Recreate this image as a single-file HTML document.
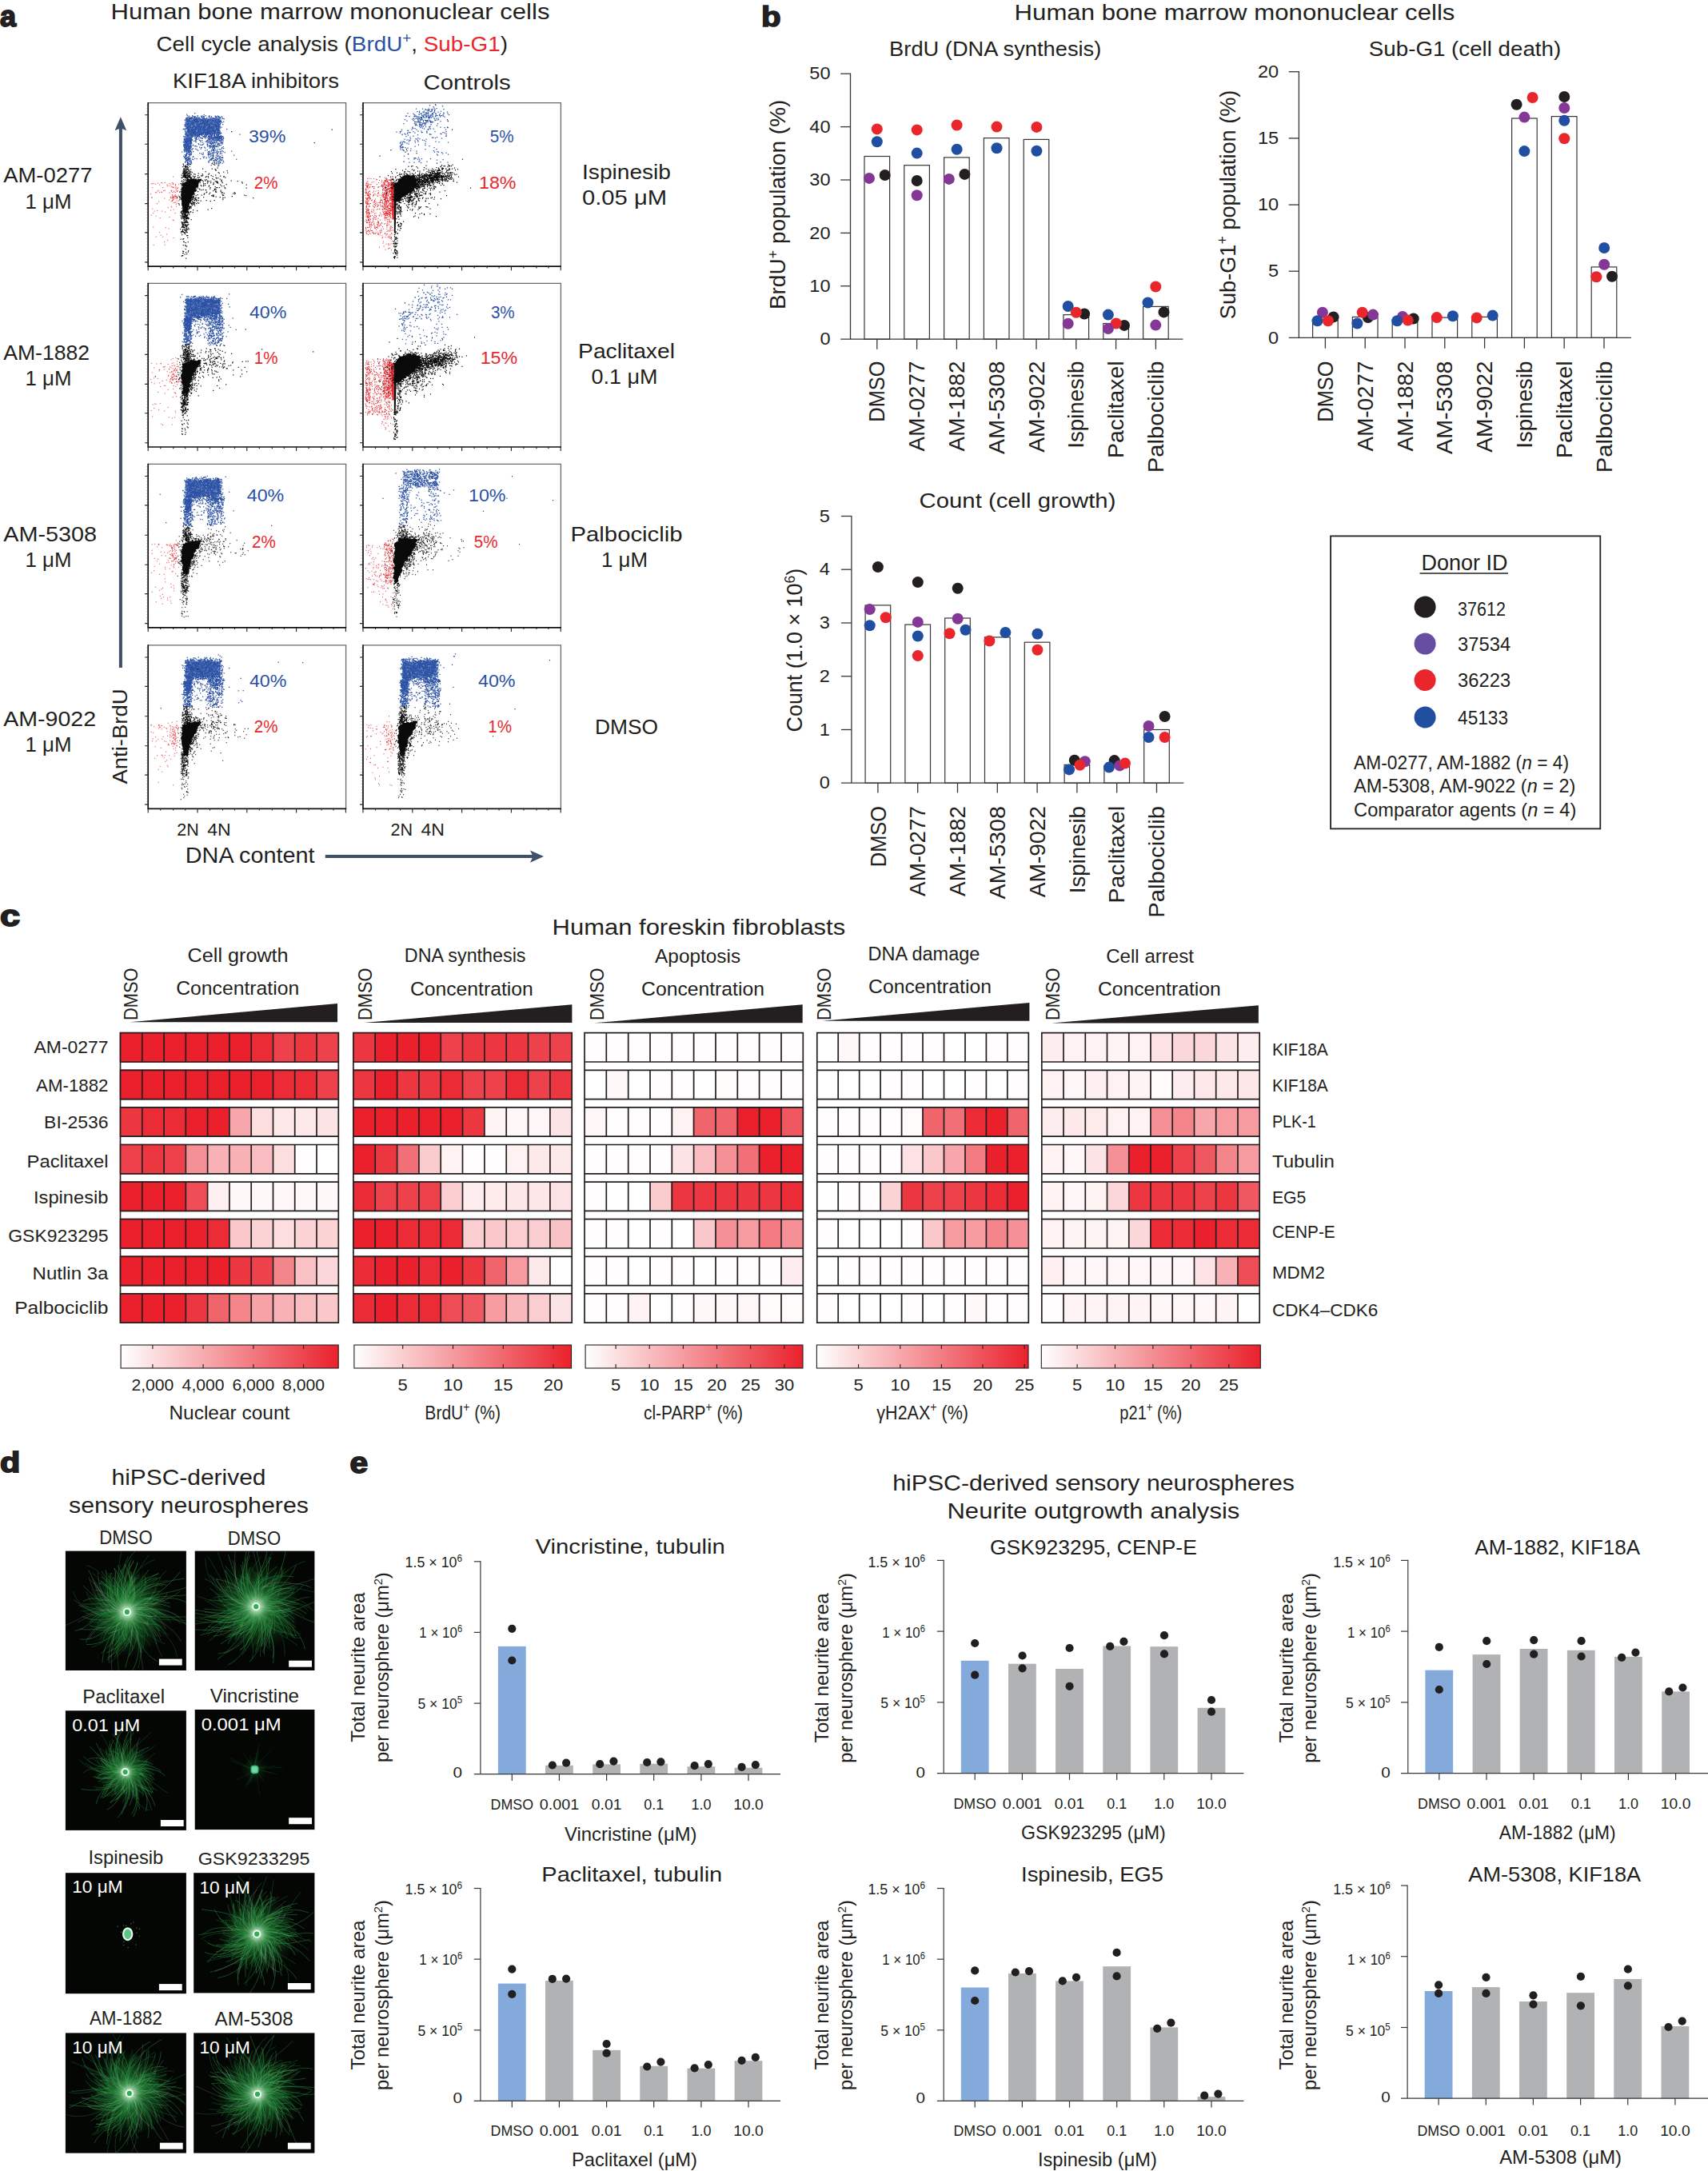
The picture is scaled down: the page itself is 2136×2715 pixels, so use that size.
<!DOCTYPE html>
<html><head><meta charset="utf-8"><title>Figure</title>
<style>html,body{margin:0;padding:0;background:#fff}svg{display:block}text{font-family:"Liberation Sans",sans-serif;fill:#231f20}</style>
</head><body>
<svg width="2136" height="2715" viewBox="0 0 2136 2715">
<rect width="2136" height="2715" fill="#fff"/>
<text transform="translate(0.0 32.7)" font-size="36" font-weight="bold" stroke="#231f20" stroke-width="1.8">a</text>
<text transform="translate(413.0 23.7) scale(1.090 1)" font-size="28.5" text-anchor="middle">Human bone marrow mononuclear cells</text>
<text transform="translate(195.5 64.3) scale(1.071 1)" font-size="26">Cell cycle analysis (<tspan fill="#2a50a4">BrdU</tspan><tspan fill="#2a50a4" dy="-10" font-size="68%">+</tspan><tspan dy="10">, </tspan><tspan fill="#e8262c">Sub-G1</tspan>)</text>
<text transform="translate(216.0 110.1) scale(1.059 1)" font-size="26">KIF18A inhibitors</text>
<text transform="translate(529.6 111.7) scale(1.126 1)" font-size="26">Controls</text>
<text transform="translate(4.2 228.2) scale(1.054 1)" font-size="26">AM-0277</text>
<text transform="translate(60.5 260.6) scale(0.994 1)" font-size="26" text-anchor="middle">1 μM</text>
<text transform="translate(4.2 449.5) scale(1.024 1)" font-size="26">AM-1882</text>
<text transform="translate(60.5 481.9) scale(0.994 1)" font-size="26" text-anchor="middle">1 μM</text>
<text transform="translate(4.2 677.0) scale(1.109 1)" font-size="26">AM-5308</text>
<text transform="translate(60.5 709.4) scale(0.994 1)" font-size="26" text-anchor="middle">1 μM</text>
<text transform="translate(4.2 907.8) scale(1.099 1)" font-size="26">AM-9022</text>
<text transform="translate(60.5 940.2) scale(0.994 1)" font-size="26" text-anchor="middle">1 μM</text>
<text transform="translate(783.5 224.0) scale(1.081 1)" font-size="26" text-anchor="middle">Ispinesib</text>
<text transform="translate(781.0 256.4) scale(1.122 1)" font-size="26" text-anchor="middle">0.05 μM</text>
<text transform="translate(783.5 447.9) scale(1.087 1)" font-size="26" text-anchor="middle">Paclitaxel</text>
<text transform="translate(781.0 480.3) scale(1.037 1)" font-size="26" text-anchor="middle">0.1 μM</text>
<text transform="translate(783.5 677.0) scale(1.126 1)" font-size="26" text-anchor="middle">Palbociclib</text>
<text transform="translate(781.0 709.4) scale(0.994 1)" font-size="26" text-anchor="middle">1 μM</text>
<text transform="translate(783.5 918.3) scale(1.013 1)" font-size="26" text-anchor="middle">DMSO</text>
<line x1="150.9" y1="158.0" x2="150.9" y2="835.0" stroke="#3e5168" stroke-width="4.0"/>
<path d="M150.9 146.3L158.2 163.2L150.9 160.2L143.6 163.2Z" fill="#3e5168"/>
<line x1="406.8" y1="1071.1" x2="667.0" y2="1071.1" stroke="#3e5168" stroke-width="4.0"/>
<path d="M680 1071.1L663 1078.7L666.5 1071.1L663 1063.5Z" fill="#3e5168"/>
<text transform="translate(159.1 921.0) rotate(-90) scale(1.056 1)" font-size="26" text-anchor="middle">Anti-BrdU</text>
<text transform="translate(231.8 1079.0) scale(1.068 1)" font-size="27">DNA content</text>
<text transform="translate(221.3 1044.8) scale(0.956 1)" font-size="22.5">2N</text>
<text transform="translate(259.2 1044.8) scale(1.026 1)" font-size="22.5">4N</text>
<text transform="translate(488.5 1044.8) scale(0.956 1)" font-size="22.5">2N</text>
<text transform="translate(526.4 1044.8) scale(1.026 1)" font-size="22.5">4N</text>
<rect x="185.2" y="128.6" width="247.4" height="204.6" fill="#fff"/>
<polygon points="234.0,148.8 234.8,149.0 237.4,147.3 240.6,147.1 241.0,149.7 243.8,148.3 244.8,147.2 246.4,148.9 249.5,148.7 251.9,148.4 254.5,148.2 255.2,147.2 256.8,148.4 260.7,148.1 260.2,149.6 262.3,149.8 264.0,149.9 266.5,147.2 268.8,147.3 270.7,149.7 272.7,147.1 274.2,149.7 276.6,150.0 275.7,151.2 276.2,155.1 275.5,155.4 275.4,159.4 274.6,161.7 274.6,162.2 276.5,165.3 277.5,167.9 275.3,165.9 272.5,167.6 269.6,167.6 268.2,168.6 264.4,167.1 263.0,167.6 262.9,166.6 258.9,168.5 257.8,167.9 255.5,167.0 253.4,168.7 251.8,170.1 250.8,169.1 246.6,169.8 245.2,169.9 242.3,170.2 241.7,169.4 241.8,170.4 240.0,173.3 238.6,175.6 238.8,177.9 237.5,181.2 239.8,182.2 238.8,183.2 238.2,185.1 237.0,188.1 235.5,189.8 232.5,189.4 230.6,187.8 232.5,185.2 232.3,183.1 230.7,181.5 232.1,180.2 230.6,177.8 232.7,175.8 231.6,173.3 231.4,171.6 232.2,171.6 231.7,168.8 231.1,167.3 231.5,165.5 233.9,163.3 232.6,159.4 232.6,157.1 233.1,157.5 232.0,153.4 234.2,153.7 232.6,149.5" fill="#2a50a4" opacity="0.7"/>
<path transform="translate(185.2 128.6) scale(.5)" d="M0 0m117 26h0m-20 3h0m43 1h0m-42 2h0m13 0h0m13 0h0m20 0h0m-42 1h0m31 0h0m3 0h0m16 0h0m1 0h0m1 0h0m14 0h0m6 0h0m-62 1h0m4 0h0m17 0h0m6 0h0m20 0h0m10 0h0m8 0h0m7 0h0m-80 1h0m12 0h0m1 0h0m1 0h0m1 0h0m5 0h0m15 0h0m2 0h0m13 0h0m18 0h0m4 0h0m-76 1h0m10 0h0m4 0h0m21 0h0m34 0h0m2 0h0m8 0h0m-81 1h0m8 0h0m3 0h0m6 0h0m2 0h0m5 0h0m4 0h0m3 0h0m5 0h0m2 0h0m1 0h0m10 0h0m5 0h0m6 0h0m12 0h0m6 0h0m5 0h0m5 0h0m-90 1h0m1 0h0m5 0h0m5 0h0m3 0h0m10 0h0m1 0h0m6 0h0m13 0h0m18 0h0m3 0h0m1 0h0m20 0h0m-87 1h0m8 0h0m1 0h0m1 0h0m2 0h0m2 0h0m1 0h0m45 0h0m1 0h0m8 0h0m3 0h0m7 0h0m5 0h0m-81 1h0m10 0h0m5 0h0m1 0h0m2 0h0m3 0h0m3 0h0m2 0h0m1 0h0m3 0h0m3 0h0m6 0h0m2 0h0m2 0h0m1 0h0m2 0h0m1 0h0m1 0h0m10 0h0m8 0h0m2 0h0m1 0h0m3 0h0m1 0h0m3 0h0m13 0h0m3 0h0m-95 1h0m2 0h0m1 0h0m3 0h0m2 0h0m1 0h0m11 0h0m5 0h0m1 0h0m30 0h0m1 0h0m7 0h0m11 0h0m4 0h0m2 0h0m3 0h0m-75 1h0m10 0h0m2 0h0m1 0h0m3 0h0m2 0h0m4 0h0m1 0h0m1 0h0m5 0h0m2 0h0m15 0h0m4 0h0m2 0h0m21 0h0m-85 1h0m6 0h0m1 0h0m16 0h0m7 0h0m9 0h0m3 0h0m1 0h0m1 0h0m4 0h0m4 0h0m5 0h0m7 0h0m1 0h0m5 0h0m7 0h0m1 0h0m12 0h0m-88 1h0m9 0h0m9 0h0m2 0h0m5 0h0m17 0h0m1 0h0m1 0h0m5 0h0m1 0h0m7 0h0m10 0h0m1 0h0m2 0h0m1 0h0m5 0h0m6 0h0m-80 1h0m4 0h0m15 0h0m2 0h0m1 0h0m3 0h0m2 0h0m1 0h0m10 0h0m1 0h0m3 0h0m10 0h0m2 0h0m1 0h0m1 0h0m6 0h0m4 0h0m6 0h0m2 0h0m4 0h0m5 0h0m-81 1h0m2 0h0m3 0h0m2 0h0m5 0h0m6 0h0m2 0h0m4 0h0m3 0h0m2 0h0m3 0h0m1 0h0m3 0h0m6 0h0m3 0h0m3 0h0m2 0h0m1 0h0m12 0h0m3 0h0m4 0h0m7 0h0m2 0h0m5 0h0m-77 1h0m3 0h0m11 0h0m2 0h0m2 0h0m1 0h0m2 0h0m11 0h0m9 0h0m4 0h0m5 0h0m17 0h0m5 0h0m3 0h0m3 0h0m6 0h0m-95 1h0m3 0h0m3 0h0m6 0h0m5 0h0m2 0h0m1 0h0m5 0h0m3 0h0m1 0h0m14 0h0m3 0h0m6 0h0m1 0h0m2 0h0m5 0h0m13 0h0m3 0h0m9 0h0m1 0h0m2 0h0m-88 1h0m5 0h0m10 0h0m5 0h0m4 0h0m5 0h0m16 0h0m4 0h0m3 0h0m1 0h0m2 0h0m10 0h0m1 0h0m6 0h0m1 0h0m4 0h0m1 0h0m4 0h0m9 0h0m-72 1h0m1 0h0m4 0h0m6 0h0m1 0h0m6 0h0m4 0h0m1 0h0m6 0h0m14 0h0m1 0h0m4 0h0m-67 1h0m1 0h0m7 0h0m6 0h0m3 0h0m11 0h0m12 0h0m1 0h0m1 0h0m3 0h0m5 0h0m3 0h0m2 0h0m7 0h0m5 0h0m11 0h0m1 0h0m3 0h0m-78 1h0m3 0h0m2 0h0m10 0h0m2 0h0m7 0h0m8 0h0m2 0h0m2 0h0m1 0h0m4 0h0m1 0h0m12 0h0m6 0h0m1 0h0m15 0h0m7 0h0m-84 1h0m1 0h0m1 0h0m2 0h0m6 0h0m3 0h0m2 0h0m10 0h0m4 0h0m1 0h0m1 0h0m12 0h0m1 0h0m1 0h0m1 0h0m1 0h0m1 0h0m7 0h0m5 0h0m8 0h0m3 0h0m6 0h0m-82 1h0m2 0h0m3 0h0m7 0h0m3 0h0m6 0h0m8 0h0m5 0h0m1 0h0m1 0h0m1 0h0m1 0h0m4 0h0m8 0h0m4 0h0m3 0h0m5 0h0m6 0h0m2 0h0m3 0h0m11 0h0m11 0h0m-95 1h0m5 0h0m2 0h0m8 0h0m4 0h0m17 0h0m1 0h0m6 0h0m6 0h0m6 0h0m1 0h0m1 0h0m3 0h0m14 0h0m2 0h0m3 0h0m2 0h0m4 0h0m3 0h0m-66 1h0m9 0h0m1 0h0m29 0h0m1 0h0m1 0h0m12 0h0m2 0h0m1 0h0m1 0h0m6 0h0m-83 1h0m8 0h0m1 0h0m1 0h0m12 0h0m8 0h0m3 0h0m2 0h0m10 0h0m3 0h0m3 0h0m2 0h0m2 0h0m3 0h0m12 0h0m8 0h0m-80 1h0m3 0h0m10 0h0m9 0h0m11 0h0m8 0h0m8 0h0m13 0h0m15 0h0m2 0h0m1 0h0m1 0h0m3 0h0m-82 1h0m5 0h0m1 0h0m1 0h0m5 0h0m15 0h0m5 0h0m6 0h0m1 0h0m1 0h0m8 0h0m1 0h0m9 0h0m2 0h0m4 0h0m1 0h0m6 0h0m7 0h0m7 0h0m-80 1h0m6 0h0m8 0h0m3 0h0m2 0h0m4 0h0m1 0h0m5 0h0m1 0h0m3 0h0m5 0h0m3 0h0m11 0h0m2 0h0m2 0h0m5 0h0m1 0h0m2 0h0m6 0h0m2 0h0m4 0h0m1 0h0m2 0h0m2 0h0m-83 1h0m3 0h0m3 0h0m2 0h0m5 0h0m8 0h0m2 0h0m2 0h0m5 0h0m1 0h0m6 0h0m1 0h0m7 0h0m1 0h0m8 0h0m4 0h0m8 0h0m4 0h0m17 0h0m-88 1h0m5 0h0m5 0h0m1 0h0m5 0h0m1 0h0m6 0h0m1 0h0m1 0h0m1 0h0m11 0h0m5 0h0m3 0h0m2 0h0m7 0h0m1 0h0m2 0h0m4 0h0m1 0h0m1 0h0m3 0h0m1 0h0m13 0h0m-78 1h0m25 0h0m2 0h0m5 0h0m1 0h0m10 0h0m6 0h0m2 0h0m6 0h0m3 0h0m2 0h0m1 0h0m2 0h0m8 0h0m1 0h0m4 0h0m5 0h0m-87 1h0m3 0h0m6 0h0m7 0h0m8 0h0m2 0h0m5 0h0m5 0h0m6 0h0m1 0h0m1 0h0m1 0h0m1 0h0m10 0h0m5 0h0m1 0h0m3 0h0m2 0h0m4 0h0m8 0h0m4 0h0m-87 1h0m5 0h0m5 0h0m10 0h0m11 0h0m6 0h0m5 0h0m5 0h0m12 0h0m3 0h0m8 0h0m4 0h0m9 0h0m-85 1h0m13 0h0m2 0h0m6 0h0m4 0h0m1 0h0m1 0h0m1 0h0m2 0h0m3 0h0m5 0h0m2 0h0m2 0h0m8 0h0m4 0h0m1 0h0m1 0h0m5 0h0m6 0h0m15 0h0m1 0h0m4 0h0m1 0h0m21 0h0m-105 1h0m14 0h0m2 0h0m5 0h0m6 0h0m1 0h0m1 0h0m16 0h0m3 0h0m1 0h0m2 0h0m3 0h0m1 0h0m1 0h0m3 0h0m4 0h0m6 0h0m13 0h0m-81 1h0m6 0h0m1 0h0m1 0h0m2 0h0m7 0h0m3 0h0m5 0h0m1 0h0m7 0h0m7 0h0m6 0h0m6 0h0m3 0h0m7 0h0m5 0h0m3 0h0m2 0h0m4 0h0m4 0h0m4 0h0m2 0h0m-80 1h0m1 0h0m1 0h0m1 0h0m6 0h0m4 0h0m1 0h0m3 0h0m9 0h0m3 0h0m2 0h0m1 0h0m3 0h0m8 0h0m5 0h0m1 0h0m1 0h0m5 0h0m1 0h0m1 0h0m5 0h0m1 0h0m5 0h0m2 0h0m5 0h0m1 0h0m2 0h0m-79 1h0m5 0h0m9 0h0m4 0h0m9 0h0m13 0h0m4 0h0m6 0h0m4 0h0m1 0h0m1 0h0m2 0h0m2 0h0m2 0h0m1 0h0m2 0h0m2 0h0m10 0h0m-82 1h0m6 0h0m6 0h0m4 0h0m2 0h0m1 0h0m1 0h0m3 0h0m2 0h0m8 0h0m1 0h0m3 0h0m11 0h0m7 0h0m2 0h0m1 0h0m3 0h0m5 0h0m1 0h0m6 0h0m3 0h0m-76 1h0m7 0h0m2 0h0m1 0h0m1 0h0m1 0h0m2 0h0m1 0h0m5 0h0m1 0h0m3 0h0m2 0h0m6 0h0m8 0h0m5 0h0m1 0h0m9 0h0m1 0h0m2 0h0m3 0h0m9 0h0m2 0h0m1 0h0m1 0h0m2 0h0m-69 1h0m7 0h0m4 0h0m3 0h0m1 0h0m1 0h0m10 0h0m13 0h0m1 0h0m2 0h0m1 0h0m1 0h0m1 0h0m4 0h0m1 0h0m3 0h0m4 0h0m11 0h0m5 0h0m2 0h0m3 0h0m1 0h0m-79 1h0m2 0h0m11 0h0m1 0h0m3 0h0m5 0h0m1 0h0m5 0h0m1 0h0m5 0h0m4 0h0m7 0h0m2 0h0m3 0h0m2 0h0m6 0h0m9 0h0m7 0h0m-79 1h0m14 0h0m5 0h0m1 0h0m6 0h0m4 0h0m4 0h0m2 0h0m2 0h0m5 0h0m4 0h0m1 0h0m2 0h0m1 0h0m5 0h0m1 0h0m2 0h0m5 0h0m1 0h0m5 0h0m12 0h0m1 0h0m-74 1h0m2 0h0m1 0h0m1 0h0m3 0h0m2 0h0m3 0h0m2 0h0m1 0h0m13 0h0m4 0h0m1 0h0m1 0h0m7 0h0m1 0h0m1 0h0m1 0h0m1 0h0m3 0h0m5 0h0m14 0h0m11 0h0m1 0h0m-87 1h0m10 0h0m6 0h0m2 0h0m4 0h0m1 0h0m3 0h0m11 0h0m1 0h0m4 0h0m1 0h0m4 0h0m8 0h0m1 0h0m1 0h0m9 0h0m4 0h0m2 0h0m5 0h0m3 0h0m2 0h0m3 0h0m-76 1h0m2 0h0m9 0h0m3 0h0m8 0h0m3 0h0m3 0h0m1 0h0m3 0h0m1 0h0m6 0h0m4 0h0m2 0h0m1 0h0m3 0h0m1 0h0m2 0h0m3 0h0m2 0h0m16 0h0m2 0h0m-87 1h0m2 0h0m1 0h0m4 0h0m5 0h0m4 0h0m6 0h0m3 0h0m5 0h0m3 0h0m1 0h0m2 0h0m2 0h0m1 0h0m6 0h0m4 0h0m1 0h0m18 0h0m4 0h0m7 0h0m3 0h0m55 0h0m-131 1h0m10 0h0m2 0h0m7 0h0m5 0h0m4 0h0m3 0h0m4 0h0m10 0h0m2 0h0m1 0h0m2 0h0m7 0h0m1 0h0m1 0h0m8 0h0m5 0h0m1 0h0m5 0h0m-74 1h0m5 0h0m1 0h0m1 0h0m2 0h0m8 0h0m3 0h0m2 0h0m3 0h0m13 0h0m6 0h0m5 0h0m1 0h0m5 0h0m1 0h0m1 0h0m6 0h0m1 0h0m6 0h0m-75 1h0m2 0h0m2 0h0m5 0h0m10 0h0m1 0h0m6 0h0m1 0h0m10 0h0m23 0h0m3 0h0m4 0h0m9 0h0m3 0h0m5 0h0m-85 1h0m1 0h0m4 0h0m6 0h0m4 0h0m11 0h0m1 0h0m2 0h0m2 0h0m15 0h0m3 0h0m8 0h0m3 0h0m8 0h0m1 0h0m5 0h0m2 0h0m2 0h0m7 0h0m1 0h0m-94 1h0m3 0h0m7 0h0m11 0h0m5 0h0m11 0h0m11 0h0m3 0h0m6 0h0m5 0h0m2 0h0m1 0h0m4 0h0m1 0h0m1 0h0m6 0h0m2 0h0m7 0h0m3 0h0m1 0h0m1 0h0m6 0h0m-67 1h0m2 0h0m1 0h0m2 0h0m5 0h0m10 0h0m3 0h0m2 0h0m7 0h0m3 0h0m1 0h0m4 0h0m8 0h0m1 0h0m9 0h0m2 0h0m2 0h0m2 0h0m5 0h0m-96 1h0m13 0h0m15 0h0m32 0h0m2 0h0m5 0h0m5 0h0m3 0h0m2 0h0m2 0h0m2 0h0m2 0h0m3 0h0m5 0h0m2 0h0m-85 1h0m10 0h0m7 0h0m14 0h0m11 0h0m6 0h0m5 0h0m4 0h0m1 0h0m4 0h0m1 0h0m4 0h0m2 0h0m1 0h0m2 0h0m7 0h0m6 0h0m-84 1h0m1 0h0m4 0h0m1 0h0m14 0h0m11 0h0m2 0h0m22 0h0m4 0h0m2 0h0m1 0h0m2 0h0m1 0h0m1 0h0m1 0h0m2 0h0m1 0h0m1 0h0m1 0h0m2 0h0m1 0h0m1 0h0m2 0h0m1 0h0m3 0h0m6 0h0m-99 1h0m5 0h0m2 0h0m1 0h0m1 0h0m6 0h0m1 0h0m1 0h0m1 0h0m19 0h0m17 0h0m7 0h0m7 0h0m1 0h0m1 0h0m4 0h0m2 0h0m3 0h0m10 0h0m2 0h0m1 0h0m-88 1h0m4 0h0m8 0h0m12 0h0m3 0h0m31 0h0m2 0h0m6 0h0m3 0h0m11 0h0m5 0h0m3 0h0m1 0h0m5 0h0m-97 1h0m3 0h0m4 0h0m4 0h0m1 0h0m1 0h0m3 0h0m1 0h0m12 0h0m3 0h0m28 0h0m2 0h0m1 0h0m1 0h0m1 0h0m7 0h0m7 0h0m2 0h0m3 0h0m2 0h0m2 0h0m4 0h0m2 0h0m2 0h0m-96 1h0m2 0h0m2 0h0m4 0h0m2 0h0m4 0h0m3 0h0m1 0h0m1 0h0m44 0h0m7 0h0m5 0h0m12 0h0m7 0h0m-95 1h0m1 0h0m4 0h0m11 0h0m3 0h0m2 0h0m9 0h0m8 0h0m21 0h0m5 0h0m6 0h0m3 0h0m5 0h0m4 0h0m4 0h0m8 0h0m-94 1h0m7 0h0m5 0h0m1 0h0m3 0h0m1 0h0m3 0h0m8 0h0m12 0h0m5 0h0m39 0h0m7 0h0m3 0h0m-92 1h0m1 0h0m3 0h0m4 0h0m1 0h0m2 0h0m2 0h0m1 0h0m1 0h0m1 0h0m23 0h0m16 0h0m2 0h0m3 0h0m4 0h0m2 0h0m6 0h0m3 0h0m3 0h0m2 0h0m5 0h0m1 0h0m2 0h0m5 0h0m3 0h0m-95 1h0m2 0h0m3 0h0m2 0h0m1 0h0m6 0h0m8 0h0m34 0h0m8 0h0m15 0h0m-76 1h0m1 0h0m1 0h0m1 0h0m1 0h0m5 0h0m2 0h0m12 0h0m1 0h0m24 0h0m2 0h0m1 0h0m5 0h0m6 0h0m1 0h0m3 0h0m18 0h0m-92 1h0m3 0h0m2 0h0m1 0h0m1 0h0m1 0h0m1 0h0m4 0h0m5 0h0m3 0h0m11 0h0m12 0h0m22 0h0m12 0h0m18 0h0m-94 1h0m3 0h0m1 0h0m1 0h0m1 0h0m2 0h0m7 0h0m1 0h0m3 0h0m28 0h0m30 0h0m4 0h0m1 0h0m10 0h0m-89 1h0m3 0h0m11 0h0m43 0h0m6 0h0m5 0h0m1 0h0m1 0h0m1 0h0m3 0h0m1 0h0m16 0h0m1 0h0m2 0h0m-91 1h0m1 0h0m1 0h0m6 0h0m44 0h0m6 0h0m4 0h0m4 0h0m12 0h0m3 0h0m-76 1h0m5 0h0m3 0h0m17 0h0m30 0h0m2 0h0m2 0h0m3 0h0m19 0h0m-92 1h0m2 0h0m6 0h0m9 0h0m32 0h0m20 0h0m10 0h0m6 0h0m1 0h0m2 0h0m8 0h0m-96 1h0m1 0h0m3 0h0m6 0h0m6 0h0m21 0h0m9 0h0m12 0h0m1 0h0m-60 1h0m3 0h0m4 0h0m6 0h0m11 0h0m18 0h0m27 0h0m7 0h0m8 0h0m-81 1h0m2 0h0m5 0h0m8 0h0m28 0h0m13 0h0m14 0h0m13 0h0m3 0h0m4 0h0m-93 1h0m3 0h0m8 0h0m12 0h0m40 0h0m2 0h0m2 0h0m7 0h0m4 0h0m12 0h0m-88 1h0m4 0h0m1 0h0m2 0h0m6 0h0m2 0h0m2 0h0m9 0h0m2 0h0m34 0h0m3 0h0m6 0h0m4 0h0m4 0h0m-76 1h0m3 0h0m3 0h0m6 0h0m16 0h0m27 0h0m5 0h0m4 0h0m1 0h0m4 0h0m1 0h0m1 0h0m3 0h0m4 0h0m-82 1h0m12 0h0m1 0h0m2 0h0m66 0h0m4 0h0m13 0h0m-97 1h0m2 0h0m2 0h0m1 0h0m1 0h0m5 0h0m5 0h0m1 0h0m21 0h0m12 0h0m15 0h0m4 0h0m2 0h0m1 0h0m1 0h0m-71 1h0m8 0h0m2 0h0m30 0h0m1 0h0m32 0h0m19 0h0m-94 1h0m4 0h0m1 0h0m7 0h0m4 0h0m36 0h0m11 0h0m1 0h0m30 0h0m-85 1h0m2 0h0m1 0h0m2 0h0m7 0h0m49 0h0m5 0h0m1 0h0m22 0h0m-97 1h0m1 0h0m3 0h0m1 0h0m4 0h0m3 0h0m1 0h0m14 0h0m13 0h0m52 0h0m-91 1h0m5 0h0m6 0h0m1 0h0m58 0h0m2 0h0m13 0h0m-88 1h0m6 0h0m1 0h0m1 0h0m4 0h0m4 0h0m3 0h0m2 0h0m11 0h0m42 0h0m9 0h0m8 0h0m-90 1h0m57 0h0m11 0h0m1 0h0m3 0h0m5 0h0m-78 1h0m6 0h0m2 0h0m3 0h0m24 0h0m18 0h0m-48 1h0m7 0h0m2 0h0m1 0h0m1 0h0m57 0h0m2 0h0m7 0h0m14 0h0m-94 1h0m3 0h0m6 0h0m1 0h0m53 0h0m4 0h0m6 0h0m18 0h0m26 0h0m-108 1h0m3 0h0m2 0h0m1 0h0m1 0h0m5 0h0m38 0h0m23 0h0m6 0h0m8 0h0m-103 1h0m6 0h0m6 0h0m1 0h0m3 0h0m52 0h0m17 0h0m6 0h0m-79 1h0m5 0h0m1 0h0m1 0h0m60 0h0m28 0h0m-91 1h0m7 0h0m1 0h0m29 0h0m12 0h0m4 0h0m7 0h0m6 0h0m5 0h0m9 0h0m-85 1h0m2 0h0m31 0h0m29 0h0m3 0h0m2 0h0m11 0h0m10 0h0m-88 1h0m1 0h0m8 0h0m3 0h0m25 0h0m18 0h0m5 0h0m18 0h0m-72 1h0m3 0h0m68 0h0m7 0h0m-83 1h0m8 0h0m1 0h0m30 0h0m2 0h0m12 0h0m3 0h0m10 0h0m-71 1h0m3 0h0m2 0h0m5 0h0m1 0h0m5 0h0m42 0h0m5 0h0m8 0h0m-68 1h0m56 0h0m7 0h0m3 0h0m9 0h0m4 0h0m11 0h0m30 0h0m-120 1h0m10 0h0m58 0h0m-70 1h0m3 0h0m68 0h0m10 0h0m3 0h0m-88 1h0m4 0h0m1 0h0m8 0h0m11 0h0m44 0h0m5 0h0m11 0h0m7 0h0m-87 1h0m10 0h0m35 0h0m3 0h0m11 0h0m-61 1h0m7 0h0m14 0h0m57 0h0m11 0h0m5 0h0m-93 1h0m8 0h0m1 0h0m45 0h0m7 0h0m18 0h0m7 0h0m6 0h0m3 0h0m-92 1h0m2 0h0m5 0h0m37 0h0m7 0h0m15 0h0m25 0h0m-92 1h0m1 0h0m8 0h0m3 0h0m11 0h0m41 0h0m6 0h0m11 0h0m3 0h0m3 0h0m-88 1h0m2 0h0m1 0h0m5 0h0m1 0h0m1 0h0m1 0h0m18 0h0m9 0h0m29 0h0m1 0h0m12 0h0m-79 1h0m4 0h0m13 0h0m45 0h0m3 0h0m9 0h0m2 0h0m51 0h0m-122 1h0m1 0h0m1 0h0m1 0h0m11 0h0m43 0h0m12 0h0m6 0h0m6 0h0m5 0h0m-90 1h0m9 0h0m2 0h0m49 0h0m3 0h0m1 0h0m23 0h0m-86 1h0m1 0h0m1 0h0m2 0h0m65 0h0m1 0h0m4 0h0m14 0h0m-89 1h0m13 0h0m45 0h0m10 0h0m16 0h0m9 0h0m-86 1h0m72 0h0m3 0h0m-83 1h0m4 0h0m6 0h0m2 0h0m45 0h0m-58 1h0m5 0h0m10 0h0m72 0h0m1 0h0m8 0h0m-96 1h0m6 0h0m9 0h0m44 0h0m-53 1h0m63 0h0m9 0h0m5 0h0m5 0h0m-80 1h0m1 0h0m4 0h0m3 0h0m63 0h0m6 0h0m8 0h0m-88 2h0m4 0h0m1 0h0m69 0h0m5 0h0m-77 1h0m7 0h0m-13 2h0m64 0h0m19 0h0" stroke="#2a50a4" stroke-width="2.5" stroke-linecap="square" fill="none"/>
<polygon points="228.2,228.1 229.3,228.9 231.6,227.7 233.9,227.4 234.3,225.4 237.2,224.8 238.3,225.0 239.8,225.0 241.0,225.0 242.5,224.5 245.6,224.3 247.1,225.1 247.8,223.5 249.7,223.9 252.1,223.6 251.6,226.0 250.7,227.2 248.8,228.0 248.2,231.2 248.1,232.3 248.4,233.3 246.5,233.9 244.6,236.1 245.5,238.5 244.0,239.9 242.7,239.6 243.1,242.2 240.7,244.7 240.0,244.4 241.0,247.1 239.7,247.9 237.9,249.8 239.2,252.1 238.2,252.3 236.6,255.4 236.9,256.7 235.6,259.3 235.5,260.3 236.0,261.6 234.6,263.6 235.1,264.6 234.7,265.9 232.6,265.7 231.6,266.2 230.6,266.5 229.8,263.7 228.0,261.3 229.2,261.5 228.1,258.5 227.6,257.5 227.1,256.4 227.1,254.0 227.2,253.1 227.1,250.9 225.9,247.8 226.7,247.4 227.2,246.0 226.0,243.0 226.7,241.4 226.5,240.5 227.6,238.0 226.5,237.9 226.8,234.6 228.6,233.6 227.4,231.3 227.3,230.2" fill="#0a0a0a"/>
<path transform="translate(185.2 128.6) scale(.5)" d="M0 0m460 67h0m-251 5h0m-73 17h0m280 11h0m-254 37h0m8 8h0m-4 3h0m-67 2h0m68 1h0m-7 1h0m-72 1h0m0 1h0m10 0h0m7 0h0m59 0h0m3 1h0m-67 1h0m-11 1h0m5 1h0m81 0h0m-83 1h0m1 0h0m1 0h0m4 0h0m6 0h0m-17 1h0m5 0h0m4 0h0m-2 1h0m1 0h0m4 0h0m-4 1h0m5 0h0m0 1h0m74 0h0m-84 1h0m0 1h0m3 0h0m3 0h0m3 0h0m38 0h0m23 0h0m-71 1h0m9 0h0m1 0h0m69 0h0m-73 1h0m3 0h0m4 0h0m5 0h0m-16 1h0m10 0h0m68 0h0m-81 1h0m3 0h0m2 0h0m77 0h0m-78 1h0m4 0h0m6 0h0m96 0h0m-107 1h0m11 0h0m2 0h0m-16 1h0m5 0h0m5 0h0m9 0h0m37 0h0m-54 1h0m5 0h0m4 0h0m90 0h0m-101 1h0m2 0h0m1 0h0m6 0h0m8 0h0m5 0h0m66 0h0m-85 1h0m3 0h0m2 0h0m1 0h0m5 0h0m97 0h0m-108 1h0m4 0h0m6 0h0m77 0h0m-92 1h0m1 0h0m1 0h0m3 0h0m1 0h0m1 0h0m7 0h0m4 0h0m1 0h0m21 0h0m27 0h0m-64 1h0m1 0h0m1 0h0m2 0h0m1 0h0m5 0h0m1 0h0m4 0h0m11 0h0m21 0h0m-45 1h0m6 0h0m3 0h0m4 0h0m4 0h0m10 0h0m33 0h0m-61 1h0m1 0h0m1 0h0m1 0h0m7 0h0m-16 1h0m8 0h0m5 0h0m8 0h0m32 0h0m32 0h0m-81 1h0m1 0h0m1 0h0m1 0h0m1 0h0m2 0h0m1 0h0m4 0h0m1 0h0m3 0h0m2 0h0m20 0h0m8 0h0m25 0h0m-68 1h0m1 0h0m3 0h0m11 0h0m7 0h0m23 0h0m46 0h0m-92 1h0m3 0h0m1 0h0m7 0h0m2 0h0m16 0h0m28 0h0m4 0h0m12 0h0m28 0h0m-104 1h0m9 0h0m1 0h0m1 0h0m6 0h0m1 0h0m11 0h0m74 0h0m-100 1h0m1 0h0m2 0h0m2 0h0m2 0h0m2 0h0m2 0h0m1 0h0m5 0h0m9 0h0m14 0h0m15 0h0m-60 1h0m10 0h0m1 0h0m1 0h0m8 0h0m2 0h0m3 0h0m7 0h0m8 0h0m2 0h0m25 0h0m19 0h0m23 0h0m-108 1h0m8 0h0m2 0h0m4 0h0m76 0h0m-69 1h0m2 0h0m1 0h0m62 0h0m-74 1h0m3 0h0m6 0h0m8 0h0m47 0h0m-64 1h0m1 0h0m1 0h0m11 0h0m3 0h0m4 0h0m2 0h0m2 0h0m59 0h0m-91 1h0m4 0h0m7 0h0m2 0h0m3 0h0m3 0h0m1 0h0m2 0h0m2 0h0m2 0h0m17 0h0m14 0h0m19 0h0m-67 1h0m1 0h0m4 0h0m3 0h0m6 0h0m2 0h0m2 0h0m9 0h0m8 0h0m9 0h0m42 0h0m-90 1h0m3 0h0m2 0h0m2 0h0m14 0h0m8 0h0m13 0h0m-51 1h0m5 0h0m9 0h0m7 0h0m6 0h0m4 0h0m2 0h0m26 0h0m5 0h0m34 0h0m25 0h0m-111 1h0m1 0h0m54 0h0m5 0h0m11 0h0m4 0h0m52 0h0m-140 1h0m13 0h0m3 0h0m1 0h0m8 0h0m4 0h0m4 0h0m2 0h0m19 0h0m33 0h0m14 0h0m-97 1h0m7 0h0m6 0h0m7 0h0m1 0h0m9 0h0m2 0h0m4 0h0m14 0h0m11 0h0m25 0h0m61 0h0m-141 1h0m5 0h0m10 0h0m2 0h0m3 0h0m1 0h0m7 0h0m3 0h0m48 0h0m-79 1h0m36 0h0m27 0h0m7 0h0m8 0h0m14 0h0m-94 1h0m5 0h0m14 0h0m2 0h0m36 0h0m26 0h0m61 0h0m-154 1h0m16 0h0m4 0h0m1 0h0m2 0h0m5 0h0m1 0h0m5 0h0m5 0h0m18 0h0m4 0h0m-60 1h0m12 0h0m1 0h0m3 0h0m7 0h0m3 0h0m10 0h0m45 0h0m-69 1h0m3 0h0m8 0h0m1 0h0m1 0h0m4 0h0m7 0h0m44 0h0m33 0h0m-102 1h0m1 0h0m5 0h0m1 0h0m2 0h0m2 0h0m1 0h0m8 0h0m1 0h0m24 0h0m42 0h0m65 0h0m-156 1h0m2 0h0m2 0h0m12 0h0m3 0h0m2 0h0m3 0h0m18 0h0m11 0h0m-59 1h0m13 0h0m1 0h0m9 0h0m1 0h0m10 0h0m3 0h0m1 0h0m1 0h0m30 0h0m-69 1h0m13 0h0m4 0h0m3 0h0m3 0h0m5 0h0m4 0h0m6 0h0m12 0h0m5 0h0m45 0h0m6 0h0m-99 1h0m14 0h0m1 0h0m2 0h0m3 0h0m1 0h0m5 0h0m3 0h0m4 0h0m28 0h0m-57 1h0m5 0h0m7 0h0m2 0h0m2 0h0m12 0h0m45 0h0m-79 1h0m4 0h0m2 0h0m1 0h0m2 0h0m1 0h0m4 0h0m7 0h0m10 0h0m-26 1h0m8 0h0m3 0h0m4 0h0m1 0h0m8 0h0m1 0h0m5 0h0m32 0h0m15 0h0m3 0h0m5 0h0m13 0h0m-101 1h0m6 0h0m5 0h0m1 0h0m3 0h0m1 0h0m3 0h0m7 0h0m7 0h0m122 0h0m-158 1h0m3 0h0m7 0h0m4 0h0m2 0h0m4 0h0m85 0h0m-102 1h0m4 0h0m7 0h0m4 0h0m4 0h0m4 0h0m14 0h0m27 0h0m13 0h0m-71 1h0m6 0h0m4 0h0m2 0h0m1 0h0m11 0h0m45 0h0m-77 1h0m8 0h0m4 0h0m4 0h0m25 0h0m8 0h0m32 0h0m-88 1h0m6 0h0m7 0h0m5 0h0m2 0h0m4 0h0m5 0h0m23 0h0m10 0h0m1 0h0m22 0h0m-82 1h0m5 0h0m10 0h0m2 0h0m3 0h0m1 0h0m1 0h0m7 0h0m68 0h0m-85 1h0m1 0h0m10 0h0m3 0h0m6 0h0m2 0h0m2 0h0m42 0h0m-74 1h0m7 0h0m4 0h0m2 0h0m1 0h0m3 0h0m12 0h0m51 0h0m-87 1h0m8 0h0m1 0h0m3 0h0m6 0h0m1 0h0m2 0h0m2 0h0m2 0h0m7 0h0m1 0h0m10 0h0m57 0h0m-103 1h0m5 0h0m2 0h0m11 0h0m3 0h0m3 0h0m2 0h0m6 0h0m2 0h0m34 0h0m22 0h0m2 0h0m-79 1h0m2 0h0m1 0h0m2 0h0m2 0h0m1 0h0m1 0h0m1 0h0m6 0h0m1 0h0m3 0h0m34 0h0m40 0h0m30 0h0m-129 1h0m3 0h0m4 0h0m4 0h0m2 0h0m5 0h0m6 0h0m44 0h0m29 0h0m-88 1h0m2 0h0m6 0h0m2 0h0m2 0h0m8 0h0m74 0h0m28 0h0m-133 1h0m1 0h0m2 0h0m3 0h0m4 0h0m2 0h0m2 0h0m1 0h0m10 0h0m31 0h0m72 0h0m-114 1h0m1 0h0m2 0h0m3 0h0m2 0h0m6 0h0m40 0h0m64 0h0m-126 1h0m5 0h0m7 0h0m1 0h0m1 0h0m6 0h0m29 0h0m46 0h0m-96 1h0m5 0h0m4 0h0m2 0h0m1 0h0m3 0h0m1 0h0m3 0h0m7 0h0m8 0h0m-28 1h0m1 0h0m3 0h0m7 0h0m27 0h0m28 0h0m2 0h0m25 0h0m52 0h0m-158 1h0m6 0h0m1 0h0m1 0h0m4 0h0m13 0h0m12 0h0m39 0h0m28 0h0m58 0h0m-156 1h0m4 0h0m5 0h0m2 0h0m13 0h0m49 0h0m-84 1h0m9 0h0m5 0h0m2 0h0m1 0h0m2 0h0m1 0h0m2 0h0m1 0h0m2 0h0m11 0h0m49 0h0m1 0h0m46 0h0m-128 1h0m9 0h0m3 0h0m3 0h0m2 0h0m6 0h0m1 0h0m1 0h0m4 0h0m2 0h0m57 0h0m-97 1h0m21 0h0m6 0h0m1 0h0m1 0h0m1 0h0m1 0h0m5 0h0m30 0h0m41 0h0m-101 1h0m16 0h0m3 0h0m3 0h0m1 0h0m7 0h0m4 0h0m1 0h0m5 0h0m73 0h0m-130 1h0m18 0h0m12 0h0m1 0h0m6 0h0m3 0h0m5 0h0m1 0h0m1 0h0m11 0h0m5 0h0m1 0h0m1 0h0m60 0h0m1 0h0m75 0h0m-179 1h0m2 0h0m22 0h0m4 0h0m4 0h0m-18 1h0m1 0h0m1 0h0m1 0h0m5 0h0m5 0h0m7 0h0m-35 1h0m13 0h0m5 0h0m3 0h0m-25 1h0m12 0h0m1 0h0m3 0h0m3 0h0m1 0h0m6 0h0m1 0h0m3 0h0m2 0h0m1 0h0m7 0h0m2 0h0m66 0h0m-101 1h0m4 0h0m1 0h0m2 0h0m3 0h0m6 0h0m4 0h0m3 0h0m6 0h0m-27 1h0m9 0h0m10 0h0m10 0h0m9 0h0m20 0h0m20 0h0m-70 1h0m3 0h0m6 0h0m16 0h0m1 0h0m10 0h0m-39 1h0m4 0h0m1 0h0m4 0h0m4 0h0m4 0h0m46 0h0m-67 1h0m1 0h0m2 0h0m-2 1h0m11 0h0m1 0h0m10 0h0m-6 1h0m9 0h0m2 0h0m-27 1h0m2 0h0m6 0h0m15 0h0m2 0h0m9 0h0m-36 1h0m15 0h0m4 0h0m1 0h0m2 0h0m17 0h0m-50 1h0m17 0h0m3 0h0m3 0h0m2 0h0m5 0h0m2 0h0m12 0h0m-33 1h0m3 0h0m3 0h0m8 0h0m7 0h0m3 0h0m3 0h0m1 0h0m-7 1h0m6 0h0m-37 1h0m33 1h0m-13 1h0m19 0h0m-23 2h0m8 0h0m4 0h0m2 0h0m-19 1h0m5 0h0m1 0h0m4 0h0m4 0h0m2 0h0m-2 1h0m-16 1h0m9 0h0m7 0h0m3 0h0m-10 1h0m8 0h0m4 0h0m-23 1h0m11 0h0m6 0h0m57 0h0m-71 1h0m16 0h0m-14 1h0m8 0h0m3 1h0m49 0h0m-63 1h0m8 0h0m18 0h0m-26 1h0m1 0h0m1 0h0m3 0h0m4 0h0m1 0h0m-11 1h0m4 0h0m2 0h0m5 0h0m26 0h0m-39 1h0m1 0h0m2 0h0m1 0h0m1 0h0m2 0h0m2 0h0m3 0h0m3 0h0m2 0h0m-13 1h0m2 0h0m1 0h0m1 0h0m1 0h0m5 0h0m3 0h0m6 0h0m-25 1h0m2 0h0m5 0h0m4 0h0m1 0h0m2 0h0m4 0h0m6 0h0m-13 1h0m1 0h0m1 0h0m2 0h0m4 0h0m11 0h0m-26 1h0m2 0h0m2 0h0m1 0h0m2 0h0m4 0h0m5 0h0m-19 1h0m10 0h0m1 0h0m6 0h0m3 0h0m-9 1h0m-9 1h0m2 0h0m1 0h0m3 0h0m2 0h0m-7 1h0m7 0h0m6 0h0m-9 1h0m1 0h0m4 0h0m8 0h0m-17 1h0m8 0h0m2 0h0m1 0h0m2 0h0m-17 1h0m10 0h0m5 0h0m1 0h0m-11 1h0m2 0h0m5 0h0m2 0h0m-8 1h0m1 0h0m1 0h0m2 0h0m1 0h0m2 0h0m2 0h0m-13 1h0m2 0h0m1 0h0m2 0h0m3 0h0m1 0h0m3 0h0m-6 1h0m6 0h0m2 0h0m1 0h0m-16 1h0m8 0h0m1 0h0m4 0h0m5 0h0m-14 1h0m7 0h0m1 0h0m1 0h0m-8 1h0m2 0h0m5 0h0m2 0h0m1 0h0m1 0h0m3 0h0m-18 1h0m10 0h0m3 0h0m3 0h0m1 0h0m-11 1h0m2 1h0m16 0h0m-12 1h0m-6 1h0m6 0h0m-2 1h0m1 1h0m-5 1h0m3 0h0m2 0h0m3 0h0m-14 1h0m0 1h0m1 0h0m1 0h0m9 0h0m2 0h0m1 0h0m1 0h0m-11 1h0m3 0h0m2 0h0m7 0h0m-10 1h0m-5 1h0m1 0h0m0 2h0m2 0h0m4 0h0m9 0h0m-15 1h0m8 0h0m1 0h0m3 0h0m-11 1h0m2 0h0m1 0h0m9 0h0m-11 1h0m5 0h0m2 0h0m-1 1h0m3 0h0m-12 1h0m1 0h0m11 0h0m-11 1h0m2 0h0m8 0h0m-9 1h0m3 0h0m2 0h0m5 0h0m-13 1h0m5 0h0m2 0h0m10 1h0m-4 1h0m-4 1h0m-12 1h0m15 0h0m1 0h0m5 0h0m-15 1h0m3 0h0m9 0h0m-13 2h0m6 0h0m2 0h0m2 0h0m-10 1h0m8 0h0m1 1h0m-12 1h0m2 0h0m1 0h0m2 0h0m9 1h0m-9 1h0m3 0h0m3 0h0m4 0h0m-15 1h0m8 1h0m2 2h0m-8 2h0m12 2h0m2 0h0m0 5h0m-10 3h0m-7 1h0m5 0h0m2 6h0m1 1h0m10 0h0m-6 2h0m-6 6h0m5 0h0m1 2h0m3 1h0m-3 7h0m7 4h0m-14 1h0m2 1h0m11 1h0m-5 1h0m-8 2h0m1 0h0m9 2h0m-5 1h0m-6 3h0m1 0h0m-3 1h0m11 6h0" stroke="#0a0a0a" stroke-width="2.3" stroke-linecap="square" fill="none"/>
<path transform="translate(185.2 128.6) scale(.5)" d="M0 0m63 185h0m-30 15h0m9 0h0m18 0h0m-35 1h0m11 0h0m27 0h0m-52 1h0m3 0h0m40 0h0m-46 1h0m11 0h0m43 0h0m1 0h0m6 1h0m8 0h0m-48 1h0m19 0h0m9 0h0m11 0h0m-16 2h0m17 0h0m-21 1h0m10 2h0m2 0h0m4 1h0m6 0h0m-59 1h0m26 0h0m25 0h0m1 0h0m5 1h0m5 0h0m2 0h0m-3 2h0m-2 3h0m-44 1h0m16 0h0m16 0h0m-19 1h0m20 0h0m15 0h0m-50 1h0m34 0h0m7 0h0m7 0h0m1 1h0m-39 1h0m31 0h0m-46 1h0m10 0h0m5 0h0m27 0h0m8 0h0m-48 1h0m33 0h0m-47 3h0m54 2h0m7 0h0m8 1h0m-15 2h0m1 0h0m5 0h0m1 0h0m2 0h0m-6 1h0m5 0h0m2 0h0m-14 1h0m6 1h0m3 0h0m4 0h0m-61 1h0m1 0h0m52 0h0m1 0h0m-7 1h0m2 0h0m3 0h0m11 0h0m-31 1h0m24 0h0m3 0h0m4 1h0m-9 2h0m16 0h0m-26 1h0m10 0h0m-2 1h0m-1 1h0m1 0h0m11 0h0m5 0h0m-50 2h0m31 0h0m9 2h0m2 0h0m-5 1h0m8 1h0m-49 1h0m47 2h0m-12 5h0m13 0h0m-12 2h0m-9 1h0m-39 3h0m53 2h0m-7 2h0m-34 1h0m-7 1h0m19 0h0m8 2h0m-30 3h0m55 0h0m-60 5h0m12 2h0m34 3h0m-24 2h0m32 5h0m2 1h0m-51 17h0m31 1h0m8 3h0m-23 9h0m18 5h0m-15 2h0m-12 4h0m17 0h0m27 3h0m-15 6h0m-8 4h0m1 7h0m-28 1h0" stroke="#e8262c" stroke-width="1.9" stroke-linecap="square" fill="none"/>
<path d="M185.2 128.6H432.6V333.2" stroke="#6a6a6a" stroke-width="1.3" fill="none"/>
<path d="M185.2 128.0V333.2H433.2" stroke="#111" stroke-width="1.7" fill="none"/>
<path d="M185.2 333.2v5M200.7 333.2v2.2M216.7 333.2v2.2M231.7 333.2v2.2M247.0 333.2v5M262.5 333.2v2.2M278.5 333.2v2.2M293.5 333.2v2.2M308.8 333.2v5M324.3 333.2v2.2M340.3 333.2v2.2M355.3 333.2v2.2M370.6 333.2v5M386.1 333.2v2.2M402.1 333.2v2.2M417.1 333.2v2.2M432.4 333.2v5M185.2 143.8h-4M185.2 180.2h-4M185.2 217.6h-4M185.2 254.6h-4M185.2 290.9h-4M185.2 327.9h-4" stroke="#222" stroke-width="1.1" fill="none"/>
<line x1="184.1" y1="131.6" x2="184.1" y2="331.2" stroke="#444" stroke-width="0.9" stroke-dasharray="0.8 2.9"/>
<text transform="translate(310.9 178.1) scale(1.032 1)" font-size="22.5" style="fill:#2a50a4">39%</text>
<text transform="translate(317.7 235.5) scale(0.916 1)" font-size="22.5" style="fill:#e8262c">2%</text>
<rect x="454.0" y="128.6" width="247.4" height="204.6" fill="#fff"/>
<path transform="translate(454.0 128.6) scale(.5)" d="M0 0m181 4h0m-14 2h0m15 0h0m17 2h0m-23 2h0m2 3h0m6 1h0m-51 1h0m16 0h0m15 0h0m-8 1h0m16 0h0m2 0h0m28 0h0m-45 1h0m9 0h0m13 0h0m1 0h0m-20 1h0m3 0h0m0 1h0m2 0h0m6 0h0m2 1h0m6 0h0m-38 1h0m12 0h0m26 0h0m16 0h0m-59 1h0m32 0h0m2 0h0m-20 1h0m1 0h0m11 0h0m1 0h0m25 0h0m23 0h0m-70 1h0m17 0h0m19 0h0m1 0h0m-25 1h0m49 0h0m-90 1h0m45 0h0m6 0h0m10 0h0m9 0h0m-56 1h0m18 0h0m1 0h0m2 0h0m11 0h0m3 0h0m13 0h0m19 0h0m9 0h0m10 0h0m-53 1h0m14 0h0m2 0h0m7 0h0m-42 1h0m1 0h0m23 0h0m-36 1h0m25 0h0m2 0h0m1 0h0m14 0h0m21 0h0m9 0h0m15 0h0m-85 1h0m17 0h0m4 0h0m23 0h0m9 0h0m8 0h0m-43 1h0m12 0h0m4 0h0m5 0h0m1 0h0m12 0h0m4 0h0m8 0h0m3 0h0m-90 1h0m2 0h0m24 0h0m24 0h0m3 0h0m5 0h0m36 0h0m-85 1h0m12 0h0m2 0h0m4 0h0m16 0h0m1 0h0m23 0h0m7 0h0m-44 1h0m3 0h0m12 0h0m7 0h0m7 0h0m3 0h0m6 0h0m18 0h0m11 0h0m-60 1h0m2 0h0m1 0h0m12 0h0m4 0h0m2 0h0m-25 1h0m7 0h0m5 0h0m4 0h0m8 0h0m1 0h0m2 0h0m4 0h0m-36 1h0m10 0h0m-19 1h0m6 0h0m15 0h0m18 0h0m13 0h0m1 0h0m5 0h0m4 0h0m-51 1h0m3 0h0m1 0h0m-18 1h0m5 0h0m9 0h0m6 0h0m5 0h0m-43 1h0m39 0h0m3 0h0m1 0h0m41 0h0m22 0h0m-56 1h0m8 0h0m4 0h0m13 0h0m5 0h0m-59 1h0m12 0h0m6 0h0m7 0h0m6 0h0m3 0h0m2 0h0m18 0h0m1 0h0m-71 1h0m28 0h0m2 0h0m17 0h0m4 0h0m51 0h0m-53 1h0m7 0h0m3 0h0m25 0h0m19 0h0m-84 1h0m22 0h0m19 0h0m2 0h0m-42 1h0m2 0h0m3 0h0m3 0h0m1 0h0m23 0h0m13 0h0m-34 1h0m17 0h0m11 0h0m3 0h0m-26 1h0m9 0h0m3 0h0m-8 1h0m1 0h0m2 0h0m-51 1h0m27 0h0m13 0h0m14 0h0m31 0h0m-55 1h0m1 0h0m16 0h0m-8 1h0m1 0h0m5 0h0m23 0h0m-38 1h0m11 0h0m11 0h0m2 0h0m-25 1h0m4 0h0m7 0h0m2 0h0m2 0h0m39 1h0m-37 1h0m-7 1h0m10 0h0m17 0h0m-23 1h0m12 0h0m9 0h0m-42 1h0m70 0h0m17 0h0m-67 1h0m60 0h0m-80 1h0m25 0h0m17 0h0m-41 1h0m5 0h0m23 1h0m16 0h0m7 0h0m-12 1h0m-67 1h0m25 0h0m12 0h0m28 0h0m1 0h0m44 0h0m-95 2h0m1 1h0m-17 1h0m42 0h0m8 0h0m13 0h0m-66 1h0m33 0h0m54 0h0m28 0h0m-124 1h0m76 0h0m-44 1h0m2 0h0m29 0h0m1 0h0m52 0h0m-107 1h0m19 0h0m18 0h0m30 0h0m44 0h0m-100 2h0m7 0h0m83 0h0m-27 1h0m29 0h0m-98 1h0m8 0h0m61 0h0m3 0h0m-72 1h0m39 0h0m-24 1h0m13 2h0m81 0h0m2 0h0m-101 1h0m10 2h0m67 0h0m-12 1h0m3 0h0m-38 1h0m43 0h0m16 1h0m-78 1h0m13 0h0m10 0h0m-38 1h0m31 0h0m23 0h0m-48 2h0m5 0h0m34 0h0m-31 1h0m19 0h0m16 0h0m-23 1h0m-35 2h0m5 0h0m1 0h0m2 0h0m12 0h0m23 0h0m19 0h0m25 0h0m8 1h0m-85 1h0m26 0h0m82 0h0m-120 1h0m5 0h0m-5 1h0m17 0h0m46 1h0m-57 1h0m15 0h0m-18 1h0m43 1h0m-43 1h0m60 0h0m-63 2h0m3 0h0m70 0h0m-36 1h0m-37 1h0m6 0h0m2 1h0m-5 1h0m3 0h0m7 0h0m72 0h0m-84 1h0m18 0h0m8 2h0m36 1h0m28 0h0m-90 1h0m5 0h0m2 1h0m1 2h0m8 0h0m9 0h0m58 0h0m-43 1h0m52 1h0m-7 1h0m10 0h0m8 1h0m11 1h0m-9 2h0m-86 1h0m72 1h0m28 0h0m-26 2h0m-84 2h0m36 4h0m-11 1h0m3 0h0m1 1h0m-18 1h0m33 0h0m22 0h0m-41 1h0m9 0h0m4 0h0m59 1h0m-15 1h0m-43 2h0m-2 2h0m20 0h0m34 1h0m-78 1h0m12 0h0m84 0h0m-67 1h0" stroke="#2a50a4" stroke-width="2.5" stroke-linecap="square" fill="none"/>
<polygon points="488.5,229.6 492.6,227.6 492.8,274.6 490.6,274.6" fill="#e8262c"/>
<path transform="translate(454.0 128.6) scale(.5)" d="M0 0m54 187h0m-39 2h0m55 0h0m-59 1h0m9 0h0m7 0h0m6 1h0m28 0h0m10 0h0m1 0h0m1 0h0m-38 1h0m24 0h0m-2 1h0m6 0h0m3 0h0m2 0h0m3 0h0m-30 1h0m6 0h0m7 0h0m1 0h0m1 0h0m15 0h0m-15 1h0m2 0h0m1 0h0m3 0h0m10 0h0m-60 1h0m49 0h0m-9 1h0m4 0h0m1 0h0m1 0h0m2 0h0m1 0h0m8 0h0m-59 1h0m16 0h0m21 0h0m7 0h0m7 0h0m1 0h0m8 0h0m-48 1h0m31 0h0m-14 1h0m13 0h0m11 0h0m2 0h0m7 0h0m1 0h0m-65 1h0m1 0h0m3 0h0m40 0h0m4 0h0m8 0h0m3 0h0m1 0h0m2 0h0m-60 1h0m43 0h0m10 0h0m-50 1h0m37 0h0m4 0h0m8 0h0m-45 1h0m3 0h0m15 0h0m18 0h0m11 0h0m2 0h0m-58 1h0m4 0h0m35 0h0m1 0h0m4 0h0m3 0h0m11 0h0m1 0h0m2 0h0m3 0h0m-65 1h0m6 0h0m42 0h0m2 0h0m2 0h0m1 0h0m3 0h0m2 0h0m-55 1h0m3 0h0m33 0h0m14 0h0m9 0h0m1 0h0m2 0h0m-62 1h0m1 0h0m36 0h0m5 0h0m12 0h0m1 0h0m5 0h0m2 0h0m-63 1h0m9 0h0m27 0h0m3 0h0m13 0h0m4 0h0m-54 1h0m1 0h0m11 0h0m2 0h0m3 0h0m10 0h0m2 0h0m15 0h0m1 0h0m1 0h0m5 0h0m2 0h0m9 0h0m-63 1h0m7 0h0m32 0h0m8 0h0m-46 1h0m1 0h0m4 0h0m22 0h0m17 0h0m14 0h0m-61 1h0m20 0h0m25 0h0m3 0h0m10 0h0m3 0h0m-42 1h0m24 0h0m6 0h0m5 0h0m3 0h0m2 0h0m2 0h0m-62 1h0m7 0h0m41 0h0m6 0h0m1 0h0m3 0h0m1 0h0m1 0h0m7 0h0m-25 1h0m9 0h0m5 0h0m5 0h0m5 0h0m-67 1h0m4 0h0m39 0h0m5 0h0m2 0h0m5 0h0m2 0h0m7 0h0m-63 1h0m44 0h0m8 0h0m3 0h0m6 0h0m-60 1h0m41 0h0m5 0h0m-16 1h0m17 0h0m2 0h0m10 0h0m1 0h0m-60 1h0m8 0h0m1 0h0m10 0h0m5 0h0m25 0h0m3 0h0m1 0h0m4 0h0m4 0h0m3 0h0m-58 1h0m43 0h0m1 0h0m7 0h0m3 0h0m1 0h0m1 0h0m-64 1h0m57 0h0m3 0h0m-60 1h0m3 0h0m4 0h0m11 0h0m25 0h0m4 0h0m6 0h0m1 0h0m1 0h0m6 0h0m-58 1h0m29 0h0m1 0h0m17 0h0m1 0h0m1 0h0m1 0h0m7 0h0m5 0h0m3 0h0m-67 1h0m6 0h0m26 0h0m20 0h0m13 0h0m-56 1h0m2 0h0m12 0h0m7 0h0m15 0h0m3 0h0m1 0h0m4 0h0m1 0h0m3 0h0m-56 1h0m3 0h0m37 0h0m4 0h0m1 0h0m2 0h0m-44 1h0m2 0h0m3 0h0m11 0h0m22 0h0m3 0h0m3 0h0m8 0h0m4 0h0m-48 1h0m13 0h0m18 0h0m24 0h0m-61 1h0m1 0h0m1 0h0m11 0h0m1 0h0m15 0h0m9 0h0m4 0h0m4 0h0m3 0h0m1 0h0m-57 1h0m5 0h0m1 0h0m2 0h0m32 0h0m4 0h0m1 0h0m6 0h0m5 0h0m10 0h0m2 0h0m-60 1h0m11 0h0m11 0h0m1 0h0m11 0h0m2 0h0m6 0h0m1 0h0m2 0h0m4 0h0m7 0h0m-20 1h0m8 0h0m-42 1h0m1 0h0m34 0h0m2 0h0m1 0h0m3 0h0m5 0h0m5 0h0m1 0h0m2 0h0m1 0h0m1 0h0m-58 1h0m3 0h0m37 0h0m3 0h0m1 0h0m-44 1h0m1 0h0m37 0h0m5 0h0m2 0h0m8 0h0m3 0h0m-63 1h0m5 0h0m32 0h0m6 0h0m4 0h0m2 0h0m1 0h0m2 0h0m2 0h0m6 0h0m1 0h0m1 0h0m3 0h0m-64 1h0m2 0h0m2 0h0m3 0h0m3 0h0m1 0h0m38 0h0m1 0h0m12 0h0m-59 1h0m7 0h0m42 0h0m4 0h0m5 0h0m-60 1h0m1 0h0m1 0h0m7 0h0m13 0h0m23 0h0m7 0h0m5 0h0m2 0h0m3 0h0m2 0h0m1 0h0m-22 1h0m1 0h0m20 0h0m-62 1h0m4 0h0m8 0h0m25 0h0m6 0h0m1 0h0m2 0h0m10 0h0m2 0h0m-48 1h0m8 0h0m19 0h0m8 0h0m4 0h0m1 0h0m2 0h0m5 0h0m2 0h0m-64 1h0m3 0h0m5 0h0m29 0h0m18 0h0m2 0h0m3 0h0m6 0h0m-59 1h0m16 0h0m28 0h0m2 0h0m3 0h0m-32 1h0m19 0h0m6 0h0m1 0h0m3 0h0m3 0h0m1 0h0m-56 1h0m1 0h0m3 0h0m17 0h0m15 0h0m11 0h0m2 0h0m1 0h0m7 0h0m-57 1h0m19 0h0m7 0h0m15 0h0m5 0h0m5 0h0m2 0h0m4 0h0m-52 1h0m16 0h0m10 0h0m3 0h0m2 0h0m3 0h0m12 0h0m11 0h0m5 0h0m-67 1h0m2 0h0m1 0h0m1 0h0m38 0h0m9 0h0m1 0h0m7 0h0m2 0h0m-56 1h0m1 0h0m4 0h0m2 0h0m12 0h0m21 0h0m3 0h0m5 0h0m7 0h0m3 0h0m2 0h0m-60 1h0m23 0h0m19 0h0m2 0h0m10 0h0m1 0h0m3 0h0m-59 1h0m1 0h0m16 0h0m26 0h0m5 0h0m11 0h0m-61 1h0m6 0h0m15 0h0m2 0h0m11 0h0m7 0h0m5 0h0m8 0h0m3 0h0m-29 1h0m2 0h0m5 0h0m9 0h0m20 0h0m-64 1h0m7 0h0m9 0h0m29 0h0m3 0h0m1 0h0m5 0h0m5 0h0m1 0h0m1 0h0m2 0h0m-41 1h0m17 0h0m13 0h0m1 0h0m4 0h0m4 0h0m4 0h0m3 0h0m-69 1h0m29 0h0m12 0h0m6 0h0m4 0h0m3 0h0m6 0h0m2 0h0m1 0h0m4 0h0m-67 1h0m1 0h0m5 0h0m3 0h0m9 0h0m2 0h0m8 0h0m9 0h0m4 0h0m1 0h0m4 0h0m4 0h0m3 0h0m8 0h0m-18 1h0m4 0h0m7 0h0m8 0h0m-61 1h0m20 0h0m29 0h0m2 0h0m1 0h0m10 0h0m-21 1h0m6 0h0m7 0h0m-10 1h0m3 0h0m9 0h0m1 0h0m1 0h0m3 0h0m-63 1h0m6 0h0m29 0h0m11 0h0m2 0h0m10 0h0m3 0h0m1 0h0m-60 1h0m2 0h0m26 0h0m4 0h0m7 0h0m10 0h0m2 0h0m2 0h0m3 0h0m7 0h0m-58 1h0m8 0h0m5 0h0m7 0h0m15 0h0m3 0h0m4 0h0m13 0h0m5 0h0m-60 1h0m1 0h0m35 0h0m8 0h0m2 0h0m8 0h0m2 0h0m4 0h0m-64 1h0m2 0h0m15 0h0m36 0h0m2 0h0m5 0h0m1 0h0m-62 1h0m3 0h0m1 0h0m48 0h0m5 0h0m1 0h0m1 0h0m1 0h0m1 0h0m-49 1h0m34 0h0m8 0h0m6 0h0m-61 1h0m14 0h0m28 0h0m4 0h0m2 0h0m3 0h0m1 0h0m4 0h0m-56 1h0m1 0h0m1 0h0m4 0h0m2 0h0m10 0h0m33 0h0m7 0h0m-58 1h0m5 0h0m38 0h0m7 0h0m7 0h0m2 0h0m-52 1h0m7 0h0m21 0h0m13 0h0m1 0h0m4 0h0m4 0h0m2 0h0m1 0h0m-57 1h0m4 0h0m1 0h0m16 0h0m20 0h0m3 0h0m3 0h0m1 0h0m2 0h0m1 0h0m7 0h0m-60 1h0m5 0h0m3 0h0m35 0h0m8 0h0m2 0h0m2 0h0m6 0h0m5 0h0m-66 1h0m1 0h0m5 0h0m14 0h0m27 0h0m2 0h0m1 0h0m2 0h0m3 0h0m2 0h0m4 0h0m-55 1h0m30 0h0m8 0h0m1 0h0m2 0h0m3 0h0m1 0h0m2 0h0m4 0h0m7 0h0m-23 1h0m15 0h0m1 0h0m-56 1h0m3 0h0m28 0h0m14 0h0m10 0h0m2 0h0m2 0h0m-46 1h0m7 0h0m10 0h0m16 0h0m1 0h0m1 0h0m3 0h0m-53 1h0m3 0h0m6 0h0m1 0h0m1 0h0m14 0h0m8 0h0m5 0h0m-35 1h0m2 0h0m20 0h0m34 0h0m-52 1h0m3 0h0m9 0h0m28 0h0m5 0h0m3 0h0m6 0h0m-61 1h0m4 0h0m1 0h0m15 0h0m26 0h0m1 0h0m13 0h0m1 0h0m-58 1h0m3 0h0m18 0h0m23 0h0m1 0h0m-42 1h0m16 0h0m27 0h0m2 0h0m1 0h0m10 0h0m-46 1h0m14 0h0m-20 1h0m8 0h0m28 0h0m-46 1h0m6 0h0m20 0h0m28 0h0m4 0h0m-53 1h0m2 0h0m4 0h0m7 0h0m5 0h0m29 0h0m5 0h0m-51 1h0m29 0h0m12 0h0m-46 1h0m4 0h0m1 0h0m1 0h0m-3 1h0m13 0h0m41 0h0m-60 1h0m12 0h0m19 0h0m24 0h0m5 0h0m-41 1h0m13 0h0m28 0h0m5 0h0m-61 1h0m29 0h0m29 0h0m-59 1h0m5 0h0m2 0h0m1 0h0m5 0h0m6 0h0m11 0h0m23 0h0m-53 1h0m2 0h0m11 0h0m14 0h0m2 0h0m9 0h0m21 0h0m-52 1h0m23 0h0m23 0h0m-15 1h0m9 0h0m-35 1h0m6 0h0m1 0h0m10 0h0m5 0h0m10 0h0m7 0h0m-44 1h0m2 0h0m18 0h0m0 1h0m29 0h0m-47 1h0m3 0h0m3 0h0m20 0h0m1 0h0m16 0h0m-44 1h0m20 0h0m1 0h0m3 0h0m18 0h0m1 0h0m-31 1h0m1 1h0m10 0h0m29 0h0m2 0h0m-53 1h0m17 0h0m14 0h0m-37 1h0m4 0h0m5 0h0m39 0h0m-53 1h0m4 0h0m3 0h0m16 0h0m3 0h0m2 0h0m38 0h0m-44 1h0m8 0h0m30 0h0m2 0h0m-62 1h0m24 0h0m39 0h0m-51 1h0m32 0h0m-43 1h0m38 0h0m14 0h0m-27 1h0m33 1h0m3 0h0m-63 1h0m9 0h0m4 0h0m25 0h0m28 0h0m4 0h0m-63 1h0m8 0h0m2 0h0m19 0h0m5 0h0m15 0h0m-53 1h0m2 0h0m4 0h0m50 0h0m3 0h0m-52 1h0m44 0h0m-52 1h0m17 0h0m11 0h0m7 0h0m3 1h0m-37 1h0m7 0h0m7 0h0m3 0h0m6 0h0m-5 1h0m16 0h0m12 0h0m16 0h0m-62 1h0m1 0h0m20 0h0m1 0h0m5 0h0m3 0h0m-21 1h0m9 0h0m28 0h0m5 0h0m12 0h0m-35 1h0m2 0h0m21 0h0m-47 1h0m55 0h0m-26 1h0m16 0h0m-10 1h0m16 1h0m4 1h0m-3 1h0m-16 1h0m7 0h0m6 0h0m9 0h0m-23 2h0m18 0h0m2 0h0m2 0h0m1 0h0m-1 1h0m1 2h0m3 5h0m-23 1h0m-1 4h0m14 1h0m-6 1h0m12 0h0m-7 2h0m3 0h0m-14 4h0m-11 2h0m26 2h0m-3 1h0m-1 1h0m-7 2h0m15 1h0" stroke="#e8262c" stroke-width="1.9" stroke-linecap="square" fill="none"/>
<polygon points="491.9,231.1 492.7,231.1 494.4,228.7 496.8,228.0 498.0,225.9 497.5,223.7 500.0,223.2 501.7,223.3 502.3,221.6 504.2,220.7 504.5,220.0 507.1,218.8 508.0,219.4 509.1,217.6 512.0,219.1 513.8,220.3 515.5,219.0 516.7,220.0 518.6,219.8 518.8,220.9 520.3,223.5 520.9,223.6 520.8,225.7 520.9,228.7 523.1,230.4 522.3,231.8 520.0,233.6 518.3,234.7 517.7,236.3 517.4,238.2 516.3,239.3 514.2,240.5 512.5,240.5 513.0,240.3 510.0,242.8 508.1,243.8 506.6,243.0 507.2,245.0 505.2,246.0 502.4,247.3 501.8,248.5 499.4,250.1 498.8,251.3 495.7,252.1 494.8,253.2 494.3,253.9 492.1,250.7 493.0,249.9 492.3,246.5 493.6,245.2 493.2,245.3 492.9,242.6 494.3,241.8 492.6,239.5 492.4,237.9 492.7,237.3 493.6,234.8 492.0,233.8" fill="#0a0a0a"/>
<polygon points="492.6,228.6 496.3,228.6 495.2,268.6 494.6,291.6 492.9,291.6" fill="#0a0a0a"/>
<path transform="translate(454.0 128.6) scale(.5)" d="M0 0m143 48h0m69 14h0m11 5h0m-15 11h0m-99 38h0m-39 2h0m36 5h0m28 3h0m-21 2h0m-71 5h0m207 8h0m-147 6h0m83 4h0m28 4h0m11 0h0m-27 1h0m-39 1h0m58 0h0m-92 1h0m78 0h0m3 0h0m10 0h0m2 0h0m4 0h0m-107 1h0m7 0h0m74 0h0m-61 1h0m60 0h0m18 0h0m-59 2h0m31 0h0m-47 1h0m52 0h0m9 0h0m1 0h0m30 0h0m-28 1h0m15 0h0m-58 1h0m15 0h0m17 0h0m7 0h0m1 0h0m9 0h0m1 0h0m15 0h0m-141 1h0m25 0h0m83 0h0m9 0h0m38 0h0m-114 1h0m41 0h0m12 0h0m13 0h0m2 0h0m7 0h0m1 0h0m16 0h0m2 0h0m-89 1h0m24 0h0m29 0h0m4 0h0m29 0h0m17 0h0m-132 1h0m71 0h0m20 0h0m2 0h0m18 0h0m2 0h0m-85 1h0m38 0h0m9 0h0m12 0h0m1 0h0m2 0h0m5 0h0m-82 1h0m25 0h0m5 0h0m30 0h0m5 0h0m2 0h0m30 0h0m-138 1h0m34 0h0m11 0h0m44 0h0m15 0h0m2 0h0m8 0h0m13 0h0m-95 1h0m61 0h0m8 0h0m-7 1h0m1 0h0m3 0h0m10 0h0m8 0h0m5 0h0m15 0h0m3 0h0m8 0h0m2 0h0m4 0h0m-139 1h0m46 0h0m11 0h0m27 0h0m4 0h0m13 0h0m3 0h0m5 0h0m1 0h0m3 0h0m15 0h0m-140 1h0m19 0h0m13 0h0m13 0h0m39 0h0m17 0h0m2 0h0m5 0h0m3 0h0m4 0h0m2 0h0m1 0h0m2 0h0m9 0h0m11 0h0m3 0h0m-107 1h0m14 0h0m18 0h0m7 0h0m21 0h0m7 0h0m2 0h0m4 0h0m1 0h0m3 0h0m4 0h0m1 0h0m28 0h0m3 0h0m6 0h0m-131 1h0m5 0h0m21 0h0m4 0h0m25 0h0m7 0h0m1 0h0m10 0h0m3 0h0m7 0h0m10 0h0m1 0h0m8 0h0m5 0h0m7 0h0m-115 1h0m14 0h0m17 0h0m20 0h0m18 0h0m1 0h0m4 0h0m2 0h0m8 0h0m4 0h0m1 0h0m1 0h0m2 0h0m46 0h0m-143 1h0m2 0h0m11 0h0m14 0h0m19 0h0m4 0h0m1 0h0m5 0h0m6 0h0m2 0h0m2 0h0m1 0h0m3 0h0m6 0h0m13 0h0m1 0h0m3 0h0m2 0h0m2 0h0m2 0h0m4 0h0m10 0h0m10 0h0m8 0h0m8 0h0m-119 1h0m15 0h0m12 0h0m5 0h0m12 0h0m2 0h0m5 0h0m3 0h0m2 0h0m2 0h0m1 0h0m1 0h0m5 0h0m2 0h0m5 0h0m1 0h0m1 0h0m7 0h0m25 0h0m1 0h0m-155 1h0m24 0h0m38 0h0m3 0h0m3 0h0m4 0h0m4 0h0m3 0h0m8 0h0m5 0h0m3 0h0m1 0h0m4 0h0m1 0h0m3 0h0m3 0h0m1 0h0m1 0h0m1 0h0m5 0h0m12 0h0m1 0h0m1 0h0m4 0h0m1 0h0m4 0h0m7 0h0m3 0h0m6 0h0m-117 1h0m18 0h0m3 0h0m20 0h0m6 0h0m1 0h0m4 0h0m1 0h0m7 0h0m4 0h0m1 0h0m3 0h0m1 0h0m8 0h0m1 0h0m2 0h0m2 0h0m1 0h0m1 0h0m1 0h0m2 0h0m3 0h0m1 0h0m4 0h0m5 0h0m6 0h0m2 0h0m6 0h0m7 0h0m-128 1h0m31 0h0m1 0h0m4 0h0m13 0h0m12 0h0m2 0h0m4 0h0m5 0h0m1 0h0m10 0h0m1 0h0m4 0h0m6 0h0m2 0h0m1 0h0m7 0h0m1 0h0m1 0h0m2 0h0m4 0h0m2 0h0m1 0h0m4 0h0m3 0h0m-173 1h0m27 0h0m5 0h0m8 0h0m31 0h0m11 0h0m1 0h0m8 0h0m1 0h0m5 0h0m7 0h0m1 0h0m2 0h0m2 0h0m3 0h0m1 0h0m2 0h0m1 0h0m6 0h0m2 0h0m2 0h0m4 0h0m7 0h0m3 0h0m2 0h0m4 0h0m1 0h0m5 0h0m1 0h0m2 0h0m2 0h0m4 0h0m2 0h0m7 0h0m27 0h0m-145 1h0m2 0h0m6 0h0m4 0h0m10 0h0m4 0h0m15 0h0m8 0h0m3 0h0m1 0h0m2 0h0m10 0h0m2 0h0m11 0h0m1 0h0m1 0h0m4 0h0m2 0h0m5 0h0m2 0h0m1 0h0m3 0h0m2 0h0m1 0h0m3 0h0m2 0h0m2 0h0m8 0h0m8 0h0m4 0h0m-140 1h0m33 0h0m16 0h0m11 0h0m6 0h0m5 0h0m9 0h0m6 0h0m3 0h0m1 0h0m2 0h0m2 0h0m1 0h0m2 0h0m1 0h0m2 0h0m2 0h0m2 0h0m2 0h0m4 0h0m5 0h0m1 0h0m1 0h0m7 0h0m-106 1h0m4 0h0m4 0h0m11 0h0m1 0h0m1 0h0m4 0h0m3 0h0m10 0h0m5 0h0m1 0h0m1 0h0m4 0h0m5 0h0m2 0h0m6 0h0m3 0h0m3 0h0m1 0h0m2 0h0m2 0h0m3 0h0m5 0h0m1 0h0m3 0h0m2 0h0m2 0h0m8 0h0m14 0h0m3 0h0m6 0h0m4 0h0m-165 1h0m38 0h0m19 0h0m9 0h0m1 0h0m1 0h0m5 0h0m3 0h0m4 0h0m1 0h0m2 0h0m9 0h0m1 0h0m1 0h0m1 0h0m1 0h0m1 0h0m7 0h0m1 0h0m1 0h0m1 0h0m1 0h0m6 0h0m2 0h0m1 0h0m1 0h0m7 0h0m2 0h0m2 0h0m10 0h0m1 0h0m-123 1h0m21 0h0m13 0h0m12 0h0m1 0h0m7 0h0m5 0h0m23 0h0m1 0h0m4 0h0m6 0h0m2 0h0m1 0h0m2 0h0m4 0h0m1 0h0m5 0h0m14 0h0m1 0h0m1 0h0m5 0h0m4 0h0m6 0h0m1 0h0m-130 1h0m8 0h0m4 0h0m9 0h0m2 0h0m5 0h0m13 0h0m7 0h0m2 0h0m1 0h0m1 0h0m2 0h0m2 0h0m5 0h0m7 0h0m3 0h0m5 0h0m2 0h0m6 0h0m1 0h0m1 0h0m1 0h0m4 0h0m1 0h0m6 0h0m4 0h0m1 0h0m2 0h0m3 0h0m4 0h0m2 0h0m6 0h0m2 0h0m10 0h0m1 0h0m3 0h0m5 0h0m-153 1h0m2 0h0m18 0h0m5 0h0m1 0h0m23 0h0m2 0h0m8 0h0m1 0h0m3 0h0m2 0h0m2 0h0m2 0h0m1 0h0m2 0h0m1 0h0m1 0h0m5 0h0m4 0h0m2 0h0m1 0h0m5 0h0m5 0h0m1 0h0m4 0h0m1 0h0m1 0h0m3 0h0m3 0h0m2 0h0m2 0h0m1 0h0m3 0h0m6 0h0m3 0h0m1 0h0m4 0h0m5 0h0m-141 1h0m9 0h0m7 0h0m7 0h0m11 0h0m19 0h0m2 0h0m2 0h0m5 0h0m1 0h0m12 0h0m1 0h0m3 0h0m5 0h0m1 0h0m2 0h0m1 0h0m4 0h0m2 0h0m1 0h0m7 0h0m9 0h0m1 0h0m3 0h0m2 0h0m3 0h0m10 0h0m2 0h0m4 0h0m-121 1h0m13 0h0m11 0h0m4 0h0m5 0h0m1 0h0m1 0h0m1 0h0m12 0h0m1 0h0m2 0h0m2 0h0m1 0h0m4 0h0m7 0h0m2 0h0m8 0h0m2 0h0m2 0h0m6 0h0m1 0h0m3 0h0m1 0h0m1 0h0m1 0h0m6 0h0m3 0h0m3 0h0m9 0h0m4 0h0m4 0h0m-121 1h0m7 0h0m10 0h0m4 0h0m3 0h0m4 0h0m5 0h0m3 0h0m1 0h0m3 0h0m2 0h0m4 0h0m1 0h0m4 0h0m6 0h0m10 0h0m3 0h0m7 0h0m1 0h0m1 0h0m5 0h0m4 0h0m3 0h0m3 0h0m4 0h0m11 0h0m13 0h0m2 0h0m3 0h0m3 0h0m14 0h0m-127 1h0m6 0h0m8 0h0m2 0h0m7 0h0m9 0h0m1 0h0m5 0h0m2 0h0m1 0h0m2 0h0m3 0h0m6 0h0m5 0h0m6 0h0m4 0h0m4 0h0m2 0h0m3 0h0m1 0h0m10 0h0m2 0h0m1 0h0m9 0h0m12 0h0m15 0h0m-146 1h0m14 0h0m2 0h0m6 0h0m7 0h0m8 0h0m2 0h0m4 0h0m2 0h0m1 0h0m4 0h0m6 0h0m4 0h0m1 0h0m2 0h0m1 0h0m1 0h0m1 0h0m2 0h0m2 0h0m3 0h0m1 0h0m1 0h0m4 0h0m1 0h0m1 0h0m1 0h0m2 0h0m1 0h0m5 0h0m1 0h0m1 0h0m2 0h0m1 0h0m15 0h0m-113 1h0m21 0h0m3 0h0m10 0h0m2 0h0m5 0h0m1 0h0m1 0h0m4 0h0m7 0h0m1 0h0m6 0h0m2 0h0m9 0h0m3 0h0m3 0h0m1 0h0m1 0h0m6 0h0m3 0h0m16 0h0m-110 1h0m22 0h0m3 0h0m9 0h0m1 0h0m6 0h0m1 0h0m1 0h0m1 0h0m2 0h0m1 0h0m1 0h0m2 0h0m2 0h0m3 0h0m3 0h0m7 0h0m5 0h0m1 0h0m5 0h0m24 0h0m3 0h0m10 0h0m7 0h0m43 0h0m-160 1h0m28 0h0m2 0h0m3 0h0m2 0h0m3 0h0m3 0h0m5 0h0m1 0h0m4 0h0m3 0h0m4 0h0m1 0h0m3 0h0m2 0h0m3 0h0m4 0h0m1 0h0m7 0h0m1 0h0m2 0h0m4 0h0m7 0h0m10 0h0m9 0h0m-96 1h0m1 0h0m6 0h0m17 0h0m7 0h0m2 0h0m1 0h0m1 0h0m3 0h0m4 0h0m17 0h0m3 0h0m5 0h0m5 0h0m2 0h0m1 0h0m7 0h0m25 0h0m-117 1h0m9 0h0m11 0h0m2 0h0m5 0h0m2 0h0m1 0h0m3 0h0m2 0h0m5 0h0m4 0h0m1 0h0m1 0h0m1 0h0m1 0h0m1 0h0m1 0h0m1 0h0m1 0h0m1 0h0m1 0h0m1 0h0m5 0h0m7 0h0m19 0h0m24 0h0m-117 1h0m25 0h0m11 0h0m4 0h0m2 0h0m1 0h0m1 0h0m1 0h0m1 0h0m1 0h0m1 0h0m3 0h0m3 0h0m3 0h0m2 0h0m4 0h0m1 0h0m6 0h0m1 0h0m1 0h0m5 0h0m15 0h0m11 0h0m22 0h0m-128 1h0m12 0h0m9 0h0m1 0h0m5 0h0m8 0h0m4 0h0m7 0h0m1 0h0m2 0h0m3 0h0m3 0h0m2 0h0m7 0h0m2 0h0m2 0h0m3 0h0m8 0h0m5 0h0m1 0h0m1 0h0m4 0h0m-86 1h0m9 0h0m6 0h0m4 0h0m2 0h0m11 0h0m5 0h0m3 0h0m2 0h0m1 0h0m2 0h0m6 0h0m1 0h0m5 0h0m7 0h0m6 0h0m1 0h0m1 0h0m2 0h0m1 0h0m3 0h0m7 0h0m1 0h0m3 0h0m2 0h0m9 0h0m-82 1h0m7 0h0m6 0h0m2 0h0m2 0h0m1 0h0m2 0h0m1 0h0m2 0h0m4 0h0m2 0h0m1 0h0m4 0h0m2 0h0m1 0h0m3 0h0m1 0h0m1 0h0m3 0h0m7 0h0m4 0h0m4 0h0m8 0h0m5 0h0m3 0h0m1 0h0m25 0h0m7 0h0m-106 1h0m2 0h0m1 0h0m8 0h0m1 0h0m2 0h0m7 0h0m1 0h0m5 0h0m3 0h0m6 0h0m2 0h0m8 0h0m2 0h0m18 0h0m8 0h0m-120 1h0m28 0h0m11 0h0m5 0h0m1 0h0m1 0h0m4 0h0m1 0h0m5 0h0m6 0h0m2 0h0m1 0h0m3 0h0m1 0h0m2 0h0m2 0h0m11 0h0m3 0h0m1 0h0m2 0h0m11 0h0m3 0h0m14 0h0m-75 1h0m11 0h0m3 0h0m2 0h0m2 0h0m1 0h0m9 0h0m2 0h0m2 0h0m1 0h0m6 0h0m1 0h0m1 0h0m13 0h0m3 0h0m1 0h0m25 0h0m3 0h0m-103 1h0m2 0h0m2 0h0m5 0h0m3 0h0m3 0h0m2 0h0m3 0h0m2 0h0m6 0h0m8 0h0m2 0h0m1 0h0m2 0h0m1 0h0m3 0h0m1 0h0m7 0h0m6 0h0m2 0h0m2 0h0m3 0h0m5 0h0m6 0h0m8 0h0m20 0h0m-100 1h0m2 0h0m10 0h0m4 0h0m3 0h0m5 0h0m3 0h0m1 0h0m1 0h0m3 0h0m6 0h0m2 0h0m7 0h0m2 0h0m2 0h0m2 0h0m5 0h0m2 0h0m2 0h0m1 0h0m38 0h0m-125 1h0m1 0h0m12 0h0m2 0h0m13 0h0m11 0h0m2 0h0m5 0h0m1 0h0m4 0h0m1 0h0m1 0h0m3 0h0m2 0h0m1 0h0m3 0h0m1 0h0m2 0h0m2 0h0m5 0h0m9 0h0m2 0h0m1 0h0m-48 1h0m1 0h0m1 0h0m6 0h0m3 0h0m4 0h0m1 0h0m1 0h0m2 0h0m3 0h0m3 0h0m5 0h0m2 0h0m5 0h0m2 0h0m5 0h0m1 0h0m17 0h0m11 0h0m5 0h0m5 0h0m2 0h0m91 0h0m-195 1h0m1 0h0m10 0h0m5 0h0m15 0h0m11 0h0m2 0h0m2 0h0m1 0h0m2 0h0m2 0h0m9 0h0m1 0h0m7 0h0m11 0h0m-64 1h0m12 0h0m9 0h0m3 0h0m1 0h0m1 0h0m2 0h0m2 0h0m2 0h0m12 0h0m17 0h0m19 0h0m10 0h0m-91 1h0m3 0h0m2 0h0m4 0h0m5 0h0m9 0h0m9 0h0m2 0h0m4 0h0m8 0h0m3 0h0m-45 1h0m1 0h0m4 0h0m21 0h0m7 0h0m2 0h0m1 0h0m12 0h0m9 0h0m12 0h0m14 0h0m-116 1h0m24 0h0m1 0h0m19 0h0m12 0h0m8 0h0m1 0h0m3 0h0m1 0h0m-37 1h0m5 0h0m8 0h0m3 0h0m9 0h0m2 0h0m3 0h0m3 0h0m1 0h0m10 0h0m15 0h0m1 0h0m18 0h0m-102 1h0m12 0h0m21 0h0m3 0h0m1 0h0m15 0h0m9 0h0m11 0h0m66 0h0m-96 1h0m13 0h0m6 0h0m1 0h0m24 0h0m-65 1h0m14 0h0m2 0h0m6 0h0m6 0h0m2 0h0m3 0h0m1 0h0m1 0h0m7 0h0m4 0h0m24 0h0m-73 1h0m9 0h0m13 0h0m7 0h0m4 0h0m9 0h0m3 0h0m9 0h0m5 0h0m1 0h0m47 0h0m-104 1h0m8 0h0m23 0h0m29 0h0m-54 1h0m2 0h0m8 0h0m9 0h0m3 0h0m5 0h0m3 0h0m33 0h0m-98 1h0m19 0h0m8 0h0m1 0h0m7 0h0m2 0h0m4 0h0m2 0h0m1 0h0m5 0h0m11 0h0m3 0h0m8 0h0m4 0h0m35 0h0m-87 1h0m6 0h0m4 0h0m12 0h0m3 0h0m1 0h0m9 0h0m15 0h0m5 0h0m4 0h0m11 0h0m4 0h0m10 0h0m3 0h0m-110 1h0m23 0h0m24 0h0m1 0h0m3 0h0m19 0h0m4 0h0m3 0h0m20 0h0m1 0h0m-99 1h0m11 0h0m13 0h0m5 0h0m13 0h0m11 0h0m6 0h0m2 0h0m21 0h0m-63 1h0m15 0h0m15 0h0m1 0h0m4 0h0m4 0h0m14 0h0m2 0h0m37 0h0m-89 1h0m25 0h0m1 0h0m11 0h0m16 0h0m11 0h0m2 0h0m2 0h0m-48 1h0m14 0h0m22 0h0m6 0h0m3 0h0m64 0h0m-108 1h0m1 0h0m17 0h0m2 0h0m11 0h0m3 0h0m6 0h0m-37 1h0m1 0h0m1 0h0m1 0h0m12 0h0m-45 1h0m3 0h0m34 0h0m9 0h0m2 0h0m1 0h0m2 0h0m4 0h0m5 0h0m3 0h0m-51 1h0m4 0h0m4 0h0m21 0h0m2 0h0m18 0h0m44 0h0m-83 1h0m17 0h0m6 0h0m2 0h0m1 0h0m28 0h0m23 0h0m-86 1h0m16 0h0m6 0h0m3 0h0m2 0h0m3 0h0m2 0h0m51 0h0m-65 1h0m1 0h0m12 0h0m12 0h0m9 0h0m3 0h0m7 0h0m9 0h0m5 0h0m-79 1h0m3 0h0m1 0h0m1 0h0m9 0h0m28 0h0m2 0h0m10 0h0m20 0h0m37 0h0m-140 1h0m29 0h0m3 0h0m1 0h0m4 0h0m6 0h0m14 0h0m3 0h0m2 0h0m22 0h0m39 0h0m-104 1h0m3 0h0m8 0h0m4 0h0m5 0h0m1 0h0m5 0h0m19 0h0m7 0h0m-81 1h0m39 0h0m7 0h0m1 0h0m1 0h0m2 0h0m12 0h0m10 0h0m2 0h0m3 0h0m4 0h0m-40 1h0m6 0h0m4 0h0m18 0h0m8 0h0m3 0h0m14 0h0m-55 1h0m3 0h0m5 0h0m21 0h0m3 0h0m1 0h0m24 0h0m16 0h0m-69 1h0m2 0h0m10 0h0m1 0h0m7 0h0m3 0h0m10 0h0m3 0h0m10 0h0m22 0h0m-70 1h0m5 0h0m26 0h0m17 0h0m-21 1h0m3 0h0m17 0h0m-43 1h0m4 0h0m19 0h0m-21 1h0m3 0h0m19 0h0m12 0h0m-3 1h0m10 0h0m-47 1h0m18 0h0m61 0h0m-84 1h0m5 0h0m38 0h0m9 0h0m-54 1h0m4 0h0m3 0h0m30 0h0m6 0h0m1 0h0m-38 1h0m28 0h0m17 0h0m2 0h0m55 0h0m-96 1h0m18 0h0m-21 1h0m1 0h0m35 1h0m-33 1h0m-3 1h0m6 0h0m17 0h0m19 0h0m10 0h0m5 0h0m13 0h0m1 0h0m-84 1h0m11 0h0m2 0h0m7 0h0m19 0h0m48 0h0m-70 1h0m3 0h0m48 0h0m-57 1h0m8 0h0m19 0h0m27 0h0m-51 1h0m52 0h0m-55 1h0m9 0h0m73 0h0m-44 1h0m-34 1h0m1 0h0m3 0h0m24 0h0m20 0h0m-43 2h0m16 0h0m12 0h0m-30 1h0m1 0h0m-10 1h0m9 0h0m-3 1h0m7 0h0m-12 1h0m1 0h0m7 0h0m-3 1h0m4 1h0m-4 1h0m41 0h0m16 0h0m-62 1h0m1 0h0m0 1h0m7 0h0m49 0h0m11 0h0m15 0h0m-74 1h0m59 1h0m-58 3h0m35 0h0m53 1h0m-96 1h0m2 0h0m38 0h0m12 2h0m-55 3h0m6 1h0m11 6h0m-14 2h0m-2 1h0m8 1h0m1 0h0m2 1h0m-7 2h0m7 0h0m-1 1h0m-7 1h0m2 0h0m-2 2h0m7 0h0m-5 2h0m3 0h0m1 4h0m1 0h0m-8 3h0m5 2h0m-10 3h0m0 1h0m-1 2h0m1 0h0m5 1h0m-1 1h0m-6 2h0m-1 1h0m0 4h0m4 2h0m-1 1h0m-2 1h0m4 1h0m2 0h0m-5 2h0m1 0h0m1 0h0m-3 1h0m-1 3h0m7 0h0m-9 2h0m5 2h0m-4 2h0m2 0h0m6 0h0m-10 1h0m5 0h0m2 0h0m1 0h0m-3 1h0m3 0h0m-6 2h0m6 2h0m-7 2h0m1 0h0m3 0h0m0 1h0m2 0h0m-3 1h0m0 5h0m0 1h0m1 0h0m-2 2h0m3 0h0m1 0h0m-4 1h0m6 0h0m-6 3h0m5 0h0m1 0h0m1 0h0m-5 1h0m-5 2h0m10 0h0m-5 1h0m2 0h0m3 0h0m-4 1h0m3 3h0m-6 3h0m2 1h0m-4 1h0m1 1h0m1 0h0m7 0h0m-7 2h0" stroke="#0a0a0a" stroke-width="2.3" stroke-linecap="square" fill="none"/>
<path d="M454.0 128.6H701.4V333.2" stroke="#6a6a6a" stroke-width="1.3" fill="none"/>
<path d="M454.0 128.0V333.2H702.0" stroke="#111" stroke-width="1.7" fill="none"/>
<path d="M454.0 333.2v5M469.5 333.2v2.2M485.5 333.2v2.2M500.5 333.2v2.2M515.8 333.2v5M531.3 333.2v2.2M547.3 333.2v2.2M562.3 333.2v2.2M577.6 333.2v5M593.1 333.2v2.2M609.1 333.2v2.2M624.1 333.2v2.2M639.4 333.2v5M654.9 333.2v2.2M670.9 333.2v2.2M685.9 333.2v2.2M701.2 333.2v5M454.0 143.8h-4M454.0 180.2h-4M454.0 217.6h-4M454.0 254.6h-4M454.0 290.9h-4M454.0 327.9h-4" stroke="#222" stroke-width="1.1" fill="none"/>
<line x1="452.9" y1="131.6" x2="452.9" y2="331.2" stroke="#444" stroke-width="0.9" stroke-dasharray="0.8 2.9"/>
<text transform="translate(612.8 178.1) scale(0.916 1)" font-size="22.5" style="fill:#2a50a4">5%</text>
<text transform="translate(599.0 235.5) scale(1.032 1)" font-size="22.5" style="fill:#e8262c">18%</text>
<rect x="185.2" y="354.4" width="247.4" height="204.6" fill="#fff"/>
<polygon points="232.1,373.3 236.7,374.2 238.1,374.0 238.0,373.1 241.4,373.6 244.3,374.8 246.1,373.9 247.6,373.0 248.2,375.2 252.2,374.7 252.1,374.8 253.8,373.8 258.2,375.8 258.3,374.0 260.0,374.6 263.8,373.1 265.5,375.8 268.2,373.6 268.1,374.6 272.7,375.7 274.4,375.2 276.3,375.8 275.1,375.0 275.1,379.8 274.2,380.0 276.6,382.8 275.1,384.1 276.3,386.9 276.8,388.1 275.5,391.4 275.2,391.8 275.4,393.4 272.3,392.0 269.3,394.1 267.8,392.9 266.3,392.9 265.1,393.2 261.5,393.2 261.0,395.2 258.1,393.7 254.5,395.4 252.9,395.6 251.2,394.4 250.3,393.4 247.7,396.0 245.8,394.8 242.0,395.3 242.1,394.9 240.9,398.7 241.7,399.3 238.9,400.7 239.7,404.2 239.1,407.4 239.5,408.6 237.1,408.7 238.3,411.0 236.9,415.9 233.8,413.3 234.2,414.6 230.2,415.1 231.4,412.3 232.3,409.9 231.8,408.3 232.1,406.9 231.0,403.1 230.6,402.1 230.9,400.6 231.1,397.2 232.3,396.2 231.1,394.5 231.6,392.5 233.5,389.8 231.1,387.7 232.4,386.7 231.9,385.2 232.7,382.3 233.2,380.1 233.4,379.4 231.8,376.4" fill="#2a50a4" opacity="0.7"/>
<path transform="translate(185.2 354.4) scale(.5)" d="M0 0m203 27h0m-118 1h0m15 4h0m16 0h0m2 0h0m20 0h0m8 0h0m20 0h0m-70 1h0m12 0h0m6 0h0m5 0h0m15 0h0m-36 1h0m4 0h0m14 0h0m11 0h0m3 0h0m18 0h0m4 0h0m7 0h0m4 0h0m-82 1h0m29 0h0m3 0h0m1 0h0m14 0h0m3 0h0m7 0h0m3 0h0m1 0h0m6 0h0m3 0h0m14 0h0m1 0h0m-43 1h0m5 0h0m7 0h0m10 0h0m3 0h0m10 0h0m6 0h0m2 0h0m15 0h0m-75 1h0m15 0h0m3 0h0m5 0h0m2 0h0m2 0h0m5 0h0m1 0h0m5 0h0m9 0h0m8 0h0m7 0h0m1 0h0m-68 1h0m6 0h0m9 0h0m3 0h0m7 0h0m2 0h0m6 0h0m1 0h0m15 0h0m8 0h0m6 0h0m6 0h0m1 0h0m3 0h0m3 0h0m1 0h0m7 0h0m12 0h0m-100 1h0m3 0h0m9 0h0m6 0h0m1 0h0m11 0h0m6 0h0m6 0h0m3 0h0m8 0h0m7 0h0m2 0h0m3 0h0m-67 1h0m9 0h0m5 0h0m6 0h0m4 0h0m3 0h0m5 0h0m5 0h0m11 0h0m2 0h0m1 0h0m9 0h0m4 0h0m6 0h0m5 0h0m5 0h0m1 0h0m-82 1h0m7 0h0m6 0h0m1 0h0m5 0h0m4 0h0m4 0h0m2 0h0m7 0h0m5 0h0m2 0h0m3 0h0m1 0h0m1 0h0m3 0h0m3 0h0m2 0h0m2 0h0m3 0h0m1 0h0m3 0h0m4 0h0m8 0h0m4 0h0m3 0h0m-85 1h0m6 0h0m5 0h0m1 0h0m7 0h0m7 0h0m1 0h0m6 0h0m1 0h0m1 0h0m13 0h0m10 0h0m3 0h0m2 0h0m2 0h0m3 0h0m12 0h0m4 0h0m1 0h0m2 0h0m-84 1h0m5 0h0m6 0h0m11 0h0m6 0h0m7 0h0m12 0h0m5 0h0m2 0h0m1 0h0m9 0h0m6 0h0m5 0h0m1 0h0m4 0h0m3 0h0m-81 1h0m2 0h0m1 0h0m4 0h0m1 0h0m2 0h0m7 0h0m3 0h0m1 0h0m1 0h0m3 0h0m3 0h0m2 0h0m17 0h0m3 0h0m2 0h0m6 0h0m2 0h0m4 0h0m3 0h0m4 0h0m6 0h0m1 0h0m3 0h0m-79 1h0m7 0h0m1 0h0m1 0h0m2 0h0m8 0h0m2 0h0m1 0h0m1 0h0m7 0h0m2 0h0m2 0h0m8 0h0m1 0h0m4 0h0m2 0h0m5 0h0m2 0h0m4 0h0m1 0h0m2 0h0m6 0h0m1 0h0m1 0h0m11 0h0m1 0h0m-94 1h0m12 0h0m1 0h0m3 0h0m4 0h0m7 0h0m8 0h0m3 0h0m3 0h0m13 0h0m5 0h0m2 0h0m3 0h0m10 0h0m3 0h0m2 0h0m1 0h0m4 0h0m3 0h0m-81 1h0m3 0h0m6 0h0m3 0h0m4 0h0m2 0h0m3 0h0m3 0h0m9 0h0m6 0h0m4 0h0m7 0h0m7 0h0m3 0h0m3 0h0m1 0h0m5 0h0m1 0h0m6 0h0m4 0h0m4 0h0m-86 1h0m3 0h0m30 0h0m11 0h0m3 0h0m2 0h0m4 0h0m1 0h0m3 0h0m1 0h0m7 0h0m4 0h0m2 0h0m3 0h0m2 0h0m4 0h0m2 0h0m-79 1h0m4 0h0m7 0h0m6 0h0m3 0h0m2 0h0m5 0h0m2 0h0m2 0h0m10 0h0m2 0h0m8 0h0m13 0h0m1 0h0m2 0h0m1 0h0m4 0h0m3 0h0m3 0h0m2 0h0m3 0h0m1 0h0m-83 1h0m2 0h0m7 0h0m26 0h0m2 0h0m2 0h0m1 0h0m3 0h0m3 0h0m2 0h0m10 0h0m1 0h0m7 0h0m1 0h0m1 0h0m4 0h0m9 0h0m1 0h0m7 0h0m-91 1h0m7 0h0m1 0h0m7 0h0m1 0h0m2 0h0m4 0h0m5 0h0m4 0h0m2 0h0m7 0h0m1 0h0m3 0h0m4 0h0m2 0h0m11 0h0m5 0h0m5 0h0m11 0h0m-78 1h0m2 0h0m5 0h0m1 0h0m5 0h0m5 0h0m3 0h0m1 0h0m6 0h0m6 0h0m7 0h0m1 0h0m3 0h0m2 0h0m10 0h0m2 0h0m5 0h0m15 0h0m1 0h0m22 0h0m-102 1h0m4 0h0m3 0h0m1 0h0m1 0h0m10 0h0m18 0h0m2 0h0m3 0h0m1 0h0m2 0h0m4 0h0m1 0h0m11 0h0m2 0h0m16 0h0m-79 1h0m9 0h0m1 0h0m7 0h0m3 0h0m9 0h0m6 0h0m4 0h0m2 0h0m2 0h0m2 0h0m3 0h0m5 0h0m2 0h0m5 0h0m6 0h0m6 0h0m8 0h0m5 0h0m-85 1h0m1 0h0m5 0h0m5 0h0m9 0h0m4 0h0m4 0h0m2 0h0m1 0h0m8 0h0m8 0h0m1 0h0m4 0h0m1 0h0m4 0h0m2 0h0m7 0h0m7 0h0m4 0h0m5 0h0m-77 1h0m16 0h0m1 0h0m2 0h0m11 0h0m6 0h0m2 0h0m2 0h0m2 0h0m11 0h0m1 0h0m2 0h0m7 0h0m1 0h0m1 0h0m3 0h0m4 0h0m-84 1h0m1 0h0m4 0h0m10 0h0m8 0h0m4 0h0m6 0h0m7 0h0m3 0h0m1 0h0m1 0h0m1 0h0m3 0h0m7 0h0m1 0h0m7 0h0m5 0h0m3 0h0m6 0h0m2 0h0m1 0h0m9 0h0m-86 1h0m5 0h0m1 0h0m11 0h0m13 0h0m1 0h0m5 0h0m2 0h0m5 0h0m2 0h0m4 0h0m3 0h0m1 0h0m1 0h0m3 0h0m3 0h0m2 0h0m3 0h0m3 0h0m2 0h0m4 0h0m-77 1h0m6 0h0m2 0h0m4 0h0m1 0h0m15 0h0m4 0h0m5 0h0m1 0h0m6 0h0m8 0h0m9 0h0m5 0h0m1 0h0m1 0h0m4 0h0m1 0h0m5 0h0m1 0h0m6 0h0m26 0h0m-108 1h0m13 0h0m3 0h0m4 0h0m1 0h0m2 0h0m2 0h0m11 0h0m4 0h0m3 0h0m3 0h0m8 0h0m12 0h0m7 0h0m5 0h0m4 0h0m-74 1h0m5 0h0m8 0h0m1 0h0m1 0h0m2 0h0m2 0h0m13 0h0m5 0h0m2 0h0m11 0h0m4 0h0m4 0h0m7 0h0m1 0h0m1 0h0m3 0h0m3 0h0m8 0h0m-82 1h0m2 0h0m3 0h0m1 0h0m3 0h0m6 0h0m5 0h0m8 0h0m14 0h0m2 0h0m7 0h0m2 0h0m17 0h0m4 0h0m2 0h0m4 0h0m-85 1h0m20 0h0m8 0h0m2 0h0m4 0h0m4 0h0m17 0h0m9 0h0m15 0h0m-86 1h0m6 0h0m4 0h0m8 0h0m2 0h0m4 0h0m2 0h0m3 0h0m2 0h0m2 0h0m12 0h0m13 0h0m2 0h0m2 0h0m1 0h0m6 0h0m15 0h0m1 0h0m-84 1h0m6 0h0m2 0h0m2 0h0m2 0h0m5 0h0m3 0h0m6 0h0m2 0h0m3 0h0m1 0h0m1 0h0m4 0h0m5 0h0m4 0h0m3 0h0m3 0h0m1 0h0m6 0h0m1 0h0m3 0h0m2 0h0m6 0h0m13 0h0m-85 1h0m1 0h0m11 0h0m8 0h0m3 0h0m3 0h0m2 0h0m17 0h0m1 0h0m1 0h0m2 0h0m1 0h0m1 0h0m7 0h0m2 0h0m6 0h0m4 0h0m2 0h0m2 0h0m1 0h0m6 0h0m5 0h0m-79 1h0m4 0h0m1 0h0m2 0h0m1 0h0m4 0h0m3 0h0m3 0h0m2 0h0m1 0h0m6 0h0m1 0h0m22 0h0m3 0h0m1 0h0m1 0h0m3 0h0m7 0h0m4 0h0m1 0h0m1 0h0m3 0h0m10 0h0m-82 1h0m3 0h0m5 0h0m1 0h0m1 0h0m9 0h0m3 0h0m8 0h0m3 0h0m4 0h0m6 0h0m3 0h0m4 0h0m2 0h0m9 0h0m6 0h0m2 0h0m4 0h0m1 0h0m1 0h0m7 0h0m-86 1h0m11 0h0m2 0h0m3 0h0m2 0h0m13 0h0m5 0h0m3 0h0m1 0h0m3 0h0m1 0h0m3 0h0m3 0h0m1 0h0m3 0h0m6 0h0m5 0h0m5 0h0m2 0h0m5 0h0m2 0h0m1 0h0m-80 1h0m4 0h0m1 0h0m2 0h0m5 0h0m12 0h0m12 0h0m1 0h0m1 0h0m1 0h0m1 0h0m9 0h0m6 0h0m13 0h0m2 0h0m2 0h0m9 0h0m8 0h0m-88 1h0m1 0h0m18 0h0m6 0h0m1 0h0m10 0h0m2 0h0m12 0h0m1 0h0m3 0h0m4 0h0m17 0h0m4 0h0m1 0h0m2 0h0m-82 1h0m3 0h0m1 0h0m2 0h0m10 0h0m7 0h0m3 0h0m2 0h0m3 0h0m4 0h0m5 0h0m1 0h0m5 0h0m3 0h0m4 0h0m2 0h0m1 0h0m4 0h0m3 0h0m2 0h0m6 0h0m1 0h0m6 0h0m4 0h0m1 0h0m-88 1h0m9 0h0m1 0h0m3 0h0m4 0h0m15 0h0m3 0h0m1 0h0m4 0h0m4 0h0m14 0h0m22 0h0m3 0h0m7 0h0m-87 1h0m18 0h0m1 0h0m1 0h0m5 0h0m2 0h0m12 0h0m1 0h0m1 0h0m2 0h0m2 0h0m1 0h0m3 0h0m13 0h0m3 0h0m4 0h0m2 0h0m4 0h0m5 0h0m5 0h0m1 0h0m4 0h0m-92 1h0m5 0h0m1 0h0m9 0h0m6 0h0m3 0h0m5 0h0m10 0h0m10 0h0m6 0h0m3 0h0m9 0h0m1 0h0m3 0h0m4 0h0m3 0h0m6 0h0m-85 1h0m21 0h0m1 0h0m4 0h0m1 0h0m5 0h0m5 0h0m2 0h0m2 0h0m1 0h0m2 0h0m1 0h0m3 0h0m6 0h0m3 0h0m3 0h0m1 0h0m1 0h0m5 0h0m7 0h0m4 0h0m3 0h0m3 0h0m-75 1h0m5 0h0m3 0h0m1 0h0m6 0h0m4 0h0m6 0h0m1 0h0m5 0h0m1 0h0m3 0h0m9 0h0m4 0h0m3 0h0m9 0h0m1 0h0m5 0h0m2 0h0m5 0h0m-72 1h0m3 0h0m5 0h0m6 0h0m1 0h0m14 0h0m1 0h0m6 0h0m3 0h0m1 0h0m5 0h0m3 0h0m1 0h0m3 0h0m6 0h0m7 0h0m4 0h0m7 0h0m2 0h0m-75 1h0m1 0h0m1 0h0m4 0h0m3 0h0m2 0h0m9 0h0m2 0h0m5 0h0m1 0h0m3 0h0m6 0h0m4 0h0m8 0h0m2 0h0m3 0h0m8 0h0m1 0h0m10 0h0m-77 1h0m8 0h0m3 0h0m3 0h0m3 0h0m1 0h0m16 0h0m5 0h0m2 0h0m16 0h0m1 0h0m2 0h0m2 0h0m4 0h0m5 0h0m6 0h0m2 0h0m-75 1h0m7 0h0m1 0h0m2 0h0m3 0h0m14 0h0m2 0h0m3 0h0m3 0h0m2 0h0m2 0h0m2 0h0m4 0h0m5 0h0m8 0h0m1 0h0m1 0h0m1 0h0m1 0h0m3 0h0m3 0h0m11 0h0m-93 1h0m5 0h0m1 0h0m8 0h0m5 0h0m3 0h0m4 0h0m4 0h0m2 0h0m2 0h0m1 0h0m3 0h0m18 0h0m1 0h0m4 0h0m4 0h0m5 0h0m4 0h0m2 0h0m4 0h0m1 0h0m1 0h0m5 0h0m1 0h0m1 0h0m2 0h0m-88 1h0m14 0h0m10 0h0m2 0h0m1 0h0m7 0h0m6 0h0m1 0h0m4 0h0m2 0h0m11 0h0m8 0h0m2 0h0m5 0h0m3 0h0m2 0h0m1 0h0m-78 1h0m2 0h0m2 0h0m6 0h0m11 0h0m9 0h0m2 0h0m3 0h0m12 0h0m5 0h0m10 0h0m1 0h0m2 0h0m1 0h0m6 0h0m1 0h0m3 0h0m1 0h0m13 0h0m-90 1h0m9 0h0m5 0h0m7 0h0m1 0h0m6 0h0m2 0h0m3 0h0m3 0h0m12 0h0m8 0h0m1 0h0m5 0h0m12 0h0m10 0h0m3 0h0m-86 1h0m3 0h0m4 0h0m1 0h0m3 0h0m7 0h0m6 0h0m2 0h0m1 0h0m3 0h0m2 0h0m1 0h0m3 0h0m3 0h0m9 0h0m10 0h0m2 0h0m9 0h0m3 0h0m3 0h0m4 0h0m2 0h0m3 0h0m6 0h0m-88 1h0m2 0h0m2 0h0m1 0h0m24 0h0m14 0h0m7 0h0m6 0h0m1 0h0m2 0h0m1 0h0m5 0h0m1 0h0m1 0h0m2 0h0m1 0h0m2 0h0m7 0h0m9 0h0m26 0h0m-121 1h0m1 0h0m2 0h0m1 0h0m4 0h0m6 0h0m2 0h0m16 0h0m1 0h0m31 0h0m1 0h0m6 0h0m1 0h0m3 0h0m5 0h0m13 0h0m3 0h0m-94 1h0m1 0h0m6 0h0m5 0h0m2 0h0m3 0h0m15 0h0m14 0h0m10 0h0m5 0h0m1 0h0m4 0h0m2 0h0m2 0h0m8 0h0m1 0h0m6 0h0m2 0h0m1 0h0m3 0h0m-94 1h0m3 0h0m4 0h0m1 0h0m1 0h0m1 0h0m1 0h0m1 0h0m1 0h0m3 0h0m6 0h0m2 0h0m1 0h0m1 0h0m11 0h0m1 0h0m3 0h0m9 0h0m8 0h0m10 0h0m7 0h0m3 0h0m11 0h0m11 0h0m-100 1h0m2 0h0m2 0h0m2 0h0m7 0h0m2 0h0m6 0h0m20 0h0m14 0h0m5 0h0m15 0h0m3 0h0m4 0h0m7 0h0m-87 1h0m1 0h0m4 0h0m2 0h0m1 0h0m1 0h0m5 0h0m2 0h0m5 0h0m3 0h0m1 0h0m15 0h0m1 0h0m8 0h0m1 0h0m6 0h0m12 0h0m7 0h0m9 0h0m10 0h0m1 0h0m-95 1h0m3 0h0m1 0h0m1 0h0m1 0h0m2 0h0m3 0h0m4 0h0m71 0h0m2 0h0m5 0h0m-99 1h0m13 0h0m1 0h0m4 0h0m4 0h0m10 0h0m3 0h0m39 0h0m2 0h0m14 0h0m2 0h0m7 0h0m-94 1h0m2 0h0m4 0h0m1 0h0m3 0h0m6 0h0m2 0h0m4 0h0m11 0h0m23 0h0m4 0h0m3 0h0m4 0h0m10 0h0m1 0h0m2 0h0m5 0h0m9 0h0m-92 1h0m1 0h0m3 0h0m3 0h0m2 0h0m1 0h0m4 0h0m5 0h0m6 0h0m26 0h0m8 0h0m14 0h0m7 0h0m6 0h0m1 0h0m7 0h0m-87 1h0m1 0h0m3 0h0m27 0h0m38 0h0m14 0h0m1 0h0m3 0h0m-96 1h0m10 0h0m1 0h0m3 0h0m2 0h0m46 0h0m4 0h0m5 0h0m2 0h0m7 0h0m4 0h0m1 0h0m2 0h0m1 0h0m-91 1h0m1 0h0m3 0h0m4 0h0m1 0h0m1 0h0m10 0h0m51 0h0m9 0h0m1 0h0m-79 1h0m9 0h0m1 0h0m4 0h0m6 0h0m26 0h0m19 0h0m9 0h0m10 0h0m8 0h0m8 0h0m-98 1h0m4 0h0m2 0h0m7 0h0m48 0h0m3 0h0m11 0h0m7 0h0m6 0h0m-87 1h0m2 0h0m2 0h0m7 0h0m1 0h0m2 0h0m12 0h0m6 0h0m11 0h0m8 0h0m6 0h0m6 0h0m20 0h0m2 0h0m2 0h0m1 0h0m6 0h0m-98 1h0m5 0h0m1 0h0m2 0h0m2 0h0m6 0h0m49 0h0m8 0h0m7 0h0m3 0h0m5 0h0m2 0h0m4 0h0m-91 1h0m2 0h0m1 0h0m4 0h0m3 0h0m3 0h0m24 0h0m18 0h0m11 0h0m15 0h0m2 0h0m2 0h0m1 0h0m7 0h0m-94 1h0m1 0h0m4 0h0m5 0h0m2 0h0m2 0h0m11 0h0m45 0h0m18 0h0m23 0h0m-112 1h0m1 0h0m4 0h0m1 0h0m1 0h0m1 0h0m6 0h0m1 0h0m3 0h0m40 0h0m3 0h0m2 0h0m17 0h0m10 0h0m7 0h0m-95 1h0m8 0h0m1 0h0m2 0h0m1 0h0m1 0h0m12 0h0m46 0h0m1 0h0m-56 1h0m55 0h0m3 0h0m1 0h0m3 0h0m-78 1h0m3 0h0m3 0h0m7 0h0m21 0h0m10 0h0m25 0h0m12 0h0m3 0h0m1 0h0m9 0h0m-96 1h0m1 0h0m4 0h0m3 0h0m1 0h0m2 0h0m2 0h0m1 0h0m1 0h0m22 0h0m36 0h0m18 0h0m2 0h0m23 0h0m-113 1h0m2 0h0m8 0h0m3 0h0m26 0h0m8 0h0m15 0h0m5 0h0m7 0h0m2 0h0m1 0h0m15 0h0m1 0h0m-89 1h0m5 0h0m1 0h0m5 0h0m25 0h0m20 0h0m3 0h0m11 0h0m5 0h0m1 0h0m1 0h0m1 0h0m1 0h0m1 0h0m3 0h0m5 0h0m5 0h0m-96 1h0m9 0h0m3 0h0m38 0h0m7 0h0m6 0h0m15 0h0m7 0h0m1 0h0m5 0h0m4 0h0m-97 1h0m3 0h0m4 0h0m6 0h0m1 0h0m1 0h0m20 0h0m16 0h0m28 0h0m-79 1h0m5 0h0m2 0h0m2 0h0m3 0h0m53 0h0m10 0h0m8 0h0m8 0h0m-87 1h0m6 0h0m2 0h0m9 0h0m47 0h0m1 0h0m3 0h0m15 0h0m41 0h0m-129 1h0m9 0h0m21 0h0m23 0h0m12 0h0m-57 1h0m57 0h0m2 0h0m5 0h0m9 0h0m6 0h0m1 0h0m2 0h0m3 0h0m-89 1h0m1 0h0m4 0h0m61 0h0m-69 1h0m3 0h0m9 0h0m3 0h0m4 0h0m43 0h0m1 0h0m2 0h0m18 0h0m6 0h0m-85 1h0m6 0h0m6 0h0m17 0h0m3 0h0m33 0h0m15 0h0m5 0h0m19 0h0m-108 1h0m8 0h0m1 0h0m21 0h0m35 0h0m5 0h0m14 0h0m-84 1h0m10 0h0m4 0h0m3 0h0m36 0h0m18 0h0m19 0h0m7 0h0m-102 1h0m8 0h0m8 0h0m21 0h0m28 0h0m1 0h0m9 0h0m14 0h0m-70 1h0m65 0h0m15 0h0m-95 1h0m1 0h0m5 0h0m4 0h0m5 0h0m16 0h0m33 0h0m4 0h0m3 0h0m2 0h0m8 0h0m4 0h0m9 0h0m-91 1h0m2 0h0m9 0h0m35 0h0m31 0h0m8 0h0m-88 1h0m3 0h0m2 0h0m8 0h0m2 0h0m42 0h0m6 0h0m27 0h0m-76 1h0m2 0h0m6 0h0m41 0h0m10 0h0m9 0h0m11 0h0m-94 1h0m6 0h0m1 0h0m9 0h0m25 0h0m22 0h0m3 0h0m1 0h0m1 0h0m1 0h0m7 0h0m6 0h0m8 0h0m-89 1h0m2 0h0m1 0h0m1 0h0m1 0h0m6 0h0m1 0h0m4 0h0m3 0h0m40 0h0m4 0h0m3 0h0m8 0h0m1 0h0m10 0h0m-86 1h0m10 0h0m8 0h0m11 0h0m9 0h0m30 0h0m2 0h0m2 0h0m1 0h0m23 0h0m2 0h0m-95 1h0m3 0h0m6 0h0m40 0h0m9 0h0m9 0h0m36 0h0m-98 1h0m8 0h0m1 0h0m51 0h0m-62 1h0m1 0h0m3 0h0m5 0h0m48 0h0m20 0h0m1 0h0m2 0h0m10 0h0m-92 1h0m47 0h0m17 0h0m28 0h0m-86 1h0m1 0h0m1 0h0m7 0h0m38 0h0m7 0h0m11 0h0m7 0h0m-78 1h0m1 0h0m3 0h0m1 0h0m1 0h0m8 0h0m44 0h0m10 0h0m4 0h0m5 0h0m1 0h0m5 0h0m4 0h0m2 0h0m3 0h0m-97 1h0m2 0h0m14 0h0m2 0h0m44 0h0m4 0h0m10 0h0m15 0h0m6 0h0m-95 1h0m1 0h0m1 0h0m4 0h0m3 0h0m8 0h0m61 0h0m12 0h0m-91 1h0m5 0h0m4 0h0m78 0h0m3 0h0m-80 1h0m2 0h0m1 0h0m1 0h0m45 0h0m14 0h0m5 0h0m11 0h0m5 0h0m-87 1h0m54 0h0m10 0h0m14 0h0m5 0h0m3 0h0m-92 1h0m8 0h0m5 0h0m1 0h0m59 0h0m19 0h0m1 0h0m-87 1h0m1 0h0m3 0h0m61 0h0m13 0h0m2 0h0m-91 1h0m6 0h0m3 0h0m10 0h0m59 0h0m5 0h0m-80 1h0m3 0h0m5 0h0m11 0h0m49 0h0m20 0h0m-84 1h0m12 0h0m2 0h0m46 0h0m6 0h0m1 0h0m9 0h0m4 0h0m3 0h0m-80 1h0m9 0h0m1 0h0m62 0h0m-64 1h0m7 0h0m43 0h0m6 0h0m5 0h0m8 0h0m-73 1h0m3 0h0m47 0h0m18 0h0m15 0h0m-87 1h0m3 0h0m4 0h0m64 0h0m-73 1h0m5 0h0m58 0h0m6 0h0m18 0h0m-84 1h0m74 0h0m-17 1h0m35 0h0" stroke="#2a50a4" stroke-width="2.5" stroke-linecap="square" fill="none"/>
<polygon points="228.3,454.2 229.1,454.6 232.1,453.5 233.5,452.4 236.2,451.7 236.5,452.2 238.9,450.3 241.1,450.5 241.8,450.1 244.0,451.6 244.2,450.5 246.8,451.2 247.4,450.2 248.5,450.6 251.5,450.2 251.4,451.9 250.4,452.8 250.2,453.9 249.5,455.7 248.0,458.2 246.4,458.4 246.1,460.0 245.4,462.5 245.0,463.8 244.2,464.6 242.3,465.9 241.7,468.2 242.2,468.4 239.9,471.3 240.2,472.4 238.9,474.7 238.4,476.5 238.4,478.0 237.4,479.4 238.0,481.0 237.5,482.7 235.9,485.0 236.7,486.3 236.6,487.7 236.3,489.1 235.3,491.0 234.0,492.8 233.7,492.5 231.1,492.6 230.3,492.4 228.7,488.6 228.6,489.0 228.3,485.9 229.5,483.7 228.7,482.9 228.9,481.9 227.4,479.1 226.8,478.1 227.4,476.7 227.1,473.7 226.9,472.7 226.1,470.4 226.2,469.7 227.5,467.0 228.1,465.8 227.0,463.5 227.7,462.8 228.5,460.2 227.3,460.1 228.3,457.2 227.7,455.2" fill="#0a0a0a"/>
<path transform="translate(185.2 354.4) scale(.5)" d="M0 0m180 39h0m117 36h0m-53 40h0m-140 8h0m-11 30h0m1 0h0m5 0h0m2 0h0m2 1h0m-16 1h0m8 0h0m0 1h0m77 0h0m8 0h0m11 0h0m-106 1h0m7 0h0m13 0h0m4 0h0m-21 1h0m8 0h0m5 0h0m-10 1h0m12 0h0m-7 1h0m-10 1h0m13 0h0m3 0h0m-2 1h0m2 0h0m44 1h0m21 0h0m-81 1h0m7 0h0m1 0h0m2 0h0m6 0h0m1 0h0m65 0h0m-75 1h0m1 0h0m82 0h0m109 0h0m-195 1h0m1 0h0m17 0h0m1 0h0m46 0h0m2 0h0m-64 1h0m2 0h0m3 0h0m1 0h0m5 0h0m12 0h0m17 0h0m23 0h0m-68 1h0m4 0h0m1 0h0m6 0h0m2 0h0m11 0h0m57 0h0m11 0h0m-75 1h0m-8 1h0m2 0h0m1 0h0m45 0h0m41 0h0m-98 1h0m3 0h0m2 0h0m2 0h0m2 0h0m3 0h0m7 0h0m4 0h0m1 0h0m40 0h0m5 0h0m256 0h0m-322 1h0m5 0h0m1 0h0m3 0h0m4 0h0m70 0h0m-84 1h0m10 0h0m32 0h0m12 0h0m49 0h0m-99 1h0m6 0h0m1 0h0m-12 1h0m3 0h0m2 0h0m4 0h0m1 0h0m7 0h0m1 0h0m17 0h0m-36 1h0m7 0h0m6 0h0m2 0h0m3 0h0m51 0h0m5 0h0m15 0h0m32 0h0m-110 1h0m5 0h0m-16 1h0m1 0h0m2 0h0m6 0h0m6 0h0m6 0h0m3 0h0m68 0h0m-92 1h0m2 0h0m4 0h0m1 0h0m2 0h0m2 0h0m2 0h0m13 0h0m44 0h0m-76 1h0m8 0h0m7 0h0m1 0h0m53 0h0m-64 1h0m7 0h0m8 0h0m3 0h0m13 0h0m-25 1h0m4 0h0m1 0h0m2 0h0m9 0h0m1 0h0m4 0h0m15 0h0m-48 1h0m11 0h0m5 0h0m2 0h0m1 0h0m6 0h0m7 0h0m4 0h0m34 0h0m5 0h0m20 0h0m2 0h0m-78 1h0m1 0h0m2 0h0m63 0h0m-77 1h0m6 0h0m2 0h0m2 0h0m74 0h0m16 0h0m-105 1h0m3 0h0m2 0h0m1 0h0m5 0h0m11 0h0m45 0h0m12 0h0m7 0h0m12 0h0m-92 1h0m2 0h0m1 0h0m1 0h0m1 0h0m7 0h0m21 0h0m46 0h0m14 0h0m-91 1h0m2 0h0m3 0h0m2 0h0m2 0h0m3 0h0m31 0h0m5 0h0m19 0h0m12 0h0m1 0h0m1 0h0m-97 1h0m15 0h0m6 0h0m1 0h0m10 0h0m7 0h0m33 0h0m8 0h0m-67 1h0m5 0h0m3 0h0m5 0h0m1 0h0m13 0h0m51 0h0m-78 1h0m4 0h0m7 0h0m2 0h0m1 0h0m10 0h0m31 0h0m10 0h0m29 0h0m-100 1h0m10 0h0m2 0h0m1 0h0m8 0h0m3 0h0m2 0h0m18 0h0m3 0h0m9 0h0m-41 1h0m3 0h0m8 0h0m7 0h0m26 0h0m49 0h0m-94 1h0m3 0h0m1 0h0m4 0h0m7 0h0m3 0h0m1 0h0m39 0h0m-63 1h0m1 0h0m2 0h0m1 0h0m9 0h0m57 0h0m3 0h0m80 0h0m5 0h0m-165 1h0m7 0h0m1 0h0m8 0h0m1 0h0m8 0h0m5 0h0m2 0h0m2 0h0m2 0h0m4 0h0m32 0h0m10 0h0m23 0h0m46 0h0m-146 1h0m18 0h0m7 0h0m60 0h0m37 0h0m-133 1h0m21 0h0m7 0h0m4 0h0m9 0h0m9 0h0m27 0h0m5 0h0m-74 1h0m8 0h0m7 0h0m5 0h0m22 0h0m2 0h0m14 0h0m66 0h0m-117 1h0m2 0h0m4 0h0m1 0h0m1 0h0m18 0h0m6 0h0m3 0h0m11 0h0m4 0h0m24 0h0m13 0h0m-80 1h0m1 0h0m3 0h0m1 0h0m1 0h0m2 0h0m1 0h0m1 0h0m2 0h0m17 0h0m12 0h0m4 0h0m19 0h0m1 0h0m23 0h0m3 0h0m-97 1h0m18 0h0m4 0h0m2 0h0m2 0h0m4 0h0m37 0h0m24 0h0m-106 1h0m6 0h0m8 0h0m6 0h0m11 0h0m10 0h0m7 0h0m26 0h0m1 0h0m-59 1h0m8 0h0m6 0h0m3 0h0m1 0h0m10 0h0m23 0h0m8 0h0m8 0h0m7 0h0m-80 1h0m6 0h0m11 0h0m2 0h0m1 0h0m18 0h0m3 0h0m43 0h0m33 0h0m-115 1h0m1 0h0m3 0h0m1 0h0m3 0h0m1 0h0m11 0h0m6 0h0m41 0h0m28 0h0m15 0h0m-112 1h0m3 0h0m3 0h0m1 0h0m4 0h0m11 0h0m4 0h0m2 0h0m1 0h0m2 0h0m3 0h0m5 0h0m10 0h0m33 0h0m-79 1h0m5 0h0m3 0h0m1 0h0m1 0h0m2 0h0m16 0h0m2 0h0m3 0h0m4 0h0m38 0h0m-84 1h0m10 0h0m21 0h0m3 0h0m61 0h0m6 0h0m6 0h0m-100 1h0m8 0h0m9 0h0m11 0h0m4 0h0m17 0h0m20 0h0m29 0h0m37 0h0m16 0h0m-162 1h0m28 0h0m5 0h0m21 0h0m-34 1h0m8 0h0m3 0h0m6 0h0m13 0h0m21 0h0m37 0h0m-93 1h0m6 0h0m6 0h0m1 0h0m1 0h0m3 0h0m4 0h0m15 0h0m65 0h0m2 0h0m-112 1h0m5 0h0m2 0h0m1 0h0m2 0h0m2 0h0m4 0h0m2 0h0m7 0h0m12 0h0m9 0h0m-36 1h0m2 0h0m6 0h0m3 0h0m5 0h0m3 0h0m2 0h0m34 0h0m-71 1h0m9 0h0m8 0h0m2 0h0m6 0h0m8 0h0m1 0h0m16 0h0m19 0h0m10 0h0m-68 1h0m4 0h0m3 0h0m4 0h0m4 0h0m1 0h0m7 0h0m2 0h0m1 0h0m13 0h0m3 0h0m8 0h0m72 0h0m21 0h0m-150 1h0m10 0h0m1 0h0m4 0h0m1 0h0m2 0h0m4 0h0m8 0h0m3 0h0m32 0h0m-66 1h0m7 0h0m11 0h0m2 0h0m5 0h0m4 0h0m3 0h0m7 0h0m38 0h0m7 0h0m-83 1h0m6 0h0m5 0h0m2 0h0m2 0h0m1 0h0m1 0h0m4 0h0m2 0h0m2 0h0m4 0h0m3 0h0m8 0h0m46 0h0m-79 1h0m7 0h0m2 0h0m2 0h0m1 0h0m3 0h0m7 0h0m4 0h0m1 0h0m4 0h0m48 0h0m77 0h0m-158 1h0m3 0h0m1 0h0m23 0h0m20 0h0m13 0h0m25 0h0m-99 1h0m14 0h0m3 0h0m1 0h0m7 0h0m4 0h0m1 0h0m1 0h0m8 0h0m4 0h0m5 0h0m16 0h0m-59 1h0m5 0h0m4 0h0m6 0h0m3 0h0m1 0h0m1 0h0m29 0h0m31 0h0m-73 1h0m4 0h0m8 0h0m1 0h0m4 0h0m2 0h0m3 0h0m4 0h0m6 0h0m10 0h0m-36 1h0m1 0h0m5 0h0m4 0h0m3 0h0m2 0h0m5 0h0m-22 1h0m3 0h0m1 0h0m4 0h0m1 0h0m1 0h0m1 0h0m1 0h0m1 0h0m1 0h0m5 0h0m3 0h0m2 0h0m2 0h0m45 0h0m4 0h0m69 0h0m-142 1h0m7 0h0m3 0h0m1 0h0m3 0h0m1 0h0m6 0h0m6 0h0m-43 1h0m6 0h0m10 0h0m10 0h0m15 0h0m33 0h0m62 0h0m-127 1h0m6 0h0m4 0h0m3 0h0m1 0h0m1 0h0m5 0h0m7 0h0m5 0h0m-35 1h0m15 0h0m5 0h0m1 0h0m1 0h0m2 0h0m1 0h0m6 0h0m-43 1h0m13 0h0m5 0h0m1 0h0m5 0h0m2 0h0m1 0h0m1 0h0m3 0h0m2 0h0m1 0h0m1 0h0m1 0h0m1 0h0m6 0h0m1 0h0m22 0h0m-119 1h0m70 0h0m1 0h0m11 0h0m1 0h0m5 0h0m2 0h0m123 0h0m-146 1h0m3 0h0m4 0h0m2 0h0m1 0h0m1 0h0m2 0h0m1 0h0m5 0h0m1 0h0m9 0h0m13 0h0m52 0h0m-90 1h0m1 0h0m4 0h0m4 0h0m3 0h0m4 0h0m3 0h0m1 0h0m4 0h0m6 0h0m20 0h0m33 0h0m-93 1h0m18 0h0m2 0h0m5 0h0m2 0h0m2 0h0m2 0h0m6 0h0m3 0h0m11 0h0m32 0h0m-82 1h0m3 0h0m6 0h0m5 0h0m1 0h0m4 0h0m3 0h0m3 0h0m5 0h0m1 0h0m5 0h0m-29 1h0m9 0h0m3 0h0m1 0h0m3 0h0m5 0h0m-30 1h0m6 0h0m2 0h0m5 0h0m7 0h0m6 0h0m5 0h0m4 0h0m4 0h0m65 0h0m-105 1h0m9 0h0m9 0h0m3 0h0m1 0h0m8 0h0m1 0h0m-21 1h0m9 0h0m1 0h0m2 0h0m7 0h0m1 0h0m3 0h0m3 0h0m64 0h0m-81 1h0m2 0h0m1 0h0m8 0h0m11 0h0m-31 1h0m17 0h0m5 0h0m1 0h0m16 0h0m-29 1h0m6 0h0m2 0h0m72 0h0m-95 1h0m14 0h0m2 0h0m-27 1h0m23 0h0m3 0h0m7 0h0m1 0h0m2 0h0m1 0h0m-16 1h0m1 0h0m2 0h0m11 0h0m5 0h0m-19 1h0m3 0h0m3 0h0m6 0h0m-20 1h0m4 0h0m11 0h0m-12 1h0m11 0h0m1 0h0m21 0h0m-25 1h0m2 0h0m15 0h0m5 0h0m9 0h0m-16 1h0m-1 1h0m86 0h0m-110 1h0m8 0h0m10 0h0m4 0h0m9 0h0m-34 1h0m11 0h0m2 0h0m10 0h0m1 0h0m5 0h0m5 0h0m-16 1h0m3 0h0m8 0h0m11 0h0m51 0h0m-66 1h0m25 0h0m-46 1h0m7 0h0m1 0h0m9 0h0m1 0h0m5 0h0m-13 1h0m1 0h0m0 1h0m7 0h0m1 0h0m4 0h0m-27 1h0m29 0h0m4 0h0m-29 1h0m1 0h0m2 0h0m90 0h0m-100 1h0m9 0h0m3 0h0m8 0h0m1 0h0m7 0h0m3 0h0m1 0h0m-22 1h0m13 0h0m4 0h0m16 0h0m-39 1h0m7 0h0m6 0h0m6 0h0m5 0h0m-18 1h0m19 0h0m-19 1h0m14 0h0m6 0h0m7 0h0m-19 1h0m4 0h0m2 0h0m60 0h0m-77 1h0m3 0h0m4 0h0m6 0h0m-10 1h0m3 0h0m2 0h0m1 0h0m3 0h0m2 0h0m4 0h0m16 0h0m-35 1h0m2 0h0m1 0h0m6 0h0m1 0h0m1 0h0m-10 1h0m5 0h0m4 0h0m2 0h0m1 0h0m1 0h0m1 0h0m3 0h0m-18 1h0m2 0h0m1 0h0m1 0h0m3 0h0m1 0h0m1 0h0m3 0h0m1 0h0m-9 1h0m3 0h0m1 0h0m4 0h0m2 0h0m8 0h0m2 0h0m-23 1h0m2 0h0m3 0h0m4 0h0m4 0h0m-14 1h0m3 0h0m7 0h0m2 0h0m3 0h0m8 0h0m-20 1h0m2 0h0m5 0h0m2 0h0m-9 1h0m1 0h0m1 0h0m3 0h0m2 0h0m-5 1h0m5 0h0m2 0h0m3 0h0m-14 1h0m1 0h0m3 0h0m1 0h0m2 0h0m2 0h0m1 0h0m2 0h0m-12 1h0m9 0h0m4 0h0m6 0h0m21 0h0m-42 1h0m7 0h0m4 0h0m3 0h0m1 0h0m-1 1h0m-6 1h0m4 0h0m2 0h0m-17 1h0m10 0h0m3 0h0m-7 1h0m4 0h0m9 0h0m-16 1h0m9 0h0m-7 1h0m7 0h0m4 0h0m-6 1h0m6 0h0m2 0h0m-7 1h0m8 0h0m-17 1h0m4 0h0m2 0h0m2 0h0m1 0h0m6 0h0m2 0h0m-11 1h0m1 0h0m4 0h0m3 0h0m2 0h0m-9 1h0m-3 1h0m2 0h0m5 0h0m-2 1h0m-4 1h0m3 0h0m1 0h0m4 0h0m-7 1h0m2 0h0m-9 1h0m5 0h0m3 0h0m2 0h0m2 0h0m4 0h0m1 0h0m2 0h0m-18 1h0m0 1h0m1 0h0m3 0h0m3 0h0m4 0h0m-9 1h0m2 0h0m1 0h0m2 0h0m2 0h0m6 0h0m-14 1h0m8 0h0m2 0h0m1 0h0m4 0h0m-9 1h0m7 0h0m-9 1h0m1 0h0m2 0h0m8 0h0m-13 1h0m2 0h0m5 0h0m3 0h0m-8 2h0m1 0h0m-5 1h0m2 0h0m4 0h0m0 1h0m-7 1h0m3 0h0m8 0h0m-9 1h0m1 0h0m8 0h0m-1 1h0m-5 1h0m5 1h0m2 0h0m-7 1h0m11 0h0m1 0h0m-18 1h0m8 0h0m3 0h0m1 0h0m4 0h0m2 0h0m-16 1h0m6 0h0m-5 1h0m2 0h0m7 0h0m-8 1h0m3 0h0m2 0h0m-3 1h0m8 0h0m1 0h0m-11 1h0m1 0h0m9 0h0m-8 1h0m5 1h0m-7 1h0m8 1h0m-3 1h0m-3 2h0m-2 2h0m2 1h0m10 0h0m-10 5h0m3 5h0m10 1h0m-5 1h0m-12 1h0m14 5h0m-8 2h0m-5 1h0m15 0h0m-14 2h0m12 5h0m2 2h0m-15 2h0m7 0h0m-6 1h0m7 3h0m-8 3h0m9 3h0m-9 3h0m1 2h0m7 0h0" stroke="#0a0a0a" stroke-width="2.3" stroke-linecap="square" fill="none"/>
<path transform="translate(185.2 354.4) scale(.5)" d="M0 0m69 186h0m-7 2h0m11 0h0m-15 3h0m15 4h0m-9 4h0m-55 1h0m23 0h0m28 0h0m-39 1h0m11 0h0m18 1h0m23 0h0m-9 3h0m-4 1h0m7 0h0m8 1h0m-33 1h0m30 0h0m-34 1h0m2 0h0m15 0h0m21 0h0m-61 2h0m43 0h0m10 1h0m-6 1h0m7 0h0m-16 1h0m-13 1h0m13 0h0m20 0h0m-45 1h0m1 0h0m37 0h0m1 0h0m4 1h0m-7 1h0m6 0h0m-42 1h0m38 0h0m7 0h0m-14 1h0m-11 1h0m14 0h0m-3 1h0m10 0h0m-59 1h0m45 0h0m7 3h0m2 1h0m-1 1h0m2 0h0m9 0h0m-14 1h0m-9 1h0m16 1h0m-16 1h0m7 0h0m6 0h0m4 1h0m6 0h0m-11 1h0m-2 1h0m-2 1h0m1 0h0m-45 1h0m46 0h0m11 0h0m-48 1h0m33 0h0m9 0h0m-9 1h0m13 0h0m-63 1h0m57 0h0m5 0h0m2 0h0m-16 1h0m5 0h0m1 0h0m2 0h0m-17 1h0m30 1h0m-40 1h0m42 0h0m-22 1h0m-2 1h0m18 0h0m2 1h0m3 0h0m6 0h0m-74 1h0m50 0h0m-30 1h0m29 0h0m8 0h0m-6 1h0m-44 1h0m57 2h0m-33 3h0m3 0h0m21 0h0m-33 2h0m38 0h0m-6 6h0m-13 2h0m-25 6h0m41 1h0m3 1h0m-27 1h0m26 0h0m3 8h0m-9 1h0m-32 16h0m-13 1h0m3 1h0m-8 1h0m38 7h0m-35 2h0m12 4h0m-19 2h0m33 1h0m27 0h0m1 4h0m-58 10h0m41 2h0m15 0h0m-6 2h0m-28 15h0m27 1h0m-23 1h0" stroke="#e8262c" stroke-width="1.9" stroke-linecap="square" fill="none"/>
<path d="M185.2 354.4H432.6V559.0" stroke="#6a6a6a" stroke-width="1.3" fill="none"/>
<path d="M185.2 353.8V559.0H433.2" stroke="#111" stroke-width="1.7" fill="none"/>
<path d="M185.2 559.0v5M200.7 559.0v2.2M216.7 559.0v2.2M231.7 559.0v2.2M247.0 559.0v5M262.5 559.0v2.2M278.5 559.0v2.2M293.5 559.0v2.2M308.8 559.0v5M324.3 559.0v2.2M340.3 559.0v2.2M355.3 559.0v2.2M370.6 559.0v5M386.1 559.0v2.2M402.1 559.0v2.2M417.1 559.0v2.2M432.4 559.0v5M185.2 369.6h-4M185.2 406.0h-4M185.2 443.4h-4M185.2 480.4h-4M185.2 516.7h-4M185.2 553.7h-4" stroke="#222" stroke-width="1.1" fill="none"/>
<line x1="184.1" y1="357.4" x2="184.1" y2="557.0" stroke="#444" stroke-width="0.9" stroke-dasharray="0.8 2.9"/>
<text transform="translate(311.9 397.8) scale(1.032 1)" font-size="22.5" style="fill:#2a50a4">40%</text>
<text transform="translate(317.7 454.7) scale(0.916 1)" font-size="22.5" style="fill:#e8262c">1%</text>
<rect x="454.0" y="354.4" width="247.4" height="204.6" fill="#fff"/>
<path transform="translate(454.0 354.4) scale(.5)" d="M0 0m153 4h0m33 0h0m-14 3h0m14 1h0m6 2h0m-21 1h0m40 0h0m8 0h0m-79 1h0m52 1h0m13 1h0m18 0h0m-74 3h0m39 0h0m-13 1h0m16 3h0m-30 1h0m-9 1h0m0 1h0m12 0h0m8 0h0m34 0h0m4 2h0m-42 1h0m21 0h0m-32 1h0m11 0h0m24 0h0m17 0h0m-4 1h0m18 1h0m-51 1h0m7 0h0m-40 1h0m37 1h0m8 1h0m10 0h0m15 0h0m-79 1h0m1 0h0m28 0h0m31 0h0m-42 1h0m8 0h0m13 0h0m33 0h0m-56 1h0m11 0h0m12 0h0m31 0h0m-21 1h0m7 0h0m-45 1h0m44 0h0m-14 1h0m15 0h0m4 0h0m-51 1h0m42 0h0m32 0h0m6 0h0m-58 1h0m9 0h0m3 0h0m4 0h0m20 1h0m-19 1h0m-53 1h0m14 0h0m20 0h0m17 0h0m12 0h0m11 0h0m-54 2h0m18 0h0m28 0h0m-4 1h0m-45 1h0m23 0h0m23 0h0m-73 4h0m37 0h0m8 0h0m32 0h0m19 0h0m-88 1h0m14 0h0m20 0h0m4 0h0m36 0h0m3 0h0m-64 2h0m7 0h0m37 0h0m2 0h0m-38 1h0m35 0h0m-35 1h0m44 0h0m-33 1h0m4 0h0m12 0h0m38 0h0m-86 1h0m27 0h0m13 0h0m9 0h0m45 0h0m-74 1h0m14 0h0m24 0h0m8 1h0m23 0h0m-77 1h0m46 0h0m-100 1h0m59 0h0m29 0h0m-19 1h0m17 0h0m2 0h0m31 0h0m-85 1h0m55 0h0m26 0h0m-48 1h0m59 0h0m-71 1h0m2 0h0m28 0h0m14 1h0m2 0h0m12 0h0m10 0h0m-98 1h0m-4 1h0m5 1h0m7 0h0m3 0h0m81 0h0m-97 1h0m15 0h0m8 0h0m8 0h0m-30 1h0m20 0h0m71 0h0m-103 1h0m4 0h0m25 0h0m86 0h0m-105 1h0m68 0h0m-69 1h0m19 1h0m12 0h0m16 0h0m11 0h0m9 0h0m69 0h0m-120 1h0m22 0h0m22 0h0m-11 1h0m39 0h0m-93 1h0m11 1h0m5 0h0m3 0h0m-11 1h0m25 0h0m15 0h0m57 0h0m-90 1h0m2 0h0m14 0h0m33 0h0m-59 1h0m60 0h0m5 0h0m27 0h0m9 0h0m17 0h0m-19 1h0m-93 1h0m10 0h0m-11 1h0m33 0h0m9 0h0m14 0h0m-66 1h0m2 0h0m4 0h0m8 0h0m4 0h0m34 0h0m42 0h0m-97 1h0m78 0h0m-69 2h0m3 1h0m28 0h0m39 0h0m-66 1h0m86 1h0m-88 3h0m16 0h0m-21 3h0m3 0h0m84 1h0m13 0h0m-99 1h0m6 1h0m-5 1h0m18 0h0m-27 2h0m30 0h0m15 1h0m-32 1h0m25 0h0m-18 1h0m88 0h0m13 0h0m-32 1h0m-77 1h0m4 0h0m82 0h0m-48 1h0m43 1h0m30 1h0m-108 1h0m82 0h0m-86 1h0m50 0h0m-54 1h0m22 1h0m-16 1h0m98 1h0m-21 1h0m-7 2h0m12 0h0m-14 1h0m-65 1h0m96 1h0m-60 1h0m65 0h0m-91 2h0m38 1h0m30 0h0m-61 1h0m-11 1h0m48 0h0m-37 1h0m36 0h0m14 1h0m29 0h0m-29 2h0m-74 3h0m9 1h0m63 2h0m23 0h0m-34 1h0m20 2h0m-56 1h0m22 0h0m7 2h0m-6 1h0m33 0h0m7 0h0m-80 1h0" stroke="#2a50a4" stroke-width="2.5" stroke-linecap="square" fill="none"/>
<polygon points="488.5,455.4 492.6,453.4 492.8,500.4 490.6,500.4" fill="#e8262c"/>
<path transform="translate(454.0 354.4) scale(.5)" d="M0 0m51 188h0m8 1h0m-35 1h0m19 0h0m8 1h0m5 0h0m6 0h0m3 0h0m3 0h0m2 0h0m-20 1h0m1 0h0m14 0h0m-8 1h0m2 0h0m3 0h0m4 0h0m3 0h0m-60 1h0m18 0h0m26 0h0m11 0h0m-52 1h0m25 0h0m13 0h0m16 0h0m2 0h0m-26 1h0m10 0h0m3 0h0m-40 1h0m5 0h0m9 0h0m23 0h0m9 0h0m1 0h0m2 0h0m3 0h0m3 0h0m-62 1h0m48 0h0m10 0h0m4 0h0m-58 1h0m1 0h0m43 0h0m5 0h0m8 0h0m2 0h0m-63 1h0m31 0h0m14 0h0m12 0h0m2 0h0m4 0h0m-44 1h0m25 0h0m5 0h0m3 0h0m1 0h0m4 0h0m2 0h0m3 0h0m1 0h0m-61 1h0m1 0h0m2 0h0m1 0h0m26 0h0m14 0h0m9 0h0m7 0h0m-55 1h0m6 0h0m29 0h0m13 0h0m2 0h0m-59 1h0m48 0h0m7 0h0m1 0h0m1 0h0m3 0h0m1 0h0m-13 1h0m2 0h0m2 0h0m11 0h0m-42 1h0m13 0h0m3 0h0m20 0h0m4 0h0m-32 1h0m5 0h0m6 0h0m4 0h0m10 0h0m2 0h0m2 0h0m2 0h0m4 0h0m-57 1h0m3 0h0m5 0h0m28 0h0m7 0h0m3 0h0m1 0h0m5 0h0m-4 1h0m6 0h0m-57 1h0m5 0h0m16 0h0m21 0h0m8 0h0m2 0h0m-56 1h0m2 0h0m3 0h0m40 0h0m1 0h0m4 0h0m2 0h0m4 0h0m1 0h0m5 0h0m-2 1h0m1 0h0m7 0h0m-67 1h0m5 0h0m1 0h0m5 0h0m35 0h0m5 0h0m9 0h0m1 0h0m3 0h0m-61 1h0m3 0h0m2 0h0m18 0h0m33 0h0m-58 1h0m19 0h0m27 0h0m8 0h0m11 0h0m-62 1h0m6 0h0m4 0h0m1 0h0m29 0h0m4 0h0m10 0h0m4 0h0m-60 1h0m6 0h0m2 0h0m39 0h0m2 0h0m3 0h0m3 0h0m8 0h0m-55 1h0m38 0h0m3 0h0m3 0h0m5 0h0m1 0h0m3 0h0m1 0h0m1 0h0m-45 1h0m25 0h0m3 0h0m2 0h0m-39 1h0m3 0h0m35 0h0m3 0h0m7 0h0m2 0h0m4 0h0m-60 1h0m6 0h0m10 0h0m1 0h0m25 0h0m1 0h0m13 0h0m-59 1h0m3 0h0m7 0h0m14 0h0m20 0h0m3 0h0m4 0h0m1 0h0m3 0h0m5 0h0m1 0h0m-53 1h0m28 0h0m20 0h0m2 0h0m3 0h0m3 0h0m-61 1h0m4 0h0m27 0h0m9 0h0m1 0h0m2 0h0m5 0h0m6 0h0m-53 1h0m5 0h0m4 0h0m2 0h0m11 0h0m11 0h0m9 0h0m2 0h0m-43 1h0m40 0h0m1 0h0m6 0h0m1 0h0m2 0h0m9 0h0m-36 1h0m23 0h0m1 0h0m4 0h0m1 0h0m1 0h0m4 0h0m-64 1h0m5 0h0m12 0h0m9 0h0m7 0h0m17 0h0m1 0h0m1 0h0m2 0h0m3 0h0m1 0h0m3 0h0m2 0h0m2 0h0m1 0h0m-65 1h0m7 0h0m14 0h0m2 0h0m32 0h0m-55 1h0m2 0h0m27 0h0m13 0h0m1 0h0m1 0h0m13 0h0m-56 1h0m19 0h0m12 0h0m4 0h0m3 0h0m4 0h0m4 0h0m2 0h0m11 0h0m1 0h0m-59 1h0m43 0h0m2 0h0m9 0h0m4 0h0m6 0h0m-65 1h0m42 0h0m6 0h0m3 0h0m4 0h0m2 0h0m1 0h0m-60 1h0m32 0h0m9 0h0m17 0h0m3 0h0m2 0h0m-54 1h0m14 0h0m33 0h0m7 0h0m5 0h0m-47 1h0m14 0h0m4 0h0m7 0h0m4 0h0m4 0h0m-48 1h0m1 0h0m45 0h0m1 0h0m11 0h0m2 0h0m-62 1h0m6 0h0m14 0h0m21 0h0m2 0h0m1 0h0m4 0h0m1 0h0m1 0h0m2 0h0m1 0h0m2 0h0m5 0h0m2 0h0m-66 1h0m20 0h0m45 0h0m-63 1h0m5 0h0m15 0h0m2 0h0m13 0h0m21 0h0m3 0h0m-51 1h0m28 0h0m9 0h0m4 0h0m7 0h0m10 0h0m-47 1h0m13 0h0m14 0h0m9 0h0m5 0h0m3 0h0m-32 1h0m11 0h0m7 0h0m4 0h0m2 0h0m3 0h0m4 0h0m-65 1h0m1 0h0m8 0h0m24 0h0m3 0h0m10 0h0m2 0h0m3 0h0m2 0h0m12 0h0m-48 1h0m19 0h0m8 0h0m9 0h0m3 0h0m1 0h0m1 0h0m6 0h0m-36 1h0m20 0h0m5 0h0m1 0h0m3 0h0m1 0h0m3 0h0m1 0h0m4 0h0m-43 1h0m3 0h0m9 0h0m8 0h0m3 0h0m1 0h0m5 0h0m5 0h0m5 0h0m-62 1h0m2 0h0m8 0h0m1 0h0m1 0h0m3 0h0m43 0h0m1 0h0m-57 1h0m1 0h0m7 0h0m41 0h0m6 0h0m3 0h0m2 0h0m8 0h0m-69 1h0m1 0h0m1 0h0m2 0h0m5 0h0m6 0h0m32 0h0m1 0h0m3 0h0m6 0h0m2 0h0m6 0h0m-65 1h0m2 0h0m1 0h0m44 0h0m3 0h0m12 0h0m-52 1h0m2 0h0m11 0h0m21 0h0m2 0h0m1 0h0m14 0h0m5 0h0m-59 1h0m8 0h0m29 0h0m2 0h0m1 0h0m7 0h0m3 0h0m4 0h0m3 0h0m-60 1h0m38 0h0m2 0h0m6 0h0m-51 1h0m16 0h0m13 0h0m15 0h0m8 0h0m1 0h0m9 0h0m2 0h0m-61 1h0m1 0h0m7 0h0m13 0h0m6 0h0m4 0h0m13 0h0m11 0h0m6 0h0m-32 1h0m1 0h0m25 0h0m3 0h0m4 0h0m1 0h0m-49 1h0m10 0h0m30 0h0m4 0h0m6 0h0m-37 1h0m19 0h0m1 0h0m1 0h0m1 0h0m1 0h0m1 0h0m4 0h0m3 0h0m1 0h0m1 0h0m2 0h0m-63 1h0m8 0h0m15 0h0m7 0h0m14 0h0m1 0h0m1 0h0m7 0h0m1 0h0m1 0h0m1 0h0m6 0h0m-60 1h0m31 0h0m11 0h0m8 0h0m2 0h0m3 0h0m-57 1h0m26 0h0m9 0h0m10 0h0m3 0h0m6 0h0m1 0h0m11 0h0m1 0h0m-67 1h0m8 0h0m13 0h0m22 0h0m2 0h0m4 0h0m4 0h0m1 0h0m2 0h0m1 0h0m2 0h0m4 0h0m-54 1h0m7 0h0m10 0h0m6 0h0m4 0h0m12 0h0m5 0h0m2 0h0m3 0h0m-57 1h0m1 0h0m2 0h0m3 0h0m3 0h0m16 0h0m9 0h0m4 0h0m6 0h0m5 0h0m-46 1h0m7 0h0m10 0h0m9 0h0m1 0h0m6 0h0m9 0h0m6 0h0m1 0h0m2 0h0m-54 1h0m1 0h0m7 0h0m42 0h0m1 0h0m5 0h0m1 0h0m1 0h0m3 0h0m1 0h0m-63 1h0m2 0h0m2 0h0m5 0h0m34 0h0m4 0h0m3 0h0m2 0h0m10 0h0m2 0h0m-60 1h0m16 0h0m1 0h0m21 0h0m4 0h0m4 0h0m4 0h0m8 0h0m-33 1h0m13 0h0m3 0h0m11 0h0m6 0h0m-61 1h0m2 0h0m2 0h0m35 0h0m4 0h0m13 0h0m2 0h0m-58 1h0m1 0h0m8 0h0m36 0h0m2 0h0m9 0h0m-58 1h0m22 0h0m2 0h0m24 0h0m8 0h0m7 0h0m-57 1h0m26 0h0m17 0h0m3 0h0m3 0h0m2 0h0m5 0h0m6 0h0m-67 1h0m5 0h0m3 0h0m1 0h0m33 0h0m2 0h0m1 0h0m11 0h0m2 0h0m1 0h0m1 0h0m-59 1h0m6 0h0m11 0h0m8 0h0m2 0h0m7 0h0m10 0h0m6 0h0m4 0h0m6 0h0m1 0h0m-57 1h0m21 0h0m8 0h0m2 0h0m2 0h0m5 0h0m5 0h0m3 0h0m2 0h0m1 0h0m1 0h0m5 0h0m1 0h0m1 0h0m3 0h0m-61 1h0m46 0h0m7 0h0m-59 1h0m3 0h0m5 0h0m2 0h0m18 0h0m13 0h0m23 0h0m-55 1h0m41 0h0m9 0h0m2 0h0m-52 1h0m45 0h0m2 0h0m1 0h0m2 0h0m-47 1h0m27 0h0m11 0h0m1 0h0m1 0h0m4 0h0m2 0h0m7 0h0m-64 1h0m6 0h0m5 0h0m7 0h0m4 0h0m23 0h0m5 0h0m1 0h0m5 0h0m2 0h0m-14 1h0m7 0h0m4 0h0m-56 1h0m6 0h0m3 0h0m3 0h0m23 0h0m13 0h0m5 0h0m1 0h0m-51 1h0m8 0h0m7 0h0m20 0h0m18 0h0m4 0h0m3 0h0m-62 1h0m7 0h0m12 0h0m10 0h0m5 0h0m16 0h0m3 0h0m-43 1h0m10 0h0m8 0h0m20 0h0m9 0h0m3 0h0m1 0h0m-62 1h0m2 0h0m1 0h0m19 0h0m-14 1h0m41 0h0m-48 1h0m3 0h0m1 0h0m6 0h0m10 0h0m17 0h0m11 0h0m17 0h0m-56 1h0m20 0h0m5 0h0m5 0h0m-38 1h0m1 0h0m1 0h0m2 0h0m4 0h0m48 0h0m-55 1h0m3 0h0m21 0h0m21 0h0m-45 1h0m1 0h0m12 0h0m15 0h0m1 0h0m1 0h0m-28 1h0m12 0h0m23 0h0m-19 1h0m10 0h0m20 0h0m5 0h0m6 0h0m-53 1h0m2 0h0m20 0h0m5 0h0m17 0h0m-43 1h0m1 0h0m19 0h0m23 0h0m8 0h0m-36 1h0m3 0h0m-28 1h0m15 0h0m4 0h0m1 0h0m34 0h0m-6 1h0m8 0h0m-55 1h0m21 0h0m1 0h0m13 2h0m1 0h0m2 0h0m14 0h0m6 0h0m1 0h0m5 0h0m-33 1h0m1 0h0m-32 1h0m2 0h0m13 0h0m12 0h0m-22 1h0m22 0h0m8 0h0m22 0h0m-47 1h0m4 0h0m1 0h0m23 0h0m16 0h0m6 0h0m-36 1h0m9 0h0m6 0h0m16 0h0m-34 1h0m8 0h0m11 0h0m8 0h0m-46 1h0m25 0h0m1 0h0m7 0h0m-19 1h0m1 0h0m19 0h0m2 0h0m20 0h0m6 0h0m-48 1h0m1 1h0m5 0h0m2 0h0m10 0h0m4 0h0m9 0h0m13 0h0m-53 1h0m41 0h0m1 0h0m17 0h0m-51 1h0m12 0h0m1 0h0m5 0h0m17 0h0m18 0h0m-51 1h0m35 0h0m-41 1h0m7 0h0m4 0h0m19 0h0m21 0h0m-52 1h0m11 0h0m7 0h0m13 0h0m7 0h0m9 0h0m1 0h0m6 0h0m-57 1h0m25 0h0m2 0h0m13 0h0m-47 1h0m7 0h0m2 0h0m2 0h0m13 0h0m10 0h0m7 0h0m2 0h0m4 0h0m1 0h0m-43 1h0m2 0h0m22 0h0m6 0h0m-15 1h0m19 0h0m-6 1h0m19 0h0m5 0h0m1 0h0m-54 1h0m4 0h0m8 0h0m36 0h0m-34 1h0m-2 1h0m12 0h0m11 0h0m6 0h0m3 0h0m5 0h0m5 0h0m-54 1h0m26 0h0m30 0h0m-19 2h0m8 1h0m7 0h0m-8 1h0m15 0h0m-9 1h0m-4 1h0m7 2h0m7 0h0m-15 2h0m5 0h0m-9 1h0m-4 6h0m1 1h0m7 2h0m2 1h0m11 0h0m-22 1h0m28 2h0m-23 1h0m11 2h0m-7 4h0m1 3h0m-1 2h0m10 5h0" stroke="#e8262c" stroke-width="1.9" stroke-linecap="square" fill="none"/>
<polygon points="491.7,453.5 494.0,454.1 496.2,450.7 495.9,451.4 497.3,448.5 498.3,448.1 499.0,447.3 499.8,446.0 503.5,445.4 504.9,443.9 506.2,445.3 506.4,445.2 509.8,442.1 511.2,442.5 512.9,442.0 513.7,441.7 515.0,444.0 516.6,442.3 519.7,443.0 520.7,443.2 521.3,445.1 523.2,444.3 525.1,445.5 524.9,447.4 525.5,448.8 525.4,450.0 526.3,453.7 527.0,453.1 524.7,456.1 523.4,456.8 524.2,457.5 521.6,458.6 520.9,460.4 519.1,462.3 519.2,463.8 518.1,464.9 517.9,465.5 516.4,465.3 514.0,467.7 512.7,468.2 511.9,467.6 510.8,470.9 509.0,470.6 507.7,470.2 506.8,473.5 503.6,473.0 504.6,473.7 501.3,476.6 501.7,476.3 499.5,478.3 497.2,479.4 496.4,478.3 493.7,480.8 493.8,481.0 492.6,479.7 493.0,476.9 491.8,474.8 493.2,473.5 491.8,471.5 492.9,471.8 494.2,467.8 493.6,466.6 493.8,466.7 493.4,464.9 493.6,461.4 493.5,462.0 493.4,458.7 493.7,457.5 491.9,455.1" fill="#0a0a0a"/>
<polygon points="492.6,454.4 496.3,454.4 495.2,494.4 494.6,517.4 492.9,517.4" fill="#0a0a0a"/>
<path transform="translate(454.0 354.4) scale(.5)" d="M0 0m137 21h0m-32 28h0m35 15h0m-7 24h0m146 47h0m-135 2h0m-58 1h0m112 0h0m1 3h0m-68 5h0m-65 1h0m57 5h0m33 2h0m49 0h0m16 2h0m-83 1h0m5 0h0m71 1h0m-1 4h0m-123 1h0m45 0h0m69 0h0m16 0h0m-83 1h0m104 0h0m-47 1h0m38 0h0m-121 1h0m15 0h0m75 0h0m-13 1h0m14 0h0m13 0h0m16 0h0m-30 1h0m3 0h0m-111 1h0m2 0h0m21 0h0m75 0h0m-6 1h0m6 0h0m40 0h0m-14 1h0m1 0h0m-136 1h0m24 0h0m13 0h0m3 0h0m68 0h0m18 0h0m-77 1h0m1 0h0m47 0h0m5 0h0m37 0h0m13 0h0m-104 1h0m8 0h0m44 0h0m6 0h0m8 0h0m8 0h0m9 0h0m15 0h0m5 0h0m-119 1h0m11 0h0m9 0h0m12 0h0m31 0h0m16 0h0m20 0h0m18 0h0m-159 1h0m34 0h0m12 0h0m4 0h0m6 0h0m6 0h0m23 0h0m21 0h0m4 0h0m10 0h0m1 0h0m5 0h0m4 0h0m20 0h0m-149 1h0m10 0h0m1 0h0m1 0h0m23 0h0m9 0h0m40 0h0m2 0h0m18 0h0m12 0h0m9 0h0m3 0h0m5 0h0m2 0h0m4 0h0m-132 1h0m23 0h0m64 0h0m6 0h0m27 0h0m5 0h0m1 0h0m3 0h0m8 0h0m2 0h0m14 0h0m-160 1h0m28 0h0m40 0h0m29 0h0m20 0h0m11 0h0m7 0h0m13 0h0m2 0h0m10 0h0m-157 1h0m14 0h0m28 0h0m40 0h0m6 0h0m10 0h0m6 0h0m1 0h0m4 0h0m7 0h0m15 0h0m3 0h0m1 0h0m3 0h0m7 0h0m2 0h0m-134 1h0m16 0h0m43 0h0m21 0h0m7 0h0m17 0h0m1 0h0m8 0h0m1 0h0m1 0h0m2 0h0m5 0h0m2 0h0m4 0h0m9 0h0m6 0h0m27 0h0m-155 1h0m7 0h0m37 0h0m7 0h0m7 0h0m20 0h0m2 0h0m4 0h0m3 0h0m3 0h0m19 0h0m2 0h0m20 0h0m-171 1h0m27 0h0m2 0h0m15 0h0m9 0h0m1 0h0m40 0h0m2 0h0m12 0h0m2 0h0m1 0h0m19 0h0m4 0h0m5 0h0m38 0h0m-148 1h0m6 0h0m5 0h0m6 0h0m9 0h0m1 0h0m1 0h0m15 0h0m7 0h0m3 0h0m14 0h0m16 0h0m1 0h0m9 0h0m3 0h0m6 0h0m6 0h0m2 0h0m1 0h0m5 0h0m39 0h0m-176 1h0m20 0h0m1 0h0m30 0h0m4 0h0m13 0h0m2 0h0m17 0h0m7 0h0m2 0h0m4 0h0m18 0h0m1 0h0m1 0h0m3 0h0m2 0h0m8 0h0m1 0h0m1 0h0m1 0h0m11 0h0m5 0h0m10 0h0m-156 1h0m2 0h0m21 0h0m12 0h0m11 0h0m17 0h0m3 0h0m5 0h0m10 0h0m10 0h0m2 0h0m10 0h0m6 0h0m2 0h0m1 0h0m2 0h0m8 0h0m6 0h0m11 0h0m13 0h0m6 0h0m-138 1h0m7 0h0m7 0h0m4 0h0m9 0h0m8 0h0m2 0h0m1 0h0m12 0h0m1 0h0m1 0h0m7 0h0m3 0h0m3 0h0m8 0h0m3 0h0m5 0h0m1 0h0m4 0h0m12 0h0m6 0h0m1 0h0m1 0h0m4 0h0m3 0h0m8 0h0m-127 1h0m2 0h0m12 0h0m5 0h0m3 0h0m8 0h0m18 0h0m8 0h0m5 0h0m1 0h0m2 0h0m5 0h0m1 0h0m2 0h0m1 0h0m2 0h0m11 0h0m5 0h0m2 0h0m3 0h0m2 0h0m9 0h0m2 0h0m1 0h0m2 0h0m3 0h0m3 0h0m2 0h0m2 0h0m2 0h0m2 0h0m4 0h0m1 0h0m-186 1h0m40 0h0m46 0h0m1 0h0m5 0h0m3 0h0m5 0h0m10 0h0m2 0h0m3 0h0m22 0h0m2 0h0m3 0h0m2 0h0m1 0h0m3 0h0m2 0h0m13 0h0m11 0h0m3 0h0m14 0h0m-145 1h0m8 0h0m10 0h0m4 0h0m1 0h0m15 0h0m17 0h0m4 0h0m3 0h0m6 0h0m6 0h0m4 0h0m8 0h0m1 0h0m12 0h0m4 0h0m3 0h0m3 0h0m2 0h0m4 0h0m1 0h0m2 0h0m2 0h0m14 0h0m9 0h0m4 0h0m-121 1h0m6 0h0m5 0h0m3 0h0m12 0h0m4 0h0m11 0h0m1 0h0m17 0h0m2 0h0m2 0h0m3 0h0m4 0h0m2 0h0m2 0h0m3 0h0m1 0h0m1 0h0m1 0h0m4 0h0m3 0h0m2 0h0m5 0h0m1 0h0m1 0h0m5 0h0m4 0h0m8 0h0m1 0h0m2 0h0m2 0h0m-157 1h0m15 0h0m17 0h0m5 0h0m2 0h0m2 0h0m5 0h0m3 0h0m3 0h0m15 0h0m2 0h0m2 0h0m1 0h0m1 0h0m2 0h0m12 0h0m2 0h0m4 0h0m5 0h0m1 0h0m1 0h0m1 0h0m6 0h0m10 0h0m1 0h0m6 0h0m3 0h0m2 0h0m6 0h0m1 0h0m7 0h0m-117 1h0m3 0h0m3 0h0m2 0h0m6 0h0m2 0h0m3 0h0m3 0h0m2 0h0m5 0h0m5 0h0m3 0h0m2 0h0m11 0h0m1 0h0m3 0h0m1 0h0m3 0h0m1 0h0m1 0h0m6 0h0m7 0h0m9 0h0m3 0h0m1 0h0m2 0h0m4 0h0m6 0h0m1 0h0m2 0h0m3 0h0m19 0h0m-138 1h0m7 0h0m4 0h0m1 0h0m16 0h0m4 0h0m3 0h0m10 0h0m2 0h0m5 0h0m1 0h0m1 0h0m6 0h0m1 0h0m6 0h0m2 0h0m1 0h0m2 0h0m10 0h0m1 0h0m3 0h0m4 0h0m1 0h0m2 0h0m2 0h0m2 0h0m2 0h0m1 0h0m3 0h0m6 0h0m4 0h0m1 0h0m4 0h0m2 0h0m7 0h0m10 0h0m6 0h0m13 0h0m-148 1h0m13 0h0m1 0h0m6 0h0m8 0h0m7 0h0m3 0h0m1 0h0m4 0h0m2 0h0m8 0h0m1 0h0m1 0h0m13 0h0m12 0h0m3 0h0m10 0h0m3 0h0m3 0h0m10 0h0m4 0h0m1 0h0m3 0h0m14 0h0m2 0h0m-143 1h0m17 0h0m1 0h0m3 0h0m1 0h0m9 0h0m5 0h0m6 0h0m2 0h0m2 0h0m3 0h0m1 0h0m2 0h0m1 0h0m9 0h0m4 0h0m6 0h0m6 0h0m5 0h0m4 0h0m1 0h0m2 0h0m1 0h0m3 0h0m4 0h0m1 0h0m1 0h0m2 0h0m1 0h0m1 0h0m3 0h0m2 0h0m5 0h0m4 0h0m10 0h0m4 0h0m3 0h0m-111 1h0m13 0h0m10 0h0m1 0h0m3 0h0m4 0h0m3 0h0m5 0h0m2 0h0m3 0h0m7 0h0m2 0h0m1 0h0m2 0h0m1 0h0m4 0h0m2 0h0m8 0h0m3 0h0m2 0h0m1 0h0m4 0h0m5 0h0m2 0h0m3 0h0m5 0h0m7 0h0m16 0h0m7 0h0m10 0h0m-173 1h0m32 0h0m1 0h0m9 0h0m6 0h0m3 0h0m8 0h0m6 0h0m1 0h0m1 0h0m4 0h0m1 0h0m2 0h0m4 0h0m2 0h0m6 0h0m2 0h0m15 0h0m4 0h0m4 0h0m1 0h0m2 0h0m1 0h0m1 0h0m1 0h0m2 0h0m9 0h0m4 0h0m4 0h0m-162 1h0m53 0h0m3 0h0m4 0h0m4 0h0m8 0h0m1 0h0m4 0h0m1 0h0m7 0h0m1 0h0m5 0h0m8 0h0m1 0h0m2 0h0m5 0h0m1 0h0m6 0h0m4 0h0m5 0h0m9 0h0m4 0h0m8 0h0m1 0h0m1 0h0m5 0h0m1 0h0m23 0h0m-139 1h0m33 0h0m1 0h0m7 0h0m6 0h0m4 0h0m1 0h0m2 0h0m3 0h0m5 0h0m4 0h0m6 0h0m2 0h0m2 0h0m3 0h0m1 0h0m1 0h0m3 0h0m2 0h0m2 0h0m1 0h0m7 0h0m2 0h0m5 0h0m6 0h0m5 0h0m4 0h0m5 0h0m7 0h0m1 0h0m2 0h0m8 0h0m4 0h0m-141 1h0m17 0h0m12 0h0m2 0h0m3 0h0m3 0h0m1 0h0m3 0h0m5 0h0m3 0h0m4 0h0m3 0h0m4 0h0m1 0h0m3 0h0m5 0h0m5 0h0m3 0h0m1 0h0m7 0h0m2 0h0m1 0h0m1 0h0m2 0h0m3 0h0m6 0h0m6 0h0m3 0h0m3 0h0m1 0h0m1 0h0m1 0h0m5 0h0m14 0h0m10 0h0m9 0h0m-147 1h0m1 0h0m10 0h0m12 0h0m1 0h0m4 0h0m9 0h0m1 0h0m1 0h0m1 0h0m2 0h0m1 0h0m1 0h0m3 0h0m1 0h0m1 0h0m1 0h0m2 0h0m8 0h0m1 0h0m11 0h0m2 0h0m4 0h0m3 0h0m5 0h0m1 0h0m18 0h0m5 0h0m8 0h0m32 0h0m-145 1h0m26 0h0m1 0h0m3 0h0m2 0h0m2 0h0m3 0h0m2 0h0m1 0h0m5 0h0m5 0h0m2 0h0m1 0h0m1 0h0m1 0h0m10 0h0m2 0h0m2 0h0m9 0h0m1 0h0m13 0h0m1 0h0m4 0h0m6 0h0m9 0h0m29 0h0m-143 1h0m9 0h0m4 0h0m1 0h0m3 0h0m4 0h0m1 0h0m2 0h0m1 0h0m3 0h0m7 0h0m2 0h0m3 0h0m4 0h0m14 0h0m1 0h0m5 0h0m7 0h0m1 0h0m2 0h0m8 0h0m1 0h0m7 0h0m2 0h0m2 0h0m7 0h0m1 0h0m4 0h0m3 0h0m2 0h0m9 0h0m23 0h0m-165 1h0m27 0h0m13 0h0m4 0h0m2 0h0m2 0h0m1 0h0m1 0h0m1 0h0m6 0h0m5 0h0m2 0h0m5 0h0m2 0h0m1 0h0m2 0h0m2 0h0m2 0h0m1 0h0m7 0h0m3 0h0m8 0h0m1 0h0m8 0h0m2 0h0m5 0h0m5 0h0m4 0h0m1 0h0m7 0h0m3 0h0m7 0h0m-109 1h0m2 0h0m12 0h0m4 0h0m3 0h0m2 0h0m2 0h0m1 0h0m2 0h0m1 0h0m2 0h0m1 0h0m2 0h0m4 0h0m6 0h0m1 0h0m6 0h0m1 0h0m2 0h0m6 0h0m6 0h0m8 0h0m3 0h0m6 0h0m1 0h0m6 0h0m6 0h0m2 0h0m1 0h0m1 0h0m19 0h0m3 0h0m-142 1h0m18 0h0m2 0h0m3 0h0m2 0h0m5 0h0m4 0h0m2 0h0m1 0h0m7 0h0m1 0h0m3 0h0m7 0h0m7 0h0m4 0h0m3 0h0m5 0h0m8 0h0m1 0h0m1 0h0m1 0h0m1 0h0m17 0h0m8 0h0m18 0h0m15 0h0m-148 1h0m9 0h0m6 0h0m5 0h0m7 0h0m5 0h0m1 0h0m2 0h0m1 0h0m2 0h0m1 0h0m2 0h0m5 0h0m1 0h0m1 0h0m1 0h0m5 0h0m1 0h0m1 0h0m1 0h0m2 0h0m3 0h0m1 0h0m12 0h0m2 0h0m11 0h0m1 0h0m9 0h0m2 0h0m32 0h0m42 0h0m-188 1h0m19 0h0m14 0h0m7 0h0m7 0h0m7 0h0m1 0h0m2 0h0m1 0h0m3 0h0m1 0h0m6 0h0m1 0h0m2 0h0m11 0h0m2 0h0m1 0h0m4 0h0m10 0h0m1 0h0m8 0h0m1 0h0m8 0h0m9 0h0m9 0h0m7 0h0m6 0h0m-152 1h0m16 0h0m6 0h0m17 0h0m10 0h0m7 0h0m1 0h0m3 0h0m5 0h0m2 0h0m4 0h0m1 0h0m1 0h0m5 0h0m1 0h0m1 0h0m3 0h0m1 0h0m16 0h0m4 0h0m1 0h0m2 0h0m1 0h0m2 0h0m34 0h0m7 0h0m-145 1h0m9 0h0m21 0h0m5 0h0m13 0h0m4 0h0m4 0h0m1 0h0m7 0h0m4 0h0m4 0h0m3 0h0m3 0h0m1 0h0m1 0h0m10 0h0m2 0h0m2 0h0m18 0h0m28 0h0m-120 1h0m24 0h0m3 0h0m3 0h0m1 0h0m6 0h0m3 0h0m3 0h0m2 0h0m2 0h0m6 0h0m1 0h0m3 0h0m2 0h0m6 0h0m15 0h0m9 0h0m8 0h0m22 0h0m-119 1h0m15 0h0m6 0h0m9 0h0m1 0h0m1 0h0m2 0h0m2 0h0m6 0h0m2 0h0m10 0h0m2 0h0m2 0h0m2 0h0m2 0h0m2 0h0m3 0h0m1 0h0m7 0h0m10 0h0m2 0h0m9 0h0m12 0h0m-148 1h0m10 0h0m14 0h0m6 0h0m3 0h0m11 0h0m14 0h0m6 0h0m5 0h0m3 0h0m1 0h0m2 0h0m2 0h0m5 0h0m10 0h0m5 0h0m3 0h0m45 0h0m19 0h0m13 0h0m-134 1h0m3 0h0m3 0h0m4 0h0m1 0h0m6 0h0m8 0h0m1 0h0m6 0h0m2 0h0m3 0h0m1 0h0m4 0h0m1 0h0m1 0h0m11 0h0m1 0h0m2 0h0m3 0h0m2 0h0m1 0h0m5 0h0m4 0h0m7 0h0m10 0h0m-109 1h0m17 0h0m10 0h0m7 0h0m7 0h0m8 0h0m4 0h0m6 0h0m15 0h0m7 0h0m2 0h0m8 0h0m18 0h0m19 0h0m-94 1h0m5 0h0m2 0h0m1 0h0m1 0h0m1 0h0m5 0h0m2 0h0m3 0h0m2 0h0m1 0h0m4 0h0m1 0h0m2 0h0m2 0h0m1 0h0m1 0h0m1 0h0m11 0h0m10 0h0m2 0h0m2 0h0m26 0h0m-98 1h0m13 0h0m11 0h0m2 0h0m3 0h0m1 0h0m2 0h0m7 0h0m8 0h0m2 0h0m3 0h0m3 0h0m4 0h0m8 0h0m26 0h0m28 0h0m-129 1h0m1 0h0m9 0h0m9 0h0m2 0h0m7 0h0m11 0h0m4 0h0m4 0h0m6 0h0m-55 1h0m1 0h0m13 0h0m12 0h0m4 0h0m4 0h0m6 0h0m6 0h0m6 0h0m13 0h0m23 0h0m10 0h0m29 0h0m-110 1h0m4 0h0m10 0h0m1 0h0m1 0h0m1 0h0m11 0h0m2 0h0m2 0h0m1 0h0m1 0h0m2 0h0m5 0h0m3 0h0m3 0h0m4 0h0m1 0h0m2 0h0m6 0h0m-58 1h0m5 0h0m16 0h0m1 0h0m5 0h0m7 0h0m1 0h0m15 0h0m18 0h0m42 0h0m10 0h0m-157 1h0m26 0h0m4 0h0m2 0h0m13 0h0m2 0h0m2 0h0m2 0h0m3 0h0m3 0h0m1 0h0m3 0h0m1 0h0m1 0h0m7 0h0m4 0h0m20 0h0m15 0h0m5 0h0m6 0h0m-110 1h0m22 0h0m21 0h0m2 0h0m2 0h0m4 0h0m9 0h0m5 0h0m7 0h0m6 0h0m9 0h0m23 0h0m28 0h0m-107 1h0m11 0h0m13 0h0m3 0h0m15 0h0m4 0h0m2 0h0m22 0h0m-87 1h0m9 0h0m12 0h0m1 0h0m3 0h0m15 0h0m31 0h0m1 0h0m7 0h0m11 0h0m43 0h0m-129 1h0m19 0h0m7 0h0m9 0h0m6 0h0m4 0h0m9 0h0m10 0h0m3 0h0m10 0h0m14 0h0m-77 1h0m13 0h0m2 0h0m12 0h0m6 0h0m7 0h0m4 0h0m4 0h0m22 0h0m8 0h0m-93 1h0m5 0h0m4 0h0m14 0h0m18 0h0m10 0h0m9 0h0m-79 1h0m8 0h0m26 0h0m11 0h0m6 0h0m1 0h0m26 0h0m2 0h0m4 0h0m-57 1h0m2 0h0m3 0h0m1 0h0m10 0h0m2 0h0m2 0h0m3 0h0m9 0h0m4 0h0m1 0h0m4 0h0m-69 1h0m14 0h0m2 0h0m1 0h0m12 0h0m17 0h0m1 0h0m4 0h0m8 0h0m20 0h0m4 0h0m6 0h0m37 0h0m-111 1h0m4 0h0m1 0h0m21 0h0m7 0h0m18 0h0m5 0h0m1 0h0m1 0h0m10 0h0m2 0h0m-56 1h0m1 0h0m5 0h0m6 0h0m10 0h0m1 0h0m7 0h0m13 0h0m10 0h0m-56 1h0m11 0h0m3 0h0m12 0h0m1 0h0m1 0h0m1 0h0m4 0h0m8 0h0m2 0h0m22 0h0m-82 1h0m19 0h0m3 0h0m2 0h0m4 0h0m2 0h0m30 0h0m2 0h0m3 0h0m19 0h0m-59 1h0m14 0h0m3 0h0m7 0h0m5 0h0m2 0h0m4 0h0m6 0h0m-74 1h0m47 0h0m1 0h0m1 0h0m1 0h0m1 0h0m10 0h0m40 0h0m6 0h0m-115 1h0m9 0h0m7 0h0m40 0h0m20 0h0m-53 1h0m1 0h0m2 0h0m4 0h0m2 0h0m2 0h0m1 0h0m3 0h0m2 0h0m1 0h0m11 0h0m25 0h0m-61 1h0m3 0h0m6 0h0m6 0h0m4 0h0m22 0h0m7 0h0m10 0h0m15 0h0m4 0h0m-77 1h0m11 0h0m14 0h0m2 0h0m4 0h0m1 0h0m1 0h0m25 0h0m-60 1h0m11 0h0m6 0h0m12 0h0m5 0h0m18 0h0m17 0h0m-55 1h0m5 0h0m2 0h0m33 0h0m8 0h0m8 0h0m-101 1h0m43 0h0m3 0h0m3 0h0m1 0h0m7 0h0m11 0h0m3 0h0m10 0h0m-35 1h0m8 0h0m2 0h0m24 0h0m3 0h0m13 0h0m10 0h0m4 0h0m12 0h0m-70 1h0m12 0h0m28 0h0m2 0h0m3 0h0m28 0h0m-92 1h0m12 0h0m0 1h0m23 0h0m14 0h0m10 0h0m3 0h0m-88 1h0m37 0h0m1 0h0m3 0h0m3 0h0m16 0h0m13 0h0m2 0h0m1 0h0m3 0h0m1 0h0m-41 1h0m3 0h0m1 0h0m3 0h0m4 0h0m16 0h0m3 0h0m6 0h0m23 0h0m14 0h0m-81 1h0m11 0h0m1 0h0m106 0h0m-114 1h0m1 0h0m7 0h0m14 0h0m5 0h0m1 0h0m1 0h0m45 0h0m-71 1h0m4 0h0m3 0h0m23 0h0m5 0h0m11 0h0m13 0h0m26 0h0m28 0h0m-137 1h0m8 0h0m23 0h0m32 0h0m17 0h0m-21 1h0m9 0h0m24 0h0m3 0h0m-74 1h0m9 0h0m-6 1h0m8 0h0m16 0h0m23 0h0m16 0h0m-104 1h0m59 0h0m3 0h0m19 0h0m20 0h0m-43 1h0m-17 1h0m40 0h0m-60 1h0m16 0h0m4 0h0m4 0h0m10 0h0m1 0h0m28 0h0m3 0h0m7 2h0m-53 1h0m62 0h0m-51 1h0m-7 1h0m19 0h0m5 0h0m16 0h0m16 0h0m-58 1h0m5 0h0m33 0h0m3 0h0m-79 1h0m41 0h0m1 0h0m1 0h0m38 0h0m-40 1h0m26 0h0m17 0h0m-45 1h0m2 0h0m3 0h0m12 0h0m-44 1h0m28 0h0m-4 1h0m46 1h0m-41 1h0m-6 1h0m4 0h0m15 0h0m-17 1h0m19 0h0m61 0h0m-81 1h0m4 1h0m39 0h0m22 1h0m-62 2h0m3 1h0m-8 1h0m9 0h0m58 0h0m-60 2h0m2 0h0m-9 1h0m-1 1h0m4 2h0m3 0h0m4 1h0m-4 1h0m7 1h0m-12 1h0m4 0h0m17 1h0m-43 2h0m28 0h0m6 0h0m-9 2h0m25 0h0m-27 1h0m8 2h0m-7 3h0m-4 1h0m2 2h0m1 1h0m6 2h0m-8 1h0m7 0h0m-5 2h0m5 0h0m-9 3h0m9 0h0m-2 1h0m-5 2h0m-3 1h0m2 0h0m-7 1h0m0 1h0m3 0h0m6 0h0m-5 1h0m3 0h0m-6 1h0m3 0h0m1 0h0m-5 3h0m1 0h0m2 0h0m1 1h0m-5 6h0m0 1h0m1 2h0m3 2h0m-3 1h0m1 0h0m6 2h0m-3 1h0m1 1h0m-4 1h0m4 4h0m-1 1h0m2 0h0m-4 2h0m4 0h0m-3 3h0m-1 1h0m-1 1h0m7 0h0m-2 1h0m-3 3h0m0 2h0m-1 2h0m4 0h0m2 2h0m-2 1h0m2 0h0m0 2h0m-2 1h0m-7 1h0m8 2h0m-5 1h0m0 1h0m1 0h0m-1 1h0m2 0h0m-2 1h0m3 1h0m-3 2h0m-1 1h0m1 0h0m1 0h0m5 2h0m-2 1h0m-7 1h0m2 2h0m-1 1h0m3 0h0" stroke="#0a0a0a" stroke-width="2.3" stroke-linecap="square" fill="none"/>
<path d="M454.0 354.4H701.4V559.0" stroke="#6a6a6a" stroke-width="1.3" fill="none"/>
<path d="M454.0 353.8V559.0H702.0" stroke="#111" stroke-width="1.7" fill="none"/>
<path d="M454.0 559.0v5M469.5 559.0v2.2M485.5 559.0v2.2M500.5 559.0v2.2M515.8 559.0v5M531.3 559.0v2.2M547.3 559.0v2.2M562.3 559.0v2.2M577.6 559.0v5M593.1 559.0v2.2M609.1 559.0v2.2M624.1 559.0v2.2M639.4 559.0v5M654.9 559.0v2.2M670.9 559.0v2.2M685.9 559.0v2.2M701.2 559.0v5M454.0 369.6h-4M454.0 406.0h-4M454.0 443.4h-4M454.0 480.4h-4M454.0 516.7h-4M454.0 553.7h-4" stroke="#222" stroke-width="1.1" fill="none"/>
<line x1="452.9" y1="357.4" x2="452.9" y2="557.0" stroke="#444" stroke-width="0.9" stroke-dasharray="0.8 2.9"/>
<text transform="translate(613.9 397.8) scale(0.916 1)" font-size="22.5" style="fill:#2a50a4">3%</text>
<text transform="translate(600.7 454.7) scale(1.032 1)" font-size="22.5" style="fill:#e8262c">15%</text>
<rect x="185.2" y="580.3" width="247.4" height="204.6" fill="#fff"/>
<polygon points="233.1,598.9 233.8,601.2 237.0,599.1 240.0,600.9 240.2,600.6 243.9,599.5 244.8,599.5 246.3,601.8 250.5,600.8 252.5,601.1 254.4,601.7 254.9,599.3 257.2,599.3 260.0,599.1 262.1,600.7 263.4,600.8 265.5,601.7 268.5,599.3 270.6,601.5 272.7,600.0 273.9,600.6 274.1,601.6 274.7,603.2 274.7,605.5 275.5,607.5 277.1,609.4 277.1,609.7 277.1,610.9 276.0,615.8 276.3,616.1 276.4,617.3 273.8,618.7 272.4,617.8 271.5,619.1 266.5,619.8 264.9,619.0 265.3,620.0 260.6,620.3 259.4,620.2 257.6,620.7 255.6,621.4 252.1,618.8 252.3,620.2 248.8,620.0 246.5,621.8 244.2,620.6 244.4,622.0 241.8,620.2 240.1,624.6 240.7,626.9 241.1,627.0 238.8,630.7 238.2,631.9 238.2,632.7 239.3,634.8 237.0,638.5 236.5,639.7 234.0,639.0 232.7,641.0 230.5,641.4 232.6,638.5 231.6,637.1 232.7,634.2 231.8,631.1 232.9,630.8 232.0,628.2 232.2,624.9 231.0,625.5 230.7,620.9 233.4,620.3 233.1,619.4 233.1,617.0 233.3,613.8 231.3,613.4 233.8,608.9 233.8,607.7 233.7,607.1 232.4,603.0 232.4,602.6" fill="#2a50a4" opacity="0.7"/>
<path transform="translate(185.2 580.3) scale(.5)" d="M0 0m148 30h0m-5 2h0m51 0h0m-73 1h0m12 0h0m7 0h0m-22 1h0m1 0h0m19 0h0m3 0h0m-44 1h0m14 0h0m1 0h0m33 0h0m24 0h0m3 0h0m-51 1h0m8 0h0m7 0h0m1 0h0m17 0h0m9 0h0m12 0h0m1 0h0m-74 1h0m15 0h0m3 0h0m1 0h0m2 0h0m10 0h0m4 0h0m13 0h0m7 0h0m7 0h0m5 0h0m4 0h0m1 0h0m3 0h0m-77 1h0m1 0h0m9 0h0m15 0h0m13 0h0m9 0h0m7 0h0m19 0h0m3 0h0m7 0h0m-85 1h0m1 0h0m2 0h0m4 0h0m2 0h0m8 0h0m1 0h0m9 0h0m1 0h0m15 0h0m1 0h0m2 0h0m3 0h0m3 0h0m1 0h0m17 0h0m4 0h0m2 0h0m4 0h0m3 0h0m-79 1h0m17 0h0m11 0h0m2 0h0m5 0h0m6 0h0m5 0h0m7 0h0m2 0h0m11 0h0m8 0h0m1 0h0m7 0h0m-93 1h0m4 0h0m9 0h0m2 0h0m4 0h0m11 0h0m4 0h0m9 0h0m8 0h0m3 0h0m5 0h0m2 0h0m1 0h0m2 0h0m5 0h0m3 0h0m1 0h0m1 0h0m6 0h0m1 0h0m3 0h0m-73 1h0m3 0h0m11 0h0m4 0h0m7 0h0m2 0h0m2 0h0m8 0h0m2 0h0m5 0h0m1 0h0m2 0h0m5 0h0m1 0h0m7 0h0m1 0h0m3 0h0m4 0h0m2 0h0m2 0h0m2 0h0m-82 1h0m1 0h0m18 0h0m7 0h0m2 0h0m4 0h0m2 0h0m4 0h0m8 0h0m5 0h0m2 0h0m8 0h0m1 0h0m5 0h0m10 0h0m1 0h0m4 0h0m1 0h0m1 0h0m2 0h0m-87 1h0m1 0h0m4 0h0m2 0h0m7 0h0m1 0h0m7 0h0m3 0h0m3 0h0m7 0h0m4 0h0m2 0h0m1 0h0m4 0h0m4 0h0m1 0h0m3 0h0m2 0h0m6 0h0m2 0h0m13 0h0m13 0h0m1 0h0m-90 1h0m5 0h0m1 0h0m3 0h0m13 0h0m1 0h0m5 0h0m4 0h0m2 0h0m4 0h0m1 0h0m7 0h0m6 0h0m1 0h0m3 0h0m10 0h0m4 0h0m7 0h0m2 0h0m6 0h0m2 0h0m-86 1h0m3 0h0m1 0h0m2 0h0m2 0h0m1 0h0m7 0h0m6 0h0m4 0h0m1 0h0m5 0h0m1 0h0m2 0h0m2 0h0m1 0h0m4 0h0m3 0h0m3 0h0m10 0h0m8 0h0m3 0h0m1 0h0m4 0h0m5 0h0m2 0h0m2 0h0m1 0h0m1 0h0m-79 1h0m9 0h0m2 0h0m2 0h0m8 0h0m25 0h0m3 0h0m2 0h0m7 0h0m2 0h0m1 0h0m7 0h0m9 0h0m7 0h0m-77 1h0m2 0h0m2 0h0m4 0h0m6 0h0m3 0h0m5 0h0m1 0h0m8 0h0m1 0h0m1 0h0m8 0h0m5 0h0m2 0h0m2 0h0m8 0h0m3 0h0m5 0h0m10 0h0m-90 1h0m7 0h0m2 0h0m5 0h0m1 0h0m1 0h0m3 0h0m6 0h0m3 0h0m3 0h0m12 0h0m14 0h0m5 0h0m4 0h0m6 0h0m1 0h0m2 0h0m2 0h0m3 0h0m6 0h0m-78 1h0m1 0h0m2 0h0m2 0h0m15 0h0m1 0h0m6 0h0m1 0h0m1 0h0m4 0h0m2 0h0m5 0h0m1 0h0m8 0h0m5 0h0m3 0h0m11 0h0m3 0h0m1 0h0m2 0h0m-81 1h0m9 0h0m3 0h0m1 0h0m2 0h0m3 0h0m2 0h0m14 0h0m13 0h0m6 0h0m1 0h0m10 0h0m2 0h0m3 0h0m1 0h0m5 0h0m3 0h0m-73 1h0m2 0h0m11 0h0m3 0h0m8 0h0m2 0h0m10 0h0m1 0h0m1 0h0m1 0h0m4 0h0m3 0h0m1 0h0m3 0h0m7 0h0m16 0h0m6 0h0m-85 1h0m1 0h0m5 0h0m8 0h0m2 0h0m1 0h0m1 0h0m5 0h0m2 0h0m1 0h0m1 0h0m5 0h0m4 0h0m2 0h0m1 0h0m1 0h0m6 0h0m3 0h0m6 0h0m3 0h0m6 0h0m7 0h0m2 0h0m6 0h0m3 0h0m1 0h0m4 0h0m3 0h0m-88 1h0m1 0h0m1 0h0m4 0h0m2 0h0m1 0h0m3 0h0m1 0h0m4 0h0m7 0h0m6 0h0m12 0h0m5 0h0m2 0h0m2 0h0m3 0h0m6 0h0m2 0h0m1 0h0m1 0h0m4 0h0m1 0h0m7 0h0m2 0h0m6 0h0m-75 1h0m4 0h0m1 0h0m1 0h0m2 0h0m2 0h0m3 0h0m8 0h0m6 0h0m7 0h0m2 0h0m2 0h0m9 0h0m1 0h0m3 0h0m1 0h0m4 0h0m2 0h0m2 0h0m1 0h0m2 0h0m6 0h0m2 0h0m8 0h0m-89 1h0m1 0h0m6 0h0m7 0h0m4 0h0m7 0h0m2 0h0m1 0h0m1 0h0m2 0h0m6 0h0m24 0h0m4 0h0m5 0h0m12 0h0m-80 1h0m8 0h0m1 0h0m9 0h0m24 0h0m1 0h0m2 0h0m7 0h0m3 0h0m3 0h0m2 0h0m4 0h0m4 0h0m2 0h0m1 0h0m3 0h0m1 0h0m2 0h0m3 0h0m-84 1h0m12 0h0m2 0h0m13 0h0m2 0h0m1 0h0m1 0h0m1 0h0m3 0h0m1 0h0m1 0h0m5 0h0m14 0h0m3 0h0m5 0h0m8 0h0m1 0h0m6 0h0m3 0h0m5 0h0m3 0h0m-88 1h0m4 0h0m3 0h0m4 0h0m2 0h0m1 0h0m6 0h0m10 0h0m4 0h0m8 0h0m7 0h0m3 0h0m7 0h0m4 0h0m2 0h0m5 0h0m1 0h0m2 0h0m1 0h0m7 0h0m1 0h0m-73 1h0m3 0h0m3 0h0m4 0h0m15 0h0m8 0h0m4 0h0m3 0h0m6 0h0m7 0h0m2 0h0m2 0h0m2 0h0m12 0h0m2 0h0m-80 1h0m13 0h0m4 0h0m5 0h0m1 0h0m10 0h0m4 0h0m1 0h0m3 0h0m2 0h0m12 0h0m14 0h0m1 0h0m5 0h0m-79 1h0m4 0h0m6 0h0m5 0h0m2 0h0m1 0h0m1 0h0m1 0h0m3 0h0m5 0h0m1 0h0m22 0h0m2 0h0m5 0h0m3 0h0m1 0h0m1 0h0m8 0h0m2 0h0m6 0h0m-79 1h0m5 0h0m3 0h0m2 0h0m1 0h0m7 0h0m3 0h0m2 0h0m4 0h0m1 0h0m10 0h0m10 0h0m8 0h0m5 0h0m18 0h0m2 0h0m3 0h0m10 0h0m-88 1h0m4 0h0m1 0h0m3 0h0m11 0h0m8 0h0m11 0h0m11 0h0m1 0h0m7 0h0m8 0h0m8 0h0m3 0h0m2 0h0m1 0h0m1 0h0m-75 1h0m1 0h0m1 0h0m2 0h0m1 0h0m8 0h0m9 0h0m3 0h0m1 0h0m1 0h0m9 0h0m1 0h0m8 0h0m12 0h0m1 0h0m6 0h0m4 0h0m3 0h0m4 0h0m-92 1h0m9 0h0m1 0h0m5 0h0m7 0h0m8 0h0m2 0h0m4 0h0m1 0h0m4 0h0m8 0h0m4 0h0m1 0h0m6 0h0m5 0h0m3 0h0m4 0h0m17 0h0m1 0h0m-89 1h0m13 0h0m4 0h0m9 0h0m3 0h0m10 0h0m1 0h0m4 0h0m7 0h0m11 0h0m1 0h0m6 0h0m1 0h0m5 0h0m12 0h0m1 0h0m-77 1h0m1 0h0m1 0h0m9 0h0m2 0h0m2 0h0m16 0h0m5 0h0m2 0h0m3 0h0m18 0h0m1 0h0m1 0h0m15 0h0m1 0h0m4 0h0m2 0h0m-90 1h0m7 0h0m1 0h0m2 0h0m2 0h0m1 0h0m6 0h0m1 0h0m3 0h0m3 0h0m3 0h0m4 0h0m6 0h0m1 0h0m1 0h0m1 0h0m5 0h0m3 0h0m4 0h0m4 0h0m1 0h0m6 0h0m1 0h0m19 0h0m-82 1h0m12 0h0m2 0h0m3 0h0m1 0h0m3 0h0m3 0h0m4 0h0m4 0h0m32 0h0m2 0h0m1 0h0m13 0h0m7 0h0m21 0h0m-112 1h0m15 0h0m2 0h0m4 0h0m6 0h0m3 0h0m3 0h0m1 0h0m1 0h0m2 0h0m3 0h0m4 0h0m5 0h0m1 0h0m4 0h0m2 0h0m4 0h0m4 0h0m7 0h0m1 0h0m1 0h0m1 0h0m1 0h0m2 0h0m7 0h0m1 0h0m2 0h0m-85 1h0m3 0h0m3 0h0m6 0h0m4 0h0m3 0h0m3 0h0m4 0h0m3 0h0m1 0h0m2 0h0m1 0h0m3 0h0m2 0h0m4 0h0m3 0h0m7 0h0m1 0h0m6 0h0m6 0h0m3 0h0m3 0h0m6 0h0m1 0h0m3 0h0m13 0h0m-89 1h0m1 0h0m6 0h0m9 0h0m3 0h0m3 0h0m2 0h0m3 0h0m2 0h0m3 0h0m2 0h0m6 0h0m6 0h0m6 0h0m2 0h0m4 0h0m4 0h0m1 0h0m2 0h0m1 0h0m6 0h0m5 0h0m5 0h0m-80 1h0m10 0h0m6 0h0m1 0h0m1 0h0m1 0h0m2 0h0m27 0h0m11 0h0m4 0h0m3 0h0m1 0h0m3 0h0m2 0h0m7 0h0m1 0h0m2 0h0m-88 1h0m14 0h0m9 0h0m4 0h0m6 0h0m1 0h0m4 0h0m1 0h0m3 0h0m4 0h0m3 0h0m7 0h0m34 0h0m-89 1h0m10 0h0m1 0h0m1 0h0m2 0h0m1 0h0m13 0h0m2 0h0m1 0h0m4 0h0m8 0h0m13 0h0m6 0h0m1 0h0m2 0h0m5 0h0m1 0h0m4 0h0m4 0h0m2 0h0m6 0h0m4 0h0m-92 1h0m4 0h0m4 0h0m2 0h0m2 0h0m9 0h0m1 0h0m1 0h0m2 0h0m6 0h0m5 0h0m7 0h0m3 0h0m18 0h0m7 0h0m3 0h0m2 0h0m6 0h0m-86 1h0m19 0h0m10 0h0m1 0h0m1 0h0m2 0h0m6 0h0m1 0h0m5 0h0m9 0h0m6 0h0m2 0h0m3 0h0m5 0h0m2 0h0m1 0h0m5 0h0m14 0h0m-80 1h0m1 0h0m3 0h0m1 0h0m2 0h0m3 0h0m4 0h0m11 0h0m1 0h0m10 0h0m2 0h0m3 0h0m21 0h0m8 0h0m4 0h0m1 0h0m-82 1h0m1 0h0m2 0h0m2 0h0m1 0h0m3 0h0m2 0h0m5 0h0m4 0h0m9 0h0m4 0h0m1 0h0m2 0h0m5 0h0m5 0h0m3 0h0m3 0h0m1 0h0m1 0h0m3 0h0m7 0h0m2 0h0m7 0h0m1 0h0m1 0h0m6 0h0m-85 1h0m8 0h0m1 0h0m4 0h0m3 0h0m1 0h0m5 0h0m1 0h0m1 0h0m4 0h0m1 0h0m9 0h0m3 0h0m4 0h0m12 0h0m3 0h0m3 0h0m5 0h0m2 0h0m2 0h0m3 0h0m4 0h0m3 0h0m1 0h0m10 0h0m-89 1h0m2 0h0m1 0h0m3 0h0m1 0h0m4 0h0m5 0h0m4 0h0m8 0h0m4 0h0m6 0h0m5 0h0m1 0h0m11 0h0m1 0h0m3 0h0m8 0h0m3 0h0m5 0h0m14 0h0m6 0h0m-94 1h0m10 0h0m8 0h0m3 0h0m1 0h0m2 0h0m2 0h0m3 0h0m5 0h0m17 0h0m6 0h0m2 0h0m3 0h0m1 0h0m6 0h0m3 0h0m1 0h0m5 0h0m4 0h0m1 0h0m3 0h0m6 0h0m-87 1h0m2 0h0m9 0h0m2 0h0m4 0h0m13 0h0m21 0h0m3 0h0m5 0h0m1 0h0m3 0h0m6 0h0m-54 1h0m6 0h0m3 0h0m5 0h0m7 0h0m10 0h0m13 0h0m3 0h0m3 0h0m1 0h0m13 0h0m1 0h0m-79 1h0m14 0h0m10 0h0m5 0h0m7 0h0m10 0h0m7 0h0m7 0h0m2 0h0m1 0h0m2 0h0m2 0h0m1 0h0m1 0h0m2 0h0m3 0h0m1 0h0m2 0h0m1 0h0m3 0h0m2 0h0m6 0h0m-100 1h0m2 0h0m14 0h0m8 0h0m4 0h0m20 0h0m2 0h0m10 0h0m4 0h0m4 0h0m1 0h0m1 0h0m5 0h0m1 0h0m1 0h0m7 0h0m1 0h0m5 0h0m9 0h0m-99 1h0m11 0h0m2 0h0m1 0h0m22 0h0m2 0h0m22 0h0m2 0h0m3 0h0m2 0h0m3 0h0m6 0h0m2 0h0m1 0h0m2 0h0m1 0h0m1 0h0m3 0h0m4 0h0m1 0h0m3 0h0m1 0h0m-97 1h0m5 0h0m1 0h0m1 0h0m4 0h0m1 0h0m2 0h0m1 0h0m6 0h0m25 0h0m8 0h0m3 0h0m5 0h0m1 0h0m8 0h0m4 0h0m3 0h0m1 0h0m5 0h0m3 0h0m7 0h0m1 0h0m4 0h0m1 0h0m-97 1h0m1 0h0m3 0h0m2 0h0m3 0h0m2 0h0m1 0h0m2 0h0m8 0h0m5 0h0m5 0h0m5 0h0m20 0h0m2 0h0m7 0h0m1 0h0m3 0h0m4 0h0m2 0h0m3 0h0m11 0h0m2 0h0m3 0h0m-95 1h0m1 0h0m3 0h0m1 0h0m3 0h0m2 0h0m4 0h0m3 0h0m3 0h0m1 0h0m4 0h0m17 0h0m2 0h0m10 0h0m3 0h0m1 0h0m7 0h0m3 0h0m7 0h0m8 0h0m8 0h0m7 0h0m-101 1h0m5 0h0m1 0h0m1 0h0m2 0h0m2 0h0m3 0h0m2 0h0m1 0h0m1 0h0m1 0h0m1 0h0m21 0h0m17 0h0m6 0h0m1 0h0m15 0h0m2 0h0m3 0h0m-86 1h0m7 0h0m3 0h0m1 0h0m2 0h0m1 0h0m2 0h0m5 0h0m3 0h0m9 0h0m1 0h0m1 0h0m2 0h0m38 0h0m3 0h0m4 0h0m2 0h0m2 0h0m10 0h0m-92 1h0m2 0h0m4 0h0m3 0h0m6 0h0m40 0h0m8 0h0m1 0h0m13 0h0m5 0h0m1 0h0m1 0h0m-85 1h0m1 0h0m1 0h0m1 0h0m1 0h0m5 0h0m5 0h0m1 0h0m8 0h0m6 0h0m17 0h0m30 0h0m2 0h0m4 0h0m9 0h0m5 0h0m-93 1h0m5 0h0m3 0h0m2 0h0m1 0h0m3 0h0m13 0h0m29 0h0m2 0h0m8 0h0m7 0h0m10 0h0m2 0h0m-91 1h0m1 0h0m4 0h0m6 0h0m6 0h0m2 0h0m24 0h0m18 0h0m2 0h0m6 0h0m3 0h0m2 0h0m2 0h0m2 0h0m4 0h0m6 0h0m8 0h0m1 0h0m3 0h0m-96 1h0m2 0h0m1 0h0m2 0h0m3 0h0m1 0h0m36 0h0m7 0h0m18 0h0m1 0h0m1 0h0m10 0h0m1 0h0m-81 1h0m4 0h0m2 0h0m1 0h0m5 0h0m21 0h0m1 0h0m5 0h0m4 0h0m20 0h0m6 0h0m5 0h0m1 0h0m8 0h0m-87 1h0m7 0h0m5 0h0m2 0h0m3 0h0m4 0h0m33 0h0m9 0h0m4 0h0m4 0h0m13 0h0m3 0h0m7 0h0m3 0h0m-96 1h0m1 0h0m9 0h0m1 0h0m1 0h0m2 0h0m10 0h0m41 0h0m7 0h0m14 0h0m1 0h0m-84 1h0m1 0h0m2 0h0m5 0h0m7 0h0m47 0h0m31 0h0m-92 1h0m10 0h0m4 0h0m48 0h0m1 0h0m3 0h0m25 0h0m2 0h0m-93 1h0m2 0h0m6 0h0m3 0h0m5 0h0m12 0h0m25 0h0m26 0h0m1 0h0m1 0h0m5 0h0m-82 1h0m6 0h0m1 0h0m21 0h0m25 0h0m7 0h0m13 0h0m1 0h0m2 0h0m6 0h0m-92 1h0m6 0h0m1 0h0m4 0h0m6 0h0m45 0h0m10 0h0m2 0h0m4 0h0m12 0h0m-97 1h0m10 0h0m3 0h0m1 0h0m1 0h0m2 0h0m2 0h0m1 0h0m2 0h0m3 0h0m2 0h0m21 0h0m9 0h0m12 0h0m24 0h0m2 0h0m5 0h0m-97 1h0m9 0h0m3 0h0m1 0h0m1 0h0m2 0h0m29 0h0m25 0h0m17 0h0m7 0h0m3 0h0m-87 1h0m5 0h0m3 0h0m1 0h0m1 0h0m54 0h0m7 0h0m13 0h0m8 0h0m-86 1h0m44 0h0m-52 1h0m1 0h0m3 0h0m2 0h0m1 0h0m2 0h0m2 0h0m1 0h0m62 0h0m3 0h0m1 0h0m4 0h0m3 0h0m3 0h0m3 0h0m1 0h0m-92 1h0m1 0h0m4 0h0m10 0h0m40 0h0m2 0h0m27 0h0m5 0h0m-89 1h0m2 0h0m5 0h0m6 0h0m1 0h0m44 0h0m4 0h0m2 0h0m9 0h0m4 0h0m15 0h0m-93 1h0m2 0h0m2 0h0m3 0h0m1 0h0m5 0h0m2 0h0m7 0h0m3 0h0m40 0h0m-59 1h0m3 0h0m6 0h0m39 0h0m5 0h0m19 0h0m-81 1h0m1 0h0m8 0h0m43 0h0m14 0h0m7 0h0m1 0h0m5 0h0m2 0h0m3 0h0m6 0h0m2 0h0m-91 1h0m7 0h0m4 0h0m3 0h0m2 0h0m1 0h0m33 0h0m10 0h0m23 0h0m1 0h0m2 0h0m38 0h0m-131 1h0m11 0h0m1 0h0m8 0h0m31 0h0m17 0h0m12 0h0m2 0h0m16 0h0m1 0h0m2 0h0m-92 1h0m5 0h0m2 0h0m2 0h0m54 0h0m17 0h0m2 0h0m4 0h0m8 0h0m-96 1h0m4 0h0m1 0h0m14 0h0m2 0h0m38 0h0m6 0h0m5 0h0m11 0h0m7 0h0m-81 1h0m3 0h0m10 0h0m13 0h0m16 0h0m10 0h0m5 0h0m4 0h0m9 0h0m22 0h0m-99 1h0m4 0h0m4 0h0m1 0h0m5 0h0m36 0h0m24 0h0m14 0h0m4 0h0m2 0h0m-83 1h0m3 0h0m2 0h0m1 0h0m50 0h0m6 0h0m10 0h0m-71 1h0m50 0h0m5 0h0m4 0h0m12 0h0m11 0h0m-91 1h0m3 0h0m9 0h0m1 0h0m1 0h0m43 0h0m10 0h0m14 0h0m-83 1h0m3 0h0m3 0h0m1 0h0m2 0h0m5 0h0m5 0h0m45 0h0m28 0h0m-92 1h0m2 0h0m11 0h0m30 0h0m20 0h0m4 0h0m16 0h0m-69 1h0m2 0h0m4 0h0m16 0h0m6 0h0m42 0h0m13 0h0m-93 1h0m6 0h0m1 0h0m4 0h0m46 0h0m11 0h0m19 0h0m6 0h0m-96 1h0m1 0h0m4 0h0m3 0h0m10 0h0m3 0h0m38 0h0m6 0h0m7 0h0m1 0h0m10 0h0m10 0h0m-87 1h0m51 0h0m4 0h0m7 0h0m6 0h0m3 0h0m-73 1h0m3 0h0m17 0h0m40 0h0m-64 1h0m5 0h0m2 0h0m8 0h0m44 0h0m10 0h0m12 0h0m3 0h0m5 0h0m-87 1h0m11 0h0m2 0h0m1 0h0m3 0h0m-22 1h0m1 0h0m21 0h0m38 0h0m3 0h0m12 0h0m1 0h0m27 0h0m-100 1h0m8 0h0m3 0h0m7 0h0m65 0h0m9 0h0m-93 1h0m3 0h0m1 0h0m6 0h0m70 0h0m2 0h0m18 0h0m-93 1h0m1 0h0m5 0h0m6 0h0m21 0h0m26 0h0m3 0h0m2 0h0m-71 1h0m13 0h0m7 0h0m25 0h0m22 0h0m7 0h0m8 0h0m-82 1h0m3 0h0m4 0h0m2 0h0m13 0h0m47 0h0m14 0h0m10 0h0m-88 1h0m12 0h0m60 0h0m-71 1h0m1 0h0m1 0h0m7 0h0m45 0h0m2 0h0m8 0h0m21 0h0m-75 1h0m51 0h0m9 0h0m-69 1h0m2 0h0m62 0h0m6 0h0m-76 1h0m3 0h0m3 0h0m1 0h0m3 0h0m74 0h0m11 0h0m-90 1h0m56 0h0m7 0h0m7 0h0m9 0h0m5 0h0m5 0h0m-98 1h0m11 0h0m3 0h0m51 0h0m5 0h0m9 0h0m23 0h0m-92 1h0m84 0h0m-93 1h0m2 0h0m7 0h0m3 0h0m6 0h0m42 0h0m10 0h0m4 0h0m20 0h0m-91 1h0m10 0h0m3 0h0m1 0h0m42 0h0m11 0h0m7 0h0m3 0h0m3 0h0m10 0h0m-86 1h0m10 0h0m48 0h0m1 0h0m-66 1h0m18 0h0m42 0h0m7 0h0m2 0h0m-65 1h0m1 0h0m7 0h0m1 0h0m2 0h0m-8 1h0m8 0h0m5 0h0m48 0h0m5 0h0m-63 2h0m9 0h0" stroke="#2a50a4" stroke-width="2.5" stroke-linecap="square" fill="none"/>
<polygon points="227.8,680.0 230.8,680.6 232.0,678.0 234.2,678.9 234.7,676.9 237.5,676.8 237.4,677.2 240.5,677.1 242.2,676.9 242.6,676.7 244.0,676.0 245.4,676.2 248.7,676.3 249.7,676.1 252.2,674.9 250.5,677.7 250.9,679.8 250.2,680.1 248.9,681.8 249.1,683.2 247.6,685.4 246.9,686.4 244.9,687.2 245.0,688.5 244.2,690.5 242.1,692.1 242.9,693.0 242.2,696.3 240.8,697.9 240.3,697.5 239.0,700.1 238.5,701.0 237.9,703.5 238.3,705.2 238.0,706.7 237.4,708.0 235.7,710.8 236.4,712.2 236.3,713.8 235.8,715.2 235.9,716.9 234.6,717.3 232.2,717.9 232.3,717.7 229.8,717.5 229.5,714.6 229.4,714.1 227.8,712.3 228.0,710.0 227.7,709.5 228.8,706.9 227.7,704.8 227.9,704.1 226.1,702.6 226.3,701.1 227.2,699.2 226.0,696.0 227.3,696.1 228.1,694.7 226.4,690.9 227.0,689.7 227.4,688.6 226.8,687.3 228.6,686.1 227.1,684.5 229.1,682.3" fill="#0a0a0a"/>
<path transform="translate(185.2 580.3) scale(.5)" d="M0 0m314 75h0m-284 1h0m93 52h0m-41 8h0m23 9h0m-60 2h0m48 5h0m62 0h0m154 2h0m-221 1h0m23 1h0m-23 1h0m105 0h0m-94 1h0m1 1h0m2 0h0m-11 1h0m4 0h0m2 0h0m1 0h0m3 0h0m1 1h0m3 0h0m-8 1h0m3 0h0m5 0h0m46 0h0m-57 1h0m6 0h0m-8 1h0m10 0h0m56 0h0m32 0h0m-101 1h0m4 0h0m2 0h0m2 0h0m15 0h0m-25 1h0m15 0h0m85 0h0m-99 1h0m4 0h0m9 0h0m2 0h0m68 0h0m-80 1h0m5 0h0m3 0h0m-11 1h0m4 0h0m85 0h0m12 0h0m-101 1h0m4 0h0m3 0h0m5 0h0m6 0h0m-18 1h0m4 0h0m15 0h0m-19 1h0m7 0h0m1 0h0m9 0h0m101 0h0m-119 1h0m4 0h0m2 0h0m8 0h0m1 0h0m54 0h0m-66 1h0m3 0h0m1 0h0m6 0h0m2 0h0m3 0h0m-12 1h0m3 0h0m5 0h0m1 0h0m3 0h0m2 0h0m1 0h0m57 0h0m-72 1h0m2 0h0m1 0h0m4 0h0m3 0h0m6 0h0m2 0h0m39 0h0m12 0h0m-71 1h0m1 0h0m2 0h0m11 0h0m2 0h0m14 0h0m51 0h0m9 0h0m-92 1h0m4 0h0m2 0h0m1 0h0m2 0h0m7 0h0m33 0h0m35 0h0m-86 1h0m8 0h0m5 0h0m3 0h0m46 0h0m14 0h0m-74 1h0m1 0h0m2 0h0m4 0h0m1 0h0m1 0h0m1 0h0m2 0h0m1 0h0m4 0h0m20 0h0m35 0h0m24 0h0m-107 1h0m17 0h0m15 0h0m12 0h0m35 0h0m7 0h0m-74 1h0m4 0h0m2 0h0m11 0h0m22 0h0m12 0h0m-53 1h0m3 0h0m6 0h0m2 0h0m2 0h0m2 0h0m53 0h0m1 0h0m-54 1h0m3 0h0m7 0h0m-28 1h0m9 0h0m1 0h0m2 0h0m2 0h0m1 0h0m2 0h0m5 0h0m26 0h0m16 0h0m2 0h0m-63 1h0m5 0h0m1 0h0m1 0h0m2 0h0m4 0h0m1 0h0m12 0h0m6 0h0m1 0h0m21 0h0m9 0h0m-57 1h0m3 0h0m4 0h0m1 0h0m7 0h0m8 0h0m1 0h0m7 0h0m1 0h0m26 0h0m42 0h0m-98 1h0m1 0h0m3 0h0m3 0h0m1 0h0m12 0h0m4 0h0m13 0h0m1 0h0m7 0h0m6 0h0m9 0h0m6 0h0m15 0h0m-89 1h0m4 0h0m2 0h0m3 0h0m2 0h0m1 0h0m1 0h0m25 0h0m1 0h0m29 0h0m22 0h0m-95 1h0m11 0h0m2 0h0m2 0h0m4 0h0m9 0h0m8 0h0m34 0h0m41 0h0m-108 1h0m9 0h0m7 0h0m1 0h0m7 0h0m2 0h0m14 0h0m2 0h0m4 0h0m12 0h0m4 0h0m74 0h0m-128 1h0m2 0h0m1 0h0m3 0h0m1 0h0m1 0h0m10 0h0m9 0h0m1 0h0m-36 1h0m10 0h0m2 0h0m2 0h0m1 0h0m6 0h0m4 0h0m1 0h0m7 0h0m10 0h0m3 0h0m5 0h0m2 0h0m36 0h0m-96 1h0m18 0h0m3 0h0m2 0h0m7 0h0m9 0h0m13 0h0m3 0h0m5 0h0m8 0h0m7 0h0m26 0h0m8 0h0m2 0h0m-103 1h0m15 0h0m9 0h0m6 0h0m7 0h0m43 0h0m5 0h0m-65 1h0m2 0h0m6 0h0m7 0h0m18 0h0m18 0h0m-55 1h0m1 0h0m1 0h0m1 0h0m20 0h0m31 0h0m6 0h0m15 0h0m-103 1h0m20 0h0m1 0h0m1 0h0m26 0h0m118 0h0m-147 1h0m7 0h0m1 0h0m3 0h0m1 0h0m1 0h0m4 0h0m4 0h0m13 0h0m24 0h0m53 0h0m-127 1h0m11 0h0m4 0h0m10 0h0m9 0h0m11 0h0m11 0h0m22 0h0m31 0h0m-97 1h0m5 0h0m2 0h0m1 0h0m1 0h0m13 0h0m1 0h0m2 0h0m2 0h0m2 0h0m1 0h0m2 0h0m13 0h0m2 0h0m6 0h0m5 0h0m31 0h0m-105 1h0m9 0h0m16 0h0m7 0h0m2 0h0m10 0h0m3 0h0m2 0h0m8 0h0m28 0h0m7 0h0m-69 1h0m4 0h0m1 0h0m26 0h0m19 0h0m16 0h0m-72 1h0m1 0h0m1 0h0m2 0h0m5 0h0m8 0h0m1 0h0m2 0h0m1 0h0m1 0h0m6 0h0m119 0h0m-134 1h0m1 0h0m2 0h0m11 0h0m7 0h0m5 0h0m38 0h0m4 0h0m17 0h0m-107 1h0m5 0h0m18 0h0m2 0h0m5 0h0m3 0h0m3 0h0m6 0h0m6 0h0m12 0h0m47 0h0m-93 1h0m6 0h0m4 0h0m1 0h0m4 0h0m1 0h0m41 0h0m38 0h0m10 0h0m-124 1h0m17 0h0m3 0h0m2 0h0m5 0h0m6 0h0m5 0h0m5 0h0m4 0h0m4 0h0m34 0h0m4 0h0m-74 1h0m4 0h0m1 0h0m1 0h0m5 0h0m3 0h0m4 0h0m7 0h0m6 0h0m2 0h0m1 0h0m7 0h0m37 0h0m9 0h0m-90 1h0m1 0h0m8 0h0m5 0h0m4 0h0m3 0h0m11 0h0m22 0h0m21 0h0m-104 1h0m43 0h0m2 0h0m3 0h0m12 0h0m4 0h0m1 0h0m2 0h0m25 0h0m38 0h0m47 0h0m-151 1h0m2 0h0m3 0h0m11 0h0m21 0h0m12 0h0m-44 1h0m1 0h0m8 0h0m5 0h0m3 0h0m3 0h0m5 0h0m15 0h0m3 0h0m35 0h0m2 0h0m11 0h0m49 0h0m6 0h0m-152 1h0m10 0h0m2 0h0m6 0h0m1 0h0m2 0h0m8 0h0m2 0h0m20 0h0m16 0h0m7 0h0m77 0h0m-155 1h0m15 0h0m5 0h0m1 0h0m4 0h0m1 0h0m37 0h0m14 0h0m22 0h0m-87 1h0m4 0h0m5 0h0m2 0h0m1 0h0m1 0h0m1 0h0m2 0h0m2 0h0m4 0h0m13 0h0m13 0h0m-59 1h0m4 0h0m7 0h0m1 0h0m4 0h0m5 0h0m5 0h0m3 0h0m7 0h0m2 0h0m26 0h0m104 0h0m-155 1h0m1 0h0m10 0h0m3 0h0m11 0h0m8 0h0m3 0h0m3 0h0m28 0h0m5 0h0m-84 1h0m1 0h0m4 0h0m9 0h0m1 0h0m1 0h0m9 0h0m4 0h0m1 0h0m52 0h0m3 0h0m-86 1h0m8 0h0m1 0h0m1 0h0m3 0h0m1 0h0m2 0h0m7 0h0m2 0h0m-21 1h0m7 0h0m15 0h0m4 0h0m4 0h0m15 0h0m42 0h0m34 0h0m-120 1h0m12 0h0m1 0h0m9 0h0m15 0h0m5 0h0m29 0h0m8 0h0m72 0h0m-146 1h0m7 0h0m4 0h0m6 0h0m3 0h0m71 0h0m35 0h0m2 0h0m-128 1h0m3 0h0m1 0h0m3 0h0m2 0h0m8 0h0m57 0h0m-82 1h0m8 0h0m1 0h0m7 0h0m3 0h0m1 0h0m1 0h0m2 0h0m6 0h0m8 0h0m28 0h0m36 0h0m-92 1h0m2 0h0m7 0h0m2 0h0m2 0h0m47 0h0m83 0h0m-141 1h0m2 0h0m3 0h0m8 0h0m4 0h0m6 0h0m51 0h0m73 0h0m-161 1h0m3 0h0m7 0h0m10 0h0m7 0h0m6 0h0m3 0h0m-27 1h0m6 0h0m1 0h0m2 0h0m2 0h0m5 0h0m8 0h0m4 0h0m4 0h0m-47 1h0m10 0h0m9 0h0m3 0h0m9 0h0m4 0h0m18 0h0m2 0h0m102 0h0m-146 1h0m2 0h0m9 0h0m3 0h0m1 0h0m3 0h0m1 0h0m2 0h0m5 0h0m5 0h0m2 0h0m3 0h0m20 0h0m37 0h0m-92 1h0m3 0h0m4 0h0m15 0h0m1 0h0m1 0h0m-21 1h0m3 0h0m3 0h0m1 0h0m3 0h0m1 0h0m4 0h0m4 0h0m1 0h0m1 0h0m1 0h0m69 0h0m-88 1h0m4 0h0m2 0h0m2 0h0m1 0h0m1 0h0m3 0h0m10 0h0m35 0h0m-57 1h0m1 0h0m6 0h0m2 0h0m7 0h0m7 0h0m9 0h0m-30 1h0m9 0h0m1 0h0m2 0h0m2 0h0m3 0h0m8 0h0m-51 1h0m15 0h0m7 0h0m8 0h0m3 0h0m5 0h0m1 0h0m2 0h0m-14 1h0m2 0h0m1 0h0m4 0h0m-27 1h0m9 0h0m15 0h0m37 0h0m-50 1h0m1 0h0m9 0h0m4 0h0m4 0h0m2 0h0m5 0h0m4 0h0m-35 1h0m17 0h0m2 0h0m-16 1h0m6 0h0m2 0h0m3 0h0m1 0h0m1 0h0m4 0h0m1 0h0m18 0h0m-29 1h0m5 0h0m10 0h0m7 0h0m8 0h0m31 0h0m39 0h0m-111 1h0m13 0h0m7 0h0m1 0h0m10 0h0m1 0h0m4 0h0m58 0h0m-97 1h0m27 0h0m1 0h0m3 0h0m2 0h0m4 0h0m-14 1h0m2 0h0m84 0h0m-111 1h0m18 0h0m7 0h0m6 0h0m7 0h0m1 0h0m9 0h0m-48 1h0m8 0h0m7 0h0m4 0h0m5 0h0m4 0h0m2 0h0m2 0h0m4 0h0m1 0h0m-34 1h0m19 0h0m2 0h0m2 0h0m10 0h0m-32 1h0m8 0h0m1 0h0m10 0h0m5 0h0m-14 1h0m1 0h0m1 0h0m17 0h0m2 0h0m5 0h0m1 0h0m5 0h0m-17 1h0m1 0h0m7 0h0m-13 1h0m3 0h0m76 0h0m-96 1h0m6 0h0m29 0h0m16 0h0m-46 1h0m11 0h0m4 0h0m2 0h0m5 0h0m-22 1h0m8 0h0m11 0h0m-12 1h0m10 0h0m-4 1h0m15 0h0m8 0h0m-34 1h0m1 1h0m1 0h0m9 0h0m2 0h0m2 0h0m1 0h0m-11 1h0m5 0h0m6 0h0m-14 1h0m5 0h0m2 0h0m4 0h0m-7 1h0m2 0h0m16 0h0m-30 2h0m3 0h0m15 0h0m9 0h0m1 0h0m-25 1h0m1 0h0m3 0h0m8 0h0m1 0h0m-11 1h0m5 1h0m2 0h0m1 0h0m5 0h0m-13 1h0m-5 1h0m4 0h0m1 0h0m1 0h0m0 1h0m3 0h0m1 0h0m2 0h0m3 0h0m3 0h0m-15 1h0m1 0h0m2 0h0m1 0h0m7 0h0m2 0h0m13 0h0m-28 1h0m1 0h0m5 0h0m-8 1h0m2 0h0m4 0h0m6 0h0m2 0h0m1 0h0m3 0h0m21 0h0m-37 1h0m4 0h0m1 0h0m4 0h0m2 0h0m5 0h0m-7 1h0m4 0h0m-13 1h0m1 0h0m2 0h0m5 0h0m4 0h0m-12 1h0m2 0h0m5 0h0m5 0h0m-14 1h0m11 0h0m-20 1h0m15 0h0m2 0h0m1 0h0m6 0h0m11 0h0m-18 1h0m2 0h0m10 0h0m-7 1h0m14 0h0m-25 1h0m4 0h0m9 0h0m1 0h0m-14 1h0m1 0h0m1 0h0m2 0h0m-3 1h0m1 0h0m4 0h0m4 0h0m-12 2h0m11 0h0m4 0h0m-12 1h0m12 0h0m-6 1h0m2 0h0m2 0h0m-7 1h0m2 1h0m2 0h0m2 0h0m-12 1h0m4 0h0m9 0h0m2 0h0m2 0h0m-17 1h0m4 0h0m4 0h0m7 0h0m-14 1h0m2 0h0m2 0h0m4 1h0m2 0h0m6 0h0m-9 1h0m4 0h0m-7 1h0m-5 1h0m2 0h0m9 0h0m2 0h0m-12 1h0m1 0h0m14 0h0m-13 1h0m1 0h0m-1 1h0m2 0h0m-4 1h0m5 0h0m5 0h0m8 0h0m-14 1h0m-4 1h0m10 0h0m2 0h0m-11 1h0m3 0h0m1 0h0m3 0h0m2 0h0m4 0h0m-12 1h0m15 0h0m2 0h0m-17 1h0m2 0h0m2 0h0m1 0h0m7 0h0m-13 1h0m1 0h0m11 0h0m-9 1h0m2 0h0m1 0h0m3 0h0m5 0h0m1 0h0m-9 1h0m5 0h0m-11 1h0m4 0h0m2 0h0m7 0h0m-8 1h0m1 0h0m5 0h0m3 0h0m-13 1h0m7 0h0m3 1h0m-2 1h0m3 0h0m-10 1h0m4 0h0m2 0h0m3 0h0m3 0h0m-12 1h0m2 0h0m2 0h0m5 0h0m-14 1h0m3 0h0m1 0h0m1 0h0m6 0h0m2 0h0m5 0h0m1 0h0m-10 1h0m3 0h0m1 0h0m-6 2h0m3 0h0m3 0h0m-12 1h0m5 0h0m9 0h0m-10 1h0m7 1h0m-7 2h0m2 0h0m1 2h0m3 0h0m0 1h0m-4 3h0m8 0h0m-10 3h0m7 1h0m3 0h0m1 0h0m-4 1h0m4 0h0m0 1h0m-18 1h0m15 1h0m2 0h0m-12 1h0m3 2h0m2 1h0m-1 1h0m7 0h0m-10 2h0m11 0h0m-2 3h0m-7 1h0m9 0h0m-4 7h0m-8 1h0m0 9h0m5 1h0m8 0h0m-7 1h0m-7 2h0m0 3h0m2 0h0m-1 5h0m10 1h0m5 0h0m-10 2h0" stroke="#0a0a0a" stroke-width="2.3" stroke-linecap="square" fill="none"/>
<path transform="translate(185.2 580.3) scale(.5)" d="M0 0m70 191h0m-53 9h0m10 0h0m29 0h0m10 0h0m-56 1h0m16 0h0m43 0h0m2 0h0m-44 1h0m19 0h0m1 0h0m18 0h0m5 0h0m-21 1h0m4 0h0m19 0h0m-7 1h0m7 0h0m-17 1h0m2 0h0m2 0h0m16 0h0m-11 1h0m-41 1h0m55 0h0m-20 1h0m2 0h0m7 0h0m-32 1h0m24 1h0m4 0h0m4 2h0m-6 2h0m6 1h0m11 0h0m-68 1h0m52 0h0m9 0h0m-15 1h0m5 1h0m7 0h0m-15 1h0m-21 1h0m9 1h0m8 1h0m17 1h0m5 0h0m-61 1h0m49 0h0m2 1h0m4 0h0m-10 1h0m2 1h0m4 0h0m-27 2h0m25 0h0m2 0h0m1 0h0m7 0h0m-25 1h0m19 0h0m-1 2h0m10 1h0m-9 1h0m7 0h0m-17 1h0m13 0h0m2 0h0m3 0h0m-55 1h0m38 0h0m3 0h0m11 0h0m-43 2h0m40 0h0m2 0h0m1 0h0m-18 3h0m15 0h0m17 1h0m-60 1h0m37 0h0m1 0h0m3 0h0m9 0h0m-3 1h0m5 1h0m-22 1h0m-5 1h0m21 1h0m-39 2h0m35 1h0m1 1h0m18 0h0m-25 1h0m-42 3h0m48 0h0m-21 2h0m34 0h0m-13 1h0m-10 3h0m-11 1h0m-28 4h0m45 2h0m2 0h0m-53 3h0m60 2h0m-40 2h0m11 0h0m2 11h0m1 8h0m14 5h0m7 4h0m-45 4h0m39 0h0m-21 2h0m28 1h0m-31 2h0m-5 3h0m36 1h0m-55 3h0m26 6h0m-6 4h0m9 3h0m16 0h0m-6 2h0m-16 1h0m16 4h0m7 3h0m-36 2h0m38 3h0m-22 2h0" stroke="#e8262c" stroke-width="1.9" stroke-linecap="square" fill="none"/>
<path d="M185.2 580.3H432.6V784.9" stroke="#6a6a6a" stroke-width="1.3" fill="none"/>
<path d="M185.2 579.7V784.9H433.2" stroke="#111" stroke-width="1.7" fill="none"/>
<path d="M185.2 784.9v5M200.7 784.9v2.2M216.7 784.9v2.2M231.7 784.9v2.2M247.0 784.9v5M262.5 784.9v2.2M278.5 784.9v2.2M293.5 784.9v2.2M308.8 784.9v5M324.3 784.9v2.2M340.3 784.9v2.2M355.3 784.9v2.2M370.6 784.9v5M386.1 784.9v2.2M402.1 784.9v2.2M417.1 784.9v2.2M432.4 784.9v5M185.2 595.5h-4M185.2 631.9h-4M185.2 669.3h-4M185.2 706.3h-4M185.2 742.6h-4M185.2 779.6h-4" stroke="#222" stroke-width="1.1" fill="none"/>
<line x1="184.1" y1="583.3" x2="184.1" y2="782.9" stroke="#444" stroke-width="0.9" stroke-dasharray="0.8 2.9"/>
<text transform="translate(308.8 627.4) scale(1.032 1)" font-size="22.5" style="fill:#2a50a4">40%</text>
<text transform="translate(315.1 684.9) scale(0.916 1)" font-size="22.5" style="fill:#e8262c">2%</text>
<rect x="454.0" y="580.3" width="247.4" height="204.6" fill="#fff"/>
<path transform="translate(454.0 580.3) scale(.5)" d="M0 0m191 13h0m-81 1h0m27 0h0m-8 1h0m4 0h0m10 0h0m7 0h0m16 0h0m2 0h0m-35 1h0m7 0h0m10 0h0m32 0h0m-68 1h0m15 0h0m23 0h0m-52 1h0m14 0h0m6 0h0m3 0h0m7 0h0m2 0h0m1 0h0m2 0h0m-32 1h0m8 0h0m7 0h0m12 0h0m11 0h0m18 0h0m10 0h0m1 0h0m-55 1h0m4 0h0m12 0h0m14 0h0m8 0h0m13 0h0m3 0h0m3 0h0m10 0h0m5 0h0m4 0h0m-85 1h0m4 0h0m3 0h0m10 0h0m11 0h0m8 0h0m20 0h0m8 0h0m4 0h0m12 0h0m-85 1h0m3 0h0m23 0h0m50 0h0m-95 1h0m23 0h0m19 0h0m7 0h0m3 0h0m3 0h0m6 0h0m7 0h0m5 0h0m5 0h0m8 0h0m2 0h0m1 0h0m1 0h0m4 0h0m3 0h0m7 0h0m-65 1h0m13 0h0m3 0h0m7 0h0m9 0h0m8 0h0m8 0h0m3 0h0m7 0h0m9 0h0m-84 1h0m6 0h0m8 0h0m1 0h0m10 0h0m5 0h0m2 0h0m7 0h0m17 0h0m21 0h0m-79 1h0m15 0h0m3 0h0m4 0h0m4 0h0m1 0h0m7 0h0m4 0h0m8 0h0m3 0h0m15 0h0m7 0h0m2 0h0m4 0h0m3 0h0m1 0h0m1 0h0m-75 1h0m4 0h0m9 0h0m6 0h0m1 0h0m1 0h0m4 0h0m3 0h0m-33 1h0m1 0h0m1 0h0m2 0h0m15 0h0m8 0h0m4 0h0m1 0h0m5 0h0m18 0h0m19 0h0m1 0h0m1 0h0m2 0h0m2 0h0m-69 1h0m13 0h0m7 0h0m3 0h0m19 0h0m2 0h0m6 0h0m2 0h0m20 0h0m-82 1h0m5 0h0m1 0h0m28 0h0m4 0h0m7 0h0m4 0h0m3 0h0m16 0h0m2 0h0m11 0h0m-84 1h0m20 0h0m4 0h0m3 0h0m2 0h0m5 0h0m7 0h0m1 0h0m8 0h0m12 0h0m5 0h0m2 0h0m2 0h0m3 0h0m2 0h0m-58 1h0m8 0h0m7 0h0m1 0h0m2 0h0m14 0h0m15 0h0m7 0h0m12 0h0m2 0h0m-83 1h0m1 0h0m3 0h0m2 0h0m3 0h0m1 0h0m3 0h0m17 0h0m21 0h0m15 0h0m2 0h0m9 0h0m3 0h0m-85 1h0m12 0h0m18 0h0m11 0h0m4 0h0m9 0h0m10 0h0m18 0h0m2 0h0m-69 1h0m9 0h0m1 0h0m17 0h0m1 0h0m3 0h0m10 0h0m2 0h0m8 0h0m5 0h0m2 0h0m5 0h0m6 0h0m2 0h0m-62 1h0m3 0h0m5 0h0m7 0h0m2 0h0m12 0h0m4 0h0m10 0h0m6 0h0m2 0h0m4 0h0m2 0h0m4 0h0m1 0h0m-60 1h0m3 0h0m1 0h0m3 0h0m4 0h0m4 0h0m2 0h0m1 0h0m5 0h0m35 0h0m-88 1h0m6 0h0m3 0h0m2 0h0m4 0h0m9 0h0m5 0h0m5 0h0m2 0h0m5 0h0m1 0h0m30 0h0m13 0h0m3 0h0m-76 1h0m10 0h0m9 0h0m1 0h0m6 0h0m4 0h0m9 0h0m12 0h0m-55 1h0m34 0h0m2 0h0m5 0h0m8 0h0m2 0h0m6 0h0m1 0h0m-61 1h0m7 0h0m1 0h0m1 0h0m2 0h0m9 0h0m14 0h0m12 0h0m1 0h0m10 0h0m4 0h0m1 0h0m19 0h0m-78 1h0m2 0h0m1 0h0m5 0h0m3 0h0m1 0h0m2 0h0m3 0h0m1 0h0m1 0h0m12 0h0m4 0h0m13 0h0m7 0h0m-44 1h0m6 0h0m10 0h0m1 0h0m9 0h0m12 0h0m1 0h0m5 0h0m21 0h0m-72 1h0m8 0h0m3 0h0m8 0h0m4 0h0m11 0h0m5 0h0m1 0h0m6 0h0m6 0h0m18 0h0m2 0h0m3 0h0m-82 1h0m5 0h0m6 0h0m28 0h0m4 0h0m17 0h0m1 0h0m13 0h0m3 0h0m4 0h0m9 0h0m-78 1h0m16 0h0m1 0h0m5 0h0m10 0h0m6 0h0m3 0h0m9 0h0m1 0h0m5 0h0m7 0h0m5 0h0m-78 1h0m21 0h0m3 0h0m8 0h0m1 0h0m7 0h0m10 0h0m1 0h0m8 0h0m1 0h0m4 0h0m2 0h0m1 0h0m1 0h0m2 0h0m4 0h0m8 0h0m-84 1h0m9 0h0m1 0h0m4 0h0m3 0h0m3 0h0m10 0h0m1 0h0m4 0h0m2 0h0m9 0h0m1 0h0m9 0h0m10 0h0m1 0h0m8 0h0m2 0h0m1 0h0m3 0h0m-63 1h0m6 0h0m7 0h0m30 0h0m1 0h0m5 0h0m10 0h0m6 0h0m-70 1h0m5 0h0m6 0h0m6 0h0m1 0h0m2 0h0m1 0h0m9 0h0m5 0h0m7 0h0m9 0h0m2 0h0m7 0h0m9 0h0m2 0h0m-79 1h0m31 0h0m1 0h0m1 0h0m7 0h0m2 0h0m1 0h0m5 0h0m10 0h0m3 0h0m13 0h0m1 0h0m6 0h0m-85 1h0m5 0h0m5 0h0m12 0h0m3 0h0m1 0h0m2 0h0m2 0h0m5 0h0m1 0h0m6 0h0m4 0h0m11 0h0m17 0h0m3 0h0m5 0h0m-87 1h0m13 0h0m9 0h0m18 0h0m11 0h0m2 0h0m21 0h0m7 0h0m4 0h0m6 0h0m-74 1h0m18 0h0m1 0h0m3 0h0m2 0h0m15 0h0m13 0h0m7 0h0m6 0h0m-70 1h0m9 0h0m13 0h0m2 0h0m4 0h0m5 0h0m7 0h0m8 0h0m4 0h0m8 0h0m1 0h0m2 0h0m10 0h0m2 0h0m-94 1h0m1 0h0m47 0h0m3 0h0m-40 1h0m1 0h0m13 0h0m5 0h0m17 0h0m3 0h0m4 0h0m9 0h0m12 0h0m-57 1h0m11 0h0m46 0h0m4 0h0m5 0h0m3 0h0m1 0h0m-63 1h0m19 0h0m30 0h0m22 0h0m-89 1h0m4 0h0m10 0h0m12 0h0m62 0h0m-93 1h0m7 0h0m8 0h0m-12 1h0m11 0h0m5 0h0m63 0h0m3 0h0m4 0h0m-90 1h0m74 0h0m2 0h0m20 0h0m-78 1h0m1 0h0m55 0h0m4 0h0m16 0h0m3 0h0m-87 1h0m6 0h0m1 0h0m57 0h0m14 0h0m48 0h0m-125 1h0m1 0h0m2 0h0m1 0h0m1 0h0m4 0h0m4 0h0m5 0h0m73 0h0m1 1h0m-104 1h0m12 0h0m4 0h0m58 0h0m-70 1h0m4 0h0m6 0h0m5 0h0m57 0h0m5 0h0m-65 1h0m-11 1h0m5 0h0m1 0h0m15 0h0m23 0h0m-39 1h0m1 0h0m6 0h0m96 0h0m-104 1h0m2 0h0m69 0h0m5 0h0m-75 1h0m82 0h0m-72 1h0m-8 1h0m12 0h0m62 0h0m40 0h0m-118 1h0m5 0h0m6 0h0m25 0h0m-43 1h0m5 0h0m70 0h0m-29 1h0m31 0h0m12 0h0m4 0h0m5 0h0m-90 1h0m6 0h0m9 0h0m65 0h0m9 0h0m-96 1h0m12 0h0m68 0h0m5 0h0m-81 1h0m4 0h0m2 0h0m9 0h0m-13 1h0m12 0h0m2 0h0m-8 1h0m-8 1h0m6 0h0m31 0h0m-43 1h0m14 0h0m1 0h0m5 1h0m2 0h0m29 0h0m41 0h0m-82 1h0m9 0h0m3 0h0m1 0h0m-9 2h0m42 0h0m28 0h0m5 0h0m1 0h0m-85 1h0m5 0h0m14 0h0m-8 1h0m72 0h0m-82 1h0m92 0h0m2 0h0m-92 1h0m11 0h0m5 1h0m-3 1h0m36 0h0m13 0h0m4 0h0m-54 1h0m78 0h0m-88 1h0m52 0h0m-54 1h0m72 0h0m-74 1h0m3 0h0m12 0h0m69 0h0m-78 1h0m71 0h0m-64 1h0m57 0h0m7 0h0m-81 1h0m1 0h0m27 0h0m28 0h0m-49 1h0m11 0h0m36 1h0m38 0h0m-31 1h0m-58 1h0m6 0h0m80 0h0m-86 1h0m17 0h0m18 0h0m48 0h0m-69 1h0m-7 1h0m18 0h0m7 0h0m26 0h0m-58 1h0m14 0h0m-1 1h0m-12 1h0m11 0h0m-14 1h0m12 0h0m59 0h0m3 0h0m10 0h0m8 0h0m-91 2h0m42 0h0m30 0h0m23 0h0m-81 1h0m2 0h0m11 0h0m62 0h0m-77 2h0m50 0h0m14 1h0m14 0h0m-93 1h0m21 0h0m1 0h0m62 0h0m-71 1h0m4 0h0m3 1h0m80 0h0m-90 1h0m31 0h0m4 0h0m49 0h0m-82 1h0m7 0h0m70 0h0m-86 1h0m2 0h0m63 0h0m-61 1h0m81 0h0m8 0h0m-76 1h0m18 0h0m23 0h0m25 0h0m-83 1h0m17 0h0m58 0h0m25 0h0m-96 1h0m4 0h0m1 0h0m7 0h0m44 0h0m30 0h0m-75 1h0m60 2h0m3 0h0m-80 1h0m60 0h0m-31 1h0m-19 1h0m5 0h0m2 0h0m62 0h0m-62 1h0m2 0h0m48 0h0m8 0h0m11 0h0m-79 1h0m3 0h0m4 0h0m5 0h0m41 0h0m21 0h0m-32 1h0m27 0h0m-66 1h0m1 0h0m53 0h0m29 0h0m-78 1h0m71 0h0m17 0h0m-101 1h0m93 0h0m1 0h0m-80 1h0m1 2h0m-1 1h0m-11 1h0m3 0h0m9 0h0m-18 1h0m1 2h0m2 1h0m3 0h0m4 2h0m-1 1h0m11 0h0" stroke="#2a50a4" stroke-width="2.5" stroke-linecap="square" fill="none"/>
<path transform="translate(454.0 580.3) scale(.5)" d="M0 0m69 190h0m-4 1h0m12 0h0m-15 1h0m1 1h0m6 0h0m5 2h0m-18 2h0m1 2h0m-2 1h0m10 0h0m-11 1h0m6 0h0m5 0h0m1 0h0m-13 1h0m1 0h0m5 0h0m-46 1h0m43 0h0m6 0h0m9 0h0m-55 1h0m8 0h0m33 0h0m-48 1h0m51 0h0m1 0h0m4 0h0m-24 1h0m12 0h0m16 0h0m2 0h0m1 0h0m-49 2h0m-14 1h0m27 0h0m17 0h0m21 0h0m-10 1h0m3 0h0m3 0h0m-26 1h0m15 0h0m1 0h0m16 0h0m-26 1h0m16 0h0m5 0h0m1 0h0m-54 1h0m37 0h0m2 1h0m2 0h0m1 0h0m4 0h0m4 0h0m1 0h0m-10 1h0m1 0h0m9 0h0m3 0h0m-64 1h0m6 0h0m53 0h0m-5 1h0m8 0h0m1 0h0m1 0h0m-3 1h0m4 0h0m-53 1h0m51 0h0m-16 1h0m3 0h0m12 0h0m-57 1h0m61 0h0m-10 1h0m4 0h0m6 0h0m-18 1h0m10 0h0m2 0h0m5 0h0m-53 1h0m18 0h0m23 0h0m1 0h0m-7 1h0m14 0h0m-15 2h0m10 1h0m1 0h0m-48 1h0m37 0h0m3 0h0m16 0h0m2 0h0m-12 1h0m8 1h0m-6 2h0m9 0h0m-49 1h0m7 1h0m27 0h0m7 0h0m3 0h0m-47 2h0m35 0h0m9 0h0m1 0h0m7 0h0m2 0h0m1 0h0m-21 1h0m-28 1h0m38 1h0m1 1h0m-2 1h0m5 0h0m-22 1h0m5 1h0m1 0h0m6 0h0m11 0h0m-44 1h0m31 0h0m5 0h0m5 0h0m3 0h0m5 1h0m-56 1h0m-5 1h0m40 1h0m12 1h0m7 0h0m-61 1h0m4 0h0m9 0h0m14 0h0m-2 1h0m32 0h0m3 0h0m1 0h0m-26 1h0m10 0h0m18 0h0m-43 1h0m25 0h0m3 0h0m10 0h0m-19 1h0m9 0h0m12 0h0m5 0h0m-31 1h0m18 1h0m-39 1h0m12 0h0m17 0h0m2 0h0m11 0h0m7 0h0m1 0h0m-43 1h0m35 0h0m-15 1h0m6 0h0m6 0h0m3 0h0m4 0h0m2 0h0m-67 1h0m19 0h0m12 0h0m21 0h0m14 0h0m-8 1h0m4 0h0m-5 1h0m8 0h0m1 0h0m-18 1h0m1 0h0m2 0h0m4 1h0m4 0h0m-23 1h0m16 0h0m5 0h0m-52 1h0m46 0h0m17 0h0m-53 1h0m43 0h0m6 0h0m-39 1h0m26 1h0m5 0h0m5 0h0m-52 1h0m12 0h0m4 0h0m40 1h0m-14 1h0m8 0h0m-21 1h0m24 0h0m5 0h0m1 0h0m-23 1h0m5 0h0m6 0h0m8 0h0m-42 1h0m22 0h0m17 0h0m-22 1h0m7 0h0m5 0h0m4 0h0m1 0h0m4 0h0m-13 1h0m5 0h0m3 0h0m-31 1h0m11 0h0m2 0h0m13 0h0m3 0h0m2 0h0m3 0h0m4 0h0m-46 1h0m12 0h0m25 0h0m4 0h0m-23 1h0m16 0h0m0 1h0m-17 1h0m15 0h0m14 0h0m2 0h0m-56 1h0m44 0h0m1 0h0m2 0h0m12 0h0m2 0h0m-20 1h0m3 0h0m4 0h0m4 0h0m-7 1h0m1 0h0m-53 1h0m66 0h0m-62 1h0m3 0h0m29 0h0m-25 1h0m8 0h0m30 1h0m11 0h0m3 1h0m-38 1h0m13 0h0m11 0h0m2 0h0m6 0h0m4 0h0m-32 1h0m19 0h0m4 0h0m6 0h0m4 0h0m-18 1h0m5 0h0m15 0h0m-4 1h0m3 0h0m-6 1h0m4 0h0m-12 1h0m12 0h0m-40 1h0m31 0h0m2 1h0m-37 1h0m2 0h0m43 0h0m7 0h0m-51 2h0m2 0h0m8 1h0m17 0h0m-6 2h0m3 1h0m-12 1h0m-26 2h0m34 0h0m15 1h0m-11 1h0m3 0h0m10 0h0m-23 7h0m17 0h0m-35 2h0m5 0h0m48 2h0m-25 3h0m-9 1h0m29 6h0m-21 1h0m8 5h0m-1 1h0m2 3h0m-15 3h0m17 1h0m-10 5h0m21 0h0m-13 2h0m16 0h0m-12 1h0m2 4h0m11 4h0" stroke="#e8262c" stroke-width="1.9" stroke-linecap="square" fill="none"/>
<polygon points="494.0,678.5 495.9,678.0 497.1,677.4 498.3,676.8 497.4,675.9 498.7,672.4 501.8,673.0 501.7,673.4 504.2,673.4 506.6,672.2 506.4,672.8 508.4,672.6 510.8,672.9 512.6,674.3 513.1,673.2 514.5,674.2 516.4,674.0 519.8,673.1 519.3,673.7 523.0,675.1 521.2,676.2 521.7,676.9 519.4,678.3 521.0,682.3 518.7,681.4 519.7,683.0 517.6,686.0 516.9,686.5 516.0,688.8 514.5,690.7 515.0,690.9 514.3,694.1 511.6,695.3 511.5,694.7 509.6,697.7 510.7,697.7 509.6,700.9 508.0,700.6 506.1,702.9 505.8,703.8 504.8,704.5 505.4,706.3 503.2,710.1 503.7,709.8 502.0,710.9 503.4,712.3 502.3,716.1 500.2,716.9 501.2,719.0 500.7,719.9 499.2,720.0 498.9,722.1 498.0,723.0 498.1,725.4 498.5,726.8 496.0,728.7 497.0,729.1 493.0,730.4 493.7,728.0 492.8,727.8 493.3,724.1 492.2,724.6 491.4,722.6 491.9,720.0 492.9,718.9 491.6,716.3 493.0,715.3 492.9,713.0 492.9,712.4 491.5,711.3 491.8,709.5 493.8,707.9 493.2,705.6 492.9,704.9 491.5,702.3 491.3,700.1 493.5,698.1 491.7,696.8 493.1,696.8 493.6,693.2 491.9,693.4 493.3,689.9 493.3,689.4 494.2,687.6 494.3,686.3 493.6,683.3 492.8,683.8 493.0,680.1" fill="#0a0a0a"/>
<path transform="translate(454.0 580.3) scale(.5)" d="M0 0m373 31h0m-323 55h0m310 0h0m115 5h0m-174 27h0m-133 26h0m-59 1h0m37 1h0m18 4h0m5 2h0m-66 2h0m3 0h0m73 0h0m-87 1h0m-2 1h0m12 0h0m61 0h0m-71 1h0m6 0h0m3 0h0m2 0h0m36 0h0m-37 1h0m16 0h0m30 0h0m-55 1h0m4 0h0m7 0h0m-14 1h0m4 0h0m2 0h0m28 2h0m51 0h0m-87 1h0m17 0h0m36 0h0m15 0h0m5 0h0m-64 1h0m7 0h0m1 0h0m1 0h0m6 0h0m47 1h0m-82 1h0m14 0h0m6 0h0m2 0h0m1 0h0m5 0h0m50 0h0m-58 1h0m3 0h0m5 0h0m-15 1h0m7 0h0m11 0h0m11 0h0m-22 1h0m4 0h0m3 0h0m7 0h0m11 0h0m45 0h0m-74 1h0m6 0h0m3 0h0m9 0h0m1 0h0m-30 1h0m21 0h0m4 0h0m-18 1h0m4 0h0m3 0h0m1 0h0m10 0h0m3 0h0m41 0h0m1 0h0m7 0h0m27 0h0m-96 1h0m2 0h0m17 0h0m21 0h0m51 0h0m19 0h0m-99 1h0m63 0h0m-77 1h0m4 0h0m4 0h0m4 0h0m7 0h0m3 0h0m6 0h0m2 0h0m35 0h0m14 0h0m27 0h0m-93 1h0m1 0h0m11 0h0m19 0h0m23 0h0m18 0h0m-70 1h0m6 0h0m3 0h0m9 0h0m-37 1h0m4 0h0m5 0h0m3 0h0m3 0h0m1 0h0m1 0h0m8 0h0m31 0h0m24 0h0m2 0h0m-74 1h0m1 0h0m9 0h0m1 0h0m2 0h0m36 0h0m16 0h0m1 0h0m3 0h0m-73 1h0m14 0h0m6 0h0m2 0h0m1 0h0m11 0h0m5 0h0m56 0h0m-87 1h0m1 0h0m1 0h0m2 0h0m9 0h0m1 0h0m1 0h0m13 0h0m9 0h0m5 0h0m16 0h0m11 0h0m11 0h0m-88 1h0m17 0h0m1 0h0m1 0h0m10 0h0m3 0h0m4 0h0m16 0h0m26 0h0m7 0h0m19 0h0m-94 1h0m1 0h0m4 0h0m3 0h0m2 0h0m4 0h0m7 0h0m4 0h0m3 0h0m5 0h0m4 0h0m12 0h0m3 0h0m1 0h0m27 0h0m1 0h0m-84 1h0m4 0h0m6 0h0m4 0h0m3 0h0m3 0h0m3 0h0m3 0h0m12 0h0m11 0h0m15 0h0m30 0h0m7 0h0m-116 1h0m5 0h0m5 0h0m2 0h0m11 0h0m2 0h0m1 0h0m11 0h0m9 0h0m1 0h0m3 0h0m23 0h0m5 0h0m12 0h0m4 0h0m45 0h0m-139 1h0m11 0h0m2 0h0m2 0h0m4 0h0m7 0h0m12 0h0m10 0h0m14 0h0m36 0h0m-86 1h0m10 0h0m2 0h0m2 0h0m23 0h0m19 0h0m10 0h0m3 0h0m12 0h0m1 0h0m-98 1h0m16 0h0m4 0h0m3 0h0m1 0h0m20 0h0m3 0h0m17 0h0m-43 1h0m14 0h0m4 0h0m2 0h0m8 0h0m14 0h0m1 0h0m2 0h0m5 0h0m16 0h0m1 0h0m13 0h0m70 0h0m-157 1h0m5 0h0m4 0h0m14 0h0m9 0h0m5 0h0m7 0h0m2 0h0m11 0h0m6 0h0m15 0h0m6 0h0m-62 1h0m1 0h0m11 0h0m15 0h0m2 0h0m-42 1h0m9 0h0m2 0h0m2 0h0m9 0h0m1 0h0m7 0h0m4 0h0m3 0h0m15 0h0m10 0h0m15 0h0m7 0h0m-79 1h0m1 0h0m15 0h0m14 0h0m13 0h0m15 0h0m6 0h0m80 0h0m4 0h0m-166 1h0m5 0h0m25 0h0m18 0h0m38 0h0m-74 1h0m1 0h0m4 0h0m3 0h0m3 0h0m13 0h0m1 0h0m1 0h0m2 0h0m13 0h0m10 0h0m2 0h0m11 0h0m16 0h0m7 0h0m-99 1h0m10 0h0m12 0h0m8 0h0m3 0h0m19 0h0m2 0h0m5 0h0m8 0h0m-56 1h0m3 0h0m12 0h0m2 0h0m18 0h0m4 0h0m8 0h0m8 0h0m19 0h0m11 0h0m2 0h0m10 0h0m-106 1h0m14 0h0m1 0h0m1 0h0m9 0h0m29 0h0m2 0h0m3 0h0m48 0h0m-120 1h0m12 0h0m8 0h0m9 0h0m7 0h0m1 0h0m14 0h0m1 0h0m27 0h0m26 0h0m17 0h0m-87 1h0m1 0h0m3 0h0m2 0h0m8 0h0m10 0h0m21 0h0m11 0h0m-64 1h0m2 0h0m4 0h0m4 0h0m4 0h0m4 0h0m2 0h0m2 0h0m2 0h0m3 0h0m4 0h0m3 0h0m12 0h0m1 0h0m29 0h0m214 0h0m-307 1h0m22 0h0m9 0h0m3 0h0m5 0h0m23 0h0m10 0h0m-57 1h0m15 0h0m7 0h0m11 0h0m8 0h0m1 0h0m17 0h0m21 0h0m-115 1h0m23 0h0m11 0h0m8 0h0m2 0h0m8 0h0m19 0h0m23 0h0m1 0h0m1 0h0m9 0h0m3 0h0m-82 1h0m4 0h0m13 0h0m14 0h0m10 0h0m11 0h0m8 0h0m4 0h0m47 0h0m10 0h0m-131 1h0m5 0h0m31 0h0m12 0h0m17 0h0m-52 1h0m4 0h0m6 0h0m1 0h0m7 0h0m3 0h0m8 0h0m10 0h0m2 0h0m2 0h0m7 0h0m17 0h0m17 0h0m3 0h0m-91 1h0m16 0h0m10 0h0m2 0h0m-35 1h0m17 0h0m4 0h0m5 0h0m9 0h0m6 0h0m3 0h0m3 0h0m5 0h0m3 0h0m13 0h0m102 0h0m-167 1h0m1 0h0m5 0h0m1 0h0m2 0h0m10 0h0m2 0h0m1 0h0m10 0h0m3 0h0m7 0h0m1 0h0m13 0h0m5 0h0m7 0h0m11 0h0m3 0h0m4 0h0m69 0h0m-162 1h0m7 0h0m15 0h0m6 0h0m1 0h0m7 0h0m5 0h0m1 0h0m7 0h0m3 0h0m32 0h0m-82 1h0m12 0h0m12 0h0m8 0h0m2 0h0m3 0h0m17 0h0m1 0h0m63 0h0m44 0h0m-159 1h0m1 0h0m22 0h0m11 0h0m6 0h0m9 0h0m4 0h0m1 0h0m28 0h0m-69 1h0m4 0h0m8 0h0m4 0h0m2 0h0m12 0h0m5 0h0m27 0h0m13 0h0m24 0h0m-107 1h0m7 0h0m7 0h0m8 0h0m2 0h0m8 0h0m16 0h0m19 0h0m33 0h0m10 0h0m-126 1h0m9 0h0m3 0h0m19 0h0m3 0h0m5 0h0m11 0h0m2 0h0m2 0h0m3 0h0m6 0h0m12 0h0m-65 1h0m14 0h0m1 0h0m1 0h0m4 0h0m1 0h0m6 0h0m3 0h0m1 0h0m3 0h0m14 0h0m20 0h0m88 0h0m-165 1h0m18 0h0m8 0h0m1 0h0m6 0h0m38 0h0m6 0h0m9 0h0m-76 1h0m1 0h0m7 0h0m4 0h0m20 0h0m27 0h0m-79 1h0m41 0h0m3 0h0m13 0h0m30 0h0m3 0h0m8 0h0m3 0h0m16 0h0m4 0h0m1 0h0m57 0h0m-158 1h0m7 0h0m8 0h0m3 0h0m2 0h0m4 0h0m1 0h0m3 0h0m8 0h0m3 0h0m1 0h0m3 0h0m12 0h0m20 0h0m-66 1h0m2 0h0m3 0h0m2 0h0m11 0h0m5 0h0m1 0h0m3 0h0m-36 1h0m7 0h0m4 0h0m1 0h0m9 0h0m2 0h0m5 0h0m4 0h0m1 0h0m1 0h0m4 0h0m7 0h0m22 0h0m5 0h0m2 0h0m13 0h0m-75 1h0m13 0h0m2 0h0m15 0h0m1 0h0m23 0h0m32 0h0m-94 1h0m1 0h0m4 0h0m6 0h0m6 0h0m22 0h0m2 0h0m-35 1h0m1 0h0m3 0h0m1 0h0m1 0h0m3 0h0m1 0h0m5 0h0m21 0h0m21 0h0m-74 1h0m18 0h0m1 0h0m1 0h0m4 0h0m6 0h0m3 0h0m3 0h0m5 0h0m1 0h0m8 0h0m38 0h0m16 0h0m-76 1h0m1 0h0m9 0h0m5 0h0m2 0h0m-22 1h0m11 0h0m12 0h0m-46 1h0m15 0h0m5 0h0m9 0h0m1 0h0m7 0h0m8 0h0m58 0h0m40 0h0m18 0h0m-148 1h0m15 0h0m1 0h0m3 0h0m8 0h0m7 0h0m-37 1h0m7 0h0m7 0h0m1 0h0m1 0h0m4 0h0m3 0h0m5 0h0m1 0h0m4 0h0m5 0h0m4 0h0m34 0h0m14 0h0m-110 1h0m17 0h0m3 0h0m1 0h0m9 0h0m1 0h0m1 0h0m4 0h0m6 0h0m39 0h0m29 0h0m-72 1h0m3 0h0m3 0h0m12 0h0m1 0h0m-48 1h0m22 0h0m2 0h0m1 0h0m2 0h0m4 0h0m1 0h0m41 0h0m8 0h0m-76 1h0m13 0h0m4 0h0m3 0h0m1 0h0m5 0h0m4 0h0m6 0h0m8 0h0m4 0h0m-51 1h0m6 0h0m2 0h0m6 0h0m1 0h0m5 0h0m2 0h0m2 0h0m4 0h0m49 0h0m16 0h0m3 0h0m-94 1h0m8 0h0m1 0h0m5 0h0m16 0h0m3 0h0m3 0h0m-34 1h0m8 0h0m15 0h0m5 0h0m5 0h0m2 0h0m5 0h0m4 0h0m2 0h0m23 0h0m73 0h0m-125 1h0m4 0h0m1 0h0m3 0h0m1 0h0m3 0h0m10 0h0m37 0h0m-68 1h0m4 0h0m1 0h0m6 0h0m4 0h0m10 0h0m1 0h0m-28 1h0m15 0h0m1 0h0m2 0h0m2 0h0m3 0h0m4 0h0m10 0h0m8 0h0m12 0h0m69 0h0m-132 1h0m1 0h0m16 0h0m12 0h0m2 0h0m1 0h0m2 0h0m-21 1h0m8 0h0m6 0h0m11 0h0m-39 1h0m1 0h0m36 0h0m3 0h0m-44 1h0m20 0h0m1 0h0m2 0h0m26 0h0m-47 1h0m21 0h0m6 0h0m12 0h0m-16 1h0m11 0h0m1 0h0m-21 1h0m3 0h0m3 0h0m6 0h0m3 0h0m19 0h0m-43 1h0m17 0h0m11 0h0m5 0h0m7 0h0m14 0h0m-32 1h0m13 0h0m8 0h0m-72 1h0m38 0h0m10 0h0m7 0h0m5 0h0m44 0h0m-60 1h0m11 0h0m10 0h0m8 0h0m-24 1h0m2 0h0m11 0h0m-42 1h0m17 0h0m12 0h0m1 0h0m5 0h0m-20 1h0m14 0h0m12 0h0m2 0h0m-12 1h0m8 0h0m-7 1h0m-22 1h0m2 0h0m24 0h0m-7 1h0m5 0h0m18 0h0m-34 1h0m15 1h0m1 0h0m1 0h0m-15 1h0m17 0h0m-3 2h0m53 0h0m13 0h0m-59 1h0m-20 1h0m4 0h0m2 0h0m23 0h0m12 2h0m-53 2h0m17 0h0m7 0h0m-19 1h0m2 0h0m4 0h0m20 0h0m1 0h0m-2 1h0m-21 1h0m8 1h0m2 0h0m5 0h0m16 1h0m-10 1h0m17 0h0m-54 2h0m33 1h0m-17 2h0m13 0h0m-2 5h0m-29 4h0m3 7h0m9 0h0m2 0h0m-11 1h0m1 0h0m7 1h0m2 0h0m-2 1h0m-8 1h0m10 0h0m3 0h0m1 0h0m-7 2h0m2 1h0m4 0h0m-2 1h0m-9 1h0m-2 2h0m7 0h0m-6 1h0m7 0h0m-5 2h0m5 2h0m-5 2h0m1 0h0m8 0h0m-7 1h0m2 0h0m-1 1h0m2 0h0m-1 2h0m-5 1h0m10 0h0m-2 2h0m-3 1h0m-3 1h0m1 3h0m10 0h0m-14 3h0m3 2h0m-7 2h0m5 2h0m-3 1h0m8 0h0m-10 1h0m3 1h0m0 1h0m4 1h0m3 1h0m3 0h0m2 0h0m-15 2h0m18 0h0m-14 1h0m4 1h0m-8 1h0m9 0h0m2 0h0m5 2h0m-12 3h0m6 0h0m2 0h0m2 0h0m3 1h0m-3 1h0m-11 2h0m10 1h0m1 2h0m-10 3h0m3 7h0m-3 1h0m6 0h0m-2 1h0m2 0h0m-2 1h0m-4 1h0m5 8h0" stroke="#0a0a0a" stroke-width="2.3" stroke-linecap="square" fill="none"/>
<path d="M454.0 580.3H701.4V784.9" stroke="#6a6a6a" stroke-width="1.3" fill="none"/>
<path d="M454.0 579.7V784.9H702.0" stroke="#111" stroke-width="1.7" fill="none"/>
<path d="M454.0 784.9v5M469.5 784.9v2.2M485.5 784.9v2.2M500.5 784.9v2.2M515.8 784.9v5M531.3 784.9v2.2M547.3 784.9v2.2M562.3 784.9v2.2M577.6 784.9v5M593.1 784.9v2.2M609.1 784.9v2.2M624.1 784.9v2.2M639.4 784.9v5M654.9 784.9v2.2M670.9 784.9v2.2M685.9 784.9v2.2M701.2 784.9v5M454.0 595.5h-4M454.0 631.9h-4M454.0 669.3h-4M454.0 706.3h-4M454.0 742.6h-4M454.0 779.6h-4" stroke="#222" stroke-width="1.1" fill="none"/>
<line x1="452.9" y1="583.3" x2="452.9" y2="782.9" stroke="#444" stroke-width="0.9" stroke-dasharray="0.8 2.9"/>
<text transform="translate(586.0 627.4) scale(1.032 1)" font-size="22.5" style="fill:#2a50a4">10%</text>
<text transform="translate(592.8 684.9) scale(0.916 1)" font-size="22.5" style="fill:#e8262c">5%</text>
<rect x="185.2" y="806.8" width="247.4" height="204.6" fill="#fff"/>
<polygon points="232.6,826.4 233.9,826.0 236.5,826.2 239.7,827.8 239.8,825.7 244.6,827.1 246.0,826.4 247.9,828.2 248.7,827.5 250.4,826.2 253.2,826.1 256.5,827.0 257.8,828.1 259.8,827.9 261.8,825.7 264.3,825.6 265.5,828.1 267.7,827.5 269.8,827.3 272.3,826.2 272.9,826.9 276.3,825.9 275.3,830.3 276.3,830.6 276.0,831.4 274.4,835.9 275.3,836.4 274.5,839.6 277.1,840.9 277.4,841.6 274.9,846.1 274.1,846.5 271.6,844.7 271.4,846.1 267.8,844.6 266.6,846.3 265.1,845.7 262.1,846.7 259.1,847.2 258.2,846.8 256.9,845.5 253.8,847.8 250.6,846.7 248.8,848.1 247.3,847.4 246.6,848.8 242.3,846.6 240.6,849.0 241.6,849.5 241.8,850.7 239.9,854.7 238.1,856.6 239.5,858.7 238.6,860.1 238.1,862.6 236.8,865.4 238.5,866.4 234.6,867.7 234.1,867.0 230.3,865.6 232.6,864.9 231.6,861.5 232.7,861.6 232.1,859.8 232.3,856.6 230.5,855.7 232.0,853.4 233.1,849.7 233.0,849.8 231.4,845.5 232.2,845.5 231.4,841.4 231.5,840.8 231.2,839.7 234.1,837.8 232.0,836.2 233.6,834.3 233.8,830.1 232.1,829.9" fill="#2a50a4" opacity="0.7"/>
<path transform="translate(185.2 806.8) scale(.5)" d="M0 0m176 24h0m4 3h0m-54 3h0m58 0h0m-86 1h0m44 0h0m5 0h0m9 0h0m-42 1h0m2 0h0m3 1h0m26 0h0m10 0h0m8 0h0m-56 1h0m25 0h0m11 0h0m27 0h0m-63 1h0m5 0h0m28 0h0m1 0h0m7 0h0m9 0h0m22 0h0m-80 1h0m7 0h0m14 0h0m13 0h0m3 0h0m39 0h0m-76 1h0m1 0h0m6 0h0m2 0h0m3 0h0m2 0h0m2 0h0m9 0h0m1 0h0m3 0h0m2 0h0m3 0h0m7 0h0m3 0h0m5 0h0m2 0h0m4 0h0m5 0h0m1 0h0m2 0h0m6 0h0m4 0h0m7 0h0m-83 1h0m9 0h0m4 0h0m33 0h0m6 0h0m9 0h0m2 0h0m1 0h0m1 0h0m6 0h0m16 0h0m-90 1h0m1 0h0m13 0h0m9 0h0m9 0h0m3 0h0m1 0h0m2 0h0m1 0h0m6 0h0m4 0h0m7 0h0m2 0h0m9 0h0m20 0h0m3 0h0m-90 1h0m5 0h0m3 0h0m27 0h0m11 0h0m2 0h0m1 0h0m2 0h0m1 0h0m5 0h0m3 0h0m6 0h0m22 0h0m3 0h0m-76 1h0m10 0h0m9 0h0m3 0h0m9 0h0m7 0h0m2 0h0m3 0h0m1 0h0m10 0h0m4 0h0m2 0h0m13 0h0m1 0h0m-87 1h0m6 0h0m2 0h0m5 0h0m4 0h0m1 0h0m6 0h0m1 0h0m1 0h0m1 0h0m4 0h0m9 0h0m9 0h0m2 0h0m6 0h0m1 0h0m2 0h0m10 0h0m1 0h0m2 0h0m5 0h0m-78 1h0m7 0h0m6 0h0m7 0h0m3 0h0m2 0h0m3 0h0m2 0h0m6 0h0m12 0h0m3 0h0m2 0h0m10 0h0m3 0h0m1 0h0m4 0h0m13 0h0m-86 1h0m7 0h0m3 0h0m7 0h0m9 0h0m2 0h0m4 0h0m4 0h0m1 0h0m5 0h0m1 0h0m2 0h0m4 0h0m7 0h0m1 0h0m6 0h0m3 0h0m7 0h0m6 0h0m1 0h0m1 0h0m3 0h0m4 0h0m-88 1h0m3 0h0m3 0h0m1 0h0m13 0h0m2 0h0m1 0h0m8 0h0m4 0h0m6 0h0m3 0h0m1 0h0m5 0h0m4 0h0m9 0h0m2 0h0m1 0h0m4 0h0m1 0h0m1 0h0m3 0h0m4 0h0m1 0h0m2 0h0m5 0h0m-80 1h0m10 0h0m5 0h0m6 0h0m3 0h0m1 0h0m2 0h0m6 0h0m11 0h0m1 0h0m6 0h0m3 0h0m11 0h0m1 0h0m6 0h0m3 0h0m-74 1h0m1 0h0m1 0h0m7 0h0m1 0h0m1 0h0m1 0h0m2 0h0m2 0h0m3 0h0m12 0h0m1 0h0m6 0h0m3 0h0m3 0h0m7 0h0m4 0h0m1 0h0m10 0h0m2 0h0m2 0h0m-74 1h0m4 0h0m4 0h0m8 0h0m8 0h0m3 0h0m3 0h0m1 0h0m4 0h0m8 0h0m10 0h0m2 0h0m2 0h0m10 0h0m4 0h0m1 0h0m-70 1h0m2 0h0m1 0h0m1 0h0m1 0h0m2 0h0m11 0h0m1 0h0m1 0h0m6 0h0m3 0h0m3 0h0m5 0h0m4 0h0m4 0h0m1 0h0m3 0h0m13 0h0m2 0h0m2 0h0m1 0h0m2 0h0m5 0h0m5 0h0m-93 1h0m13 0h0m3 0h0m2 0h0m2 0h0m3 0h0m3 0h0m7 0h0m3 0h0m11 0h0m3 0h0m1 0h0m2 0h0m13 0h0m4 0h0m3 0h0m13 0h0m1 0h0m11 0h0m-88 1h0m2 0h0m3 0h0m7 0h0m4 0h0m5 0h0m3 0h0m3 0h0m10 0h0m2 0h0m3 0h0m1 0h0m11 0h0m3 0h0m10 0h0m2 0h0m12 0h0m1 0h0m9 0h0m-98 1h0m4 0h0m1 0h0m3 0h0m6 0h0m4 0h0m2 0h0m8 0h0m1 0h0m1 0h0m5 0h0m1 0h0m2 0h0m9 0h0m3 0h0m3 0h0m5 0h0m2 0h0m8 0h0m5 0h0m6 0h0m1 0h0m6 0h0m2 0h0m2 0h0m2 0h0m-84 1h0m3 0h0m2 0h0m7 0h0m1 0h0m2 0h0m8 0h0m1 0h0m2 0h0m2 0h0m1 0h0m1 0h0m4 0h0m12 0h0m5 0h0m3 0h0m1 0h0m1 0h0m7 0h0m5 0h0m6 0h0m3 0h0m2 0h0m3 0h0m2 0h0m3 0h0m-88 1h0m6 0h0m6 0h0m4 0h0m1 0h0m3 0h0m5 0h0m11 0h0m13 0h0m9 0h0m5 0h0m10 0h0m1 0h0m1 0h0m3 0h0m4 0h0m1 0h0m10 0h0m-87 1h0m1 0h0m3 0h0m1 0h0m3 0h0m2 0h0m8 0h0m2 0h0m6 0h0m5 0h0m1 0h0m1 0h0m2 0h0m2 0h0m8 0h0m1 0h0m10 0h0m5 0h0m3 0h0m-59 1h0m2 0h0m4 0h0m6 0h0m1 0h0m17 0h0m5 0h0m1 0h0m1 0h0m1 0h0m2 0h0m2 0h0m3 0h0m3 0h0m3 0h0m1 0h0m15 0h0m10 0h0m-96 1h0m4 0h0m3 0h0m2 0h0m4 0h0m3 0h0m4 0h0m2 0h0m2 0h0m3 0h0m3 0h0m2 0h0m3 0h0m4 0h0m12 0h0m13 0h0m6 0h0m7 0h0m15 0h0m2 0h0m22 0h0m-101 1h0m10 0h0m4 0h0m1 0h0m7 0h0m3 0h0m2 0h0m2 0h0m1 0h0m3 0h0m1 0h0m2 0h0m1 0h0m4 0h0m1 0h0m1 0h0m2 0h0m1 0h0m5 0h0m7 0h0m6 0h0m1 0h0m3 0h0m2 0h0m8 0h0m-84 1h0m10 0h0m2 0h0m2 0h0m13 0h0m5 0h0m3 0h0m4 0h0m9 0h0m14 0h0m3 0h0m7 0h0m18 0h0m-90 1h0m1 0h0m10 0h0m1 0h0m1 0h0m1 0h0m2 0h0m2 0h0m2 0h0m1 0h0m3 0h0m2 0h0m30 0h0m2 0h0m1 0h0m2 0h0m3 0h0m2 0h0m14 0h0m2 0h0m-84 1h0m6 0h0m4 0h0m1 0h0m5 0h0m7 0h0m6 0h0m3 0h0m2 0h0m2 0h0m11 0h0m2 0h0m1 0h0m9 0h0m1 0h0m5 0h0m4 0h0m1 0h0m7 0h0m7 0h0m8 0h0m-91 1h0m2 0h0m7 0h0m2 0h0m2 0h0m1 0h0m4 0h0m3 0h0m5 0h0m2 0h0m5 0h0m5 0h0m1 0h0m1 0h0m12 0h0m7 0h0m4 0h0m2 0h0m9 0h0m1 0h0m11 0h0m-90 1h0m21 0h0m2 0h0m3 0h0m11 0h0m2 0h0m8 0h0m5 0h0m4 0h0m5 0h0m1 0h0m3 0h0m2 0h0m1 0h0m10 0h0m15 0h0m-76 1h0m1 0h0m1 0h0m3 0h0m10 0h0m2 0h0m6 0h0m12 0h0m2 0h0m1 0h0m4 0h0m3 0h0m3 0h0m4 0h0m1 0h0m3 0h0m4 0h0m5 0h0m6 0h0m4 0h0m3 0h0m-93 1h0m3 0h0m1 0h0m4 0h0m4 0h0m5 0h0m3 0h0m5 0h0m1 0h0m1 0h0m4 0h0m4 0h0m1 0h0m4 0h0m8 0h0m2 0h0m9 0h0m3 0h0m9 0h0m2 0h0m4 0h0m2 0h0m2 0h0m-81 1h0m2 0h0m5 0h0m7 0h0m23 0h0m4 0h0m1 0h0m1 0h0m1 0h0m2 0h0m21 0h0m3 0h0m4 0h0m6 0h0m-78 1h0m1 0h0m2 0h0m8 0h0m4 0h0m9 0h0m3 0h0m4 0h0m2 0h0m2 0h0m1 0h0m3 0h0m2 0h0m14 0h0m2 0h0m3 0h0m2 0h0m21 0h0m1 0h0m-81 1h0m1 0h0m7 0h0m5 0h0m25 0h0m5 0h0m3 0h0m2 0h0m3 0h0m17 0h0m7 0h0m1 0h0m1 0h0m3 0h0m7 0h0m-82 1h0m1 0h0m9 0h0m9 0h0m3 0h0m6 0h0m4 0h0m2 0h0m8 0h0m5 0h0m9 0h0m2 0h0m10 0h0m2 0h0m6 0h0m5 0h0m-90 1h0m1 0h0m13 0h0m3 0h0m5 0h0m15 0h0m2 0h0m9 0h0m3 0h0m3 0h0m2 0h0m2 0h0m1 0h0m9 0h0m6 0h0m1 0h0m1 0h0m5 0h0m15 0h0m-87 1h0m10 0h0m8 0h0m9 0h0m1 0h0m1 0h0m2 0h0m1 0h0m1 0h0m1 0h0m7 0h0m4 0h0m12 0h0m3 0h0m7 0h0m14 0h0m-82 1h0m2 0h0m3 0h0m5 0h0m1 0h0m4 0h0m3 0h0m2 0h0m4 0h0m5 0h0m1 0h0m2 0h0m1 0h0m6 0h0m2 0h0m4 0h0m1 0h0m6 0h0m2 0h0m2 0h0m6 0h0m4 0h0m2 0h0m1 0h0m1 0h0m1 0h0m2 0h0m3 0h0m6 0h0m-82 1h0m5 0h0m1 0h0m2 0h0m1 0h0m1 0h0m3 0h0m1 0h0m4 0h0m1 0h0m4 0h0m5 0h0m3 0h0m2 0h0m22 0h0m12 0h0m4 0h0m2 0h0m3 0h0m6 0h0m-90 1h0m7 0h0m8 0h0m3 0h0m3 0h0m9 0h0m2 0h0m1 0h0m1 0h0m2 0h0m5 0h0m2 0h0m1 0h0m1 0h0m1 0h0m3 0h0m10 0h0m6 0h0m2 0h0m1 0h0m1 0h0m3 0h0m1 0h0m-76 1h0m1 0h0m9 0h0m4 0h0m5 0h0m26 0h0m3 0h0m9 0h0m1 0h0m1 0h0m1 0h0m11 0h0m7 0h0m11 0h0m-87 1h0m5 0h0m2 0h0m10 0h0m1 0h0m1 0h0m1 0h0m6 0h0m1 0h0m1 0h0m1 0h0m8 0h0m1 0h0m7 0h0m6 0h0m4 0h0m1 0h0m3 0h0m1 0h0m9 0h0m14 0h0m-81 1h0m2 0h0m5 0h0m3 0h0m7 0h0m4 0h0m11 0h0m5 0h0m3 0h0m1 0h0m1 0h0m7 0h0m9 0h0m2 0h0m4 0h0m1 0h0m4 0h0m2 0h0m5 0h0m7 0h0m1 0h0m7 0h0m-94 1h0m4 0h0m8 0h0m6 0h0m10 0h0m12 0h0m8 0h0m5 0h0m1 0h0m1 0h0m3 0h0m2 0h0m5 0h0m1 0h0m5 0h0m3 0h0m1 0h0m6 0h0m-78 1h0m5 0h0m3 0h0m3 0h0m2 0h0m10 0h0m4 0h0m4 0h0m5 0h0m6 0h0m2 0h0m2 0h0m1 0h0m8 0h0m9 0h0m1 0h0m1 0h0m4 0h0m3 0h0m3 0h0m4 0h0m1 0h0m3 0h0m-85 1h0m1 0h0m1 0h0m1 0h0m5 0h0m2 0h0m1 0h0m2 0h0m19 0h0m6 0h0m2 0h0m2 0h0m1 0h0m1 0h0m5 0h0m1 0h0m6 0h0m11 0h0m3 0h0m3 0h0m1 0h0m2 0h0m1 0h0m3 0h0m4 0h0m3 0h0m3 0h0m-81 1h0m3 0h0m2 0h0m2 0h0m4 0h0m7 0h0m1 0h0m2 0h0m1 0h0m13 0h0m5 0h0m5 0h0m4 0h0m2 0h0m3 0h0m3 0h0m2 0h0m6 0h0m6 0h0m5 0h0m-83 1h0m1 0h0m2 0h0m2 0h0m10 0h0m4 0h0m5 0h0m12 0h0m6 0h0m14 0h0m9 0h0m7 0h0m13 0h0m2 0h0m-87 1h0m5 0h0m3 0h0m3 0h0m6 0h0m6 0h0m11 0h0m1 0h0m6 0h0m3 0h0m2 0h0m3 0h0m13 0h0m1 0h0m1 0h0m3 0h0m17 0h0m4 0h0m48 0h0m-129 1h0m4 0h0m8 0h0m4 0h0m8 0h0m5 0h0m2 0h0m10 0h0m3 0h0m4 0h0m1 0h0m3 0h0m8 0h0m1 0h0m1 0h0m5 0h0m1 0h0m1 0h0m1 0h0m7 0h0m9 0h0m-97 1h0m19 0h0m1 0h0m7 0h0m4 0h0m2 0h0m1 0h0m4 0h0m6 0h0m14 0h0m7 0h0m6 0h0m8 0h0m4 0h0m3 0h0m6 0h0m-84 1h0m1 0h0m1 0h0m7 0h0m14 0h0m1 0h0m2 0h0m11 0h0m3 0h0m10 0h0m5 0h0m2 0h0m4 0h0m6 0h0m3 0h0m2 0h0m1 0h0m4 0h0m-80 1h0m4 0h0m6 0h0m46 0h0m1 0h0m1 0h0m1 0h0m1 0h0m1 0h0m4 0h0m11 0h0m3 0h0m6 0h0m4 0h0m3 0h0m-87 1h0m3 0h0m1 0h0m2 0h0m46 0h0m1 0h0m5 0h0m9 0h0m1 0h0m2 0h0m5 0h0m3 0h0m2 0h0m5 0h0m4 0h0m-99 1h0m7 0h0m5 0h0m48 0h0m2 0h0m1 0h0m1 0h0m5 0h0m4 0h0m5 0h0m1 0h0m3 0h0m3 0h0m1 0h0m9 0h0m1 0h0m-83 1h0m2 0h0m2 0h0m11 0h0m1 0h0m29 0h0m3 0h0m1 0h0m3 0h0m11 0h0m2 0h0m2 0h0m1 0h0m4 0h0m2 0h0m1 0h0m-89 1h0m1 0h0m4 0h0m2 0h0m3 0h0m3 0h0m1 0h0m1 0h0m43 0h0m5 0h0m3 0h0m5 0h0m8 0h0m3 0h0m8 0h0m-92 1h0m4 0h0m1 0h0m9 0h0m1 0h0m2 0h0m9 0h0m7 0h0m2 0h0m4 0h0m21 0h0m3 0h0m8 0h0m3 0h0m6 0h0m12 0h0m1 0h0m-91 1h0m2 0h0m1 0h0m4 0h0m2 0h0m3 0h0m1 0h0m1 0h0m1 0h0m46 0h0m1 0h0m4 0h0m2 0h0m5 0h0m1 0h0m1 0h0m5 0h0m7 0h0m1 0h0m8 0h0m-97 1h0m1 0h0m2 0h0m2 0h0m1 0h0m1 0h0m1 0h0m2 0h0m2 0h0m4 0h0m1 0h0m3 0h0m15 0h0m34 0h0m4 0h0m8 0h0m5 0h0m-86 1h0m7 0h0m5 0h0m1 0h0m2 0h0m1 0h0m3 0h0m1 0h0m1 0h0m5 0h0m15 0h0m24 0h0m7 0h0m3 0h0m13 0h0m1 0h0m7 0h0m-97 1h0m3 0h0m3 0h0m1 0h0m1 0h0m1 0h0m1 0h0m6 0h0m2 0h0m17 0h0m23 0h0m19 0h0m2 0h0m3 0h0m2 0h0m1 0h0m9 0h0m2 0h0m1 0h0m1 0h0m-103 1h0m11 0h0m3 0h0m4 0h0m2 0h0m29 0h0m17 0h0m6 0h0m6 0h0m3 0h0m6 0h0m2 0h0m4 0h0m4 0h0m-93 1h0m2 0h0m1 0h0m1 0h0m2 0h0m8 0h0m2 0h0m1 0h0m1 0h0m8 0h0m2 0h0m20 0h0m1 0h0m17 0h0m4 0h0m1 0h0m6 0h0m4 0h0m14 0h0m-90 1h0m7 0h0m3 0h0m3 0h0m2 0h0m23 0h0m17 0h0m23 0h0m1 0h0m2 0h0m4 0h0m3 0h0m5 0h0m-88 1h0m7 0h0m3 0h0m8 0h0m27 0h0m14 0h0m4 0h0m2 0h0m4 0h0m2 0h0m2 0h0m-80 1h0m3 0h0m2 0h0m2 0h0m1 0h0m1 0h0m4 0h0m38 0h0m15 0h0m4 0h0m1 0h0m4 0h0m2 0h0m4 0h0m3 0h0m3 0h0m-85 1h0m1 0h0m2 0h0m4 0h0m1 0h0m2 0h0m1 0h0m6 0h0m23 0h0m25 0h0m6 0h0m5 0h0m15 0h0m-95 1h0m9 0h0m1 0h0m6 0h0m4 0h0m46 0h0m24 0h0m-89 1h0m2 0h0m1 0h0m5 0h0m6 0h0m1 0h0m2 0h0m1 0h0m3 0h0m7 0h0m27 0h0m3 0h0m13 0h0m5 0h0m17 0h0m1 0h0m3 0h0m-90 1h0m5 0h0m1 0h0m5 0h0m3 0h0m49 0h0m5 0h0m5 0h0m2 0h0m2 0h0m29 0h0m-113 1h0m6 0h0m1 0h0m10 0h0m27 0h0m32 0h0m2 0h0m5 0h0m2 0h0m11 0h0m-91 1h0m3 0h0m2 0h0m5 0h0m1 0h0m19 0h0m30 0h0m3 0h0m6 0h0m5 0h0m6 0h0m-72 1h0m2 0h0m3 0h0m16 0h0m22 0h0m5 0h0m17 0h0m1 0h0m5 0h0m5 0h0m-86 1h0m3 0h0m2 0h0m3 0h0m3 0h0m26 0h0m34 0h0m8 0h0m1 0h0m11 0h0m-93 1h0m1 0h0m10 0h0m2 0h0m3 0h0m4 0h0m17 0h0m28 0h0m13 0h0m2 0h0m1 0h0m3 0h0m13 0h0m-96 1h0m2 0h0m1 0h0m3 0h0m3 0h0m40 0h0m1 0h0m14 0h0m16 0h0m18 0h0m-98 1h0m9 0h0m4 0h0m1 0h0m6 0h0m25 0h0m13 0h0m5 0h0m2 0h0m22 0h0m5 0h0m-92 1h0m2 0h0m1 0h0m1 0h0m4 0h0m5 0h0m4 0h0m2 0h0m2 0h0m27 0h0m44 0h0m-95 1h0m1 0h0m8 0h0m2 0h0m2 0h0m2 0h0m25 0h0m47 0h0m50 0h0m-126 1h0m6 0h0m2 0h0m29 0h0m21 0h0m11 0h0m15 0h0m-84 1h0m16 0h0m30 0h0m9 0h0m6 0h0m1 0h0m1 0h0m6 0h0m18 0h0m-97 1h0m8 0h0m3 0h0m47 0h0m21 0h0m15 0h0m-86 1h0m5 0h0m1 0h0m4 0h0m1 0h0m44 0h0m1 0h0m9 0h0m8 0h0m4 0h0m3 0h0m-89 1h0m3 0h0m2 0h0m4 0h0m4 0h0m5 0h0m3 0h0m42 0h0m2 0h0m19 0h0m6 0h0m-83 1h0m2 0h0m2 0h0m3 0h0m28 0h0m25 0h0m4 0h0m5 0h0m8 0h0m11 0h0m-85 1h0m11 0h0m43 0h0m2 0h0m2 0h0m6 0h0m19 0h0m2 0h0m1 0h0m-95 1h0m7 0h0m2 0h0m75 0h0m2 0h0m-91 1h0m4 0h0m2 0h0m1 0h0m2 0h0m3 0h0m1 0h0m4 0h0m5 0h0m42 0h0m13 0h0m14 0h0m1 0h0m5 0h0m-94 1h0m6 0h0m4 0h0m8 0h0m46 0h0m25 0h0m2 0h0m8 0h0m-93 1h0m2 0h0m1 0h0m2 0h0m12 0h0m11 0h0m40 0h0m14 0h0m8 0h0m-93 1h0m8 0h0m7 0h0m51 0h0m13 0h0m8 0h0m-86 1h0m62 0h0m-57 1h0m6 0h0m15 0h0m32 0h0m14 0h0m-67 1h0m3 0h0m2 0h0m3 0h0m3 0h0m29 0h0m15 0h0m5 0h0m-69 1h0m12 0h0m1 0h0m3 0h0m1 0h0m43 0h0m7 0h0m13 0h0m15 0h0m-93 1h0m8 0h0m3 0h0m1 0h0m2 0h0m20 0h0m26 0h0m12 0h0m1 0h0m14 0h0m5 0h0m-83 1h0m1 0h0m1 0h0m7 0h0m46 0h0m10 0h0m9 0h0m-77 1h0m5 0h0m10 0h0m15 0h0m22 0h0m10 0h0m5 0h0m-75 1h0m6 0h0m5 0h0m26 0h0m27 0h0m4 0h0m9 0h0m-60 1h0m3 0h0m14 0h0m24 0h0m27 0h0m-78 1h0m11 0h0m1 0h0m49 0h0m4 0h0m3 0h0m1 0h0m2 0h0m7 0h0m14 0h0m-96 1h0m5 0h0m4 0h0m16 0h0m28 0h0m17 0h0m11 0h0m-79 1h0m6 0h0m31 0h0m4 0h0m12 0h0m25 0h0m4 0h0m57 0h0m-130 1h0m3 0h0m4 0h0m44 0h0m2 0h0m5 0h0m24 0h0m-94 1h0m4 0h0m6 0h0m5 0h0m45 0h0m6 0h0m3 0h0m25 0h0m-85 1h0m2 0h0m1 0h0m1 0h0m2 0h0m53 0h0m17 0h0m60 0h0m-143 1h0m1 0h0m15 0h0m47 0h0m7 0h0m8 0h0m-78 1h0m8 0h0m75 0h0m-82 1h0m10 0h0m70 0h0m13 0h0m41 0h0m-130 1h0m6 0h0m48 0h0m18 0h0m14 0h0m-84 1h0m6 0h0m-15 1h0m4 0h0m8 0h0m2 0h0m53 0h0m6 0h0m5 0h0m4 0h0m-82 1h0m7 0h0m1 0h0m4 0h0m3 0h0m1 0h0m59 0h0m2 0h0m3 0h0m-77 1h0m1 0h0m6 0h0m3 0h0m45 0h0m19 0h0m-79 1h0m10 0h0m4 0h0m53 0h0m9 0h0m8 0h0m-68 1h0m1 0h0m4 0h0m53 0h0m-52 1h0m53 0h0m17 0h0m-89 1h0m7 0h0m1 0h0m1 0h0m4 0h0m4 0h0m3 0h0m46 0h0m-61 1h0m8 0h0m72 0h0m-81 1h0m3 0h0m12 0h0m56 0h0m5 0h0m6 0h0m8 0h0m-40 1h0" stroke="#2a50a4" stroke-width="2.5" stroke-linecap="square" fill="none"/>
<polygon points="227.3,906.5 231.0,905.5 232.7,906.1 234.4,903.9 234.4,903.6 236.4,902.8 238.3,903.8 240.0,904.3 241.4,902.8 243.6,902.3 244.9,903.7 246.2,902.6 247.6,902.5 249.6,902.1 252.0,903.3 251.5,904.5 251.0,904.2 249.4,906.8 248.1,907.7 247.3,909.8 247.0,912.3 246.2,912.3 245.4,914.8 245.5,914.9 244.9,917.2 243.0,918.3 242.7,920.4 240.9,921.0 240.9,922.7 239.5,924.5 240.2,927.6 238.6,928.6 239.4,928.9 237.0,931.8 238.0,933.3 237.7,934.0 235.9,936.9 236.8,937.6 235.7,938.7 235.9,941.0 234.7,943.0 235.4,944.6 233.5,943.7 230.5,945.1 229.1,943.9 230.2,942.2 228.3,940.6 229.6,939.1 228.0,936.8 229.2,934.5 228.3,934.6 227.9,932.3 226.9,930.1 227.3,929.3 226.9,926.4 227.5,925.9 226.4,923.4 226.2,922.0 227.9,919.2 226.7,917.9 227.8,916.1 228.3,915.4 227.6,912.7 227.7,911.1 227.2,910.3 228.7,907.7" fill="#0a0a0a"/>
<path transform="translate(185.2 806.8) scale(.5)" d="M0 0m326 43h0m61 1h0m-263 16h0m114 54h0m-59 7h0m-7 26h0m-83 5h0m7 0h0m65 0h0m-72 2h0m4 0h0m3 0h0m5 0h0m-7 1h0m11 0h0m70 0h0m-70 1h0m56 0h0m-70 1h0m6 0h0m55 0h0m-120 1h0m57 0h0m5 0h0m3 0h0m13 0h0m41 1h0m-60 1h0m6 0h0m6 0h0m11 0h0m12 0h0m-36 1h0m7 0h0m1 0h0m2 0h0m15 0h0m32 0h0m-58 1h0m1 0h0m19 0h0m-14 1h0m-1 1h0m3 0h0m63 0h0m-62 1h0m7 0h0m63 0h0m-76 1h0m2 0h0m-1 1h0m3 0h0m1 0h0m2 0h0m69 0h0m4 0h0m-85 1h0m8 0h0m6 0h0m-2 1h0m5 0h0m-18 1h0m1 0h0m7 0h0m1 0h0m4 0h0m10 0h0m-14 1h0m37 0h0m15 0h0m23 0h0m-78 1h0m2 0h0m1 0h0m1 0h0m2 0h0m1 0h0m82 0h0m-93 1h0m8 0h0m2 0h0m2 0h0m5 0h0m5 0h0m64 0h0m-88 1h0m5 0h0m3 0h0m3 0h0m3 0h0m3 0h0m4 0h0m44 0h0m10 0h0m-71 1h0m1 0h0m6 0h0m6 0h0m54 0h0m27 0h0m-98 1h0m2 0h0m1 0h0m8 0h0m64 0h0m21 0h0m-87 1h0m5 0h0m7 0h0m45 0h0m25 0h0m-91 1h0m16 0h0m93 0h0m-102 1h0m6 0h0m1 0h0m2 0h0m2 0h0m1 0h0m4 0h0m10 0h0m55 0h0m3 0h0m-83 1h0m2 0h0m2 0h0m3 0h0m2 0h0m1 0h0m4 0h0m56 0h0m-75 1h0m3 0h0m3 0h0m1 0h0m2 0h0m4 0h0m6 0h0m12 0h0m-31 1h0m8 0h0m12 0h0m4 0h0m2 0h0m6 0h0m3 0h0m16 0h0m18 0h0m18 0h0m17 0h0m-104 1h0m8 0h0m23 0h0m4 0h0m15 0h0m55 0h0m2 0h0m-111 1h0m5 0h0m6 0h0m2 0h0m4 0h0m1 0h0m3 0h0m10 0h0m-30 1h0m2 0h0m6 0h0m1 0h0m2 0h0m7 0h0m2 0h0m23 0h0m4 0h0m-41 1h0m2 0h0m3 0h0m1 0h0m1 0h0m17 0h0m1 0h0m12 0h0m10 0h0m-46 1h0m1 0h0m6 0h0m1 0h0m5 0h0m9 0h0m10 0h0m-38 1h0m6 0h0m6 0h0m3 0h0m3 0h0m69 0h0m2 0h0m-78 1h0m1 0h0m2 0h0m3 0h0m2 0h0m8 0h0m9 0h0m2 0h0m3 0h0m2 0h0m17 0h0m11 0h0m-73 1h0m3 0h0m1 0h0m2 0h0m3 0h0m4 0h0m6 0h0m6 0h0m5 0h0m14 0h0m51 0h0m-85 1h0m2 0h0m9 0h0m1 0h0m12 0h0m42 0h0m2 0h0m14 0h0m-80 1h0m2 0h0m7 0h0m11 0h0m12 0h0m7 0h0m27 0h0m-71 1h0m3 0h0m3 0h0m1 0h0m4 0h0m6 0h0m1 0h0m8 0h0m2 0h0m1 0h0m8 0h0m34 0h0m7 0h0m12 0h0m-97 1h0m6 0h0m7 0h0m4 0h0m1 0h0m2 0h0m12 0h0m8 0h0m3 0h0m32 0h0m12 0h0m1 0h0m1 0h0m7 0h0m1 0h0m9 0h0m4 0h0m-106 1h0m4 0h0m3 0h0m1 0h0m2 0h0m4 0h0m1 0h0m10 0h0m5 0h0m1 0h0m46 0h0m-74 1h0m2 0h0m3 0h0m1 0h0m2 0h0m3 0h0m6 0h0m3 0h0m47 0h0m-61 1h0m2 0h0m4 0h0m1 0h0m17 0h0m6 0h0m31 0h0m-68 1h0m6 0h0m4 0h0m5 0h0m16 0h0m2 0h0m2 0h0m5 0h0m10 0h0m19 0h0m31 0h0m24 0h0m-124 1h0m2 0h0m6 0h0m6 0h0m1 0h0m2 0h0m8 0h0m9 0h0m2 0h0m9 0h0m7 0h0m15 0h0m33 0h0m27 0h0m-127 1h0m6 0h0m7 0h0m10 0h0m13 0h0m2 0h0m20 0h0m12 0h0m8 0h0m4 0h0m42 0h0m-129 1h0m6 0h0m2 0h0m2 0h0m23 0h0m22 0h0m14 0h0m40 0h0m-99 1h0m7 0h0m2 0h0m8 0h0m5 0h0m8 0h0m5 0h0m2 0h0m143 0h0m-188 1h0m6 0h0m1 0h0m1 0h0m8 0h0m2 0h0m37 0h0m15 0h0m5 0h0m-75 1h0m3 0h0m6 0h0m10 0h0m1 0h0m2 0h0m7 0h0m1 0h0m47 0h0m-75 1h0m2 0h0m2 0h0m2 0h0m2 0h0m1 0h0m4 0h0m9 0h0m3 0h0m2 0h0m1 0h0m1 0h0m2 0h0m28 0h0m19 0h0m6 0h0m-92 1h0m1 0h0m8 0h0m5 0h0m2 0h0m2 0h0m2 0h0m2 0h0m4 0h0m1 0h0m2 0h0m8 0h0m13 0h0m2 0h0m5 0h0m20 0h0m5 0h0m-69 1h0m6 0h0m2 0h0m11 0h0m5 0h0m4 0h0m1 0h0m4 0h0m8 0h0m29 0h0m-76 1h0m11 0h0m3 0h0m2 0h0m1 0h0m6 0h0m23 0h0m8 0h0m29 0h0m5 0h0m-93 1h0m2 0h0m10 0h0m2 0h0m3 0h0m4 0h0m2 0h0m12 0h0m1 0h0m43 0h0m11 0h0m1 0h0m67 0h0m8 0h0m-176 1h0m19 0h0m6 0h0m3 0h0m2 0h0m4 0h0m1 0h0m1 0h0m5 0h0m23 0h0m40 0h0m7 0h0m33 0h0m-128 1h0m7 0h0m1 0h0m9 0h0m2 0h0m10 0h0m2 0h0m-33 1h0m14 0h0m2 0h0m3 0h0m5 0h0m18 0h0m17 0h0m20 0h0m-66 1h0m1 0h0m2 0h0m2 0h0m1 0h0m1 0h0m3 0h0m7 0h0m6 0h0m64 0h0m33 0h0m-137 1h0m12 0h0m10 0h0m4 0h0m1 0h0m1 0h0m4 0h0m5 0h0m8 0h0m10 0h0m17 0h0m-67 1h0m1 0h0m1 0h0m1 0h0m8 0h0m3 0h0m8 0h0m10 0h0m32 0h0m5 0h0m-71 1h0m2 0h0m5 0h0m6 0h0m1 0h0m1 0h0m14 0h0m54 0h0m28 0h0m41 0h0m-143 1h0m2 0h0m1 0h0m4 0h0m1 0h0m1 0h0m2 0h0m1 0h0m12 0h0m34 0h0m4 0h0m-71 1h0m6 0h0m2 0h0m3 0h0m1 0h0m2 0h0m8 0h0m2 0h0m106 0h0m-136 1h0m3 0h0m6 0h0m2 0h0m3 0h0m1 0h0m9 0h0m6 0h0m8 0h0m2 0h0m32 0h0m40 0h0m-98 1h0m4 0h0m1 0h0m4 0h0m3 0h0m2 0h0m3 0h0m4 0h0m1 0h0m8 0h0m19 0h0m8 0h0m43 0h0m-119 1h0m19 0h0m3 0h0m2 0h0m2 0h0m1 0h0m4 0h0m1 0h0m5 0h0m45 0h0m-65 1h0m4 0h0m4 0h0m2 0h0m4 0h0m82 0h0m-96 1h0m2 0h0m2 0h0m1 0h0m9 0h0m2 0h0m16 0h0m2 0h0m44 0h0m7 0h0m-92 1h0m5 0h0m4 0h0m1 0h0m2 0h0m5 0h0m2 0h0m1 0h0m2 0h0m2 0h0m4 0h0m132 0h0m-164 1h0m6 0h0m4 0h0m6 0h0m3 0h0m13 0h0m-18 1h0m1 0h0m2 0h0m10 0h0m2 0h0m8 0h0m1 0h0m2 0h0m44 0h0m51 0h0m-123 1h0m5 0h0m2 0h0m6 1h0m6 0h0m13 0h0m31 0h0m-71 1h0m2 0h0m12 0h0m3 0h0m1 0h0m1 0h0m2 0h0m4 0h0m2 0h0m5 0h0m112 0h0m-145 1h0m2 0h0m2 0h0m7 0h0m4 0h0m4 0h0m5 0h0m1 0h0m4 0h0m5 0h0m2 0h0m22 0h0m21 0h0m36 0h0m25 0h0m-138 1h0m5 0h0m10 0h0m1 0h0m4 0h0m9 0h0m1 0h0m1 0h0m2 0h0m74 0h0m-107 1h0m2 0h0m3 0h0m5 0h0m5 0h0m2 0h0m1 0h0m1 0h0m2 0h0m3 0h0m4 0h0m63 0h0m23 0h0m-106 1h0m2 0h0m12 0h0m14 0h0m16 0h0m25 0h0m77 0h0m-159 1h0m9 0h0m1 0h0m1 0h0m6 0h0m8 0h0m8 0h0m1 0h0m4 0h0m-22 1h0m1 0h0m8 0h0m3 0h0m9 0h0m37 0h0m-66 1h0m21 0h0m7 0h0m-24 1h0m4 0h0m1 0h0m5 0h0m6 0h0m1 0h0m2 0h0m3 0h0m-32 1h0m10 0h0m1 0h0m3 0h0m1 0h0m3 0h0m4 0h0m9 0h0m5 0h0m46 0h0m10 0h0m-97 1h0m18 0h0m1 0h0m4 0h0m3 0h0m2 0h0m-20 1h0m15 0h0m1 0h0m1 0h0m1 0h0m8 0h0m-16 1h0m2 0h0m1 0h0m2 0h0m1 0h0m2 0h0m4 0h0m-10 1h0m2 0h0m2 0h0m10 0h0m1 0h0m6 0h0m-24 1h0m3 0h0m1 0h0m3 0h0m2 0h0m2 0h0m5 0h0m-19 1h0m4 0h0m7 0h0m7 0h0m85 0h0m-99 1h0m11 0h0m15 0h0m-35 1h0m13 0h0m2 0h0m6 0h0m3 0h0m2 0h0m7 0h0m-41 1h0m13 0h0m2 0h0m4 0h0m4 0h0m1 0h0m3 0h0m4 0h0m45 0h0m-62 1h0m8 0h0m8 0h0m-24 1h0m3 0h0m18 0h0m11 0h0m11 0h0m-40 1h0m4 0h0m5 0h0m24 0h0m1 0h0m-30 1h0m2 0h0m4 0h0m-13 1h0m4 0h0m1 0h0m8 0h0m16 0h0m-20 1h0m5 0h0m2 0h0m-23 2h0m9 0h0m7 0h0m29 0h0m-37 1h0m17 0h0m2 0h0m16 0h0m44 0h0m-68 1h0m2 0h0m6 0h0m1 0h0m55 0h0m-69 1h0m7 0h0m2 0h0m6 0h0m3 0h0m-12 1h0m33 0h0m-48 1h0m6 0h0m12 0h0m6 0h0m-18 1h0m5 0h0m4 0h0m3 0h0m4 0h0m5 0h0m-10 1h0m4 1h0m0 1h0m-15 1h0m5 0h0m5 0h0m7 0h0m51 0h0m-51 1h0m10 0h0m-32 1h0m3 0h0m3 0h0m8 0h0m6 0h0m-15 1h0m3 0h0m2 0h0m5 0h0m15 0h0m-32 1h0m8 0h0m3 0h0m4 0h0m1 0h0m-7 1h0m3 0h0m1 0h0m4 0h0m82 0h0m-96 1h0m1 0h0m6 0h0m1 0h0m1 0h0m4 0h0m15 0h0m-30 1h0m5 0h0m6 0h0m3 0h0m8 0h0m-19 1h0m1 0h0m2 0h0m2 0h0m4 0h0m1 0h0m3 0h0m2 0h0m-19 1h0m1 0h0m4 0h0m1 0h0m4 0h0m1 0h0m2 0h0m2 0h0m1 0h0m11 0h0m9 0h0m-33 1h0m1 0h0m4 0h0m3 0h0m1 0h0m1 0h0m1 0h0m-10 1h0m2 0h0m3 0h0m1 0h0m5 0h0m1 0h0m-15 1h0m7 0h0m6 0h0m2 0h0m-13 1h0m11 0h0m1 0h0m13 0h0m-22 1h0m-3 1h0m2 0h0m6 0h0m19 0h0m-27 1h0m8 0h0m6 0h0m-16 1h0m1 0h0m5 0h0m4 0h0m1 0h0m-9 1h0m1 0h0m6 0h0m-11 1h0m6 0h0m4 0h0m1 0h0m4 0h0m-12 1h0m4 0h0m3 0h0m1 0h0m4 1h0m-10 1h0m5 0h0m18 0h0m-26 1h0m3 0h0m12 0h0m1 0h0m-16 1h0m3 0h0m3 0h0m1 0h0m4 0h0m1 0h0m2 0h0m89 0h0m-96 1h0m3 0h0m-7 1h0m9 0h0m2 0h0m-14 1h0m2 0h0m9 0h0m2 0h0m3 0h0m-11 1h0m4 0h0m-7 1h0m6 0h0m7 0h0m-14 1h0m2 0h0m3 0h0m9 0h0m1 1h0m16 0h0m-34 1h0m1 1h0m6 0h0m-5 1h0m4 0h0m3 0h0m2 0h0m5 0h0m1 0h0m-11 1h0m2 0h0m5 0h0m2 0h0m1 0h0m-10 1h0m4 0h0m3 0h0m-8 1h0m3 0h0m3 0h0m-9 1h0m2 0h0m2 0h0m2 0h0m10 0h0m-12 1h0m1 0h0m1 0h0m2 0h0m-4 2h0m-4 1h0m8 0h0m-3 1h0m4 0h0m1 0h0m-9 1h0m1 0h0m3 1h0m-1 1h0m2 0h0m8 0h0m-14 1h0m2 0h0m4 1h0m5 0h0m-9 1h0m5 0h0m4 0h0m1 0h0m1 0h0m-10 1h0m4 0h0m5 0h0m-11 1h0m-3 1h0m14 0h0m-10 2h0m1 0h0m8 0h0m1 0h0m-1 1h0m1 0h0m1 0h0m1 0h0m3 0h0m1 0h0m-19 1h0m2 0h0m5 0h0m-7 1h0m4 0h0m1 0h0m3 0h0m4 1h0m2 0h0m-10 1h0m7 1h0m3 0h0m-11 1h0m11 0h0m-8 1h0m6 0h0m-4 2h0m10 1h0m-14 1h0m13 2h0m-17 2h0m3 0h0m3 1h0m6 4h0m0 4h0m-9 2h0m6 1h0m7 1h0m-14 1h0m4 0h0m-4 1h0m12 3h0m-6 1h0m1 1h0m-8 2h0m1 3h0m14 0h0m-2 6h0m-1 1h0m2 1h0m2 1h0m-11 4h0m9 2h0m-7 3h0m-2 4h0m-7 4h0" stroke="#0a0a0a" stroke-width="2.3" stroke-linecap="square" fill="none"/>
<path transform="translate(185.2 806.8) scale(.5)" d="M0 0m72 191h0m-12 2h0m-10 2h0m-43 5h0m2 0h0m18 0h0m1 0h0m6 1h0m21 0h0m16 0h0m-44 1h0m6 0h0m40 0h0m-17 1h0m-41 1h0m46 0h0m-32 1h0m1 0h0m10 0h0m24 0h0m4 0h0m3 1h0m5 0h0m-31 1h0m26 0h0m5 0h0m-49 1h0m30 0h0m-10 1h0m-13 1h0m28 0h0m3 0h0m-4 1h0m-5 1h0m11 1h0m8 0h0m-14 2h0m-13 1h0m16 0h0m-56 1h0m56 0h0m3 0h0m-12 1h0m19 0h0m-61 1h0m55 0h0m-10 1h0m10 1h0m-6 1h0m1 1h0m5 0h0m-14 1h0m12 0h0m-2 1h0m-8 1h0m5 0h0m4 0h0m3 0h0m-19 1h0m20 0h0m-31 2h0m21 0h0m7 0h0m-47 1h0m36 0h0m15 0h0m4 1h0m-11 1h0m1 0h0m-1 1h0m5 0h0m2 0h0m-58 1h0m23 1h0m31 0h0m-41 1h0m43 0h0m15 0h0m-14 1h0m-3 1h0m-11 1h0m18 0h0m-62 1h0m9 0h0m21 0h0m21 0h0m-17 1h0m15 0h0m9 0h0m6 2h0m-11 1h0m-4 1h0m10 0h0m-8 1h0m3 0h0m-14 1h0m8 0h0m7 0h0m1 0h0m-2 1h0m-15 1h0m2 1h0m19 1h0m2 1h0m-11 1h0m-44 1h0m14 3h0m37 0h0m-5 2h0m5 4h0m-24 4h0m27 2h0m-5 2h0m-33 4h0m1 0h0m-12 1h0m19 0h0m11 0h0m13 1h0m-29 1h0m3 4h0m-23 1h0m40 2h0m-10 3h0m-4 3h0m5 10h0m-18 2h0m20 1h0m-24 7h0m9 6h0m-9 26h0m37 7h0" stroke="#e8262c" stroke-width="1.9" stroke-linecap="square" fill="none"/>
<path d="M185.2 806.8H432.6V1011.4" stroke="#6a6a6a" stroke-width="1.3" fill="none"/>
<path d="M185.2 806.2V1011.4H433.2" stroke="#111" stroke-width="1.7" fill="none"/>
<path d="M185.2 1011.4v5M200.7 1011.4v2.2M216.7 1011.4v2.2M231.7 1011.4v2.2M247.0 1011.4v5M262.5 1011.4v2.2M278.5 1011.4v2.2M293.5 1011.4v2.2M308.8 1011.4v5M324.3 1011.4v2.2M340.3 1011.4v2.2M355.3 1011.4v2.2M370.6 1011.4v5M386.1 1011.4v2.2M402.1 1011.4v2.2M417.1 1011.4v2.2M432.4 1011.4v5M185.2 822.0h-4M185.2 858.4h-4M185.2 895.8h-4M185.2 932.8h-4M185.2 969.1h-4M185.2 1006.1h-4" stroke="#222" stroke-width="1.1" fill="none"/>
<line x1="184.1" y1="809.8" x2="184.1" y2="1009.4" stroke="#444" stroke-width="0.9" stroke-dasharray="0.8 2.9"/>
<text transform="translate(311.9 858.8) scale(1.032 1)" font-size="22.5" style="fill:#2a50a4">40%</text>
<text transform="translate(317.7 915.7) scale(0.916 1)" font-size="22.5" style="fill:#e8262c">2%</text>
<rect x="454.0" y="806.8" width="247.4" height="204.6" fill="#fff"/>
<polygon points="505.3,825.3 506.8,826.1 507.4,825.6 511.1,827.1 513.2,827.0 514.6,828.2 517.2,826.5 517.1,827.9 520.4,826.4 521.0,827.3 523.8,826.8 527.3,826.4 527.8,827.7 530.4,826.7 533.0,826.8 532.9,828.2 536.9,827.3 537.9,827.0 540.3,826.1 540.8,826.3 542.7,825.4 546.2,825.9 546.7,829.6 544.9,830.7 547.6,833.0 545.5,834.0 546.0,836.9 545.5,838.1 548.2,841.3 546.5,841.4 547.5,843.4 543.8,844.5 542.2,845.0 539.3,844.4 538.4,845.5 536.9,845.0 535.0,845.3 533.6,846.4 531.3,847.0 529.0,845.7 527.3,846.1 525.4,847.5 523.0,848.0 519.4,847.4 519.7,847.6 516.6,846.4 512.9,849.0 513.0,847.7 511.4,850.6 510.6,852.9 511.6,855.3 511.4,857.3 510.3,859.4 510.1,859.6 508.2,862.6 508.7,865.2 507.0,865.5 505.9,866.2 504.1,866.7 501.3,866.0 501.7,866.3 501.1,862.6 503.0,861.7 501.3,859.0 501.2,857.8 503.7,855.5 501.7,852.3 501.5,851.0 502.6,850.1 504.2,847.8 502.8,844.4 504.3,844.0 502.9,841.3 503.2,837.8 502.5,836.6 502.3,833.3 502.8,832.7 503.4,831.5 503.4,828.1" fill="#2a50a4" opacity="0.7"/>
<path transform="translate(454.0 806.8) scale(.5)" d="M0 0m231 22h0m-4 6h0m2 0h0m-107 1h0m24 2h0m-31 1h0m44 0h0m-33 1h0m4 0h0m4 0h0m19 0h0m8 0h0m6 0h0m-65 1h0m6 0h0m12 0h0m41 0h0m9 0h0m-71 1h0m9 0h0m5 0h0m4 0h0m8 0h0m1 0h0m10 0h0m21 0h0m24 0h0m-84 1h0m3 0h0m1 0h0m1 0h0m2 0h0m3 0h0m4 0h0m1 0h0m5 0h0m8 0h0m28 0h0m7 0h0m5 0h0m23 0h0m-81 1h0m9 0h0m8 0h0m1 0h0m18 0h0m20 0h0m1 0h0m3 0h0m7 0h0m3 0h0m3 0h0m-84 1h0m4 0h0m2 0h0m25 0h0m1 0h0m10 0h0m7 0h0m17 0h0m6 0h0m19 0h0m-80 1h0m9 0h0m13 0h0m2 0h0m7 0h0m4 0h0m1 0h0m2 0h0m1 0h0m2 0h0m1 0h0m2 0h0m1 0h0m3 0h0m3 0h0m2 0h0m3 0h0m5 0h0m2 0h0m1 0h0m3 0h0m4 0h0m2 0h0m3 0h0m2 0h0m-86 1h0m11 0h0m12 0h0m4 0h0m4 0h0m3 0h0m5 0h0m3 0h0m6 0h0m6 0h0m21 0h0m9 0h0m-57 1h0m6 0h0m1 0h0m1 0h0m4 0h0m3 0h0m5 0h0m5 0h0m2 0h0m6 0h0m2 0h0m2 0h0m1 0h0m3 0h0m1 0h0m4 0h0m8 0h0m5 0h0m1 0h0m1 0h0m-88 1h0m8 0h0m1 0h0m3 0h0m1 0h0m5 0h0m8 0h0m1 0h0m8 0h0m1 0h0m9 0h0m10 0h0m12 0h0m6 0h0m1 0h0m1 0h0m2 0h0m2 0h0m3 0h0m3 0h0m6 0h0m-88 1h0m3 0h0m11 0h0m21 0h0m5 0h0m13 0h0m2 0h0m1 0h0m1 0h0m1 0h0m3 0h0m4 0h0m5 0h0m8 0h0m2 0h0m1 0h0m-81 1h0m3 0h0m15 0h0m2 0h0m4 0h0m8 0h0m4 0h0m1 0h0m3 0h0m1 0h0m7 0h0m1 0h0m1 0h0m10 0h0m6 0h0m6 0h0m3 0h0m5 0h0m9 0h0m-88 1h0m2 0h0m3 0h0m12 0h0m1 0h0m7 0h0m2 0h0m12 0h0m2 0h0m7 0h0m7 0h0m5 0h0m6 0h0m12 0h0m-70 1h0m1 0h0m1 0h0m2 0h0m5 0h0m12 0h0m5 0h0m3 0h0m3 0h0m3 0h0m3 0h0m1 0h0m5 0h0m2 0h0m10 0h0m5 0h0m2 0h0m1 0h0m1 0h0m4 0h0m2 0h0m-86 1h0m5 0h0m2 0h0m4 0h0m1 0h0m4 0h0m9 0h0m6 0h0m17 0h0m4 0h0m1 0h0m3 0h0m8 0h0m4 0h0m1 0h0m5 0h0m1 0h0m1 0h0m3 0h0m4 0h0m-73 1h0m1 0h0m1 0h0m6 0h0m13 0h0m1 0h0m1 0h0m1 0h0m10 0h0m2 0h0m4 0h0m2 0h0m1 0h0m7 0h0m1 0h0m5 0h0m10 0h0m7 0h0m1 0h0m5 0h0m3 0h0m-91 1h0m4 0h0m5 0h0m1 0h0m1 0h0m9 0h0m1 0h0m7 0h0m5 0h0m8 0h0m4 0h0m11 0h0m1 0h0m3 0h0m7 0h0m2 0h0m2 0h0m1 0h0m2 0h0m5 0h0m1 0h0m1 0h0m7 0h0m38 0h0m-121 1h0m4 0h0m1 0h0m3 0h0m1 0h0m25 0h0m4 0h0m4 0h0m4 0h0m9 0h0m4 0h0m8 0h0m6 0h0m3 0h0m1 0h0m3 0h0m1 0h0m1 0h0m3 0h0m7 0h0m-93 1h0m5 0h0m8 0h0m2 0h0m3 0h0m3 0h0m3 0h0m2 0h0m14 0h0m3 0h0m2 0h0m9 0h0m3 0h0m14 0h0m4 0h0m2 0h0m-79 1h0m13 0h0m6 0h0m2 0h0m10 0h0m2 0h0m2 0h0m2 0h0m4 0h0m2 0h0m5 0h0m1 0h0m13 0h0m11 0h0m1 0h0m5 0h0m2 0h0m8 0h0m-84 1h0m1 0h0m2 0h0m15 0h0m6 0h0m2 0h0m16 0h0m1 0h0m1 0h0m1 0h0m7 0h0m3 0h0m14 0h0m3 0h0m-74 1h0m18 0h0m4 0h0m3 0h0m8 0h0m2 0h0m3 0h0m2 0h0m1 0h0m6 0h0m3 0h0m1 0h0m3 0h0m3 0h0m7 0h0m1 0h0m1 0h0m4 0h0m2 0h0m7 0h0m-85 1h0m14 0h0m1 0h0m15 0h0m2 0h0m2 0h0m10 0h0m3 0h0m4 0h0m8 0h0m3 0h0m1 0h0m4 0h0m4 0h0m5 0h0m2 0h0m3 0h0m2 0h0m2 0h0m2 0h0m-87 1h0m4 0h0m3 0h0m2 0h0m1 0h0m4 0h0m2 0h0m1 0h0m3 0h0m5 0h0m4 0h0m1 0h0m2 0h0m1 0h0m4 0h0m6 0h0m2 0h0m1 0h0m9 0h0m3 0h0m7 0h0m13 0h0m3 0h0m2 0h0m8 0h0m15 0h0m-103 1h0m3 0h0m1 0h0m7 0h0m2 0h0m3 0h0m2 0h0m13 0h0m5 0h0m1 0h0m7 0h0m6 0h0m1 0h0m2 0h0m4 0h0m5 0h0m4 0h0m3 0h0m2 0h0m2 0h0m1 0h0m2 0h0m9 0h0m3 0h0m-94 1h0m5 0h0m6 0h0m1 0h0m4 0h0m4 0h0m4 0h0m2 0h0m2 0h0m6 0h0m4 0h0m1 0h0m9 0h0m1 0h0m10 0h0m1 0h0m5 0h0m2 0h0m1 0h0m13 0h0m5 0h0m2 0h0m5 0h0m-84 1h0m2 0h0m4 0h0m9 0h0m2 0h0m3 0h0m3 0h0m1 0h0m5 0h0m2 0h0m7 0h0m10 0h0m1 0h0m1 0h0m2 0h0m6 0h0m6 0h0m5 0h0m6 0h0m2 0h0m-84 1h0m5 0h0m7 0h0m8 0h0m6 0h0m2 0h0m2 0h0m8 0h0m1 0h0m2 0h0m17 0h0m2 0h0m2 0h0m9 0h0m1 0h0m10 0h0m7 0h0m-83 1h0m6 0h0m13 0h0m1 0h0m1 0h0m2 0h0m5 0h0m2 0h0m14 0h0m1 0h0m15 0h0m3 0h0m1 0h0m2 0h0m5 0h0m5 0h0m9 0h0m-83 1h0m2 0h0m1 0h0m13 0h0m1 0h0m1 0h0m3 0h0m1 0h0m4 0h0m9 0h0m1 0h0m12 0h0m1 0h0m6 0h0m7 0h0m1 0h0m5 0h0m1 0h0m1 0h0m3 0h0m14 0h0m-88 1h0m9 0h0m1 0h0m3 0h0m6 0h0m8 0h0m3 0h0m3 0h0m1 0h0m3 0h0m3 0h0m7 0h0m14 0h0m1 0h0m2 0h0m2 0h0m3 0h0m3 0h0m4 0h0m3 0h0m4 0h0m-81 1h0m6 0h0m1 0h0m5 0h0m5 0h0m4 0h0m1 0h0m6 0h0m2 0h0m1 0h0m2 0h0m1 0h0m4 0h0m1 0h0m1 0h0m2 0h0m10 0h0m3 0h0m1 0h0m1 0h0m10 0h0m6 0h0m2 0h0m1 0h0m2 0h0m-81 1h0m1 0h0m4 0h0m1 0h0m12 0h0m1 0h0m2 0h0m4 0h0m3 0h0m5 0h0m8 0h0m9 0h0m9 0h0m13 0h0m2 0h0m7 0h0m-80 1h0m5 0h0m4 0h0m2 0h0m2 0h0m13 0h0m1 0h0m2 0h0m5 0h0m4 0h0m1 0h0m5 0h0m9 0h0m6 0h0m2 0h0m1 0h0m3 0h0m6 0h0m3 0h0m4 0h0m1 0h0m-74 1h0m5 0h0m2 0h0m2 0h0m7 0h0m1 0h0m1 0h0m11 0h0m7 0h0m5 0h0m6 0h0m3 0h0m3 0h0m5 0h0m5 0h0m5 0h0m6 0h0m7 0h0m-87 1h0m3 0h0m7 0h0m3 0h0m1 0h0m1 0h0m8 0h0m3 0h0m9 0h0m6 0h0m3 0h0m3 0h0m1 0h0m4 0h0m1 0h0m7 0h0m3 0h0m3 0h0m5 0h0m4 0h0m-72 1h0m1 0h0m3 0h0m10 0h0m5 0h0m1 0h0m16 0h0m7 0h0m10 0h0m6 0h0m5 0h0m6 0h0m-58 1h0m11 0h0m2 0h0m7 0h0m3 0h0m6 0h0m2 0h0m7 0h0m5 0h0m10 0h0m2 0h0m16 0h0m-91 1h0m3 0h0m4 0h0m4 0h0m2 0h0m8 0h0m2 0h0m4 0h0m1 0h0m1 0h0m4 0h0m1 0h0m4 0h0m21 0h0m2 0h0m2 0h0m2 0h0m2 0h0m6 0h0m1 0h0m1 0h0m1 0h0m1 0h0m1 0h0m2 0h0m9 0h0m-90 1h0m4 0h0m4 0h0m1 0h0m2 0h0m9 0h0m3 0h0m8 0h0m4 0h0m2 0h0m2 0h0m1 0h0m7 0h0m12 0h0m1 0h0m3 0h0m2 0h0m1 0h0m2 0h0m5 0h0m1 0h0m1 0h0m9 0h0m4 0h0m-83 1h0m2 0h0m14 0h0m1 0h0m2 0h0m8 0h0m4 0h0m7 0h0m3 0h0m7 0h0m2 0h0m3 0h0m5 0h0m1 0h0m3 0h0m1 0h0m21 0h0m8 0h0m-96 1h0m5 0h0m7 0h0m1 0h0m6 0h0m1 0h0m19 0h0m8 0h0m2 0h0m14 0h0m8 0h0m3 0h0m7 0h0m1 0h0m1 0h0m2 0h0m-83 1h0m4 0h0m2 0h0m3 0h0m2 0h0m5 0h0m3 0h0m1 0h0m1 0h0m2 0h0m1 0h0m2 0h0m9 0h0m10 0h0m1 0h0m1 0h0m1 0h0m5 0h0m1 0h0m2 0h0m3 0h0m1 0h0m1 0h0m1 0h0m2 0h0m1 0h0m1 0h0m3 0h0m2 0h0m4 0h0m13 0h0m-85 1h0m1 0h0m1 0h0m1 0h0m3 0h0m2 0h0m2 0h0m1 0h0m2 0h0m2 0h0m21 0h0m10 0h0m3 0h0m8 0h0m1 0h0m20 0h0m2 0h0m-65 1h0m1 0h0m2 0h0m8 0h0m1 0h0m1 0h0m3 0h0m21 0h0m2 0h0m9 0h0m1 0h0m2 0h0m3 0h0m3 0h0m10 0h0m-79 1h0m7 0h0m5 0h0m1 0h0m7 0h0m4 0h0m5 0h0m1 0h0m7 0h0m9 0h0m10 0h0m3 0h0m3 0h0m5 0h0m11 0h0m3 0h0m1 0h0m-88 1h0m2 0h0m2 0h0m1 0h0m5 0h0m1 0h0m2 0h0m5 0h0m3 0h0m7 0h0m2 0h0m6 0h0m4 0h0m23 0h0m3 0h0m2 0h0m2 0h0m9 0h0m-76 1h0m5 0h0m2 0h0m4 0h0m5 0h0m7 0h0m3 0h0m2 0h0m8 0h0m1 0h0m7 0h0m3 0h0m2 0h0m1 0h0m5 0h0m2 0h0m15 0h0m1 0h0m5 0h0m8 0h0m-88 1h0m5 0h0m5 0h0m2 0h0m1 0h0m2 0h0m1 0h0m3 0h0m11 0h0m1 0h0m2 0h0m8 0h0m5 0h0m5 0h0m3 0h0m2 0h0m1 0h0m3 0h0m9 0h0m1 0h0m2 0h0m10 0h0m-80 1h0m2 0h0m2 0h0m2 0h0m2 0h0m10 0h0m2 0h0m4 0h0m1 0h0m2 0h0m18 0h0m8 0h0m1 0h0m1 0h0m5 0h0m6 0h0m2 0h0m8 0h0m-76 1h0m1 0h0m6 0h0m1 0h0m17 0h0m3 0h0m13 0h0m1 0h0m1 0h0m12 0h0m1 0h0m2 0h0m3 0h0m13 0h0m3 0h0m3 0h0m-74 1h0m3 0h0m3 0h0m5 0h0m4 0h0m2 0h0m12 0h0m10 0h0m6 0h0m18 0h0m6 0h0m3 0h0m3 0h0m2 0h0m-85 1h0m5 0h0m6 0h0m3 0h0m5 0h0m6 0h0m15 0h0m1 0h0m3 0h0m1 0h0m3 0h0m1 0h0m3 0h0m4 0h0m2 0h0m2 0h0m3 0h0m7 0h0m3 0h0m9 0h0m-75 1h0m2 0h0m1 0h0m1 0h0m4 0h0m1 0h0m1 0h0m19 0h0m7 0h0m4 0h0m13 0h0m1 0h0m5 0h0m4 0h0m3 0h0m4 0h0m1 0h0m1 0h0m2 0h0m4 0h0m2 0h0m3 0h0m-93 1h0m22 0h0m2 0h0m1 0h0m31 0h0m8 0h0m1 0h0m4 0h0m7 0h0m5 0h0m12 0h0m1 0h0m1 0h0m-79 1h0m17 0h0m22 0h0m6 0h0m4 0h0m4 0h0m2 0h0m3 0h0m1 0h0m1 0h0m3 0h0m8 0h0m3 0h0m5 0h0m1 0h0m-98 1h0m1 0h0m5 0h0m1 0h0m4 0h0m4 0h0m5 0h0m18 0h0m7 0h0m6 0h0m9 0h0m7 0h0m3 0h0m5 0h0m4 0h0m1 0h0m7 0h0m8 0h0m1 0h0m2 0h0m-96 1h0m3 0h0m3 0h0m3 0h0m6 0h0m6 0h0m6 0h0m10 0h0m20 0h0m2 0h0m10 0h0m5 0h0m2 0h0m1 0h0m8 0h0m7 0h0m-94 1h0m1 0h0m2 0h0m1 0h0m1 0h0m1 0h0m2 0h0m3 0h0m3 0h0m1 0h0m1 0h0m1 0h0m15 0h0m4 0h0m3 0h0m19 0h0m3 0h0m1 0h0m2 0h0m2 0h0m2 0h0m3 0h0m4 0h0m1 0h0m4 0h0m1 0h0m2 0h0m1 0h0m2 0h0m6 0h0m2 0h0m3 0h0m2 0h0m-92 1h0m1 0h0m2 0h0m1 0h0m1 0h0m1 0h0m1 0h0m1 0h0m2 0h0m44 0h0m1 0h0m4 0h0m1 0h0m21 0h0m-88 1h0m4 0h0m1 0h0m4 0h0m2 0h0m1 0h0m2 0h0m5 0h0m13 0h0m11 0h0m5 0h0m4 0h0m12 0h0m4 0h0m2 0h0m2 0h0m6 0h0m3 0h0m1 0h0m1 0h0m12 0h0m-97 1h0m9 0h0m3 0h0m7 0h0m31 0h0m8 0h0m5 0h0m6 0h0m3 0h0m3 0h0m1 0h0m9 0h0m1 0h0m2 0h0m4 0h0m-89 1h0m2 0h0m4 0h0m3 0h0m4 0h0m2 0h0m1 0h0m25 0h0m4 0h0m14 0h0m10 0h0m9 0h0m4 0h0m7 0h0m-87 1h0m1 0h0m3 0h0m4 0h0m3 0h0m2 0h0m1 0h0m5 0h0m10 0h0m4 0h0m3 0h0m32 0h0m2 0h0m5 0h0m21 0h0m-97 1h0m4 0h0m1 0h0m6 0h0m2 0h0m1 0h0m1 0h0m1 0h0m47 0h0m12 0h0m2 0h0m4 0h0m3 0h0m7 0h0m-92 1h0m3 0h0m1 0h0m2 0h0m33 0h0m5 0h0m21 0h0m14 0h0m3 0h0m-81 1h0m8 0h0m2 0h0m4 0h0m27 0h0m21 0h0m4 0h0m18 0h0m7 0h0m-90 1h0m1 0h0m1 0h0m4 0h0m6 0h0m6 0h0m12 0h0m19 0h0m11 0h0m7 0h0m3 0h0m2 0h0m13 0h0m-88 1h0m1 0h0m6 0h0m2 0h0m1 0h0m1 0h0m4 0h0m45 0h0m20 0h0m4 0h0m-81 1h0m2 0h0m1 0h0m3 0h0m3 0h0m3 0h0m41 0h0m7 0h0m5 0h0m5 0h0m3 0h0m16 0h0m-90 1h0m1 0h0m7 0h0m2 0h0m5 0h0m30 0h0m8 0h0m7 0h0m19 0h0m9 0h0m-85 1h0m4 0h0m3 0h0m8 0h0m25 0h0m18 0h0m3 0h0m3 0h0m18 0h0m6 0h0m-92 1h0m1 0h0m8 0h0m68 0h0m2 0h0m9 0h0m43 0h0m-126 1h0m3 0h0m6 0h0m1 0h0m66 0h0m-78 1h0m2 0h0m6 0h0m4 0h0m1 0h0m32 0h0m3 0h0m12 0h0m8 0h0m4 0h0m3 0h0m1 0h0m8 0h0m-79 1h0m7 0h0m1 0h0m10 0h0m52 0h0m14 0h0m4 0h0m3 0h0m-93 1h0m3 0h0m2 0h0m2 0h0m1 0h0m1 0h0m3 0h0m1 0h0m45 0h0m11 0h0m1 0h0m-73 1h0m4 0h0m2 0h0m3 0h0m2 0h0m7 0h0m45 0h0m1 0h0m17 0h0m1 0h0m-78 1h0m1 0h0m2 0h0m50 0h0m3 0h0m14 0h0m17 0h0m-96 1h0m2 0h0m3 0h0m14 0h0m2 0h0m4 0h0m44 0h0m7 0h0m1 0h0m4 0h0m1 0h0m1 0h0m11 0h0m7 0h0m-100 1h0m5 0h0m1 0h0m1 0h0m3 0h0m1 0h0m4 0h0m53 0h0m4 0h0m12 0h0m7 0h0m1 0h0m2 0h0m5 0h0m-96 1h0m3 0h0m11 0h0m47 0h0m2 0h0m21 0h0m7 0h0m-93 1h0m4 0h0m8 0h0m41 0h0m4 0h0m10 0h0m1 0h0m2 0h0m11 0h0m3 0h0m9 0h0m4 0h0m-94 1h0m5 0h0m4 0h0m2 0h0m1 0h0m2 0h0m1 0h0m42 0h0m7 0h0m3 0h0m23 0h0m-81 1h0m3 0h0m2 0h0m43 0h0m27 0h0m7 0h0m-95 1h0m8 0h0m4 0h0m2 0h0m4 0h0m2 0h0m7 0h0m12 0h0m42 0h0m16 0h0m-93 1h0m1 0h0m2 0h0m1 0h0m9 0h0m7 0h0m4 0h0m13 0h0m7 0h0m17 0h0m20 0h0m4 0h0m3 0h0m-87 1h0m3 0h0m11 0h0m27 0h0m16 0h0m8 0h0m8 0h0m4 0h0m5 0h0m-82 1h0m2 0h0m3 0h0m3 0h0m1 0h0m33 0h0m23 0h0m5 0h0m18 0h0m3 0h0m-87 1h0m5 0h0m3 0h0m68 0h0m2 0h0m6 0h0m4 0h0m-95 1h0m5 0h0m5 0h0m2 0h0m1 0h0m13 0h0m38 0h0m5 0h0m1 0h0m5 0h0m11 0h0m9 0h0m-91 1h0m6 0h0m6 0h0m25 0h0m27 0h0m17 0h0m9 0h0m-98 1h0m7 0h0m7 0h0m1 0h0m1 0h0m1 0h0m9 0h0m37 0h0m27 0h0m6 0h0m-95 1h0m19 0h0m15 0h0m1 0h0m54 0h0m3 0h0m-91 1h0m2 0h0m1 0h0m5 0h0m3 0h0m2 0h0m23 0h0m32 0h0m4 0h0m6 0h0m16 0h0m3 0h0m-93 1h0m1 0h0m2 0h0m12 0h0m9 0h0m35 0h0m6 0h0m2 0h0m11 0h0m5 0h0m6 0h0m-91 1h0m7 0h0m63 0h0m1 0h0m5 0h0m6 0h0m-74 1h0m29 0h0m14 0h0m2 0h0m20 0h0m6 0h0m5 0h0m8 0h0m-91 1h0m1 0h0m2 0h0m81 0h0m1 0h0m-75 1h0m4 0h0m31 0h0m21 0h0m19 0h0m2 0h0m-87 1h0m5 0h0m3 0h0m18 0h0m21 0h0m12 0h0m15 0h0m-82 1h0m12 0h0m2 0h0m1 0h0m3 0h0m1 0h0m4 0h0m44 0h0m2 0h0m16 0h0m17 0h0m-96 1h0m9 0h0m12 0h0m6 0h0m33 0h0m22 0h0m1 0h0m-83 1h0m9 0h0m4 0h0m4 0h0m23 0h0m50 0h0m2 0h0m-91 1h0m6 0h0m5 0h0m3 0h0m-3 1h0m10 0h0m2 0h0m41 0h0m15 0h0m-82 1h0m2 0h0m10 0h0m3 0h0m4 0h0m22 0h0m23 0h0m4 0h0m28 0h0m-90 1h0m1 0h0m2 0h0m2 0h0m2 0h0m2 0h0m-14 1h0m3 0h0m3 0h0m2 0h0m1 0h0m53 0h0m1 0h0m7 0h0m10 0h0m10 0h0m3 0h0m2 0h0m-93 1h0m12 0h0m2 0h0m1 0h0m48 0h0m-66 1h0m7 0h0m57 0h0m-63 1h0m6 0h0m1 0h0m4 0h0m62 0h0m14 0h0m-83 1h0m12 0h0m1 0h0m2 0h0m1 0h0m40 0h0m2 0h0m17 0h0m2 0h0m2 0h0m2 0h0m-82 1h0m5 0h0m3 0h0m2 0h0m5 0h0m43 0h0m20 0h0m-76 1h0m4 0h0m3 0h0m74 0h0m14 0h0m-92 1h0m-3 1h0m55 0h0m2 0h0m22 0h0m10 0h0m-93 1h0m9 0h0m1 0h0m2 0h0m2 0h0m-11 1h0m2 0h0m9 0h0m6 0h0m67 0h0m6 0h0m2 0h0m-88 1h0m7 0h0m53 0h0m13 0h0m7 0h0m4 0h0m-82 1h0m5 0h0m66 0h0m5 0h0m10 0h0m-24 1h0m22 0h0m-75 1h0m68 0h0m6 0h0m-78 1h0m72 0h0m-28 3h0m26 0h0" stroke="#2a50a4" stroke-width="2.5" stroke-linecap="square" fill="none"/>
<polygon points="499.4,907.6 501.5,905.4 503.1,905.8 503.6,904.2 506.8,903.7 508.6,904.2 508.2,902.6 511.9,903.5 512.7,903.7 515.1,902.1 515.1,903.4 517.4,901.7 518.1,901.6 521.3,902.1 522.3,901.4 522.2,903.6 519.7,905.8 520.7,907.1 519.2,907.5 520.0,910.6 518.2,912.2 516.9,913.4 515.8,914.6 516.1,914.8 515.5,918.1 514.1,918.8 513.4,920.5 512.1,921.2 510.9,923.0 510.2,924.2 509.5,927.2 509.8,928.5 509.3,929.7 509.5,931.6 508.4,934.3 506.6,935.2 507.1,936.0 507.7,937.8 505.7,940.3 506.9,941.3 505.8,943.7 505.8,945.7 503.4,943.7 501.5,945.1 500.6,943.8 501.1,941.9 500.5,940.6 499.8,937.9 499.1,936.5 499.8,935.6 498.2,934.5 498.7,932.2 498.9,930.3 496.9,928.9 498.3,926.5 498.2,925.6 498.1,923.8 497.3,921.3 497.4,920.0 498.4,917.9 499.0,917.6 498.4,914.1 499.4,912.8 497.9,912.6 497.8,910.3 498.4,908.5" fill="#0a0a0a"/>
<path transform="translate(454.0 806.8) scale(.5)" d="M0 0m467 38h0m-305 85h0m19 21h0m36 3h0m-119 6h0m54 0h0m-58 1h0m4 0h0m3 0h0m4 0h0m-2 1h0m1 0h0m1 0h0m52 0h0m12 0h0m-77 1h0m38 0h0m25 0h0m-53 1h0m3 0h0m-8 1h0m7 0h0m2 0h0m3 0h0m-16 1h0m12 0h0m49 0h0m-58 1h0m61 0h0m223 0h0m-284 1h0m12 0h0m-10 2h0m6 0h0m39 0h0m-47 1h0m67 0h0m-67 1h0m3 0h0m5 0h0m2 0h0m-6 1h0m2 0h0m2 0h0m5 0h0m83 0h0m2 0h0m-102 1h0m3 0h0m12 0h0m85 0h0m-100 1h0m10 0h0m40 0h0m39 0h0m-85 1h0m4 0h0m65 0h0m-72 1h0m1 0h0m3 0h0m8 0h0m58 0h0m-73 1h0m3 0h0m3 1h0m5 0h0m90 0h0m-92 1h0m4 0h0m1 0h0m4 0h0m47 0h0m25 0h0m-90 1h0m7 0h0m7 0h0m3 0h0m1 0h0m111 0h0m-128 1h0m5 0h0m3 0h0m6 0h0m1 0h0m4 0h0m7 0h0m3 0h0m62 0h0m-82 1h0m7 0h0m-11 1h0m2 0h0m1 0h0m1 0h0m2 0h0m4 0h0m25 0h0m6 0h0m-42 1h0m3 0h0m5 0h0m13 0h0m60 0h0m-79 1h0m3 0h0m1 0h0m20 0h0m32 0h0m-59 1h0m2 0h0m1 0h0m4 0h0m2 0h0m7 0h0m-19 1h0m9 0h0m3 0h0m7 0h0m4 0h0m25 0h0m28 0h0m13 0h0m-87 1h0m2 0h0m1 0h0m3 0h0m1 0h0m3 0h0m2 0h0m3 0h0m26 0h0m-39 1h0m2 0h0m2 0h0m5 0h0m7 0h0m9 0h0m2 0h0m33 0h0m-57 1h0m10 0h0m15 0h0m3 0h0m36 0h0m4 0h0m6 0h0m-77 1h0m2 0h0m1 0h0m5 0h0m6 0h0m8 0h0m13 0h0m25 0h0m6 0h0m13 0h0m-86 1h0m1 0h0m1 0h0m2 0h0m3 0h0m5 0h0m7 0h0m34 0h0m-48 1h0m2 0h0m3 0h0m8 0h0m3 0h0m11 0h0m17 0h0m21 0h0m7 0h0m6 0h0m-76 1h0m3 0h0m5 0h0m3 0h0m2 0h0m1 0h0m4 0h0m9 0h0m-29 1h0m1 0h0m2 0h0m1 0h0m1 0h0m6 0h0m2 0h0m1 0h0m1 0h0m1 0h0m58 0h0m16 0h0m5 0h0m-90 1h0m1 0h0m3 0h0m1 0h0m1 0h0m20 0h0m4 0h0m4 0h0m24 0h0m11 0h0m-76 1h0m3 0h0m3 0h0m4 0h0m112 0h0m-121 1h0m1 0h0m1 0h0m2 0h0m1 0h0m1 0h0m5 0h0m6 0h0m16 0h0m1 0h0m4 0h0m37 0h0m19 0h0m-95 1h0m9 0h0m1 0h0m9 0h0m11 0h0m42 0h0m20 0h0m-92 1h0m3 0h0m3 0h0m1 0h0m1 0h0m1 0h0m11 0h0m13 0h0m23 0h0m7 0h0m26 0h0m-82 1h0m4 0h0m10 0h0m7 0h0m1 0h0m4 0h0m2 0h0m2 0h0m60 0h0m33 0h0m-133 1h0m4 0h0m3 0h0m6 0h0m11 0h0m9 0h0m82 0h0m-116 1h0m5 0h0m1 0h0m6 0h0m2 0h0m2 0h0m1 0h0m4 0h0m1 0h0m3 0h0m1 0h0m2 0h0m3 0h0m5 0h0m1 0h0m5 0h0m1 0h0m6 0h0m52 0h0m21 0h0m24 0h0m-133 1h0m16 0h0m30 0h0m7 0h0m35 0h0m10 0h0m-97 1h0m2 0h0m7 0h0m3 0h0m2 0h0m3 0h0m51 0h0m16 0h0m2 0h0m12 0h0m-77 1h0m8 0h0m1 0h0m24 0h0m26 0h0m16 0h0m-110 1h0m15 0h0m1 0h0m7 0h0m14 0h0m-39 1h0m21 0h0m2 0h0m4 0h0m6 0h0m1 0h0m15 0h0m2 0h0m32 0h0m3 0h0m46 0h0m-124 1h0m15 0h0m3 0h0m8 0h0m3 0h0m10 0h0m9 0h0m22 0h0m14 0h0m-85 1h0m1 0h0m6 0h0m2 0h0m4 0h0m1 0h0m2 0h0m3 0h0m2 0h0m2 0h0m1 0h0m10 0h0m1 0h0m64 0h0m-89 1h0m3 0h0m2 0h0m3 0h0m5 0h0m3 0h0m5 0h0m16 0h0m5 0h0m38 0h0m2 0h0m14 0h0m-106 1h0m6 0h0m2 0h0m4 0h0m8 0h0m2 0h0m2 0h0m6 0h0m1 0h0m3 0h0m3 0h0m1 0h0m28 0h0m9 0h0m-75 1h0m8 0h0m8 0h0m6 0h0m2 0h0m3 0h0m8 0h0m45 0h0m16 0h0m32 0h0m-121 1h0m1 0h0m7 0h0m1 0h0m1 0h0m8 0h0m2 0h0m2 0h0m9 0h0m36 0h0m-75 1h0m2 0h0m1 0h0m3 0h0m3 0h0m3 0h0m5 0h0m5 0h0m32 0h0m33 0h0m61 0h0m-148 1h0m7 0h0m11 0h0m9 0h0m44 0h0m7 0h0m17 0h0m-90 1h0m5 0h0m5 0h0m6 0h0m4 0h0m2 0h0m1 0h0m4 0h0m24 0h0m-63 1h0m13 0h0m2 0h0m4 0h0m4 0h0m1 0h0m4 0h0m7 0h0m1 0h0m5 0h0m35 0h0m28 0h0m4 0h0m-92 1h0m4 0h0m2 0h0m3 0h0m2 0h0m6 0h0m15 0h0m55 0h0m36 0h0m-140 1h0m10 0h0m1 0h0m8 0h0m7 0h0m2 0h0m1 0h0m2 0h0m1 0h0m6 0h0m26 0h0m-45 1h0m1 0h0m1 0h0m53 0h0m10 0h0m2 0h0m57 0h0m-133 1h0m10 0h0m1 0h0m3 0h0m14 0h0m20 0h0m40 0h0m29 0h0m-117 1h0m1 0h0m7 0h0m8 0h0m4 0h0m2 0h0m15 0h0m5 0h0m25 0h0m6 0h0m27 0h0m3 0h0m-105 1h0m1 0h0m10 0h0m1 0h0m15 0h0m7 0h0m16 0h0m24 0h0m6 0h0m6 0h0m-83 1h0m3 0h0m2 0h0m3 0h0m7 0h0m1 0h0m1 0h0m2 0h0m33 0h0m-55 1h0m5 0h0m9 0h0m7 0h0m1 0h0m4 0h0m4 0h0m93 0h0m-131 1h0m9 0h0m10 0h0m3 0h0m5 0h0m6 0h0m3 0h0m11 0h0m35 0h0m34 0h0m-108 1h0m6 0h0m4 0h0m1 0h0m2 0h0m2 0h0m2 0h0m5 0h0m4 0h0m5 0h0m40 0h0m6 0h0m8 0h0m-85 1h0m2 0h0m1 0h0m2 0h0m1 0h0m1 0h0m2 0h0m2 0h0m1 0h0m10 0h0m2 0h0m6 0h0m19 0h0m7 0h0m22 0h0m60 0h0m-132 1h0m23 0h0m4 0h0m22 0h0m29 0h0m-83 1h0m9 0h0m1 0h0m2 0h0m6 0h0m3 0h0m6 0h0m-33 1h0m6 0h0m1 0h0m2 0h0m1 0h0m6 0h0m1 0h0m1 0h0m2 0h0m1 0h0m4 0h0m2 0h0m16 0h0m-22 1h0m1 0h0m4 0h0m21 0h0m21 0h0m-134 1h0m77 0h0m8 0h0m4 0h0m1 0h0m6 0h0m78 0h0m25 0h0m106 0h0m-232 1h0m6 0h0m5 0h0m2 0h0m14 0h0m-21 1h0m1 0h0m6 0h0m2 0h0m5 0h0m13 0h0m71 0h0m-108 1h0m6 0h0m1 0h0m16 0h0m1 0h0m11 0h0m4 0h0m-40 1h0m8 0h0m3 0h0m2 0h0m5 0h0m3 0h0m4 0h0m8 0h0m1 0h0m1 0h0m53 0h0m-88 1h0m5 0h0m6 0h0m2 0h0m8 0h0m2 0h0m2 0h0m7 0h0m1 0h0m24 0h0m90 0h0m-139 1h0m1 0h0m3 0h0m1 0h0m20 0h0m1 0h0m3 0h0m89 0h0m-118 1h0m1 0h0m4 0h0m1 0h0m5 0h0m1 0h0m2 0h0m8 0h0m-26 1h0m1 0h0m8 0h0m3 0h0m3 0h0m2 0h0m9 0h0m2 0h0m-27 1h0m3 0h0m5 0h0m2 0h0m11 0h0m6 0h0m61 0h0m45 0h0m-143 1h0m5 0h0m8 0h0m1 0h0m2 0h0m1 0h0m2 0h0m2 0h0m4 0h0m52 0h0m-60 1h0m8 0h0m4 0h0m-28 1h0m2 0h0m3 0h0m3 0h0m13 0h0m1 0h0m12 0h0m-27 1h0m3 0h0m4 0h0m3 0h0m1 0h0m2 0h0m1 0h0m4 0h0m2 0h0m57 0h0m23 0h0m-110 1h0m20 0h0m2 0h0m3 0h0m2 0h0m5 0h0m8 0h0m16 0h0m76 0h0m-126 1h0m6 0h0m9 0h0m14 0h0m-24 1h0m6 0h0m4 0h0m1 0h0m7 0h0m1 0h0m4 0h0m36 0h0m19 0h0m-72 1h0m3 0h0m1 0h0m5 0h0m4 0h0m4 0h0m50 0h0m-69 1h0m4 0h0m5 0h0m1 0h0m5 0h0m3 0h0m3 0h0m2 0h0m0 1h0m-25 1h0m9 0h0m1 0h0m2 0h0m12 0h0m-39 1h0m25 0h0m4 0h0m1 0h0m-14 1h0m4 0h0m1 0h0m6 0h0m3 0h0m8 0h0m2 0h0m29 0h0m-44 1h0m2 0h0m3 0h0m1 0h0m1 0h0m11 0h0m68 0h0m-86 1h0m3 0h0m1 0h0m3 0h0m6 0h0m3 0h0m27 0h0m-65 1h0m17 0h0m5 0h0m2 0h0m3 0h0m9 0h0m-23 1h0m2 0h0m7 0h0m1 0h0m2 0h0m10 0h0m9 0h0m-35 1h0m10 0h0m2 0h0m2 0h0m4 0h0m-9 1h0m3 0h0m2 0h0m-18 1h0m13 0h0m2 0h0m-2 1h0m3 0h0m3 0h0m7 0h0m-22 1h0m10 0h0m-5 1h0m1 0h0m2 0h0m5 0h0m3 0h0m2 0h0m4 0h0m-4 1h0m-8 1h0m9 0h0m13 0h0m-18 1h0m8 0h0m7 0h0m-12 1h0m6 0h0m-9 1h0m13 0h0m-27 1h0m7 0h0m5 0h0m3 0h0m24 0h0m-37 2h0m1 0h0m5 0h0m3 0h0m1 0h0m-14 1h0m4 0h0m3 0h0m1 0h0m1 0h0m3 0h0m-12 1h0m1 0h0m5 0h0m10 0h0m7 0h0m1 0h0m2 0h0m-25 1h0m3 0h0m1 0h0m7 0h0m1 0h0m2 0h0m-18 1h0m7 0h0m4 0h0m1 0h0m1 0h0m1 0h0m4 0h0m-16 1h0m4 0h0m1 0h0m3 0h0m1 0h0m3 0h0m1 0h0m-12 1h0m7 0h0m2 0h0m1 0h0m2 0h0m1 0h0m-5 1h0m9 0h0m8 0h0m-26 1h0m2 0h0m4 0h0m2 0h0m2 0h0m29 0h0m-37 1h0m2 0h0m2 0h0m4 0h0m1 0h0m2 0h0m3 0h0m-12 1h0m5 0h0m2 0h0m2 0h0m-13 1h0m3 0h0m7 0h0m1 0h0m-12 1h0m3 0h0m1 0h0m1 0h0m10 0h0m8 0h0m-21 1h0m14 0h0m7 0h0m2 0h0m-22 1h0m3 0h0m1 0h0m4 0h0m1 0h0m2 0h0m3 0h0m-13 1h0m5 0h0m2 0h0m4 0h0m9 0h0m-24 1h0m7 0h0m-3 1h0m1 0h0m3 0h0m-4 1h0m5 0h0m1 0h0m1 0h0m2 0h0m3 0h0m-6 1h0m2 0h0m-8 1h0m4 0h0m7 0h0m-12 1h0m9 0h0m4 0h0m-12 1h0m3 0h0m5 0h0m2 0h0m-13 1h0m2 0h0m9 0h0m2 0h0m4 0h0m-12 1h0m1 0h0m6 0h0m-8 2h0m8 0h0m-8 1h0m-4 1h0m1 0h0m5 0h0m1 0h0m4 0h0m1 0h0m-10 1h0m6 0h0m4 0h0m2 0h0m-8 1h0m4 0h0m6 0h0m-7 1h0m7 0h0m-16 1h0m2 0h0m2 0h0m2 0h0m1 0h0m5 0h0m-11 1h0m1 0h0m10 0h0m1 0h0m-11 1h0m5 0h0m6 0h0m-9 1h0m9 0h0m5 1h0m-14 1h0m2 0h0m4 0h0m5 0h0m-12 1h0m6 0h0m1 0h0m-9 1h0m7 0h0m8 0h0m1 0h0m-6 1h0m-3 1h0m-9 1h0m2 0h0m2 0h0m3 0h0m1 0h0m3 0h0m1 0h0m3 0h0m-9 1h0m2 0h0m2 1h0m2 0h0m-10 1h0m3 0h0m6 0h0m3 0h0m-8 1h0m4 0h0m6 0h0m-10 1h0m-4 1h0m8 0h0m-8 1h0m10 0h0m-9 1h0m3 1h0m4 0h0m3 0h0m1 0h0m-12 1h0m2 0h0m6 0h0m-5 1h0m10 0h0m-12 1h0m12 0h0m2 0h0m-12 1h0m5 0h0m-6 1h0m12 1h0m-6 1h0m3 4h0m-12 5h0m6 0h0m0 3h0m4 1h0m-3 4h0m1 1h0m4 0h0m-4 2h0m7 0h0m-9 3h0m2 2h0m1 8h0m-1 1h0m6 0h0m4 1h0m-12 3h0m4 0h0m-4 1h0m2 2h0m1 1h0m-4 5h0m8 1h0m-11 4h0m7 2h0m1 1h0m-9 1h0" stroke="#0a0a0a" stroke-width="2.3" stroke-linecap="square" fill="none"/>
<path transform="translate(454.0 806.8) scale(.5)" d="M0 0m65 178h0m-5 14h0m6 0h0m-56 8h0m10 0h0m34 0h0m16 0h0m-55 1h0m38 0h0m6 1h0m4 0h0m9 0h0m-38 1h0m38 0h0m-21 2h0m2 0h0m1 0h0m17 0h0m-58 1h0m5 1h0m44 0h0m-38 1h0m10 1h0m23 1h0m-23 1h0m23 0h0m3 0h0m13 0h0m-14 2h0m9 0h0m-58 1h0m15 0h0m56 0h0m-28 2h0m11 0h0m-20 2h0m15 0h0m12 0h0m3 0h0m-6 1h0m-18 1h0m19 0h0m10 0h0m-16 1h0m16 0h0m-46 1h0m15 0h0m25 0h0m-10 2h0m2 0h0m6 1h0m5 0h0m-22 1h0m5 1h0m1 0h0m10 0h0m-59 1h0m45 0h0m22 0h0m-5 1h0m-64 1h0m62 1h0m-5 2h0m-4 1h0m17 0h0m-21 1h0m20 0h0m-5 1h0m-5 1h0m-4 1h0m-1 1h0m6 0h0m-5 1h0m-21 1h0m16 0h0m9 0h0m-7 1h0m8 0h0m-10 2h0m3 0h0m7 1h0m2 0h0m-7 2h0m12 0h0m4 0h0m-36 1h0m19 0h0m8 0h0m-11 2h0m-48 2h0m58 0h0m0 2h0m-36 2h0m42 0h0m-1 1h0m-56 2h0m48 0h0m3 0h0m-63 1h0m50 1h0m1 0h0m8 0h0m10 0h0m-21 1h0m21 1h0m-6 5h0m3 2h0m-21 2h0m-24 4h0m42 1h0m-59 3h0m51 2h0m-43 1h0m-10 2h0m52 6h0m2 0h0m-46 2h0m2 1h0m12 5h0m-3 1h0m22 5h0m-13 2h0m25 0h0m3 10h0m-41 2h0m17 9h0m-11 4h0m1 4h0m8 10h0m2 3h0m27 0h0m4 2h0" stroke="#e8262c" stroke-width="1.9" stroke-linecap="square" fill="none"/>
<path d="M454.0 806.8H701.4V1011.4" stroke="#6a6a6a" stroke-width="1.3" fill="none"/>
<path d="M454.0 806.2V1011.4H702.0" stroke="#111" stroke-width="1.7" fill="none"/>
<path d="M454.0 1011.4v5M469.5 1011.4v2.2M485.5 1011.4v2.2M500.5 1011.4v2.2M515.8 1011.4v5M531.3 1011.4v2.2M547.3 1011.4v2.2M562.3 1011.4v2.2M577.6 1011.4v5M593.1 1011.4v2.2M609.1 1011.4v2.2M624.1 1011.4v2.2M639.4 1011.4v5M654.9 1011.4v2.2M670.9 1011.4v2.2M685.9 1011.4v2.2M701.2 1011.4v5M454.0 822.0h-4M454.0 858.4h-4M454.0 895.8h-4M454.0 932.8h-4M454.0 969.1h-4M454.0 1006.1h-4" stroke="#222" stroke-width="1.1" fill="none"/>
<line x1="452.9" y1="809.8" x2="452.9" y2="1009.4" stroke="#444" stroke-width="0.9" stroke-dasharray="0.8 2.9"/>
<text transform="translate(598.0 858.8) scale(1.032 1)" font-size="22.5" style="fill:#2a50a4">40%</text>
<text transform="translate(610.2 915.7) scale(0.916 1)" font-size="22.5" style="fill:#e8262c">1%</text>
<text transform="translate(952.0 32.6) scale(1.120 1)" font-size="36" font-weight="bold" stroke="#231f20" stroke-width="1.6">b</text>
<text transform="translate(1544.0 25.3) scale(1.094 1)" font-size="28.5" text-anchor="middle">Human bone marrow mononuclear cells</text>
<rect x="1081.0" y="195.5" width="31.6" height="228.7" fill="#fff" stroke="#3a3637" stroke-width="1.2"/>
<rect x="1130.8" y="206.7" width="31.6" height="217.4" fill="#fff" stroke="#3a3637" stroke-width="1.2"/>
<rect x="1180.6" y="196.9" width="31.6" height="227.3" fill="#fff" stroke="#3a3637" stroke-width="1.2"/>
<rect x="1230.4" y="172.6" width="31.6" height="251.5" fill="#fff" stroke="#3a3637" stroke-width="1.2"/>
<rect x="1280.2" y="174.4" width="31.6" height="249.8" fill="#fff" stroke="#3a3637" stroke-width="1.2"/>
<rect x="1330.0" y="393.6" width="31.6" height="30.6" fill="#fff" stroke="#3a3637" stroke-width="1.2"/>
<rect x="1379.8" y="404.5" width="31.6" height="19.7" fill="#fff" stroke="#3a3637" stroke-width="1.2"/>
<rect x="1429.6" y="383.4" width="31.6" height="40.7" fill="#fff" stroke="#3a3637" stroke-width="1.2"/>
<line x1="1063.5" y1="91.6" x2="1063.5" y2="424.1" stroke="#3a3637" stroke-width="1.3"/>
<line x1="1051.2" y1="424.1" x2="1479.4" y2="424.1" stroke="#3a3637" stroke-width="1.3"/>
<text transform="translate(1038.5 431.3) scale(1.070 1)" font-size="22" text-anchor="end">0</text>
<line x1="1051.2" y1="357.7" x2="1063.5" y2="357.7" stroke="#3a3637" stroke-width="1.3"/>
<text transform="translate(1038.5 364.9) scale(1.070 1)" font-size="22" text-anchor="end">10</text>
<line x1="1051.2" y1="291.4" x2="1063.5" y2="291.4" stroke="#3a3637" stroke-width="1.3"/>
<text transform="translate(1038.5 298.6) scale(1.070 1)" font-size="22" text-anchor="end">20</text>
<line x1="1051.2" y1="225.0" x2="1063.5" y2="225.0" stroke="#3a3637" stroke-width="1.3"/>
<text transform="translate(1038.5 232.2) scale(1.070 1)" font-size="22" text-anchor="end">30</text>
<line x1="1051.2" y1="158.6" x2="1063.5" y2="158.6" stroke="#3a3637" stroke-width="1.3"/>
<text transform="translate(1038.5 165.8) scale(1.070 1)" font-size="22" text-anchor="end">40</text>
<line x1="1051.2" y1="92.2" x2="1063.5" y2="92.2" stroke="#3a3637" stroke-width="1.3"/>
<text transform="translate(1038.5 99.4) scale(1.070 1)" font-size="22" text-anchor="end">50</text>
<line x1="1096.8" y1="424.1" x2="1096.8" y2="436.8" stroke="#3a3637" stroke-width="1.3"/>
<text transform="translate(1106.4 451.5) rotate(-90) scale(0.924 1)" font-size="27.5" text-anchor="end">DMSO</text>
<line x1="1146.6" y1="424.1" x2="1146.6" y2="436.8" stroke="#3a3637" stroke-width="1.3"/>
<text transform="translate(1156.2 451.5) rotate(-90) scale(1.012 1)" font-size="27.5" text-anchor="end">AM-0277</text>
<line x1="1196.4" y1="424.1" x2="1196.4" y2="436.8" stroke="#3a3637" stroke-width="1.3"/>
<text transform="translate(1206.0 451.5) rotate(-90) scale(1.012 1)" font-size="27.5" text-anchor="end">AM-1882</text>
<line x1="1246.2" y1="424.1" x2="1246.2" y2="436.8" stroke="#3a3637" stroke-width="1.3"/>
<text transform="translate(1255.8 451.5) rotate(-90) scale(1.044 1)" font-size="27.5" text-anchor="end">AM-5308</text>
<line x1="1296.0" y1="424.1" x2="1296.0" y2="436.8" stroke="#3a3637" stroke-width="1.3"/>
<text transform="translate(1305.6 451.5) rotate(-90) scale(1.024 1)" font-size="27.5" text-anchor="end">AM-9022</text>
<line x1="1345.8" y1="424.1" x2="1345.8" y2="436.8" stroke="#3a3637" stroke-width="1.3"/>
<text transform="translate(1355.4 451.5) rotate(-90) scale(1.007 1)" font-size="27.5" text-anchor="end">Ispinesib</text>
<line x1="1395.6" y1="424.1" x2="1395.6" y2="436.8" stroke="#3a3637" stroke-width="1.3"/>
<text transform="translate(1405.2 451.5) rotate(-90) scale(1.033 1)" font-size="27.5" text-anchor="end">Paclitaxel</text>
<line x1="1445.4" y1="424.1" x2="1445.4" y2="436.8" stroke="#3a3637" stroke-width="1.3"/>
<text transform="translate(1455.0 451.5) rotate(-90) scale(1.063 1)" font-size="27.5" text-anchor="end">Palbociclib</text>
<circle cx="1096.8" cy="161.4" r="7" fill="#e9262c"/>
<circle cx="1096.8" cy="177.2" r="7" fill="#204ea1"/>
<circle cx="1087.0" cy="222.9" r="7" fill="#843796"/>
<circle cx="1106.7" cy="219.0" r="7" fill="#231f20"/>
<circle cx="1146.7" cy="162.4" r="7" fill="#e9262c"/>
<circle cx="1146.7" cy="191.6" r="7" fill="#204ea1"/>
<circle cx="1146.7" cy="226.0" r="7" fill="#231f20"/>
<circle cx="1146.7" cy="244.3" r="7" fill="#843796"/>
<circle cx="1196.6" cy="156.5" r="7" fill="#e9262c"/>
<circle cx="1196.6" cy="186.7" r="7" fill="#204ea1"/>
<circle cx="1186.8" cy="223.9" r="7" fill="#843796"/>
<circle cx="1206.4" cy="217.9" r="7" fill="#231f20"/>
<circle cx="1246.5" cy="158.6" r="7" fill="#e9262c"/>
<circle cx="1246.5" cy="185.3" r="7" fill="#204ea1"/>
<circle cx="1296.4" cy="158.9" r="7" fill="#e9262c"/>
<circle cx="1296.4" cy="188.8" r="7" fill="#204ea1"/>
<circle cx="1335.7" cy="383.0" r="7" fill="#204ea1"/>
<circle cx="1356.1" cy="392.5" r="7" fill="#231f20"/>
<circle cx="1345.9" cy="390.8" r="7" fill="#e9262c"/>
<circle cx="1335.7" cy="404.8" r="7" fill="#843796"/>
<circle cx="1385.9" cy="393.6" r="7" fill="#204ea1"/>
<circle cx="1406.0" cy="406.9" r="7" fill="#231f20"/>
<circle cx="1395.8" cy="404.5" r="7" fill="#e9262c"/>
<circle cx="1385.9" cy="411.1" r="7" fill="#843796"/>
<circle cx="1445.3" cy="358.5" r="7" fill="#e9262c"/>
<circle cx="1435.5" cy="378.5" r="7" fill="#204ea1"/>
<circle cx="1455.5" cy="390.4" r="7" fill="#231f20"/>
<circle cx="1445.3" cy="406.6" r="7" fill="#843796"/>
<text transform="translate(1244.7 69.7) scale(1.070 1)" font-size="25.5" text-anchor="middle">BrdU (DNA synthesis)</text>
<text transform="translate(982.3 255.9) rotate(-90) scale(1.016 1)" font-size="27.5" text-anchor="middle">BrdU<tspan dy="-9.5" font-size="66%">+</tspan><tspan dy="9.5"> population (%)</tspan></text>
<rect x="1641.6" y="400.6" width="31.6" height="21.8" fill="#fff" stroke="#3a3637" stroke-width="1.2"/>
<rect x="1691.4" y="396.4" width="31.6" height="26.0" fill="#fff" stroke="#3a3637" stroke-width="1.2"/>
<rect x="1741.2" y="400.6" width="31.6" height="21.8" fill="#fff" stroke="#3a3637" stroke-width="1.2"/>
<rect x="1791.0" y="397.1" width="31.6" height="25.3" fill="#fff" stroke="#3a3637" stroke-width="1.2"/>
<rect x="1840.8" y="396.4" width="31.6" height="26.0" fill="#fff" stroke="#3a3637" stroke-width="1.2"/>
<rect x="1890.6" y="148.0" width="31.6" height="274.4" fill="#fff" stroke="#3a3637" stroke-width="1.2"/>
<rect x="1940.4" y="145.6" width="31.6" height="276.8" fill="#fff" stroke="#3a3637" stroke-width="1.2"/>
<rect x="1990.2" y="333.9" width="31.6" height="88.5" fill="#fff" stroke="#3a3637" stroke-width="1.2"/>
<line x1="1624.4" y1="89.1" x2="1624.4" y2="422.4" stroke="#3a3637" stroke-width="1.3"/>
<line x1="1611.7" y1="422.4" x2="2039.9" y2="422.4" stroke="#3a3637" stroke-width="1.3"/>
<text transform="translate(1599.1 429.6) scale(1.070 1)" font-size="22" text-anchor="end">0</text>
<line x1="1611.7" y1="339.2" x2="1624.4" y2="339.2" stroke="#3a3637" stroke-width="1.3"/>
<text transform="translate(1599.1 346.4) scale(1.070 1)" font-size="22" text-anchor="end">5</text>
<line x1="1611.7" y1="256.1" x2="1624.4" y2="256.1" stroke="#3a3637" stroke-width="1.3"/>
<text transform="translate(1599.1 263.3) scale(1.070 1)" font-size="22" text-anchor="end">10</text>
<line x1="1611.7" y1="172.9" x2="1624.4" y2="172.9" stroke="#3a3637" stroke-width="1.3"/>
<text transform="translate(1599.1 180.1) scale(1.070 1)" font-size="22" text-anchor="end">15</text>
<line x1="1611.7" y1="89.7" x2="1624.4" y2="89.7" stroke="#3a3637" stroke-width="1.3"/>
<text transform="translate(1599.1 96.9) scale(1.070 1)" font-size="22" text-anchor="end">20</text>
<line x1="1657.4" y1="422.4" x2="1657.4" y2="435.7" stroke="#3a3637" stroke-width="1.3"/>
<text transform="translate(1667.0 451.5) rotate(-90) scale(0.924 1)" font-size="27.5" text-anchor="end">DMSO</text>
<line x1="1707.2" y1="422.4" x2="1707.2" y2="435.7" stroke="#3a3637" stroke-width="1.3"/>
<text transform="translate(1716.8 451.5) rotate(-90) scale(1.012 1)" font-size="27.5" text-anchor="end">AM-0277</text>
<line x1="1757.0" y1="422.4" x2="1757.0" y2="435.7" stroke="#3a3637" stroke-width="1.3"/>
<text transform="translate(1766.6 451.5) rotate(-90) scale(1.012 1)" font-size="27.5" text-anchor="end">AM-1882</text>
<line x1="1806.8" y1="422.4" x2="1806.8" y2="435.7" stroke="#3a3637" stroke-width="1.3"/>
<text transform="translate(1816.4 451.5) rotate(-90) scale(1.044 1)" font-size="27.5" text-anchor="end">AM-5308</text>
<line x1="1856.6" y1="422.4" x2="1856.6" y2="435.7" stroke="#3a3637" stroke-width="1.3"/>
<text transform="translate(1866.2 451.5) rotate(-90) scale(1.024 1)" font-size="27.5" text-anchor="end">AM-9022</text>
<line x1="1906.4" y1="422.4" x2="1906.4" y2="435.7" stroke="#3a3637" stroke-width="1.3"/>
<text transform="translate(1916.0 451.5) rotate(-90) scale(1.007 1)" font-size="27.5" text-anchor="end">Ispinesib</text>
<line x1="1956.2" y1="422.4" x2="1956.2" y2="435.7" stroke="#3a3637" stroke-width="1.3"/>
<text transform="translate(1965.8 451.5) rotate(-90) scale(1.033 1)" font-size="27.5" text-anchor="end">Paclitaxel</text>
<line x1="2006.0" y1="422.4" x2="2006.0" y2="435.7" stroke="#3a3637" stroke-width="1.3"/>
<text transform="translate(2015.6 451.5) rotate(-90) scale(1.063 1)" font-size="27.5" text-anchor="end">Palbociclib</text>
<circle cx="1653.9" cy="390.8" r="7" fill="#843796"/>
<circle cx="1667.6" cy="396.4" r="7" fill="#231f20"/>
<circle cx="1647.5" cy="401.3" r="7" fill="#204ea1"/>
<circle cx="1660.9" cy="401.3" r="7" fill="#e9262c"/>
<circle cx="1710.8" cy="397.1" r="7" fill="#231f20"/>
<circle cx="1703.7" cy="390.8" r="7" fill="#e9262c"/>
<circle cx="1717.1" cy="393.6" r="7" fill="#843796"/>
<circle cx="1697.4" cy="404.5" r="7" fill="#204ea1"/>
<circle cx="1754.0" cy="396.0" r="7" fill="#843796"/>
<circle cx="1767.7" cy="398.5" r="7" fill="#231f20"/>
<circle cx="1747.3" cy="401.3" r="7" fill="#204ea1"/>
<circle cx="1760.7" cy="400.6" r="7" fill="#e9262c"/>
<circle cx="1796.8" cy="397.1" r="7" fill="#e9262c"/>
<circle cx="1816.9" cy="395.3" r="7" fill="#204ea1"/>
<circle cx="1846.7" cy="397.4" r="7" fill="#e9262c"/>
<circle cx="1866.7" cy="394.6" r="7" fill="#204ea1"/>
<circle cx="1896.6" cy="130.8" r="7" fill="#231f20"/>
<circle cx="1916.6" cy="122.0" r="7" fill="#e9262c"/>
<circle cx="1906.4" cy="146.6" r="7" fill="#843796"/>
<circle cx="1906.4" cy="189.1" r="7" fill="#204ea1"/>
<circle cx="1956.3" cy="121.0" r="7" fill="#231f20"/>
<circle cx="1956.3" cy="135.0" r="7" fill="#843796"/>
<circle cx="1956.3" cy="150.8" r="7" fill="#204ea1"/>
<circle cx="1956.3" cy="173.3" r="7" fill="#e9262c"/>
<circle cx="2006.2" cy="310.0" r="7" fill="#204ea1"/>
<circle cx="2006.2" cy="330.7" r="7" fill="#843796"/>
<circle cx="1996.4" cy="346.2" r="7" fill="#e9262c"/>
<circle cx="2016.0" cy="345.8" r="7" fill="#231f20"/>
<text transform="translate(1832.0 69.7) scale(1.087 1)" font-size="25.5" text-anchor="middle">Sub-G1 (cell death)</text>
<text transform="translate(1544.6 255.9) rotate(-90) scale(0.987 1)" font-size="27.5" text-anchor="middle">Sub-G1<tspan dy="-9.5" font-size="66%">+</tspan><tspan dy="9.5"> population (%)</tspan></text>
<rect x="1082.1" y="756.9" width="31.6" height="222.4" fill="#fff" stroke="#3a3637" stroke-width="1.2"/>
<rect x="1131.9" y="781.1" width="31.6" height="198.1" fill="#fff" stroke="#3a3637" stroke-width="1.2"/>
<rect x="1181.7" y="773.0" width="31.6" height="206.2" fill="#fff" stroke="#3a3637" stroke-width="1.2"/>
<rect x="1231.5" y="796.9" width="31.6" height="182.3" fill="#fff" stroke="#3a3637" stroke-width="1.2"/>
<rect x="1281.3" y="803.2" width="31.6" height="176.0" fill="#fff" stroke="#3a3637" stroke-width="1.2"/>
<rect x="1331.1" y="956.4" width="31.6" height="22.8" fill="#fff" stroke="#3a3637" stroke-width="1.2"/>
<rect x="1380.9" y="957.8" width="31.6" height="21.4" fill="#fff" stroke="#3a3637" stroke-width="1.2"/>
<rect x="1430.7" y="912.5" width="31.6" height="66.7" fill="#fff" stroke="#3a3637" stroke-width="1.2"/>
<line x1="1064.9" y1="644.9" x2="1064.9" y2="979.2" stroke="#3a3637" stroke-width="1.3"/>
<line x1="1051.9" y1="979.2" x2="1480.4" y2="979.2" stroke="#3a3637" stroke-width="1.3"/>
<text transform="translate(1037.8 986.4) scale(1.070 1)" font-size="22" text-anchor="end">0</text>
<line x1="1051.9" y1="912.5" x2="1064.9" y2="912.5" stroke="#3a3637" stroke-width="1.3"/>
<text transform="translate(1037.8 919.7) scale(1.070 1)" font-size="22" text-anchor="end">1</text>
<line x1="1051.9" y1="845.7" x2="1064.9" y2="845.7" stroke="#3a3637" stroke-width="1.3"/>
<text transform="translate(1037.8 852.9) scale(1.070 1)" font-size="22" text-anchor="end">2</text>
<line x1="1051.9" y1="779.0" x2="1064.9" y2="779.0" stroke="#3a3637" stroke-width="1.3"/>
<text transform="translate(1037.8 786.2) scale(1.070 1)" font-size="22" text-anchor="end">3</text>
<line x1="1051.9" y1="712.2" x2="1064.9" y2="712.2" stroke="#3a3637" stroke-width="1.3"/>
<text transform="translate(1037.8 719.4) scale(1.070 1)" font-size="22" text-anchor="end">4</text>
<line x1="1051.9" y1="645.5" x2="1064.9" y2="645.5" stroke="#3a3637" stroke-width="1.3"/>
<text transform="translate(1037.8 652.7) scale(1.070 1)" font-size="22" text-anchor="end">5</text>
<line x1="1097.9" y1="979.2" x2="1097.9" y2="991.5" stroke="#3a3637" stroke-width="1.3"/>
<text transform="translate(1107.5 1008.0) rotate(-90) scale(0.924 1)" font-size="27.5" text-anchor="end">DMSO</text>
<line x1="1147.7" y1="979.2" x2="1147.7" y2="991.5" stroke="#3a3637" stroke-width="1.3"/>
<text transform="translate(1157.3 1008.0) rotate(-90) scale(1.012 1)" font-size="27.5" text-anchor="end">AM-0277</text>
<line x1="1197.5" y1="979.2" x2="1197.5" y2="991.5" stroke="#3a3637" stroke-width="1.3"/>
<text transform="translate(1207.1 1008.0) rotate(-90) scale(1.012 1)" font-size="27.5" text-anchor="end">AM-1882</text>
<line x1="1247.3" y1="979.2" x2="1247.3" y2="991.5" stroke="#3a3637" stroke-width="1.3"/>
<text transform="translate(1256.9 1008.0) rotate(-90) scale(1.044 1)" font-size="27.5" text-anchor="end">AM-5308</text>
<line x1="1297.1" y1="979.2" x2="1297.1" y2="991.5" stroke="#3a3637" stroke-width="1.3"/>
<text transform="translate(1306.7 1008.0) rotate(-90) scale(1.024 1)" font-size="27.5" text-anchor="end">AM-9022</text>
<line x1="1346.9" y1="979.2" x2="1346.9" y2="991.5" stroke="#3a3637" stroke-width="1.3"/>
<text transform="translate(1356.5 1008.0) rotate(-90) scale(1.007 1)" font-size="27.5" text-anchor="end">Ispinesib</text>
<line x1="1396.7" y1="979.2" x2="1396.7" y2="991.5" stroke="#3a3637" stroke-width="1.3"/>
<text transform="translate(1406.3 1008.0) rotate(-90) scale(1.033 1)" font-size="27.5" text-anchor="end">Paclitaxel</text>
<line x1="1446.5" y1="979.2" x2="1446.5" y2="991.5" stroke="#3a3637" stroke-width="1.3"/>
<text transform="translate(1456.1 1008.0) rotate(-90) scale(1.063 1)" font-size="27.5" text-anchor="end">Palbociclib</text>
<circle cx="1097.9" cy="709.1" r="7" fill="#231f20"/>
<circle cx="1087.7" cy="762.1" r="7" fill="#843796"/>
<circle cx="1107.7" cy="772.3" r="7" fill="#e9262c"/>
<circle cx="1087.7" cy="782.2" r="7" fill="#204ea1"/>
<circle cx="1147.8" cy="728.1" r="7" fill="#231f20"/>
<circle cx="1147.8" cy="777.9" r="7" fill="#843796"/>
<circle cx="1147.8" cy="795.5" r="7" fill="#204ea1"/>
<circle cx="1147.8" cy="820.1" r="7" fill="#e9262c"/>
<circle cx="1197.7" cy="735.8" r="7" fill="#231f20"/>
<circle cx="1197.7" cy="773.7" r="7" fill="#843796"/>
<circle cx="1187.5" cy="792.3" r="7" fill="#e9262c"/>
<circle cx="1207.5" cy="787.8" r="7" fill="#204ea1"/>
<circle cx="1237.4" cy="801.5" r="7" fill="#e9262c"/>
<circle cx="1257.4" cy="790.9" r="7" fill="#204ea1"/>
<circle cx="1297.4" cy="792.7" r="7" fill="#204ea1"/>
<circle cx="1297.4" cy="812.7" r="7" fill="#e9262c"/>
<circle cx="1343.8" cy="950.8" r="7" fill="#231f20"/>
<circle cx="1356.8" cy="952.2" r="7" fill="#843796"/>
<circle cx="1350.5" cy="956.7" r="7" fill="#e9262c"/>
<circle cx="1337.1" cy="962.4" r="7" fill="#204ea1"/>
<circle cx="1393.7" cy="951.1" r="7" fill="#231f20"/>
<circle cx="1387.0" cy="959.6" r="7" fill="#204ea1"/>
<circle cx="1400.3" cy="957.4" r="7" fill="#843796"/>
<circle cx="1407.0" cy="954.6" r="7" fill="#e9262c"/>
<circle cx="1456.6" cy="896.0" r="7" fill="#231f20"/>
<circle cx="1436.5" cy="907.9" r="7" fill="#843796"/>
<circle cx="1436.5" cy="922.0" r="7" fill="#204ea1"/>
<circle cx="1456.6" cy="922.0" r="7" fill="#e9262c"/>
<text transform="translate(1272.5 635.0) scale(1.149 1)" font-size="25.5" text-anchor="middle">Count (cell growth)</text>
<text transform="translate(1003.4 813.1) rotate(-90) scale(0.977 1)" font-size="27.5" text-anchor="middle">Count (1.0 × 10<tspan dy="-9.5" font-size="66%">6</tspan><tspan dy="9.5">)</tspan></text>
<rect x="1664.1" y="670.4" width="337.2" height="366.0" fill="#fff" stroke="#231f20" stroke-width="1.8"/>
<text transform="translate(1831.5 712.6) scale(0.981 1)" font-size="27.5" text-anchor="middle">Donor ID</text>
<line x1="1775.5" y1="717.0" x2="1886.0" y2="717.0" stroke="#231f20" stroke-width="1.6"/>
<circle cx="1782.1" cy="759.1" r="13.5" fill="#231f20"/>
<text transform="translate(1823.1 770.3) scale(0.938 1)" font-size="23">37612</text>
<circle cx="1782.1" cy="805.1" r="13.5" fill="#674ea0"/>
<text transform="translate(1823.1 813.6) scale(1.032 1)" font-size="23">37534</text>
<circle cx="1782.1" cy="850.5" r="13.5" fill="#e9262c"/>
<text transform="translate(1823.1 859.3) scale(1.032 1)" font-size="23">36223</text>
<circle cx="1782.1" cy="897.0" r="13.5" fill="#204ea1"/>
<text transform="translate(1823.1 905.8) scale(0.985 1)" font-size="23">45133</text>
<text transform="translate(1693.1 962.0) scale(0.991 1)" font-size="23">AM-0277, AM-1882 (<tspan font-style="italic">n</tspan> = 4)</text>
<text transform="translate(1693.1 991.0) scale(1.021 1)" font-size="23">AM-5308, AM-9022 (<tspan font-style="italic">n</tspan> = 2)</text>
<text transform="translate(1693.1 1020.6) scale(1.030 1)" font-size="23">Comparator agents (<tspan font-style="italic">n</tspan> = 4)</text>
<defs><linearGradient id="rg" x1="0" x2="1" y1="0" y2="0"><stop offset="0" stop-color="#fff"/><stop offset="0.08" stop-color="#fdeeee"/><stop offset="1" stop-color="#ea212c"/></linearGradient></defs>
<text transform="translate(0.0 1158.0) scale(1.250 1)" font-size="36" font-weight="bold" stroke="#231f20" stroke-width="1.8">c</text>
<text transform="translate(873.9 1168.5) scale(1.087 1)" font-size="28.5" text-anchor="middle">Human foreskin fibroblasts</text>
<rect x="150.5" y="1291.7" width="27.3" height="36.3" fill="#ea212c" stroke="#ea212c" stroke-width="1.6"/>
<rect x="177.8" y="1291.7" width="27.3" height="36.3" fill="#ea212c" stroke="#ea212c" stroke-width="1.6"/>
<rect x="205.1" y="1291.7" width="27.3" height="36.3" fill="#ea212c" stroke="#ea212c" stroke-width="1.6"/>
<rect x="232.3" y="1291.7" width="27.3" height="36.3" fill="#ea212c" stroke="#ea212c" stroke-width="1.6"/>
<rect x="259.6" y="1291.7" width="27.3" height="36.3" fill="#ea212c" stroke="#ea212c" stroke-width="1.6"/>
<rect x="286.9" y="1291.7" width="27.3" height="36.3" fill="#ea212c" stroke="#ea212c" stroke-width="1.6"/>
<rect x="314.2" y="1291.7" width="27.3" height="36.3" fill="#eb2c37" stroke="#eb2c37" stroke-width="1.6"/>
<rect x="341.5" y="1291.7" width="27.3" height="36.3" fill="#ed424c" stroke="#ed424c" stroke-width="1.6"/>
<rect x="368.7" y="1291.7" width="27.3" height="36.3" fill="#ec3741" stroke="#ec3741" stroke-width="1.6"/>
<rect x="396.0" y="1291.7" width="27.3" height="36.3" fill="#ed424c" stroke="#ed424c" stroke-width="1.6"/>
<rect x="150.5" y="1338.3" width="27.3" height="36.3" fill="#ea212c" stroke="#ea212c" stroke-width="1.6"/>
<rect x="177.8" y="1338.3" width="27.3" height="36.3" fill="#ea212c" stroke="#ea212c" stroke-width="1.6"/>
<rect x="205.1" y="1338.3" width="27.3" height="36.3" fill="#ea212c" stroke="#ea212c" stroke-width="1.6"/>
<rect x="232.3" y="1338.3" width="27.3" height="36.3" fill="#ea212c" stroke="#ea212c" stroke-width="1.6"/>
<rect x="259.6" y="1338.3" width="27.3" height="36.3" fill="#ea212c" stroke="#ea212c" stroke-width="1.6"/>
<rect x="286.9" y="1338.3" width="27.3" height="36.3" fill="#ea212c" stroke="#ea212c" stroke-width="1.6"/>
<rect x="314.2" y="1338.3" width="27.3" height="36.3" fill="#ea212c" stroke="#ea212c" stroke-width="1.6"/>
<rect x="341.5" y="1338.3" width="27.3" height="36.3" fill="#eb2c37" stroke="#eb2c37" stroke-width="1.6"/>
<rect x="368.7" y="1338.3" width="27.3" height="36.3" fill="#eb2c37" stroke="#eb2c37" stroke-width="1.6"/>
<rect x="396.0" y="1338.3" width="27.3" height="36.3" fill="#ed424c" stroke="#ed424c" stroke-width="1.6"/>
<rect x="150.5" y="1384.9" width="27.3" height="36.3" fill="#ec3741" stroke="#ec3741" stroke-width="1.6"/>
<rect x="177.8" y="1384.9" width="27.3" height="36.3" fill="#eb2c37" stroke="#eb2c37" stroke-width="1.6"/>
<rect x="205.1" y="1384.9" width="27.3" height="36.3" fill="#eb2c37" stroke="#eb2c37" stroke-width="1.6"/>
<rect x="232.3" y="1384.9" width="27.3" height="36.3" fill="#ea212c" stroke="#ea212c" stroke-width="1.6"/>
<rect x="259.6" y="1384.9" width="27.3" height="36.3" fill="#ea212c" stroke="#ea212c" stroke-width="1.6"/>
<rect x="286.9" y="1384.9" width="27.3" height="36.3" fill="#f7a6ab" stroke="#f7a6ab" stroke-width="1.6"/>
<rect x="314.2" y="1384.9" width="27.3" height="36.3" fill="#fcdedf"/>
<rect x="341.5" y="1384.9" width="27.3" height="36.3" fill="#fde9ea"/>
<rect x="368.7" y="1384.9" width="27.3" height="36.3" fill="#fde9ea"/>
<rect x="396.0" y="1384.9" width="27.3" height="36.3" fill="#fce4e6"/>
<rect x="150.5" y="1431.5" width="27.3" height="36.3" fill="#ed424c" stroke="#ed424c" stroke-width="1.6"/>
<rect x="177.8" y="1431.5" width="27.3" height="36.3" fill="#ec3741" stroke="#ec3741" stroke-width="1.6"/>
<rect x="205.1" y="1431.5" width="27.3" height="36.3" fill="#ed424c" stroke="#ed424c" stroke-width="1.6"/>
<rect x="232.3" y="1431.5" width="27.3" height="36.3" fill="#f49096" stroke="#f49096" stroke-width="1.6"/>
<rect x="259.6" y="1431.5" width="27.3" height="36.3" fill="#f8b1b5"/>
<rect x="286.9" y="1431.5" width="27.3" height="36.3" fill="#f8b1b5"/>
<rect x="314.2" y="1431.5" width="27.3" height="36.3" fill="#f9bcc0"/>
<rect x="341.5" y="1431.5" width="27.3" height="36.3" fill="#fcdedf"/>
<rect x="368.7" y="1431.5" width="27.3" height="36.3" fill="#fffdfd"/>
<rect x="396.0" y="1431.5" width="27.3" height="36.3" fill="#ffffff"/>
<rect x="150.5" y="1478.1" width="27.3" height="36.3" fill="#ea212c" stroke="#ea212c" stroke-width="1.6"/>
<rect x="177.8" y="1478.1" width="27.3" height="36.3" fill="#ea212c" stroke="#ea212c" stroke-width="1.6"/>
<rect x="205.1" y="1478.1" width="27.3" height="36.3" fill="#ea212c" stroke="#ea212c" stroke-width="1.6"/>
<rect x="232.3" y="1478.1" width="27.3" height="36.3" fill="#ee4d56" stroke="#ee4d56" stroke-width="1.6"/>
<rect x="259.6" y="1478.1" width="27.3" height="36.3" fill="#feeff0"/>
<rect x="286.9" y="1478.1" width="27.3" height="36.3" fill="#fef8f9"/>
<rect x="314.2" y="1478.1" width="27.3" height="36.3" fill="#fef8f9"/>
<rect x="341.5" y="1478.1" width="27.3" height="36.3" fill="#fef6f7"/>
<rect x="368.7" y="1478.1" width="27.3" height="36.3" fill="#fef8f9"/>
<rect x="396.0" y="1478.1" width="27.3" height="36.3" fill="#fef8f9"/>
<rect x="150.5" y="1524.7" width="27.3" height="36.3" fill="#ea212c" stroke="#ea212c" stroke-width="1.6"/>
<rect x="177.8" y="1524.7" width="27.3" height="36.3" fill="#ea212c" stroke="#ea212c" stroke-width="1.6"/>
<rect x="205.1" y="1524.7" width="27.3" height="36.3" fill="#ea212c" stroke="#ea212c" stroke-width="1.6"/>
<rect x="232.3" y="1524.7" width="27.3" height="36.3" fill="#ea212c" stroke="#ea212c" stroke-width="1.6"/>
<rect x="259.6" y="1524.7" width="27.3" height="36.3" fill="#eb2c37" stroke="#eb2c37" stroke-width="1.6"/>
<rect x="286.9" y="1524.7" width="27.3" height="36.3" fill="#fac8ca"/>
<rect x="314.2" y="1524.7" width="27.3" height="36.3" fill="#fbd3d5"/>
<rect x="341.5" y="1524.7" width="27.3" height="36.3" fill="#fcdedf"/>
<rect x="368.7" y="1524.7" width="27.3" height="36.3" fill="#fbd3d5"/>
<rect x="396.0" y="1524.7" width="27.3" height="36.3" fill="#fbd3d5"/>
<rect x="150.5" y="1571.3" width="27.3" height="36.3" fill="#ea212c" stroke="#ea212c" stroke-width="1.6"/>
<rect x="177.8" y="1571.3" width="27.3" height="36.3" fill="#ea212c" stroke="#ea212c" stroke-width="1.6"/>
<rect x="205.1" y="1571.3" width="27.3" height="36.3" fill="#ea212c" stroke="#ea212c" stroke-width="1.6"/>
<rect x="232.3" y="1571.3" width="27.3" height="36.3" fill="#ea212c" stroke="#ea212c" stroke-width="1.6"/>
<rect x="259.6" y="1571.3" width="27.3" height="36.3" fill="#ea212c" stroke="#ea212c" stroke-width="1.6"/>
<rect x="286.9" y="1571.3" width="27.3" height="36.3" fill="#ec3741" stroke="#ec3741" stroke-width="1.6"/>
<rect x="314.2" y="1571.3" width="27.3" height="36.3" fill="#ed424c" stroke="#ed424c" stroke-width="1.6"/>
<rect x="341.5" y="1571.3" width="27.3" height="36.3" fill="#f3858b" stroke="#f3858b" stroke-width="1.6"/>
<rect x="368.7" y="1571.3" width="27.3" height="36.3" fill="#f9c1c4"/>
<rect x="396.0" y="1571.3" width="27.3" height="36.3" fill="#fbd7d9"/>
<rect x="150.5" y="1617.9" width="27.3" height="36.3" fill="#ea212c" stroke="#ea212c" stroke-width="1.6"/>
<rect x="177.8" y="1617.9" width="27.3" height="36.3" fill="#ea212c" stroke="#ea212c" stroke-width="1.6"/>
<rect x="205.1" y="1617.9" width="27.3" height="36.3" fill="#ea212c" stroke="#ea212c" stroke-width="1.6"/>
<rect x="232.3" y="1617.9" width="27.3" height="36.3" fill="#ec3741" stroke="#ec3741" stroke-width="1.6"/>
<rect x="259.6" y="1617.9" width="27.3" height="36.3" fill="#f0646b" stroke="#f0646b" stroke-width="1.6"/>
<rect x="286.9" y="1617.9" width="27.3" height="36.3" fill="#f3858b" stroke="#f3858b" stroke-width="1.6"/>
<rect x="314.2" y="1617.9" width="27.3" height="36.3" fill="#f6a2a6" stroke="#f6a2a6" stroke-width="1.6"/>
<rect x="341.5" y="1617.9" width="27.3" height="36.3" fill="#f8b1b5"/>
<rect x="368.7" y="1617.9" width="27.3" height="36.3" fill="#f9bcc0"/>
<rect x="396.0" y="1617.9" width="27.3" height="36.3" fill="#fac8ca"/>
<path d="M150.5 1291.7H423.3M150.5 1328.0H423.3M177.8 1291.7v36.3M205.1 1291.7v36.3M232.3 1291.7v36.3M259.6 1291.7v36.3M286.9 1291.7v36.3M314.2 1291.7v36.3M341.5 1291.7v36.3M368.7 1291.7v36.3M396.0 1291.7v36.3M150.5 1338.3H423.3M150.5 1374.6H423.3M177.8 1338.3v36.3M205.1 1338.3v36.3M232.3 1338.3v36.3M259.6 1338.3v36.3M286.9 1338.3v36.3M314.2 1338.3v36.3M341.5 1338.3v36.3M368.7 1338.3v36.3M396.0 1338.3v36.3M150.5 1384.9H423.3M150.5 1421.2H423.3M177.8 1384.9v36.3M205.1 1384.9v36.3M232.3 1384.9v36.3M259.6 1384.9v36.3M286.9 1384.9v36.3M314.2 1384.9v36.3M341.5 1384.9v36.3M368.7 1384.9v36.3M396.0 1384.9v36.3M150.5 1431.5H423.3M150.5 1467.8H423.3M177.8 1431.5v36.3M205.1 1431.5v36.3M232.3 1431.5v36.3M259.6 1431.5v36.3M286.9 1431.5v36.3M314.2 1431.5v36.3M341.5 1431.5v36.3M368.7 1431.5v36.3M396.0 1431.5v36.3M150.5 1478.1H423.3M150.5 1514.4H423.3M177.8 1478.1v36.3M205.1 1478.1v36.3M232.3 1478.1v36.3M259.6 1478.1v36.3M286.9 1478.1v36.3M314.2 1478.1v36.3M341.5 1478.1v36.3M368.7 1478.1v36.3M396.0 1478.1v36.3M150.5 1524.7H423.3M150.5 1561.0H423.3M177.8 1524.7v36.3M205.1 1524.7v36.3M232.3 1524.7v36.3M259.6 1524.7v36.3M286.9 1524.7v36.3M314.2 1524.7v36.3M341.5 1524.7v36.3M368.7 1524.7v36.3M396.0 1524.7v36.3M150.5 1571.3H423.3M150.5 1607.6H423.3M177.8 1571.3v36.3M205.1 1571.3v36.3M232.3 1571.3v36.3M259.6 1571.3v36.3M286.9 1571.3v36.3M314.2 1571.3v36.3M341.5 1571.3v36.3M368.7 1571.3v36.3M396.0 1571.3v36.3M150.5 1617.9H423.3M150.5 1654.2H423.3M177.8 1617.9v36.3M205.1 1617.9v36.3M232.3 1617.9v36.3M259.6 1617.9v36.3M286.9 1617.9v36.3M314.2 1617.9v36.3M341.5 1617.9v36.3M368.7 1617.9v36.3M396.0 1617.9v36.3M150.5 1291.7V1654.2M423.3 1291.7V1654.2" stroke="#231f20" stroke-width="1.7" fill="none" stroke-linecap="square"/>
<rect x="441.9" y="1291.7" width="27.3" height="36.3" fill="#ec3741" stroke="#ec3741" stroke-width="1.6"/>
<rect x="469.2" y="1291.7" width="27.3" height="36.3" fill="#ea212c" stroke="#ea212c" stroke-width="1.6"/>
<rect x="496.6" y="1291.7" width="27.3" height="36.3" fill="#ea212c" stroke="#ea212c" stroke-width="1.6"/>
<rect x="523.9" y="1291.7" width="27.3" height="36.3" fill="#ea212c" stroke="#ea212c" stroke-width="1.6"/>
<rect x="551.2" y="1291.7" width="27.3" height="36.3" fill="#ed424c" stroke="#ed424c" stroke-width="1.6"/>
<rect x="578.5" y="1291.7" width="27.3" height="36.3" fill="#ec3741" stroke="#ec3741" stroke-width="1.6"/>
<rect x="605.9" y="1291.7" width="27.3" height="36.3" fill="#ec3741" stroke="#ec3741" stroke-width="1.6"/>
<rect x="633.2" y="1291.7" width="27.3" height="36.3" fill="#ec3741" stroke="#ec3741" stroke-width="1.6"/>
<rect x="660.5" y="1291.7" width="27.3" height="36.3" fill="#ed424c" stroke="#ed424c" stroke-width="1.6"/>
<rect x="687.9" y="1291.7" width="27.3" height="36.3" fill="#ed424c" stroke="#ed424c" stroke-width="1.6"/>
<rect x="441.9" y="1338.3" width="27.3" height="36.3" fill="#ec3741" stroke="#ec3741" stroke-width="1.6"/>
<rect x="469.2" y="1338.3" width="27.3" height="36.3" fill="#ea212c" stroke="#ea212c" stroke-width="1.6"/>
<rect x="496.6" y="1338.3" width="27.3" height="36.3" fill="#ec3741" stroke="#ec3741" stroke-width="1.6"/>
<rect x="523.9" y="1338.3" width="27.3" height="36.3" fill="#ec3741" stroke="#ec3741" stroke-width="1.6"/>
<rect x="551.2" y="1338.3" width="27.3" height="36.3" fill="#eb2c37" stroke="#eb2c37" stroke-width="1.6"/>
<rect x="578.5" y="1338.3" width="27.3" height="36.3" fill="#ed424c" stroke="#ed424c" stroke-width="1.6"/>
<rect x="605.9" y="1338.3" width="27.3" height="36.3" fill="#ed424c" stroke="#ed424c" stroke-width="1.6"/>
<rect x="633.2" y="1338.3" width="27.3" height="36.3" fill="#eb2c37" stroke="#eb2c37" stroke-width="1.6"/>
<rect x="660.5" y="1338.3" width="27.3" height="36.3" fill="#ed424c" stroke="#ed424c" stroke-width="1.6"/>
<rect x="687.9" y="1338.3" width="27.3" height="36.3" fill="#ec3741" stroke="#ec3741" stroke-width="1.6"/>
<rect x="441.9" y="1384.9" width="27.3" height="36.3" fill="#ea212c" stroke="#ea212c" stroke-width="1.6"/>
<rect x="469.2" y="1384.9" width="27.3" height="36.3" fill="#ea212c" stroke="#ea212c" stroke-width="1.6"/>
<rect x="496.6" y="1384.9" width="27.3" height="36.3" fill="#ea212c" stroke="#ea212c" stroke-width="1.6"/>
<rect x="523.9" y="1384.9" width="27.3" height="36.3" fill="#ea212c" stroke="#ea212c" stroke-width="1.6"/>
<rect x="551.2" y="1384.9" width="27.3" height="36.3" fill="#ea212c" stroke="#ea212c" stroke-width="1.6"/>
<rect x="578.5" y="1384.9" width="27.3" height="36.3" fill="#ec3741" stroke="#ec3741" stroke-width="1.6"/>
<rect x="605.9" y="1384.9" width="27.3" height="36.3" fill="#fef4f4"/>
<rect x="633.2" y="1384.9" width="27.3" height="36.3" fill="#fef6f7"/>
<rect x="660.5" y="1384.9" width="27.3" height="36.3" fill="#fef6f7"/>
<rect x="687.9" y="1384.9" width="27.3" height="36.3" fill="#fce4e6"/>
<rect x="441.9" y="1431.5" width="27.3" height="36.3" fill="#ea212c" stroke="#ea212c" stroke-width="1.6"/>
<rect x="469.2" y="1431.5" width="27.3" height="36.3" fill="#ec3741" stroke="#ec3741" stroke-width="1.6"/>
<rect x="496.6" y="1431.5" width="27.3" height="36.3" fill="#f16f76" stroke="#f16f76" stroke-width="1.6"/>
<rect x="523.9" y="1431.5" width="27.3" height="36.3" fill="#faccce"/>
<rect x="551.2" y="1431.5" width="27.3" height="36.3" fill="#fef2f2"/>
<rect x="578.5" y="1431.5" width="27.3" height="36.3" fill="#fffdfd"/>
<rect x="605.9" y="1431.5" width="27.3" height="36.3" fill="#fffdfd"/>
<rect x="633.2" y="1431.5" width="27.3" height="36.3" fill="#fef2f2"/>
<rect x="660.5" y="1431.5" width="27.3" height="36.3" fill="#fde9ea"/>
<rect x="687.9" y="1431.5" width="27.3" height="36.3" fill="#fde9ea"/>
<rect x="441.9" y="1478.1" width="27.3" height="36.3" fill="#eb2c37" stroke="#eb2c37" stroke-width="1.6"/>
<rect x="469.2" y="1478.1" width="27.3" height="36.3" fill="#ed424c" stroke="#ed424c" stroke-width="1.6"/>
<rect x="496.6" y="1478.1" width="27.3" height="36.3" fill="#ed424c" stroke="#ed424c" stroke-width="1.6"/>
<rect x="523.9" y="1478.1" width="27.3" height="36.3" fill="#ed424c" stroke="#ed424c" stroke-width="1.6"/>
<rect x="551.2" y="1478.1" width="27.3" height="36.3" fill="#faced1"/>
<rect x="578.5" y="1478.1" width="27.3" height="36.3" fill="#fdedee"/>
<rect x="605.9" y="1478.1" width="27.3" height="36.3" fill="#fdebec"/>
<rect x="633.2" y="1478.1" width="27.3" height="36.3" fill="#fde7e8"/>
<rect x="660.5" y="1478.1" width="27.3" height="36.3" fill="#fde7e8"/>
<rect x="687.9" y="1478.1" width="27.3" height="36.3" fill="#fce2e4"/>
<rect x="441.9" y="1524.7" width="27.3" height="36.3" fill="#ea212c" stroke="#ea212c" stroke-width="1.6"/>
<rect x="469.2" y="1524.7" width="27.3" height="36.3" fill="#ea212c" stroke="#ea212c" stroke-width="1.6"/>
<rect x="496.6" y="1524.7" width="27.3" height="36.3" fill="#eb2c37" stroke="#eb2c37" stroke-width="1.6"/>
<rect x="523.9" y="1524.7" width="27.3" height="36.3" fill="#eb2c37" stroke="#eb2c37" stroke-width="1.6"/>
<rect x="551.2" y="1524.7" width="27.3" height="36.3" fill="#eb2c37" stroke="#eb2c37" stroke-width="1.6"/>
<rect x="578.5" y="1524.7" width="27.3" height="36.3" fill="#faced1"/>
<rect x="605.9" y="1524.7" width="27.3" height="36.3" fill="#fac8ca"/>
<rect x="633.2" y="1524.7" width="27.3" height="36.3" fill="#faced1"/>
<rect x="660.5" y="1524.7" width="27.3" height="36.3" fill="#faced1"/>
<rect x="687.9" y="1524.7" width="27.3" height="36.3" fill="#f9c3c6"/>
<rect x="441.9" y="1571.3" width="27.3" height="36.3" fill="#eb2c37" stroke="#eb2c37" stroke-width="1.6"/>
<rect x="469.2" y="1571.3" width="27.3" height="36.3" fill="#ea212c" stroke="#ea212c" stroke-width="1.6"/>
<rect x="496.6" y="1571.3" width="27.3" height="36.3" fill="#ea212c" stroke="#ea212c" stroke-width="1.6"/>
<rect x="523.9" y="1571.3" width="27.3" height="36.3" fill="#eb2c37" stroke="#eb2c37" stroke-width="1.6"/>
<rect x="551.2" y="1571.3" width="27.3" height="36.3" fill="#ea212c" stroke="#ea212c" stroke-width="1.6"/>
<rect x="578.5" y="1571.3" width="27.3" height="36.3" fill="#ec3741" stroke="#ec3741" stroke-width="1.6"/>
<rect x="605.9" y="1571.3" width="27.3" height="36.3" fill="#f0646b" stroke="#f0646b" stroke-width="1.6"/>
<rect x="633.2" y="1571.3" width="27.3" height="36.3" fill="#f69ba0" stroke="#f69ba0" stroke-width="1.6"/>
<rect x="660.5" y="1571.3" width="27.3" height="36.3" fill="#fde9ea"/>
<rect x="687.9" y="1571.3" width="27.3" height="36.3" fill="#ffffff"/>
<rect x="441.9" y="1617.9" width="27.3" height="36.3" fill="#eb2c37" stroke="#eb2c37" stroke-width="1.6"/>
<rect x="469.2" y="1617.9" width="27.3" height="36.3" fill="#ea212c" stroke="#ea212c" stroke-width="1.6"/>
<rect x="496.6" y="1617.9" width="27.3" height="36.3" fill="#eb2c37" stroke="#eb2c37" stroke-width="1.6"/>
<rect x="523.9" y="1617.9" width="27.3" height="36.3" fill="#eb2c37" stroke="#eb2c37" stroke-width="1.6"/>
<rect x="551.2" y="1617.9" width="27.3" height="36.3" fill="#ee4d56" stroke="#ee4d56" stroke-width="1.6"/>
<rect x="578.5" y="1617.9" width="27.3" height="36.3" fill="#ef5861" stroke="#ef5861" stroke-width="1.6"/>
<rect x="605.9" y="1617.9" width="27.3" height="36.3" fill="#f69ba0" stroke="#f69ba0" stroke-width="1.6"/>
<rect x="633.2" y="1617.9" width="27.3" height="36.3" fill="#f8b8bb"/>
<rect x="660.5" y="1617.9" width="27.3" height="36.3" fill="#faced1"/>
<rect x="687.9" y="1617.9" width="27.3" height="36.3" fill="#fce4e6"/>
<path d="M441.9 1291.7H715.2M441.9 1328.0H715.2M469.2 1291.7v36.3M496.6 1291.7v36.3M523.9 1291.7v36.3M551.2 1291.7v36.3M578.5 1291.7v36.3M605.9 1291.7v36.3M633.2 1291.7v36.3M660.5 1291.7v36.3M687.9 1291.7v36.3M441.9 1338.3H715.2M441.9 1374.6H715.2M469.2 1338.3v36.3M496.6 1338.3v36.3M523.9 1338.3v36.3M551.2 1338.3v36.3M578.5 1338.3v36.3M605.9 1338.3v36.3M633.2 1338.3v36.3M660.5 1338.3v36.3M687.9 1338.3v36.3M441.9 1384.9H715.2M441.9 1421.2H715.2M469.2 1384.9v36.3M496.6 1384.9v36.3M523.9 1384.9v36.3M551.2 1384.9v36.3M578.5 1384.9v36.3M605.9 1384.9v36.3M633.2 1384.9v36.3M660.5 1384.9v36.3M687.9 1384.9v36.3M441.9 1431.5H715.2M441.9 1467.8H715.2M469.2 1431.5v36.3M496.6 1431.5v36.3M523.9 1431.5v36.3M551.2 1431.5v36.3M578.5 1431.5v36.3M605.9 1431.5v36.3M633.2 1431.5v36.3M660.5 1431.5v36.3M687.9 1431.5v36.3M441.9 1478.1H715.2M441.9 1514.4H715.2M469.2 1478.1v36.3M496.6 1478.1v36.3M523.9 1478.1v36.3M551.2 1478.1v36.3M578.5 1478.1v36.3M605.9 1478.1v36.3M633.2 1478.1v36.3M660.5 1478.1v36.3M687.9 1478.1v36.3M441.9 1524.7H715.2M441.9 1561.0H715.2M469.2 1524.7v36.3M496.6 1524.7v36.3M523.9 1524.7v36.3M551.2 1524.7v36.3M578.5 1524.7v36.3M605.9 1524.7v36.3M633.2 1524.7v36.3M660.5 1524.7v36.3M687.9 1524.7v36.3M441.9 1571.3H715.2M441.9 1607.6H715.2M469.2 1571.3v36.3M496.6 1571.3v36.3M523.9 1571.3v36.3M551.2 1571.3v36.3M578.5 1571.3v36.3M605.9 1571.3v36.3M633.2 1571.3v36.3M660.5 1571.3v36.3M687.9 1571.3v36.3M441.9 1617.9H715.2M441.9 1654.2H715.2M469.2 1617.9v36.3M496.6 1617.9v36.3M523.9 1617.9v36.3M551.2 1617.9v36.3M578.5 1617.9v36.3M605.9 1617.9v36.3M633.2 1617.9v36.3M660.5 1617.9v36.3M687.9 1617.9v36.3M441.9 1291.7V1654.2M715.2 1291.7V1654.2" stroke="#231f20" stroke-width="1.7" fill="none" stroke-linecap="square"/>
<rect x="731.0" y="1291.7" width="27.3" height="36.3" fill="#fffdfd"/>
<rect x="758.3" y="1291.7" width="27.3" height="36.3" fill="#fffdfd"/>
<rect x="785.7" y="1291.7" width="27.3" height="36.3" fill="#fffdfd"/>
<rect x="813.0" y="1291.7" width="27.3" height="36.3" fill="#fffdfd"/>
<rect x="840.3" y="1291.7" width="27.3" height="36.3" fill="#fffdfd"/>
<rect x="867.6" y="1291.7" width="27.3" height="36.3" fill="#fffdfd"/>
<rect x="895.0" y="1291.7" width="27.3" height="36.3" fill="#fffdfd"/>
<rect x="922.3" y="1291.7" width="27.3" height="36.3" fill="#fffdfd"/>
<rect x="949.6" y="1291.7" width="27.3" height="36.3" fill="#fffdfd"/>
<rect x="977.0" y="1291.7" width="27.3" height="36.3" fill="#fffdfd"/>
<rect x="731.0" y="1338.3" width="27.3" height="36.3" fill="#ffffff"/>
<rect x="758.3" y="1338.3" width="27.3" height="36.3" fill="#fef8f9"/>
<rect x="785.7" y="1338.3" width="27.3" height="36.3" fill="#ffffff"/>
<rect x="813.0" y="1338.3" width="27.3" height="36.3" fill="#fffdfd"/>
<rect x="840.3" y="1338.3" width="27.3" height="36.3" fill="#fffdfd"/>
<rect x="867.6" y="1338.3" width="27.3" height="36.3" fill="#ffffff"/>
<rect x="895.0" y="1338.3" width="27.3" height="36.3" fill="#fffbfb"/>
<rect x="922.3" y="1338.3" width="27.3" height="36.3" fill="#fffdfd"/>
<rect x="949.6" y="1338.3" width="27.3" height="36.3" fill="#fffdfd"/>
<rect x="977.0" y="1338.3" width="27.3" height="36.3" fill="#fffdfd"/>
<rect x="731.0" y="1384.9" width="27.3" height="36.3" fill="#fef6f7"/>
<rect x="758.3" y="1384.9" width="27.3" height="36.3" fill="#fffdfd"/>
<rect x="785.7" y="1384.9" width="27.3" height="36.3" fill="#fffdfd"/>
<rect x="813.0" y="1384.9" width="27.3" height="36.3" fill="#fffdfd"/>
<rect x="840.3" y="1384.9" width="27.3" height="36.3" fill="#fef2f2"/>
<rect x="867.6" y="1384.9" width="27.3" height="36.3" fill="#f0646b" stroke="#f0646b" stroke-width="1.6"/>
<rect x="895.0" y="1384.9" width="27.3" height="36.3" fill="#f0646b" stroke="#f0646b" stroke-width="1.6"/>
<rect x="922.3" y="1384.9" width="27.3" height="36.3" fill="#ea212c" stroke="#ea212c" stroke-width="1.6"/>
<rect x="949.6" y="1384.9" width="27.3" height="36.3" fill="#ea212c" stroke="#ea212c" stroke-width="1.6"/>
<rect x="977.0" y="1384.9" width="27.3" height="36.3" fill="#ef5861" stroke="#ef5861" stroke-width="1.6"/>
<rect x="731.0" y="1431.5" width="27.3" height="36.3" fill="#fffdfd"/>
<rect x="758.3" y="1431.5" width="27.3" height="36.3" fill="#fffdfd"/>
<rect x="785.7" y="1431.5" width="27.3" height="36.3" fill="#fffdfd"/>
<rect x="813.0" y="1431.5" width="27.3" height="36.3" fill="#fffdfd"/>
<rect x="840.3" y="1431.5" width="27.3" height="36.3" fill="#fce4e6"/>
<rect x="867.6" y="1431.5" width="27.3" height="36.3" fill="#f9bcc0"/>
<rect x="895.0" y="1431.5" width="27.3" height="36.3" fill="#f49096" stroke="#f49096" stroke-width="1.6"/>
<rect x="922.3" y="1431.5" width="27.3" height="36.3" fill="#f16f76" stroke="#f16f76" stroke-width="1.6"/>
<rect x="949.6" y="1431.5" width="27.3" height="36.3" fill="#ea212c" stroke="#ea212c" stroke-width="1.6"/>
<rect x="977.0" y="1431.5" width="27.3" height="36.3" fill="#ea212c" stroke="#ea212c" stroke-width="1.6"/>
<rect x="731.0" y="1478.1" width="27.3" height="36.3" fill="#fffdfd"/>
<rect x="758.3" y="1478.1" width="27.3" height="36.3" fill="#ffffff"/>
<rect x="785.7" y="1478.1" width="27.3" height="36.3" fill="#ffffff"/>
<rect x="813.0" y="1478.1" width="27.3" height="36.3" fill="#faccce"/>
<rect x="840.3" y="1478.1" width="27.3" height="36.3" fill="#ec3741" stroke="#ec3741" stroke-width="1.6"/>
<rect x="867.6" y="1478.1" width="27.3" height="36.3" fill="#ec3741" stroke="#ec3741" stroke-width="1.6"/>
<rect x="895.0" y="1478.1" width="27.3" height="36.3" fill="#ec3741" stroke="#ec3741" stroke-width="1.6"/>
<rect x="922.3" y="1478.1" width="27.3" height="36.3" fill="#ec3741" stroke="#ec3741" stroke-width="1.6"/>
<rect x="949.6" y="1478.1" width="27.3" height="36.3" fill="#ec3741" stroke="#ec3741" stroke-width="1.6"/>
<rect x="977.0" y="1478.1" width="27.3" height="36.3" fill="#eb2c37" stroke="#eb2c37" stroke-width="1.6"/>
<rect x="731.0" y="1524.7" width="27.3" height="36.3" fill="#fffdfd"/>
<rect x="758.3" y="1524.7" width="27.3" height="36.3" fill="#fffdfd"/>
<rect x="785.7" y="1524.7" width="27.3" height="36.3" fill="#ffffff"/>
<rect x="813.0" y="1524.7" width="27.3" height="36.3" fill="#fffdfd"/>
<rect x="840.3" y="1524.7" width="27.3" height="36.3" fill="#ffffff"/>
<rect x="867.6" y="1524.7" width="27.3" height="36.3" fill="#fac8ca"/>
<rect x="895.0" y="1524.7" width="27.3" height="36.3" fill="#f49096" stroke="#f49096" stroke-width="1.6"/>
<rect x="922.3" y="1524.7" width="27.3" height="36.3" fill="#f69ba0" stroke="#f69ba0" stroke-width="1.6"/>
<rect x="949.6" y="1524.7" width="27.3" height="36.3" fill="#f27a80" stroke="#f27a80" stroke-width="1.6"/>
<rect x="977.0" y="1524.7" width="27.3" height="36.3" fill="#f49096" stroke="#f49096" stroke-width="1.6"/>
<rect x="731.0" y="1571.3" width="27.3" height="36.3" fill="#fffdfd"/>
<rect x="758.3" y="1571.3" width="27.3" height="36.3" fill="#fffdfd"/>
<rect x="785.7" y="1571.3" width="27.3" height="36.3" fill="#ffffff"/>
<rect x="813.0" y="1571.3" width="27.3" height="36.3" fill="#fffdfd"/>
<rect x="840.3" y="1571.3" width="27.3" height="36.3" fill="#fffdfd"/>
<rect x="867.6" y="1571.3" width="27.3" height="36.3" fill="#ffffff"/>
<rect x="895.0" y="1571.3" width="27.3" height="36.3" fill="#fffdfd"/>
<rect x="922.3" y="1571.3" width="27.3" height="36.3" fill="#fffdfd"/>
<rect x="949.6" y="1571.3" width="27.3" height="36.3" fill="#fffdfd"/>
<rect x="977.0" y="1571.3" width="27.3" height="36.3" fill="#fdedee"/>
<rect x="731.0" y="1617.9" width="27.3" height="36.3" fill="#fffdfd"/>
<rect x="758.3" y="1617.9" width="27.3" height="36.3" fill="#fffdfd"/>
<rect x="785.7" y="1617.9" width="27.3" height="36.3" fill="#fef2f2"/>
<rect x="813.0" y="1617.9" width="27.3" height="36.3" fill="#ffffff"/>
<rect x="840.3" y="1617.9" width="27.3" height="36.3" fill="#fffdfd"/>
<rect x="867.6" y="1617.9" width="27.3" height="36.3" fill="#fef8f9"/>
<rect x="895.0" y="1617.9" width="27.3" height="36.3" fill="#fef8f9"/>
<rect x="922.3" y="1617.9" width="27.3" height="36.3" fill="#fef6f7"/>
<rect x="949.6" y="1617.9" width="27.3" height="36.3" fill="#fffbfb"/>
<rect x="977.0" y="1617.9" width="27.3" height="36.3" fill="#fffbfb"/>
<path d="M731.0 1291.7H1004.3M731.0 1328.0H1004.3M758.3 1291.7v36.3M785.7 1291.7v36.3M813.0 1291.7v36.3M840.3 1291.7v36.3M867.6 1291.7v36.3M895.0 1291.7v36.3M922.3 1291.7v36.3M949.6 1291.7v36.3M977.0 1291.7v36.3M731.0 1338.3H1004.3M731.0 1374.6H1004.3M758.3 1338.3v36.3M785.7 1338.3v36.3M813.0 1338.3v36.3M840.3 1338.3v36.3M867.6 1338.3v36.3M895.0 1338.3v36.3M922.3 1338.3v36.3M949.6 1338.3v36.3M977.0 1338.3v36.3M731.0 1384.9H1004.3M731.0 1421.2H1004.3M758.3 1384.9v36.3M785.7 1384.9v36.3M813.0 1384.9v36.3M840.3 1384.9v36.3M867.6 1384.9v36.3M895.0 1384.9v36.3M922.3 1384.9v36.3M949.6 1384.9v36.3M977.0 1384.9v36.3M731.0 1431.5H1004.3M731.0 1467.8H1004.3M758.3 1431.5v36.3M785.7 1431.5v36.3M813.0 1431.5v36.3M840.3 1431.5v36.3M867.6 1431.5v36.3M895.0 1431.5v36.3M922.3 1431.5v36.3M949.6 1431.5v36.3M977.0 1431.5v36.3M731.0 1478.1H1004.3M731.0 1514.4H1004.3M758.3 1478.1v36.3M785.7 1478.1v36.3M813.0 1478.1v36.3M840.3 1478.1v36.3M867.6 1478.1v36.3M895.0 1478.1v36.3M922.3 1478.1v36.3M949.6 1478.1v36.3M977.0 1478.1v36.3M731.0 1524.7H1004.3M731.0 1561.0H1004.3M758.3 1524.7v36.3M785.7 1524.7v36.3M813.0 1524.7v36.3M840.3 1524.7v36.3M867.6 1524.7v36.3M895.0 1524.7v36.3M922.3 1524.7v36.3M949.6 1524.7v36.3M977.0 1524.7v36.3M731.0 1571.3H1004.3M731.0 1607.6H1004.3M758.3 1571.3v36.3M785.7 1571.3v36.3M813.0 1571.3v36.3M840.3 1571.3v36.3M867.6 1571.3v36.3M895.0 1571.3v36.3M922.3 1571.3v36.3M949.6 1571.3v36.3M977.0 1571.3v36.3M731.0 1617.9H1004.3M731.0 1654.2H1004.3M758.3 1617.9v36.3M785.7 1617.9v36.3M813.0 1617.9v36.3M840.3 1617.9v36.3M867.6 1617.9v36.3M895.0 1617.9v36.3M922.3 1617.9v36.3M949.6 1617.9v36.3M977.0 1617.9v36.3M731.0 1291.7V1654.2M1004.3 1291.7V1654.2" stroke="#231f20" stroke-width="1.7" fill="none" stroke-linecap="square"/>
<rect x="1021.8" y="1291.7" width="26.4" height="36.3" fill="#ffffff"/>
<rect x="1048.2" y="1291.7" width="26.4" height="36.3" fill="#fef8f9"/>
<rect x="1074.7" y="1291.7" width="26.4" height="36.3" fill="#fffdfd"/>
<rect x="1101.1" y="1291.7" width="26.4" height="36.3" fill="#fffdfd"/>
<rect x="1127.6" y="1291.7" width="26.4" height="36.3" fill="#fffdfd"/>
<rect x="1154.0" y="1291.7" width="26.4" height="36.3" fill="#fffdfd"/>
<rect x="1180.5" y="1291.7" width="26.4" height="36.3" fill="#ffffff"/>
<rect x="1207.0" y="1291.7" width="26.4" height="36.3" fill="#ffffff"/>
<rect x="1233.4" y="1291.7" width="26.4" height="36.3" fill="#fffdfd"/>
<rect x="1259.8" y="1291.7" width="26.4" height="36.3" fill="#fffdfd"/>
<rect x="1021.8" y="1338.3" width="26.4" height="36.3" fill="#ffffff"/>
<rect x="1048.2" y="1338.3" width="26.4" height="36.3" fill="#ffffff"/>
<rect x="1074.7" y="1338.3" width="26.4" height="36.3" fill="#ffffff"/>
<rect x="1101.1" y="1338.3" width="26.4" height="36.3" fill="#fffdfd"/>
<rect x="1127.6" y="1338.3" width="26.4" height="36.3" fill="#fffdfd"/>
<rect x="1154.0" y="1338.3" width="26.4" height="36.3" fill="#ffffff"/>
<rect x="1180.5" y="1338.3" width="26.4" height="36.3" fill="#ffffff"/>
<rect x="1207.0" y="1338.3" width="26.4" height="36.3" fill="#fffdfd"/>
<rect x="1233.4" y="1338.3" width="26.4" height="36.3" fill="#ffffff"/>
<rect x="1259.8" y="1338.3" width="26.4" height="36.3" fill="#fffdfd"/>
<rect x="1021.8" y="1384.9" width="26.4" height="36.3" fill="#fffdfd"/>
<rect x="1048.2" y="1384.9" width="26.4" height="36.3" fill="#fffdfd"/>
<rect x="1074.7" y="1384.9" width="26.4" height="36.3" fill="#fffdfd"/>
<rect x="1101.1" y="1384.9" width="26.4" height="36.3" fill="#fffdfd"/>
<rect x="1127.6" y="1384.9" width="26.4" height="36.3" fill="#fffbfb"/>
<rect x="1154.0" y="1384.9" width="26.4" height="36.3" fill="#f0646b" stroke="#f0646b" stroke-width="1.6"/>
<rect x="1180.5" y="1384.9" width="26.4" height="36.3" fill="#f16f76" stroke="#f16f76" stroke-width="1.6"/>
<rect x="1207.0" y="1384.9" width="26.4" height="36.3" fill="#eb2c37" stroke="#eb2c37" stroke-width="1.6"/>
<rect x="1233.4" y="1384.9" width="26.4" height="36.3" fill="#ea212c" stroke="#ea212c" stroke-width="1.6"/>
<rect x="1259.8" y="1384.9" width="26.4" height="36.3" fill="#f0646b" stroke="#f0646b" stroke-width="1.6"/>
<rect x="1021.8" y="1431.5" width="26.4" height="36.3" fill="#fffdfd"/>
<rect x="1048.2" y="1431.5" width="26.4" height="36.3" fill="#fffdfd"/>
<rect x="1074.7" y="1431.5" width="26.4" height="36.3" fill="#fffdfd"/>
<rect x="1101.1" y="1431.5" width="26.4" height="36.3" fill="#fffdfd"/>
<rect x="1127.6" y="1431.5" width="26.4" height="36.3" fill="#fce2e4"/>
<rect x="1154.0" y="1431.5" width="26.4" height="36.3" fill="#fac8ca"/>
<rect x="1180.5" y="1431.5" width="26.4" height="36.3" fill="#f7a6ab" stroke="#f7a6ab" stroke-width="1.6"/>
<rect x="1207.0" y="1431.5" width="26.4" height="36.3" fill="#f27a80" stroke="#f27a80" stroke-width="1.6"/>
<rect x="1233.4" y="1431.5" width="26.4" height="36.3" fill="#ea212c" stroke="#ea212c" stroke-width="1.6"/>
<rect x="1259.8" y="1431.5" width="26.4" height="36.3" fill="#ea212c" stroke="#ea212c" stroke-width="1.6"/>
<rect x="1021.8" y="1478.1" width="26.4" height="36.3" fill="#ffffff"/>
<rect x="1048.2" y="1478.1" width="26.4" height="36.3" fill="#fffdfd"/>
<rect x="1074.7" y="1478.1" width="26.4" height="36.3" fill="#fffdfd"/>
<rect x="1101.1" y="1478.1" width="26.4" height="36.3" fill="#fbd3d5"/>
<rect x="1127.6" y="1478.1" width="26.4" height="36.3" fill="#ec3741" stroke="#ec3741" stroke-width="1.6"/>
<rect x="1154.0" y="1478.1" width="26.4" height="36.3" fill="#ed424c" stroke="#ed424c" stroke-width="1.6"/>
<rect x="1180.5" y="1478.1" width="26.4" height="36.3" fill="#ed424c" stroke="#ed424c" stroke-width="1.6"/>
<rect x="1207.0" y="1478.1" width="26.4" height="36.3" fill="#ec3741" stroke="#ec3741" stroke-width="1.6"/>
<rect x="1233.4" y="1478.1" width="26.4" height="36.3" fill="#eb2c37" stroke="#eb2c37" stroke-width="1.6"/>
<rect x="1259.8" y="1478.1" width="26.4" height="36.3" fill="#ea212c" stroke="#ea212c" stroke-width="1.6"/>
<rect x="1021.8" y="1524.7" width="26.4" height="36.3" fill="#fffdfd"/>
<rect x="1048.2" y="1524.7" width="26.4" height="36.3" fill="#ffffff"/>
<rect x="1074.7" y="1524.7" width="26.4" height="36.3" fill="#ffffff"/>
<rect x="1101.1" y="1524.7" width="26.4" height="36.3" fill="#ffffff"/>
<rect x="1127.6" y="1524.7" width="26.4" height="36.3" fill="#fffdfd"/>
<rect x="1154.0" y="1524.7" width="26.4" height="36.3" fill="#fac8ca"/>
<rect x="1180.5" y="1524.7" width="26.4" height="36.3" fill="#f69ba0" stroke="#f69ba0" stroke-width="1.6"/>
<rect x="1207.0" y="1524.7" width="26.4" height="36.3" fill="#f69ba0" stroke="#f69ba0" stroke-width="1.6"/>
<rect x="1233.4" y="1524.7" width="26.4" height="36.3" fill="#f3858b" stroke="#f3858b" stroke-width="1.6"/>
<rect x="1259.8" y="1524.7" width="26.4" height="36.3" fill="#f49096" stroke="#f49096" stroke-width="1.6"/>
<rect x="1021.8" y="1571.3" width="26.4" height="36.3" fill="#ffffff"/>
<rect x="1048.2" y="1571.3" width="26.4" height="36.3" fill="#fffdfd"/>
<rect x="1074.7" y="1571.3" width="26.4" height="36.3" fill="#fffdfd"/>
<rect x="1101.1" y="1571.3" width="26.4" height="36.3" fill="#fffdfd"/>
<rect x="1127.6" y="1571.3" width="26.4" height="36.3" fill="#fffdfd"/>
<rect x="1154.0" y="1571.3" width="26.4" height="36.3" fill="#fffdfd"/>
<rect x="1180.5" y="1571.3" width="26.4" height="36.3" fill="#fffdfd"/>
<rect x="1207.0" y="1571.3" width="26.4" height="36.3" fill="#fffdfd"/>
<rect x="1233.4" y="1571.3" width="26.4" height="36.3" fill="#fffdfd"/>
<rect x="1259.8" y="1571.3" width="26.4" height="36.3" fill="#fffdfd"/>
<rect x="1021.8" y="1617.9" width="26.4" height="36.3" fill="#fffdfd"/>
<rect x="1048.2" y="1617.9" width="26.4" height="36.3" fill="#ffffff"/>
<rect x="1074.7" y="1617.9" width="26.4" height="36.3" fill="#ffffff"/>
<rect x="1101.1" y="1617.9" width="26.4" height="36.3" fill="#ffffff"/>
<rect x="1127.6" y="1617.9" width="26.4" height="36.3" fill="#fffdfd"/>
<rect x="1154.0" y="1617.9" width="26.4" height="36.3" fill="#ffffff"/>
<rect x="1180.5" y="1617.9" width="26.4" height="36.3" fill="#fffdfd"/>
<rect x="1207.0" y="1617.9" width="26.4" height="36.3" fill="#fef8f9"/>
<rect x="1233.4" y="1617.9" width="26.4" height="36.3" fill="#fffdfd"/>
<rect x="1259.8" y="1617.9" width="26.4" height="36.3" fill="#fffdfd"/>
<path d="M1021.8 1291.7H1286.3M1021.8 1328.0H1286.3M1048.2 1291.7v36.3M1074.7 1291.7v36.3M1101.1 1291.7v36.3M1127.6 1291.7v36.3M1154.0 1291.7v36.3M1180.5 1291.7v36.3M1207.0 1291.7v36.3M1233.4 1291.7v36.3M1259.8 1291.7v36.3M1021.8 1338.3H1286.3M1021.8 1374.6H1286.3M1048.2 1338.3v36.3M1074.7 1338.3v36.3M1101.1 1338.3v36.3M1127.6 1338.3v36.3M1154.0 1338.3v36.3M1180.5 1338.3v36.3M1207.0 1338.3v36.3M1233.4 1338.3v36.3M1259.8 1338.3v36.3M1021.8 1384.9H1286.3M1021.8 1421.2H1286.3M1048.2 1384.9v36.3M1074.7 1384.9v36.3M1101.1 1384.9v36.3M1127.6 1384.9v36.3M1154.0 1384.9v36.3M1180.5 1384.9v36.3M1207.0 1384.9v36.3M1233.4 1384.9v36.3M1259.8 1384.9v36.3M1021.8 1431.5H1286.3M1021.8 1467.8H1286.3M1048.2 1431.5v36.3M1074.7 1431.5v36.3M1101.1 1431.5v36.3M1127.6 1431.5v36.3M1154.0 1431.5v36.3M1180.5 1431.5v36.3M1207.0 1431.5v36.3M1233.4 1431.5v36.3M1259.8 1431.5v36.3M1021.8 1478.1H1286.3M1021.8 1514.4H1286.3M1048.2 1478.1v36.3M1074.7 1478.1v36.3M1101.1 1478.1v36.3M1127.6 1478.1v36.3M1154.0 1478.1v36.3M1180.5 1478.1v36.3M1207.0 1478.1v36.3M1233.4 1478.1v36.3M1259.8 1478.1v36.3M1021.8 1524.7H1286.3M1021.8 1561.0H1286.3M1048.2 1524.7v36.3M1074.7 1524.7v36.3M1101.1 1524.7v36.3M1127.6 1524.7v36.3M1154.0 1524.7v36.3M1180.5 1524.7v36.3M1207.0 1524.7v36.3M1233.4 1524.7v36.3M1259.8 1524.7v36.3M1021.8 1571.3H1286.3M1021.8 1607.6H1286.3M1048.2 1571.3v36.3M1074.7 1571.3v36.3M1101.1 1571.3v36.3M1127.6 1571.3v36.3M1154.0 1571.3v36.3M1180.5 1571.3v36.3M1207.0 1571.3v36.3M1233.4 1571.3v36.3M1259.8 1571.3v36.3M1021.8 1617.9H1286.3M1021.8 1654.2H1286.3M1048.2 1617.9v36.3M1074.7 1617.9v36.3M1101.1 1617.9v36.3M1127.6 1617.9v36.3M1154.0 1617.9v36.3M1180.5 1617.9v36.3M1207.0 1617.9v36.3M1233.4 1617.9v36.3M1259.8 1617.9v36.3M1021.8 1291.7V1654.2M1286.3 1291.7V1654.2" stroke="#231f20" stroke-width="1.7" fill="none" stroke-linecap="square"/>
<rect x="1302.8" y="1291.7" width="27.2" height="36.3" fill="#fdedee"/>
<rect x="1330.0" y="1291.7" width="27.2" height="36.3" fill="#fef2f2"/>
<rect x="1357.3" y="1291.7" width="27.2" height="36.3" fill="#fef2f2"/>
<rect x="1384.5" y="1291.7" width="27.2" height="36.3" fill="#fef4f4"/>
<rect x="1411.8" y="1291.7" width="27.2" height="36.3" fill="#fef2f2"/>
<rect x="1439.0" y="1291.7" width="27.2" height="36.3" fill="#fce2e4"/>
<rect x="1466.2" y="1291.7" width="27.2" height="36.3" fill="#fbd7d9"/>
<rect x="1493.5" y="1291.7" width="27.2" height="36.3" fill="#fbd7d9"/>
<rect x="1520.7" y="1291.7" width="27.2" height="36.3" fill="#fce4e6"/>
<rect x="1548.0" y="1291.7" width="27.2" height="36.3" fill="#fdedee"/>
<rect x="1302.8" y="1338.3" width="27.2" height="36.3" fill="#fef2f2"/>
<rect x="1330.0" y="1338.3" width="27.2" height="36.3" fill="#fef6f7"/>
<rect x="1357.3" y="1338.3" width="27.2" height="36.3" fill="#feeff0"/>
<rect x="1384.5" y="1338.3" width="27.2" height="36.3" fill="#fef2f2"/>
<rect x="1411.8" y="1338.3" width="27.2" height="36.3" fill="#fef4f4"/>
<rect x="1439.0" y="1338.3" width="27.2" height="36.3" fill="#fffbfb"/>
<rect x="1466.2" y="1338.3" width="27.2" height="36.3" fill="#fdedee"/>
<rect x="1493.5" y="1338.3" width="27.2" height="36.3" fill="#fde9ea"/>
<rect x="1520.7" y="1338.3" width="27.2" height="36.3" fill="#fde9ea"/>
<rect x="1548.0" y="1338.3" width="27.2" height="36.3" fill="#fde7e8"/>
<rect x="1302.8" y="1384.9" width="27.2" height="36.3" fill="#fdedee"/>
<rect x="1330.0" y="1384.9" width="27.2" height="36.3" fill="#fde9ea"/>
<rect x="1357.3" y="1384.9" width="27.2" height="36.3" fill="#fdebec"/>
<rect x="1384.5" y="1384.9" width="27.2" height="36.3" fill="#fef2f2"/>
<rect x="1411.8" y="1384.9" width="27.2" height="36.3" fill="#fef2f2"/>
<rect x="1439.0" y="1384.9" width="27.2" height="36.3" fill="#f49096" stroke="#f49096" stroke-width="1.6"/>
<rect x="1466.2" y="1384.9" width="27.2" height="36.3" fill="#f3858b" stroke="#f3858b" stroke-width="1.6"/>
<rect x="1493.5" y="1384.9" width="27.2" height="36.3" fill="#f7a6ab" stroke="#f7a6ab" stroke-width="1.6"/>
<rect x="1520.7" y="1384.9" width="27.2" height="36.3" fill="#f69ba0" stroke="#f69ba0" stroke-width="1.6"/>
<rect x="1548.0" y="1384.9" width="27.2" height="36.3" fill="#f69ba0" stroke="#f69ba0" stroke-width="1.6"/>
<rect x="1302.8" y="1431.5" width="27.2" height="36.3" fill="#fef2f2"/>
<rect x="1330.0" y="1431.5" width="27.2" height="36.3" fill="#fef6f7"/>
<rect x="1357.3" y="1431.5" width="27.2" height="36.3" fill="#fce4e6"/>
<rect x="1384.5" y="1431.5" width="27.2" height="36.3" fill="#f49096" stroke="#f49096" stroke-width="1.6"/>
<rect x="1411.8" y="1431.5" width="27.2" height="36.3" fill="#ea212c" stroke="#ea212c" stroke-width="1.6"/>
<rect x="1439.0" y="1431.5" width="27.2" height="36.3" fill="#ea212c" stroke="#ea212c" stroke-width="1.6"/>
<rect x="1466.2" y="1431.5" width="27.2" height="36.3" fill="#ed424c" stroke="#ed424c" stroke-width="1.6"/>
<rect x="1493.5" y="1431.5" width="27.2" height="36.3" fill="#ef5861" stroke="#ef5861" stroke-width="1.6"/>
<rect x="1520.7" y="1431.5" width="27.2" height="36.3" fill="#f3858b" stroke="#f3858b" stroke-width="1.6"/>
<rect x="1548.0" y="1431.5" width="27.2" height="36.3" fill="#f69ba0" stroke="#f69ba0" stroke-width="1.6"/>
<rect x="1302.8" y="1478.1" width="27.2" height="36.3" fill="#fef2f2"/>
<rect x="1330.0" y="1478.1" width="27.2" height="36.3" fill="#fef6f7"/>
<rect x="1357.3" y="1478.1" width="27.2" height="36.3" fill="#fef4f4"/>
<rect x="1384.5" y="1478.1" width="27.2" height="36.3" fill="#fbd7d9"/>
<rect x="1411.8" y="1478.1" width="27.2" height="36.3" fill="#ec3741" stroke="#ec3741" stroke-width="1.6"/>
<rect x="1439.0" y="1478.1" width="27.2" height="36.3" fill="#ec3741" stroke="#ec3741" stroke-width="1.6"/>
<rect x="1466.2" y="1478.1" width="27.2" height="36.3" fill="#ec3741" stroke="#ec3741" stroke-width="1.6"/>
<rect x="1493.5" y="1478.1" width="27.2" height="36.3" fill="#ed424c" stroke="#ed424c" stroke-width="1.6"/>
<rect x="1520.7" y="1478.1" width="27.2" height="36.3" fill="#ec3741" stroke="#ec3741" stroke-width="1.6"/>
<rect x="1548.0" y="1478.1" width="27.2" height="36.3" fill="#ef5861" stroke="#ef5861" stroke-width="1.6"/>
<rect x="1302.8" y="1524.7" width="27.2" height="36.3" fill="#fef2f2"/>
<rect x="1330.0" y="1524.7" width="27.2" height="36.3" fill="#fef4f4"/>
<rect x="1357.3" y="1524.7" width="27.2" height="36.3" fill="#fef4f4"/>
<rect x="1384.5" y="1524.7" width="27.2" height="36.3" fill="#fef4f4"/>
<rect x="1411.8" y="1524.7" width="27.2" height="36.3" fill="#fbd7d9"/>
<rect x="1439.0" y="1524.7" width="27.2" height="36.3" fill="#eb2c37" stroke="#eb2c37" stroke-width="1.6"/>
<rect x="1466.2" y="1524.7" width="27.2" height="36.3" fill="#eb2c37" stroke="#eb2c37" stroke-width="1.6"/>
<rect x="1493.5" y="1524.7" width="27.2" height="36.3" fill="#ea212c" stroke="#ea212c" stroke-width="1.6"/>
<rect x="1520.7" y="1524.7" width="27.2" height="36.3" fill="#eb2c37" stroke="#eb2c37" stroke-width="1.6"/>
<rect x="1548.0" y="1524.7" width="27.2" height="36.3" fill="#eb2c37" stroke="#eb2c37" stroke-width="1.6"/>
<rect x="1302.8" y="1571.3" width="27.2" height="36.3" fill="#feeff0"/>
<rect x="1330.0" y="1571.3" width="27.2" height="36.3" fill="#fef6f7"/>
<rect x="1357.3" y="1571.3" width="27.2" height="36.3" fill="#fef6f7"/>
<rect x="1384.5" y="1571.3" width="27.2" height="36.3" fill="#fef6f7"/>
<rect x="1411.8" y="1571.3" width="27.2" height="36.3" fill="#fef6f7"/>
<rect x="1439.0" y="1571.3" width="27.2" height="36.3" fill="#fef6f7"/>
<rect x="1466.2" y="1571.3" width="27.2" height="36.3" fill="#fef6f7"/>
<rect x="1493.5" y="1571.3" width="27.2" height="36.3" fill="#fce2e4"/>
<rect x="1520.7" y="1571.3" width="27.2" height="36.3" fill="#f8b1b5"/>
<rect x="1548.0" y="1571.3" width="27.2" height="36.3" fill="#ee4d56" stroke="#ee4d56" stroke-width="1.6"/>
<rect x="1302.8" y="1617.9" width="27.2" height="36.3" fill="#fffdfd"/>
<rect x="1330.0" y="1617.9" width="27.2" height="36.3" fill="#fef4f4"/>
<rect x="1357.3" y="1617.9" width="27.2" height="36.3" fill="#fef4f4"/>
<rect x="1384.5" y="1617.9" width="27.2" height="36.3" fill="#fef4f4"/>
<rect x="1411.8" y="1617.9" width="27.2" height="36.3" fill="#fef4f4"/>
<rect x="1439.0" y="1617.9" width="27.2" height="36.3" fill="#fef6f7"/>
<rect x="1466.2" y="1617.9" width="27.2" height="36.3" fill="#fef6f7"/>
<rect x="1493.5" y="1617.9" width="27.2" height="36.3" fill="#fef6f7"/>
<rect x="1520.7" y="1617.9" width="27.2" height="36.3" fill="#fef4f4"/>
<rect x="1548.0" y="1617.9" width="27.2" height="36.3" fill="#ffffff"/>
<path d="M1302.8 1291.7H1575.2M1302.8 1328.0H1575.2M1330.0 1291.7v36.3M1357.3 1291.7v36.3M1384.5 1291.7v36.3M1411.8 1291.7v36.3M1439.0 1291.7v36.3M1466.2 1291.7v36.3M1493.5 1291.7v36.3M1520.7 1291.7v36.3M1548.0 1291.7v36.3M1302.8 1338.3H1575.2M1302.8 1374.6H1575.2M1330.0 1338.3v36.3M1357.3 1338.3v36.3M1384.5 1338.3v36.3M1411.8 1338.3v36.3M1439.0 1338.3v36.3M1466.2 1338.3v36.3M1493.5 1338.3v36.3M1520.7 1338.3v36.3M1548.0 1338.3v36.3M1302.8 1384.9H1575.2M1302.8 1421.2H1575.2M1330.0 1384.9v36.3M1357.3 1384.9v36.3M1384.5 1384.9v36.3M1411.8 1384.9v36.3M1439.0 1384.9v36.3M1466.2 1384.9v36.3M1493.5 1384.9v36.3M1520.7 1384.9v36.3M1548.0 1384.9v36.3M1302.8 1431.5H1575.2M1302.8 1467.8H1575.2M1330.0 1431.5v36.3M1357.3 1431.5v36.3M1384.5 1431.5v36.3M1411.8 1431.5v36.3M1439.0 1431.5v36.3M1466.2 1431.5v36.3M1493.5 1431.5v36.3M1520.7 1431.5v36.3M1548.0 1431.5v36.3M1302.8 1478.1H1575.2M1302.8 1514.4H1575.2M1330.0 1478.1v36.3M1357.3 1478.1v36.3M1384.5 1478.1v36.3M1411.8 1478.1v36.3M1439.0 1478.1v36.3M1466.2 1478.1v36.3M1493.5 1478.1v36.3M1520.7 1478.1v36.3M1548.0 1478.1v36.3M1302.8 1524.7H1575.2M1302.8 1561.0H1575.2M1330.0 1524.7v36.3M1357.3 1524.7v36.3M1384.5 1524.7v36.3M1411.8 1524.7v36.3M1439.0 1524.7v36.3M1466.2 1524.7v36.3M1493.5 1524.7v36.3M1520.7 1524.7v36.3M1548.0 1524.7v36.3M1302.8 1571.3H1575.2M1302.8 1607.6H1575.2M1330.0 1571.3v36.3M1357.3 1571.3v36.3M1384.5 1571.3v36.3M1411.8 1571.3v36.3M1439.0 1571.3v36.3M1466.2 1571.3v36.3M1493.5 1571.3v36.3M1520.7 1571.3v36.3M1548.0 1571.3v36.3M1302.8 1617.9H1575.2M1302.8 1654.2H1575.2M1330.0 1617.9v36.3M1357.3 1617.9v36.3M1384.5 1617.9v36.3M1411.8 1617.9v36.3M1439.0 1617.9v36.3M1466.2 1617.9v36.3M1493.5 1617.9v36.3M1520.7 1617.9v36.3M1548.0 1617.9v36.3M1302.8 1291.7V1654.2M1575.2 1291.7V1654.2" stroke="#231f20" stroke-width="1.7" fill="none" stroke-linecap="square"/>
<text transform="translate(172.0 1276.0) rotate(-90) scale(0.949 1)" font-size="23">DMSO</text>
<path d="M162.3 1278.3L422.0 1254.9V1278.3Z" fill="#231f20"/>
<text transform="translate(297.6 1203.0) scale(1.072 1)" font-size="23.5" text-anchor="middle">Cell growth</text>
<text transform="translate(297.2 1243.5) scale(1.052 1)" font-size="23.5" text-anchor="middle">Concentration</text>
<text transform="translate(465.0 1276.0) rotate(-90) scale(0.949 1)" font-size="23">DMSO</text>
<path d="M455.3 1279.0L715.4 1256.2V1279.0Z" fill="#231f20"/>
<text transform="translate(581.7 1203.0) scale(0.993 1)" font-size="23.5" text-anchor="middle">DNA synthesis</text>
<text transform="translate(589.8 1244.8) scale(1.052 1)" font-size="23.5" text-anchor="middle">Concentration</text>
<text transform="translate(755.0 1276.0) rotate(-90) scale(0.949 1)" font-size="23">DMSO</text>
<path d="M743.2 1279.3L1003.7 1256.2V1279.3Z" fill="#231f20"/>
<text transform="translate(872.6 1204.3) scale(1.037 1)" font-size="23.5" text-anchor="middle">Apoptosis</text>
<text transform="translate(879.0 1244.8) scale(1.052 1)" font-size="23.5" text-anchor="middle">Concentration</text>
<text transform="translate(1038.5 1276.0) rotate(-90) scale(0.949 1)" font-size="23">DMSO</text>
<path d="M1028.2 1276.8L1287.4 1254.0V1276.8Z" fill="#231f20"/>
<text transform="translate(1155.5 1200.9)" font-size="23.5" text-anchor="middle">DNA damage</text>
<text transform="translate(1163.0 1242.2) scale(1.052 1)" font-size="23.5" text-anchor="middle">Concentration</text>
<text transform="translate(1324.8 1276.0) rotate(-90) scale(0.949 1)" font-size="23">DMSO</text>
<path d="M1315.1 1279.4L1573.9 1257.2V1279.4Z" fill="#231f20"/>
<text transform="translate(1438.1 1203.9) scale(1.027 1)" font-size="23.5" text-anchor="middle">Cell arrest</text>
<text transform="translate(1449.8 1244.9) scale(1.052 1)" font-size="23.5" text-anchor="middle">Concentration</text>
<text transform="translate(135.5 1316.8) scale(1.042 1)" font-size="22" text-anchor="end">AM-0277</text>
<text transform="translate(135.5 1364.8) scale(1.014 1)" font-size="22" text-anchor="end">AM-1882</text>
<text transform="translate(135.5 1411.4) scale(1.044 1)" font-size="22" text-anchor="end">BI-2536</text>
<text transform="translate(135.5 1460.3) scale(1.083 1)" font-size="22" text-anchor="end">Paclitaxel</text>
<text transform="translate(135.5 1505.1) scale(1.077 1)" font-size="22" text-anchor="end">Ispinesib</text>
<text transform="translate(135.5 1552.5) scale(1.045 1)" font-size="22" text-anchor="end">GSK923295</text>
<text transform="translate(135.5 1599.9) scale(1.094 1)" font-size="22" text-anchor="end">Nutlin 3a</text>
<text transform="translate(135.5 1643.2) scale(1.116 1)" font-size="22" text-anchor="end">Palbociclib</text>
<text transform="translate(1590.9 1319.5) scale(0.954 1)" font-size="22">KIF18A</text>
<text transform="translate(1590.9 1364.9) scale(0.954 1)" font-size="22">KIF18A</text>
<text transform="translate(1590.9 1409.7) scale(0.899 1)" font-size="22">PLK-1</text>
<text transform="translate(1590.9 1460.1) scale(1.095 1)" font-size="22">Tubulin</text>
<text transform="translate(1590.9 1504.6) scale(0.965 1)" font-size="22">EG5</text>
<text transform="translate(1590.9 1547.9) scale(0.950 1)" font-size="22">CENP-E</text>
<text transform="translate(1590.9 1599.1) scale(1.019 1)" font-size="22">MDM2</text>
<text transform="translate(1590.9 1646.0) scale(1.022 1)" font-size="22">CDK4–CDK6</text>
<rect x="151.1" y="1682" width="272.1" height="29" fill="url(#rg)" stroke="#231f20" stroke-width="1.1"/>
<line x1="190.9" y1="1682.0" x2="190.9" y2="1687.0" stroke="#231f20" stroke-width="1.1"/>
<line x1="190.9" y1="1706.0" x2="190.9" y2="1711.0" stroke="#231f20" stroke-width="1.1"/>
<text transform="translate(190.9 1739.4) scale(1.059 1)" font-size="20" text-anchor="middle">2,000</text>
<line x1="254.1" y1="1682.0" x2="254.1" y2="1687.0" stroke="#231f20" stroke-width="1.1"/>
<line x1="254.1" y1="1706.0" x2="254.1" y2="1711.0" stroke="#231f20" stroke-width="1.1"/>
<text transform="translate(254.1 1739.4) scale(1.059 1)" font-size="20" text-anchor="middle">4,000</text>
<line x1="316.9" y1="1682.0" x2="316.9" y2="1687.0" stroke="#231f20" stroke-width="1.1"/>
<line x1="316.9" y1="1706.0" x2="316.9" y2="1711.0" stroke="#231f20" stroke-width="1.1"/>
<text transform="translate(316.9 1739.4) scale(1.059 1)" font-size="20" text-anchor="middle">6,000</text>
<line x1="379.6" y1="1682.0" x2="379.6" y2="1687.0" stroke="#231f20" stroke-width="1.1"/>
<line x1="379.6" y1="1706.0" x2="379.6" y2="1711.0" stroke="#231f20" stroke-width="1.1"/>
<text transform="translate(379.6 1739.4) scale(1.059 1)" font-size="20" text-anchor="middle">8,000</text>
<text transform="translate(286.9 1774.5) scale(1.020 1)" font-size="24" text-anchor="middle">Nuclear count</text>
<rect x="442.9" y="1682" width="271.6" height="29" fill="url(#rg)" stroke="#231f20" stroke-width="1.1"/>
<line x1="503.7" y1="1682.0" x2="503.7" y2="1687.0" stroke="#231f20" stroke-width="1.1"/>
<line x1="503.7" y1="1706.0" x2="503.7" y2="1711.0" stroke="#231f20" stroke-width="1.1"/>
<text transform="translate(503.7 1739.4) scale(1.097 1)" font-size="20" text-anchor="middle">5</text>
<line x1="566.5" y1="1682.0" x2="566.5" y2="1687.0" stroke="#231f20" stroke-width="1.1"/>
<line x1="566.5" y1="1706.0" x2="566.5" y2="1711.0" stroke="#231f20" stroke-width="1.1"/>
<text transform="translate(566.5 1739.4) scale(1.097 1)" font-size="20" text-anchor="middle">10</text>
<line x1="629.3" y1="1682.0" x2="629.3" y2="1687.0" stroke="#231f20" stroke-width="1.1"/>
<line x1="629.3" y1="1706.0" x2="629.3" y2="1711.0" stroke="#231f20" stroke-width="1.1"/>
<text transform="translate(629.3 1739.4) scale(1.097 1)" font-size="20" text-anchor="middle">15</text>
<line x1="692.0" y1="1682.0" x2="692.0" y2="1687.0" stroke="#231f20" stroke-width="1.1"/>
<line x1="692.0" y1="1706.0" x2="692.0" y2="1711.0" stroke="#231f20" stroke-width="1.1"/>
<text transform="translate(692.0 1739.4) scale(1.097 1)" font-size="20" text-anchor="middle">20</text>
<text transform="translate(578.7 1774.5) scale(0.878 1)" font-size="24" text-anchor="middle">BrdU<tspan dy="-9.5" font-size="66%">+</tspan><tspan dy="9.5"> (%)</tspan></text>
<rect x="732.1" y="1682" width="271.9" height="29" fill="url(#rg)" stroke="#231f20" stroke-width="1.1"/>
<line x1="770.1" y1="1682.0" x2="770.1" y2="1687.0" stroke="#231f20" stroke-width="1.1"/>
<line x1="770.1" y1="1706.0" x2="770.1" y2="1711.0" stroke="#231f20" stroke-width="1.1"/>
<text transform="translate(770.1 1739.4) scale(1.097 1)" font-size="20" text-anchor="middle">5</text>
<line x1="812.2" y1="1682.0" x2="812.2" y2="1687.0" stroke="#231f20" stroke-width="1.1"/>
<line x1="812.2" y1="1706.0" x2="812.2" y2="1711.0" stroke="#231f20" stroke-width="1.1"/>
<text transform="translate(812.2 1739.4) scale(1.097 1)" font-size="20" text-anchor="middle">10</text>
<line x1="854.4" y1="1682.0" x2="854.4" y2="1687.0" stroke="#231f20" stroke-width="1.1"/>
<line x1="854.4" y1="1706.0" x2="854.4" y2="1711.0" stroke="#231f20" stroke-width="1.1"/>
<text transform="translate(854.4 1739.4) scale(1.097 1)" font-size="20" text-anchor="middle">15</text>
<line x1="896.5" y1="1682.0" x2="896.5" y2="1687.0" stroke="#231f20" stroke-width="1.1"/>
<line x1="896.5" y1="1706.0" x2="896.5" y2="1711.0" stroke="#231f20" stroke-width="1.1"/>
<text transform="translate(896.5 1739.4) scale(1.097 1)" font-size="20" text-anchor="middle">20</text>
<line x1="938.7" y1="1682.0" x2="938.7" y2="1687.0" stroke="#231f20" stroke-width="1.1"/>
<line x1="938.7" y1="1706.0" x2="938.7" y2="1711.0" stroke="#231f20" stroke-width="1.1"/>
<text transform="translate(938.7 1739.4) scale(1.097 1)" font-size="20" text-anchor="middle">25</text>
<line x1="980.9" y1="1682.0" x2="980.9" y2="1687.0" stroke="#231f20" stroke-width="1.1"/>
<line x1="980.9" y1="1706.0" x2="980.9" y2="1711.0" stroke="#231f20" stroke-width="1.1"/>
<text transform="translate(980.9 1739.4) scale(1.097 1)" font-size="20" text-anchor="middle">30</text>
<text transform="translate(867.0 1774.5) scale(0.874 1)" font-size="24" text-anchor="middle">cl-PARP<tspan dy="-9.5" font-size="66%">+</tspan><tspan dy="9.5"> (%)</tspan></text>
<rect x="1021.4" y="1682" width="264.6" height="29" fill="url(#rg)" stroke="#231f20" stroke-width="1.1"/>
<line x1="1073.6" y1="1682.0" x2="1073.6" y2="1687.0" stroke="#231f20" stroke-width="1.1"/>
<line x1="1073.6" y1="1706.0" x2="1073.6" y2="1711.0" stroke="#231f20" stroke-width="1.1"/>
<text transform="translate(1073.6 1739.4) scale(1.097 1)" font-size="20" text-anchor="middle">5</text>
<line x1="1125.8" y1="1682.0" x2="1125.8" y2="1687.0" stroke="#231f20" stroke-width="1.1"/>
<line x1="1125.8" y1="1706.0" x2="1125.8" y2="1711.0" stroke="#231f20" stroke-width="1.1"/>
<text transform="translate(1125.8 1739.4) scale(1.097 1)" font-size="20" text-anchor="middle">10</text>
<line x1="1177.4" y1="1682.0" x2="1177.4" y2="1687.0" stroke="#231f20" stroke-width="1.1"/>
<line x1="1177.4" y1="1706.0" x2="1177.4" y2="1711.0" stroke="#231f20" stroke-width="1.1"/>
<text transform="translate(1177.4 1739.4) scale(1.097 1)" font-size="20" text-anchor="middle">15</text>
<line x1="1229.0" y1="1682.0" x2="1229.0" y2="1687.0" stroke="#231f20" stroke-width="1.1"/>
<line x1="1229.0" y1="1706.0" x2="1229.0" y2="1711.0" stroke="#231f20" stroke-width="1.1"/>
<text transform="translate(1229.0 1739.4) scale(1.097 1)" font-size="20" text-anchor="middle">20</text>
<line x1="1281.2" y1="1682.0" x2="1281.2" y2="1687.0" stroke="#231f20" stroke-width="1.1"/>
<line x1="1281.2" y1="1706.0" x2="1281.2" y2="1711.0" stroke="#231f20" stroke-width="1.1"/>
<text transform="translate(1281.2 1739.4) scale(1.097 1)" font-size="20" text-anchor="middle">25</text>
<text transform="translate(1153.7 1774.5) scale(0.897 1)" font-size="24" text-anchor="middle">γH2AX<tspan dy="-9.5" font-size="66%">+</tspan><tspan dy="9.5"> (%)</tspan></text>
<rect x="1302.3" y="1682" width="274.0" height="29" fill="url(#rg)" stroke="#231f20" stroke-width="1.1"/>
<line x1="1347.1" y1="1682.0" x2="1347.1" y2="1687.0" stroke="#231f20" stroke-width="1.1"/>
<line x1="1347.1" y1="1706.0" x2="1347.1" y2="1711.0" stroke="#231f20" stroke-width="1.1"/>
<text transform="translate(1347.1 1739.4) scale(1.097 1)" font-size="20" text-anchor="middle">5</text>
<line x1="1394.5" y1="1682.0" x2="1394.5" y2="1687.0" stroke="#231f20" stroke-width="1.1"/>
<line x1="1394.5" y1="1706.0" x2="1394.5" y2="1711.0" stroke="#231f20" stroke-width="1.1"/>
<text transform="translate(1394.5 1739.4) scale(1.097 1)" font-size="20" text-anchor="middle">10</text>
<line x1="1441.9" y1="1682.0" x2="1441.9" y2="1687.0" stroke="#231f20" stroke-width="1.1"/>
<line x1="1441.9" y1="1706.0" x2="1441.9" y2="1711.0" stroke="#231f20" stroke-width="1.1"/>
<text transform="translate(1441.9 1739.4) scale(1.097 1)" font-size="20" text-anchor="middle">15</text>
<line x1="1489.3" y1="1682.0" x2="1489.3" y2="1687.0" stroke="#231f20" stroke-width="1.1"/>
<line x1="1489.3" y1="1706.0" x2="1489.3" y2="1711.0" stroke="#231f20" stroke-width="1.1"/>
<text transform="translate(1489.3 1739.4) scale(1.097 1)" font-size="20" text-anchor="middle">20</text>
<line x1="1536.8" y1="1682.0" x2="1536.8" y2="1687.0" stroke="#231f20" stroke-width="1.1"/>
<line x1="1536.8" y1="1706.0" x2="1536.8" y2="1711.0" stroke="#231f20" stroke-width="1.1"/>
<text transform="translate(1536.8 1739.4) scale(1.097 1)" font-size="20" text-anchor="middle">25</text>
<text transform="translate(1439.3 1774.5) scale(0.836 1)" font-size="24" text-anchor="middle">p21<tspan dy="-9.5" font-size="66%">+</tspan><tspan dy="9.5"> (%)</tspan></text>
<defs><radialGradient id="gl"><stop offset="0" stop-color="#58bd6a" stop-opacity="0.95"/><stop offset="0.25" stop-color="#2f8f42" stop-opacity="0.85"/><stop offset="0.55" stop-color="#1c6a2c" stop-opacity="0.6"/><stop offset="0.8" stop-color="#0f401a" stop-opacity="0.3"/><stop offset="1" stop-color="#0a2a10" stop-opacity="0"/></radialGradient><radialGradient id="gc"><stop offset="0" stop-color="#f0fbf1" stop-opacity="0.95"/><stop offset="0.3" stop-color="#c4ecca" stop-opacity="0.7"/><stop offset="0.6" stop-color="#8fd89c" stop-opacity="0.3"/><stop offset="1" stop-color="#6fcf80" stop-opacity="0"/></radialGradient></defs>
<text transform="translate(0.0 1841.2) scale(1.150 1)" font-size="36" font-weight="bold" stroke="#231f20" stroke-width="1.8">d</text>
<text transform="translate(236.0 1856.7) scale(1.050 1)" font-size="28.5" text-anchor="middle">hiPSC-derived</text>
<text transform="translate(236.0 1892.0) scale(1.064 1)" font-size="28.5" text-anchor="middle">sensory neurospheres</text>
<clipPath id="cp0"><rect x="81.9" y="1939.6" width="151.0" height="149.4"/></clipPath>
<rect x="81.9" y="1939.6" width="151.0" height="149.4" fill="#040604"/>
<g clip-path="url(#cp0)">
<circle cx="158.9" cy="2015.9" r="56.2" fill="url(#gl)" opacity="0.85"/>
<path d="M168.9 2028.9C173.7 2043.4 169.3 2059.2 161.1 2071.3M139.0 2021.5C124.0 2024.6 109.5 2009.8 98.5 2007.3M157.0 2007.0C159.3 1992.7 160.6 1980.0 174.3 1972.2M153.4 2013.4C145.5 2009.5 142.7 2000.0 138.0 1995.4M172.6 2010.1C187.8 2009.8 201.5 2013.1 211.5 2025.5M161.2 2008.8C170.8 1990.2 182.2 1975.0 198.2 1967.4M158.8 2027.2C155.6 2036.3 143.8 2040.8 135.1 2042.9M148.8 2029.3C143.1 2038.0 142.7 2048.6 140.1 2055.9M160.2 2012.0C162.6 1991.0 166.6 1972.5 155.8 1956.4M141.1 2022.1C134.5 2020.1 128.9 2016.4 125.2 2009.4M150.9 2011.2C144.7 2004.5 145.8 1993.3 147.5 1985.3M157.7 2011.2C152.5 1989.6 168.7 1969.9 172.0 1953.9M174.1 2006.8C187.7 2002.7 201.7 2005.3 212.9 2009.8M141.1 2004.9C135.9 1995.3 136.4 1983.2 141.3 1972.4M168.1 2011.9C176.8 2012.2 184.6 2014.6 190.0 2022.8M152.6 2030.3C148.7 2037.8 156.9 2047.6 154.1 2053.7M158.3 2002.4C162.7 1984.1 182.1 1973.2 198.6 1967.9M161.6 2023.3C167.6 2033.1 171.2 2042.8 180.0 2047.5M157.3 2031.5C151.9 2049.8 145.3 2065.7 133.5 2076.4M150.1 2027.1C140.6 2045.2 134.8 2062.8 136.3 2079.7M174.3 2007.3C182.4 2004.0 193.0 2016.8 199.4 2017.9M142.7 2004.8C136.7 1992.6 133.0 1981.1 139.7 1966.9M179.7 2013.1C183.2 2018.2 185.2 2024.1 184.0 2032.7M162.4 2004.0C168.7 1986.1 158.4 1967.7 162.2 1953.8M156.7 2010.8C151.0 1988.5 155.2 1967.1 164.4 1950.3M158.6 1994.9C161.9 1986.2 162.0 1978.2 169.3 1972.8M163.2 2028.5C162.3 2043.2 154.8 2056.0 141.0 2063.4M151.1 2000.0C144.4 1990.3 138.3 1981.8 130.8 1976.3M152.9 2022.5C140.4 2042.2 128.4 2059.1 128.0 2078.8M156.9 2024.3C150.0 2043.1 138.4 2057.5 126.5 2067.7M159.2 2022.4C157.1 2037.0 152.0 2049.5 142.4 2057.8M180.4 2014.8C186.8 2015.2 189.8 2029.3 194.1 2031.3M142.7 2019.3C137.1 2018.6 132.7 2009.8 129.5 2006.3M174.3 2023.1C184.2 2030.2 191.7 2038.3 196.2 2047.0M161.9 1998.1C162.3 1982.2 152.6 1968.3 146.9 1957.5M159.0 1998.5C160.8 1993.6 163.9 1989.5 167.5 1986.6M159.2 2011.0C158.8 1995.3 148.5 1983.0 141.8 1973.1M153.0 2033.8C152.9 2040.3 154.2 2046.2 156.8 2051.2M144.4 2014.0C138.2 2006.9 132.3 2002.9 134.8 1989.9M156.1 2019.6C139.5 2034.5 118.8 2040.1 99.4 2037.2M155.0 2009.5C144.0 1997.3 139.0 1983.0 125.6 1977.9M167.8 1999.2C171.7 1990.4 162.7 1978.9 163.1 1971.8M176.6 2011.6C186.0 2012.2 194.4 2014.9 201.0 2020.1M150.8 1996.7C143.1 1986.2 136.4 1976.8 126.5 1972.0M162.3 2024.6C168.3 2046.6 161.8 2068.4 156.6 2085.2M165.3 2033.5C168.3 2048.5 148.6 2062.3 143.1 2072.4M165.9 2009.7C176.4 2005.8 182.4 1997.2 194.0 2001.1M159.4 2022.4C160.1 2038.7 150.9 2052.4 147.4 2064.0M163.9 2004.7C171.8 1989.6 188.2 1982.3 197.5 1973.8M148.3 1999.5C146.1 1985.9 144.5 1973.9 152.9 1962.2M160.3 2021.5C158.3 2043.2 156.2 2062.3 134.2 2073.1M151.9 2020.7C141.1 2025.5 128.3 2014.0 120.1 2009.8M156.6 2007.2C156.1 1999.2 159.8 1991.9 163.1 1986.3M146.0 2021.0C138.6 2022.9 130.9 2018.7 125.2 2017.8M157.0 2037.2C154.6 2046.9 168.0 2055.0 165.6 2062.9M168.0 2014.0C177.1 2009.4 185.4 2005.9 189.7 1997.7M156.9 1997.7C156.2 1989.5 146.2 1984.5 145.1 1978.5M144.3 2014.5C131.3 2018.5 119.6 2016.4 111.8 2029.1M158.7 2001.8C163.8 1986.1 180.3 1976.6 195.7 1972.9M152.5 1999.1C147.1 1984.1 132.5 1975.5 127.2 1964.9M154.7 2007.4C149.8 1989.2 150.1 1971.7 156.9 1957.0M154.0 2011.4C147.5 1999.0 143.8 1986.8 151.7 1973.5M155.0 2028.8C142.8 2044.9 129.3 2057.2 107.7 2056.6M159.9 2008.1C162.3 1998.9 168.9 1992.2 174.1 1986.9M151.8 2007.3C140.9 1988.1 153.1 1963.4 160.0 1946.9M165.3 2035.2C162.8 2043.3 168.5 2048.7 160.4 2055.5M157.3 2005.5C152.4 1996.3 151.4 1987.2 141.4 1983.1M164.0 2012.0C189.5 2002.4 210.7 1990.9 235.6 2005.3M162.5 2011.9C183.0 1991.7 216.1 1998.2 236.9 1994.0M156.9 2010.4C149.3 1994.9 136.8 1984.4 125.9 1976.8M168.2 2008.2C188.5 1991.6 216.2 1992.8 233.7 1984.7M151.6 2027.8C146.1 2035.9 150.4 2047.3 146.6 2053.6M157.9 2008.3C156.1 1987.1 167.8 1968.7 172.4 1953.7M170.5 2027.9C175.6 2034.8 170.9 2046.4 171.8 2052.7M160.4 2031.7C154.6 2047.1 151.6 2060.8 133.1 2066.8M156.7 2019.6C148.7 2030.0 140.1 2038.2 130.6 2042.4M155.5 2000.3C155.7 1992.7 157.7 1985.9 160.9 1980.4M143.2 2013.7C122.8 2008.4 119.4 1976.6 110.6 1963.6M164.8 1996.7C176.8 1985.6 189.0 1977.5 208.5 1982.1M154.4 2008.1C146.1 1996.9 138.0 1987.4 128.8 1981.6M168.8 2014.8C176.2 2017.0 182.8 2016.6 187.2 2023.5M160.3 1997.3C158.3 1992.5 158.3 1988.3 154.0 1985.2M174.7 2026.5C182.8 2033.5 195.8 2028.7 201.8 2034.8M138.8 2007.9C127.1 2003.7 114.5 2007.2 105.4 2005.7M156.2 2011.1C150.6 1981.9 149.3 1955.3 175.2 1934.4M164.7 2016.1C183.4 2020.3 198.4 2030.2 207.6 2043.7M164.1 2004.6C171.9 1992.9 190.1 1992.6 200.5 1989.7M155.0 2017.8C141.7 2026.6 133.2 2038.9 128.8 2051.1M144.7 2003.0C138.3 1999.0 128.7 2001.7 123.0 2001.2M153.2 2022.5C134.4 2035.1 122.8 2052.2 100.3 2050.0M164.8 2007.3C174.2 2000.0 185.0 1996.6 196.3 1999.0M154.9 2009.3C152.9 1996.9 152.9 1985.5 163.6 1976.2M141.3 2003.7C127.4 2001.0 116.8 1995.3 103.8 2002.6M146.7 2011.6C137.9 2006.1 139.6 1990.0 138.4 1981.8M177.3 2019.5C185.7 2023.1 191.7 2030.1 196.3 2035.9M177.4 2010.5C184.7 2012.4 191.1 2015.4 195.6 2022.2M158.2 2008.0C153.8 1989.6 152.5 1972.7 142.3 1960.8M144.4 2009.1C130.8 2000.2 135.2 1975.7 132.2 1963.8M160.8 2007.9C161.6 1991.9 165.7 1978.0 159.6 1965.7M151.3 2029.4C140.6 2037.8 124.8 2037.2 111.9 2032.7M173.1 2001.0C183.5 1993.1 202.7 2004.5 212.6 2004.8M163.5 2009.0C168.5 1995.6 171.0 1983.0 166.3 1971.1M162.9 2020.3C174.9 2043.5 177.7 2067.8 165.3 2089.9M163.2 2014.2C190.1 2000.9 210.9 1983.3 225.5 1965.6M172.8 2012.4C183.6 2008.1 192.5 2002.2 199.2 1996.1M163.1 2008.3C169.2 1995.9 163.6 1981.4 164.2 1971.3M164.5 2010.2C171.3 2003.7 181.4 2003.4 187.6 2000.1M175.7 2016.1C185.2 2011.8 193.8 2009.3 198.2 1999.0M158.6 2007.9C161.1 1992.2 164.5 1978.5 174.1 1968.9M158.3 2011.7C156.0 1991.0 178.4 1976.7 185.7 1963.1M171.4 2004.3C176.9 1992.5 184.6 1984.4 181.1 1971.3M149.0 2014.5C138.1 2013.7 128.4 2017.4 120.5 2019.2M154.8 2018.6C136.6 2026.0 118.8 2028.8 102.6 2021.5M167.2 2018.0C195.5 2024.8 222.4 2021.1 243.8 2022.2M154.2 1998.1C152.3 1980.2 161.4 1963.7 167.4 1951.1M155.2 2007.9C144.5 1995.8 139.4 1982.2 123.4 1979.8M156.7 2032.7C153.2 2045.5 145.4 2055.7 138.8 2063.6M162.8 2006.7C177.6 1983.0 208.3 1977.3 230.7 1973.9M166.4 1996.5C169.2 1985.2 164.6 1973.6 163.4 1964.9M174.5 2015.3C186.3 2019.5 195.2 2028.3 199.5 2040.0M152.4 2005.4C148.4 1995.7 158.1 1983.9 160.7 1976.3M152.1 2017.3C132.2 2026.6 114.7 2035.3 107.3 2054.2M160.0 2020.8C162.1 2034.0 157.4 2046.1 155.5 2055.8M172.0 2013.3C196.4 2008.9 218.0 2028.2 236.1 2031.1M163.5 2020.0C171.9 2023.9 177.0 2030.7 186.4 2028.3M163.1 2031.9C173.1 2050.9 179.8 2068.7 196.7 2077.7M166.8 2021.0C174.9 2029.7 183.3 2035.8 184.9 2046.5M142.6 2016.4C122.4 2015.4 109.2 2038.5 93.5 2039.2M160.3 2005.5C166.9 1987.5 185.2 1977.5 201.1 1972.4" stroke="#36a34c" stroke-width="0.7" fill="none" opacity="0.6"/>
<path d="M166.8 2035.3C169.7 2046.2 185.4 2048.7 187.3 2057.6M161.1 2019.4C168.7 2027.4 173.8 2035.9 183.4 2038.2M171.9 2008.0C184.3 2009.3 194.2 2008.0 202.6 2022.9M139.3 2017.9C125.4 2011.2 112.9 2008.8 108.2 1990.0M160.4 2001.7C161.7 1989.8 175.1 1982.6 178.0 1974.2M155.0 2002.0C155.8 1995.5 156.9 1989.9 161.5 1985.5M171.2 2021.4C190.6 2031.9 194.4 2058.1 202.9 2072.1M153.9 2014.0C146.6 2008.3 139.4 2004.7 137.9 1995.7M158.4 2010.1C156.7 1989.8 137.1 1977.2 131.2 1963.2M167.7 2024.7C169.2 2032.2 172.8 2037.3 167.4 2045.3M178.3 2014.3C184.8 2018.1 190.6 2015.7 194.5 2024.1M159.6 2011.6C166.9 1998.7 172.6 1987.0 190.1 1986.7M175.4 2024.6C183.9 2033.4 180.8 2050.9 179.3 2061.6M156.2 2005.3C159.5 1981.0 167.0 1960.2 193.5 1950.5M174.0 2018.3C180.7 2015.2 186.7 2015.6 190.4 2007.4M159.5 2008.9C162.3 1994.6 172.6 1984.2 180.1 1976.0M167.5 2017.0C182.4 2024.7 196.6 2028.7 200.7 2046.8M148.5 2003.9C141.9 1991.1 142.5 1976.3 145.3 1964.3M150.5 2026.1C143.5 2034.6 127.5 2029.5 120.5 2033.8M168.2 2015.9C187.4 2018.4 200.7 2034.8 210.9 2046.1M152.5 2009.6C143.4 1999.2 126.5 2002.1 119.0 1994.1M160.4 2029.8C162.7 2040.4 149.3 2049.1 150.8 2057.6M150.2 2010.9C144.6 2005.2 138.7 2001.4 137.3 1994.2M153.4 2028.6C148.6 2043.3 146.0 2056.9 145.9 2068.7M171.3 2027.0C176.7 2040.0 182.5 2050.6 175.5 2065.0M165.5 2014.4C184.8 2013.7 202.0 2019.0 214.6 2029.7M155.7 2009.3C152.1 1996.7 164.1 1984.3 170.4 1975.9M147.1 2001.7C139.6 1987.7 147.9 1969.0 150.7 1956.8M141.5 2028.5C132.3 2031.7 122.0 2029.7 113.9 2027.4M154.1 2010.9C143.0 2002.7 133.3 1995.2 122.0 1993.7M170.6 2010.1C183.9 2008.1 196.7 2014.5 205.9 2023.0M155.7 2010.6C144.2 1984.6 147.4 1957.1 153.2 1935.4M171.5 2020.1C196.0 2028.5 220.7 2023.7 239.4 2027.9M153.7 2014.0C136.9 2005.2 125.4 1991.7 118.2 1978.6M171.1 2025.8C173.6 2030.5 169.4 2038.9 167.9 2043.4M158.4 2001.7C163.8 1990.6 170.3 1981.7 184.5 1979.4M157.4 2020.2C152.2 2034.4 159.9 2049.0 158.7 2060.1M158.5 2011.0C160.2 1993.1 172.9 1979.6 185.7 1971.3M149.7 2033.1C146.7 2039.7 132.9 2036.5 130.1 2041.4M169.2 2019.2C192.4 2035.7 217.1 2042.7 221.6 2073.0M150.1 2028.2C142.9 2029.5 140.5 2034.6 131.6 2029.8M162.9 2006.0C170.0 1995.9 181.5 1990.6 192.0 1988.6M139.9 2007.3C134.3 1993.8 127.3 1985.1 138.4 1966.9M150.5 2033.9C140.5 2047.0 127.4 2055.8 114.3 2060.2M163.4 2023.5C167.5 2039.0 159.4 2054.7 148.7 2065.3M167.6 2024.3C180.7 2043.1 177.4 2068.0 172.8 2086.6M161.2 2008.4C172.9 1990.1 188.6 1977.4 210.0 1976.6M142.6 2019.9C127.7 2018.6 115.3 2023.7 103.9 2014.3M149.4 2020.3C137.9 2028.8 129.4 2038.9 125.7 2050.4M147.9 2016.5C139.3 2019.6 132.0 2023.2 127.6 2030.2M149.3 2009.8C131.1 2000.1 128.9 1975.3 115.1 1966.9M178.3 2014.2C196.7 2019.0 213.4 2015.0 225.5 2030.2M168.5 2031.6C174.7 2046.2 175.9 2061.0 175.1 2073.4M155.8 2012.9C148.1 2005.6 147.3 1994.4 142.7 1988.0M163.1 2014.0C185.7 2009.0 206.7 2009.6 223.8 2021.9M155.2 2020.7C146.4 2037.6 142.8 2054.6 146.2 2070.3M149.4 1999.3C148.6 1991.2 157.6 1982.4 162.8 1977.0M154.5 2014.5C145.6 2012.1 137.0 2018.4 130.3 2019.3M151.4 2020.3C133.0 2025.2 114.6 2016.8 102.0 2003.8M167.1 2012.9C177.2 2009.2 188.0 2018.3 196.0 2018.1M168.2 1997.9C170.3 1992.2 182.9 1995.1 184.7 1990.5M162.4 2021.0C176.6 2037.0 190.6 2050.2 206.8 2056.0M153.6 2014.3C138.4 2006.9 127.0 1996.1 121.1 1983.2M165.9 2010.6C178.3 2006.6 188.7 2001.9 200.5 2008.5M158.0 2010.3C156.1 1983.7 174.8 1962.1 185.8 1945.0M145.2 2010.3C130.1 2003.7 112.9 2017.0 100.8 2014.6M179.7 2016.8C186.0 2020.4 189.4 2029.2 191.4 2035.9M162.0 2011.1C169.1 2001.3 179.9 1996.5 187.0 1991.1M163.2 2015.8C172.9 2017.8 180.0 2025.0 183.7 2033.1M177.9 2005.7C195.0 1997.8 195.5 1972.0 208.0 1964.5M141.5 2016.0C133.6 2021.7 125.5 2020.0 122.4 2032.1M152.0 2012.9C138.4 2004.0 139.3 1983.3 138.1 1970.5M152.7 2003.7C136.6 1985.2 130.0 1963.7 107.8 1957.5M163.0 2030.6C161.9 2040.1 149.6 2047.0 141.5 2051.0M153.4 2025.1C148.2 2036.1 149.5 2048.4 149.0 2057.6M150.8 2015.9C134.9 2013.4 121.8 2005.5 112.6 1996.2M154.5 2025.3C146.3 2049.1 145.9 2072.4 148.9 2091.8M167.1 2033.7C170.5 2044.4 157.1 2056.7 155.2 2064.9M148.7 1998.7C142.8 1994.0 140.3 1987.8 133.2 1986.5M164.3 2009.4C172.5 1995.8 178.3 1982.8 178.5 1969.8M155.3 2003.6C156.1 1996.5 164.5 1990.8 170.3 1987.4M159.4 1995.6C166.1 1988.1 171.5 1981.9 184.8 1982.3M139.6 2021.7C118.9 2016.8 101.1 2015.3 91.2 1990.1M174.1 2006.3C185.8 2002.6 196.0 1999.1 206.3 2001.6M165.9 2012.1C178.3 2010.8 188.6 2007.2 198.8 2017.2M154.1 2023.5C144.7 2031.6 134.9 2037.2 123.1 2036.0M164.0 2014.1C176.4 2010.5 188.7 2016.6 198.2 2017.7M149.6 2017.7C130.0 2018.7 112.4 2014.9 98.6 2007.2M159.1 2020.3C160.5 2030.7 161.5 2040.0 165.2 2047.2" stroke="#17662b" stroke-width="0.8" fill="none" opacity="0.6"/>
<path d="M156.2 2005.4C157.5 1985.1 152.4 1967.7 167.6 1953.2M144.1 2001.0C134.1 1996.6 129.7 1987.5 118.8 1988.8M141.9 2012.9C117.2 2009.4 95.8 2029.6 77.8 2033.6M148.3 2030.8C137.5 2053.4 137.9 2077.8 141.3 2097.7M151.7 2028.1C141.7 2035.1 133.0 2041.1 120.0 2037.8M163.9 2023.9C176.2 2045.8 175.5 2070.5 179.1 2088.7M166.0 2002.8C172.2 1991.4 162.5 1976.6 164.8 1967.3M157.0 1997.9C157.2 1991.6 162.8 1986.2 164.6 1981.9M163.3 2011.1C172.7 2005.4 178.7 1997.6 189.6 1999.3M172.5 2020.8C185.9 2029.3 196.3 2039.4 201.3 2052.1M141.8 2013.2C124.2 2012.7 109.0 2022.9 97.0 2029.0M150.3 2012.1C132.4 2003.9 123.8 1985.0 112.8 1975.5M158.3 2030.1C154.3 2036.6 146.7 2040.4 138.5 2041.3M153.3 2016.2C129.5 2013.9 108.2 2012.9 92.2 2000.9M144.6 2008.4C130.2 2000.7 125.3 1982.7 116.0 1974.9M151.5 2022.0C141.4 2025.3 134.2 2031.1 123.9 2026.6M171.9 2012.2C183.6 2006.1 191.3 1995.5 196.0 1985.6M167.9 2018.2C179.2 2018.0 187.8 2025.0 197.2 2019.2M170.4 2013.4C191.7 2005.9 211.6 2001.6 225.2 1989.8M167.8 2011.2C182.3 2009.0 195.7 2011.1 206.2 2021.8M155.5 2003.7C156.9 1996.6 162.1 1990.7 169.1 1987.4M148.2 2001.5C139.2 1989.5 147.4 1971.0 142.9 1960.8M176.3 2024.3C186.4 2033.8 194.2 2043.7 195.9 2056.5M165.6 2023.5C171.7 2028.8 180.2 2029.8 186.2 2031.4M173.8 2012.8C187.8 2004.3 203.3 2006.5 210.1 1990.6M150.9 2014.8C133.5 2010.0 125.2 1990.5 117.9 1978.6M144.9 2012.5C129.3 2003.0 122.9 1983.6 122.5 1966.2M168.2 2012.4C194.4 2012.2 217.4 2009.9 234.5 2034.1M165.6 2032.1C168.1 2050.7 150.4 2067.7 138.7 2078.8M161.4 2030.7C162.4 2045.8 177.2 2055.5 177.4 2067.4M153.1 2010.0C147.3 2004.7 139.8 2002.8 134.8 1999.8M171.1 2011.9C186.9 2014.2 200.4 2019.5 207.2 2037.4M161.4 2020.6C166.8 2028.1 171.9 2034.6 178.2 2038.2M150.8 2013.2C143.2 2008.5 141.4 1997.8 140.1 1990.4M139.3 2017.3C135.7 2017.2 134.0 2006.9 131.4 2006.2M165.7 1999.6C177.1 1989.3 187.5 1980.6 204.5 1983.0M152.6 2014.9C131.3 2009.4 115.6 1995.0 103.8 1982.7M139.0 2015.7C122.4 2010.6 115.7 1986.8 111.1 1972.4M167.4 2008.9C177.1 2004.8 187.1 2004.5 196.0 2007.9M176.2 2017.4C197.8 2025.0 216.2 2034.5 226.6 2052.6M157.1 1995.5C156.1 1985.9 169.1 1978.5 169.6 1971.3M143.6 2021.9C129.9 2031.0 117.2 2038.0 111.1 2050.6" stroke="#a9bcae" stroke-width="0.55" fill="none" opacity="0.42"/>
<circle cx="158.9" cy="2015.9" r="21.6" fill="url(#gc)"/>
<circle cx="158.9" cy="2015.9" r="4.1" fill="#2fae54" stroke="#eefaf0" stroke-width="2.0"/>
</g>
<clipPath id="cp1"><rect x="243.7" y="1939.6" width="149.7" height="149.4"/></clipPath>
<rect x="243.7" y="1939.6" width="149.7" height="149.4" fill="#040604"/>
<g clip-path="url(#cp1)">
<circle cx="320.2" cy="2009.2" r="57.7" fill="url(#gl)" opacity="0.85"/>
<path d="M324.4 2010.0C351.1 2022.6 374.7 2034.3 381.7 2062.8M310.5 2002.3C304.4 1993.3 299.2 1985.3 301.1 1974.5M311.2 2021.2C292.0 2038.6 264.1 2039.3 242.7 2037.9M327.4 2019.5C334.7 2039.2 346.2 2054.2 341.0 2073.2M333.8 2002.1C340.1 1996.7 341.4 1986.9 343.0 1980.4M317.0 1998.0C319.3 1988.0 318.2 1979.5 329.4 1973.5M320.7 2018.4C312.0 2042.7 303.8 2063.9 272.6 2068.1M301.4 2014.8C282.2 2020.2 275.1 2044.7 261.8 2051.6M309.5 1996.9C304.2 1990.2 313.7 1977.4 311.8 1971.4M335.4 2002.9C342.1 2000.6 349.7 2014.4 354.9 2014.8M326.2 1988.4C338.6 1978.1 346.6 1967.7 367.1 1972.0M325.9 2016.2C330.0 2027.2 337.7 2034.5 333.6 2046.1M302.4 2018.0C289.9 2016.7 278.8 2009.1 272.3 1995.8M324.0 2016.7C325.6 2031.9 330.9 2044.2 319.6 2056.8M315.8 2007.2C305.4 1998.2 299.6 1986.6 302.1 1972.9M304.1 2007.2C286.3 2000.4 272.7 1988.4 265.2 1973.2M324.8 1998.2C330.9 1989.2 342.3 1985.5 350.7 1982.7M317.7 1994.4C318.1 1984.3 321.8 1975.3 326.0 1968.4M312.2 1997.3C308.0 1984.3 307.7 1971.5 312.9 1960.2M315.9 2008.7C292.7 2005.3 273.1 2022.5 255.3 2022.2M316.7 2013.1C307.3 2018.0 298.8 2022.1 288.3 2016.1M334.1 2008.4C348.1 2003.4 360.8 2000.3 368.1 1988.4M318.7 2003.6C317.9 1993.4 321.5 1984.3 326.8 1977.5M318.6 2014.0C314.9 2027.3 314.9 2040.0 314.8 2050.3M324.7 2014.6C328.3 2023.3 333.6 2029.7 330.9 2038.7M323.9 2017.3C328.7 2031.1 312.9 2045.1 308.9 2055.2M339.2 2003.5C349.1 2002.9 358.5 2007.1 365.7 2010.9M337.2 2004.8C342.2 2005.7 346.7 2009.0 350.0 2012.5M299.6 2012.5C281.1 2019.3 265.5 2027.8 255.1 2040.3M307.6 2022.7C291.2 2034.5 266.6 2026.9 250.6 2024.0M314.6 2021.9C305.1 2038.6 288.2 2047.9 275.9 2055.9M314.4 2009.3C294.0 2004.1 277.7 1993.2 270.9 1973.6M305.7 2018.2C284.2 2031.1 258.0 2026.5 240.4 2032.1M330.6 2021.3C345.5 2031.4 354.5 2044.9 371.3 2045.4M322.7 2003.9C334.0 1991.7 347.4 1983.9 364.2 1987.0M339.2 1999.0C350.2 2002.1 359.1 2004.3 365.2 2018.8M300.3 2017.5C275.8 2024.5 251.1 2018.8 231.9 2015.2M311.0 2012.6C303.4 2017.4 295.7 2019.5 291.7 2026.1M319.3 2024.8C310.0 2048.3 308.6 2070.8 285.0 2082.1M323.6 2006.4C338.9 1992.3 347.9 1975.3 355.8 1962.1M305.3 2014.7C297.5 2016.1 289.9 2014.2 283.9 2012.5M339.5 2016.8C343.3 2019.2 338.9 2031.6 340.6 2034.4M341.5 2004.7C347.8 2002.3 348.4 1989.7 351.8 1986.0M324.5 2011.4C337.7 2016.2 351.0 2015.3 361.7 2012.6M326.8 2005.6C342.1 1997.4 360.6 2008.2 373.3 2005.9M311.0 2010.6C290.9 2011.0 274.7 1996.1 262.6 1986.2M338.0 2022.4C338.3 2028.2 333.4 2036.0 328.4 2041.1M323.8 2014.8C330.0 2024.5 343.7 2025.5 349.9 2031.5M318.5 2001.2C318.2 1982.7 334.3 1968.5 346.4 1959.0M315.4 2023.5C309.1 2027.2 305.7 2031.3 296.4 2028.9M328.5 2000.0C338.8 1989.5 339.6 1973.9 346.9 1965.6M299.4 2003.1C286.4 1995.9 285.0 1974.5 281.4 1963.1M331.8 2005.5C351.5 2003.8 369.5 2007.6 383.3 2018.3M316.3 2024.3C311.7 2036.6 293.0 2039.2 285.3 2045.2M333.9 2023.3C343.1 2032.7 333.3 2051.7 337.8 2060.4M340.7 2016.2C361.1 2020.1 381.0 2007.8 396.0 2002.3M304.3 2014.8C280.0 2022.1 255.4 2013.3 236.7 2013.0M327.3 2005.0C346.4 1989.9 362.9 1975.6 370.4 1957.3M337.2 2015.7C341.7 2021.8 341.0 2032.1 338.6 2040.0M314.2 1998.2C307.1 1974.3 305.4 1951.6 314.7 1931.7M312.8 2009.5C302.0 2009.6 293.4 2016.8 285.4 2017.6M325.8 2004.4C334.4 1998.7 346.5 2003.6 354.3 2004.5M327.8 2001.4C342.6 1991.4 357.0 1984.1 372.5 1984.8M320.5 2024.3C318.0 2030.1 317.6 2035.3 312.3 2038.8M313.5 2029.3C308.0 2040.5 290.1 2042.4 282.5 2047.8M319.9 2015.3C317.7 2029.4 298.7 2034.4 289.9 2040.7M315.4 2010.5C292.3 2019.3 272.0 2028.2 258.4 2042.0M322.5 1990.2C326.3 1986.7 330.2 1984.2 336.1 1983.8M311.8 2019.2C298.5 2028.4 283.2 2031.3 268.8 2028.2M322.4 2016.4C325.5 2037.2 312.5 2055.8 303.0 2069.5M325.5 2004.0C337.4 1991.2 358.0 1994.7 368.4 1986.4M319.1 2003.7C313.8 1979.4 332.3 1957.8 333.9 1939.3M332.5 2010.1C347.0 2014.9 360.1 2018.4 368.1 2029.7M303.4 2004.1C299.9 2000.0 297.3 1995.8 297.1 1989.9M317.7 2030.5C312.8 2041.4 294.3 2044.2 284.6 2047.2M320.5 2027.7C318.3 2035.9 305.9 2040.3 300.0 2044.1M327.6 2026.8C328.5 2046.6 326.3 2064.3 311.8 2078.2M320.4 2003.2C318.9 1993.4 320.7 1984.5 316.1 1977.5M332.8 2019.0C339.8 2029.8 335.0 2045.9 330.6 2056.9M314.2 2011.5C293.1 2018.7 271.8 2012.6 255.4 2012.1M326.7 2008.8C339.2 2011.4 347.9 2021.8 352.3 2032.7M332.7 1991.2C350.3 1980.8 369.0 1976.3 389.4 1985.5M309.0 2021.8C302.4 2031.9 296.5 2041.0 294.4 2050.3M311.3 1997.5C302.5 1983.3 304.8 1965.5 303.6 1952.9M336.3 2011.7C350.7 2016.4 354.3 2038.3 360.0 2048.5M321.9 2029.3C320.7 2038.2 306.4 2043.4 301.4 2048.4M336.7 2006.3C353.8 1999.8 369.1 1994.4 378.9 1982.7M313.0 2001.6C301.3 1989.1 306.4 1968.5 301.2 1956.9M315.1 2007.3C302.4 2003.4 289.6 2007.0 279.7 2007.6M312.3 2020.3C296.2 2032.0 279.4 2039.1 260.0 2033.8M308.1 2003.5C297.7 1992.8 283.8 1990.8 281.6 1975.1M331.8 1997.6C346.1 1978.8 354.2 1958.5 357.2 1940.1M308.1 1999.0C296.9 1984.7 305.2 1961.6 308.4 1947.2M318.6 1989.5C324.4 1978.7 335.1 1971.3 349.8 1970.3M318.9 1999.6C318.2 1978.9 331.0 1961.6 338.6 1947.8M306.2 2017.5C301.8 2021.8 303.5 2031.2 302.5 2035.9M318.1 2018.7C312.1 2031.3 302.2 2040.2 291.0 2044.8M306.2 2017.0C290.9 2023.9 274.1 2021.5 261.6 2022.2M312.4 2017.4C299.8 2025.8 284.8 2027.1 272.0 2024.8M315.0 2007.4C296.3 1999.6 291.4 1976.1 282.3 1964.3M337.2 2018.8C340.8 2021.5 348.2 2011.2 351.4 2013.5M329.6 2027.6C337.9 2035.4 346.6 2041.0 357.3 2041.9M338.7 2013.8C352.5 2023.6 366.3 2028.5 370.2 2045.8M310.2 2010.3C295.9 2012.3 283.5 2001.9 272.7 2001.9M315.0 2013.3C305.5 2021.9 302.1 2034.2 298.1 2042.8M317.6 2022.8C314.0 2028.8 304.7 2030.9 298.5 2032.1M321.8 2014.0C325.1 2033.4 325.6 2051.1 319.3 2065.9M336.1 2014.6C350.9 2021.0 357.8 2037.8 366.2 2046.4M311.9 2020.4C296.8 2032.8 284.9 2045.4 266.9 2046.0M324.7 1999.3C335.3 1974.7 319.3 1947.6 320.1 1927.9M335.0 2007.5C341.9 2008.0 346.8 2017.3 351.1 2020.2M310.3 2019.2C291.2 2034.3 269.4 2041.1 250.8 2044.5M318.9 2004.1C319.4 1990.4 323.7 1978.4 335.9 1971.3M321.0 2024.4C316.9 2040.5 313.2 2054.7 299.7 2063.5M332.3 2020.9C334.9 2025.8 326.2 2035.5 324.8 2039.8M310.6 1990.5C306.5 1966.3 301.7 1945.2 314.7 1925.0M325.1 2016.1C327.8 2025.7 333.4 2032.5 328.9 2042.1M330.8 2013.7C343.4 2014.2 353.0 2020.1 363.6 2011.9M317.7 2002.8C314.5 1980.9 302.8 1963.9 312.5 1945.0M340.6 2016.0C346.7 2020.7 342.3 2036.9 343.0 2043.1M325.0 2000.3C333.3 1981.3 335.9 1962.4 337.2 1946.8M317.1 2000.2C310.8 1980.7 289.5 1971.7 282.0 1958.4M326.7 2014.4C339.4 2018.7 348.7 2026.1 361.7 2019.5M311.1 2026.8C300.3 2032.0 294.5 2039.5 279.6 2033.9M316.7 2012.4C302.9 2027.3 291.9 2041.8 285.4 2055.8M317.9 2013.2C311.0 2020.9 303.3 2026.3 294.3 2027.2M324.6 2008.4C353.0 2002.9 376.7 2027.0 398.0 2029.8M326.9 2002.8C339.7 1994.0 358.2 2002.3 370.0 2004.9M303.2 2005.9C283.7 2002.3 275.6 1977.0 262.3 1970.5M305.0 2002.9C290.1 1996.4 273.2 2003.8 261.5 2000.6M333.0 1999.6C341.5 1984.9 355.6 1978.3 352.0 1959.5M312.3 2020.5C304.7 2028.3 291.2 2027.4 283.0 2029.1M329.5 2010.8C347.0 2015.2 359.7 2027.6 370.4 2035.8M309.4 1998.0C295.4 1980.8 290.5 1960.0 285.5 1944.1M323.9 2012.6C340.3 2033.1 343.8 2058.4 341.6 2079.9M326.7 2008.8C343.3 2011.3 358.0 2013.6 368.1 2025.0M303.8 2022.0C304.0 2027.9 298.3 2027.1 302.1 2034.7M330.0 2020.6C335.0 2033.6 332.8 2047.7 326.1 2059.3M325.6 2016.6C336.2 2033.1 329.4 2054.6 330.5 2069.1M320.3 2016.1C319.4 2030.8 303.5 2039.7 296.8 2048.4M312.8 2007.9C299.8 2001.2 286.9 1998.9 282.0 1984.5M317.0 2018.4C305.5 2043.5 288.3 2062.3 271.7 2075.7M316.7 2006.0C307.6 1998.2 307.9 1984.6 302.3 1977.6" stroke="#36a34c" stroke-width="0.7" fill="none" opacity="0.6"/>
<path d="M322.8 2016.0C326.1 2024.3 336.7 2027.0 340.7 2032.2M317.1 2015.0C305.6 2027.4 291.6 2034.7 275.4 2033.0M324.4 1991.9C330.6 1976.7 350.2 1970.8 360.9 1964.0M307.4 2013.9C288.4 2025.1 269.3 2030.5 259.4 2046.5M322.7 2024.2C321.3 2036.5 313.8 2046.8 305.6 2053.9M315.4 2001.1C307.9 1988.1 291.5 1984.5 284.2 1976.0M334.8 2002.5C360.0 1999.4 383.2 2003.9 400.9 2021.6M336.2 2017.2C345.0 2017.1 352.1 2018.7 359.4 2012.7M304.9 2010.9C291.0 2004.4 279.1 1999.3 276.5 1979.8M318.1 2005.5C309.1 1994.1 303.6 1982.3 292.2 1977.6M323.8 2000.1C328.4 1993.4 335.5 1989.6 341.9 1987.4M315.4 2001.8C310.6 1989.4 304.1 1979.5 306.6 1967.9M325.7 2015.3C338.0 2027.8 351.7 2036.0 362.6 2043.0M302.3 2001.1C289.5 1991.7 295.6 1966.3 294.6 1953.8M320.4 2002.9C322.5 1989.9 327.6 1978.8 334.4 1970.7M331.5 2018.5C340.0 2025.0 354.3 2017.0 361.9 2019.4M306.6 2015.8C288.3 2020.5 269.6 2009.1 256.3 2001.0M326.7 2005.3C337.5 1997.7 339.7 1983.0 344.2 1974.3M320.4 2003.3C321.8 1991.7 336.0 1986.1 342.1 1979.9M306.2 1997.3C296.1 1990.1 283.3 1989.4 274.4 1986.7M315.0 2007.8C287.4 1997.1 280.6 1962.2 272.4 1941.1M330.3 1996.5C348.9 1983.1 373.9 1985.0 393.7 1991.7M311.8 2017.3C299.9 2028.0 279.6 2019.9 268.4 2023.4M317.0 2022.5C310.0 2033.6 300.3 2041.5 288.0 2043.9M317.2 2023.1C317.6 2032.2 314.7 2039.8 318.5 2046.8M319.4 2015.1C320.0 2027.0 316.4 2037.3 321.2 2046.2M338.4 2008.9C352.9 2010.5 359.3 2032.9 367.1 2040.4M315.5 2012.3C290.4 2028.6 258.7 2019.6 237.1 2024.5M322.6 1998.7C322.4 1984.0 322.3 1971.1 314.0 1960.8M332.0 2027.6C336.4 2037.7 317.7 2051.7 315.8 2059.7M312.7 2004.4C296.2 1998.3 281.3 1993.4 266.4 1998.5M317.3 2005.6C308.4 1993.6 310.0 1977.9 308.0 1967.0M329.9 2001.3C350.8 1994.4 371.6 1994.9 389.4 2011.0M339.7 2008.2C356.1 2011.5 370.7 2012.4 381.4 2022.8M314.5 2007.3C306.3 2002.3 304.3 1991.1 303.7 1982.9M315.6 2014.5C298.3 2028.1 275.8 2029.0 257.6 2025.7M312.5 1995.1C306.6 1984.6 314.2 1970.8 311.4 1962.3M324.5 2011.4C343.4 2028.3 358.4 2045.5 355.8 2071.0M306.9 1991.6C302.4 1989.5 300.1 1986.2 295.1 1986.5M318.6 1996.0C320.0 1985.7 326.0 1977.1 332.8 1971.1M326.6 2017.8C335.1 2029.9 334.5 2045.3 338.3 2055.5M328.9 1991.6C335.0 1974.9 333.5 1957.7 333.0 1944.2M340.5 2014.6C354.9 2020.1 359.8 2039.7 367.4 2048.3M327.5 2010.6C339.6 2018.0 351.8 2021.1 354.5 2036.7M319.6 2021.4C324.5 2038.8 324.6 2054.8 340.5 2064.5M317.8 2016.0C308.5 2037.0 320.9 2059.8 314.5 2076.5M311.6 2007.2C283.2 1998.0 272.5 1964.5 259.7 1946.2M315.0 1989.1C315.1 1982.1 330.4 1977.2 333.9 1973.1M326.0 1998.6C343.2 1977.3 359.4 1959.1 381.7 1952.4M315.4 2006.5C300.3 1998.6 284.6 1996.4 272.2 1994.0M320.7 1998.1C323.8 1981.1 347.4 1974.8 358.3 1967.5M316.8 2012.3C305.5 2021.4 288.9 2016.0 278.1 2016.5M325.0 2018.0C334.4 2035.8 323.7 2057.3 325.8 2071.9M326.3 2015.6C340.8 2032.1 364.6 2033.3 376.6 2044.7M324.4 2010.5C338.8 2018.2 349.0 2029.6 353.2 2043.0M333.9 2024.7C350.2 2033.9 357.5 2049.8 376.6 2048.2M340.2 2012.6C356.4 2016.7 360.9 2041.2 369.9 2049.6M308.2 2027.0C301.1 2028.4 297.9 2032.2 289.2 2027.9M337.0 2011.3C352.3 2017.1 361.0 2033.6 366.7 2046.3M316.6 1996.4C313.1 1974.7 332.7 1955.8 340.6 1941.1M318.1 1987.3C313.5 1981.2 311.2 1975.4 303.2 1973.0M324.9 2004.1C337.9 1992.2 355.9 1990.6 368.7 1987.1M309.9 1989.7C307.2 1974.0 317.7 1957.8 326.5 1946.7M311.1 2006.8C301.9 2005.0 293.1 2010.9 286.2 2012.1M305.1 1997.7C302.1 1990.3 296.6 1986.7 298.8 1977.9M318.1 2002.9C317.5 1993.3 313.9 1985.4 318.8 1977.7M335.2 2025.3C335.6 2034.4 336.2 2041.8 328.4 2050.2M323.0 2003.4C330.5 1987.5 347.5 1980.2 355.2 1969.7M306.1 1995.5C307.1 1988.9 307.3 1984.2 314.3 1978.3M317.1 1994.7C322.1 1984.1 325.8 1975.2 341.7 1973.0M321.8 2024.8C320.2 2041.1 310.0 2054.5 300.8 2064.2M318.3 1998.1C317.6 1977.7 330.6 1960.5 339.6 1947.5M326.0 1987.9C326.4 1979.9 322.4 1972.2 319.9 1966.2M332.0 2007.0C343.2 2003.0 353.6 2000.8 360.6 1994.1M302.1 2008.3C277.9 1995.2 257.6 1982.3 256.8 1948.8M315.1 2022.2C308.3 2033.9 296.4 2040.7 287.2 2046.0M322.3 2014.2C332.7 2037.1 358.1 2046.3 372.5 2058.0M306.9 2006.1C300.7 2005.9 295.1 2006.4 290.4 2008.2M338.2 2000.4C355.7 1998.4 372.1 2002.6 384.9 2013.7M300.7 2011.0C279.8 2012.2 261.8 1999.3 246.6 1996.4M301.8 1998.7C296.6 1990.7 299.2 1977.7 302.4 1968.6M326.5 2005.9C334.1 2000.9 340.5 1995.8 344.9 1990.3M310.8 2021.4C304.5 2036.2 302.2 2050.8 306.5 2064.6M315.3 2014.6C308.1 2020.4 295.9 2013.8 288.9 2012.8M309.8 2002.3C302.5 1994.0 306.9 1979.0 308.9 1969.8M314.7 2012.6C293.8 2018.6 277.8 2030.3 258.0 2020.4M313.3 2014.1C287.5 2025.7 263.1 2033.1 239.1 2025.2M327.7 2011.8C340.4 2018.9 347.9 2031.0 352.1 2042.1M312.6 2013.8C301.4 2018.0 289.0 2011.9 280.2 2008.2" stroke="#17662b" stroke-width="0.8" fill="none" opacity="0.6"/>
<path d="M320.3 1999.1C321.4 1986.9 309.7 1977.7 310.2 1968.2M326.0 2003.7C347.7 1983.8 377.9 1981.9 397.3 1972.3M327.8 2010.1C350.7 2013.2 370.5 1998.2 387.6 1996.9M330.9 2001.6C343.7 1995.3 356.1 1991.6 367.5 1991.8M308.9 2007.0C285.9 2002.9 272.2 1980.9 256.1 1974.4M303.7 1994.6C292.5 1982.7 295.0 1962.7 290.9 1951.2M315.4 2009.9C298.7 2007.3 285.1 1998.9 279.0 1982.8M306.9 1999.0C290.9 1981.5 293.5 1953.8 294.3 1934.7M315.8 2027.3C311.3 2031.0 306.2 2033.3 299.5 2033.0M321.7 2004.1C325.1 1993.9 321.8 1983.6 324.1 1975.9M311.0 2005.6C300.6 2000.9 298.2 1986.8 292.6 1980.6M318.4 2025.4C312.8 2045.3 295.2 2058.5 281.9 2068.3M300.3 2018.8C297.0 2025.0 291.8 2026.6 292.7 2034.9M336.2 2022.3C344.6 2034.4 332.4 2055.5 328.4 2067.1M311.2 2012.1C294.8 2019.5 283.1 2031.9 274.8 2043.1M323.5 1989.2C325.1 1965.2 317.6 1943.5 312.2 1926.2M313.5 1998.6C300.2 1985.5 285.9 1976.3 269.6 1974.9M319.7 1991.4C313.6 1982.7 313.5 1974.0 300.6 1971.1M329.2 2013.1C343.1 2017.3 357.3 2012.9 368.1 2010.0M321.8 1988.3C323.1 1982.9 339.9 1984.7 342.5 1981.6M339.2 2007.3C346.7 2011.8 353.5 2011.7 356.9 2022.1M315.6 2003.4C304.3 1994.9 297.0 1984.3 283.4 1984.4M302.9 2021.1C288.7 2029.7 268.2 2014.9 256.1 2016.2M323.6 2016.0C329.4 2031.2 328.7 2046.6 327.3 2059.0M312.9 2025.9C300.5 2038.5 282.1 2042.4 264.6 2039.0M321.5 1997.7C324.6 1986.1 338.5 1980.2 345.8 1974.5M325.0 1988.4C332.5 1978.2 351.7 1978.4 363.8 1979.3M302.6 2015.0C292.6 2023.4 279.2 2019.4 274.2 2032.4" stroke="#a9bcae" stroke-width="0.55" fill="none" opacity="0.42"/>
<circle cx="320.2" cy="2009.2" r="22.2" fill="url(#gc)"/>
<circle cx="320.2" cy="2009.2" r="4.1" fill="#2fae54" stroke="#eefaf0" stroke-width="2.0"/>
</g>
<clipPath id="cp2"><rect x="81.9" y="2139.3" width="151.0" height="149.6"/></clipPath>
<rect x="81.9" y="2139.3" width="151.0" height="149.6" fill="#040604"/>
<g clip-path="url(#cp2)">
<circle cx="156.6" cy="2216.0" r="39.0" fill="url(#gl)" opacity="0.77"/>
<path d="M163.4 2220.2C168.9 2228.3 172.9 2236.2 168.9 2246.6M149.3 2215.3C138.9 2213.8 131.7 2204.7 124.8 2201.1M170.7 2216.6C175.8 2220.5 181.2 2218.1 183.8 2225.6M146.7 2222.5C138.2 2228.4 135.7 2239.3 130.5 2244.9M158.9 2219.6C167.0 2231.9 181.9 2235.7 190.0 2242.7M146.2 2221.7C136.4 2227.0 135.0 2240.9 128.7 2246.3M145.1 2222.1C134.4 2223.9 125.4 2226.6 116.3 2221.7M159.8 2218.8C166.3 2228.1 172.9 2235.7 171.4 2246.5M163.2 2216.0C174.1 2217.6 183.5 2220.5 190.6 2225.9M162.6 2223.3C166.2 2229.4 166.9 2236.3 167.4 2241.7M157.1 2228.9C156.4 2237.5 143.0 2241.8 139.0 2246.8M167.3 2216.2C171.6 2219.4 174.9 2223.2 175.1 2229.8M152.6 2229.7C150.1 2233.6 157.1 2238.9 153.9 2242.1M167.5 2210.8C172.5 2212.5 176.7 2215.4 179.1 2221.9M161.3 2216.3C167.6 2217.0 173.1 2212.9 177.9 2213.3M160.5 2225.0C164.8 2240.9 157.0 2256.9 152.1 2268.8M150.2 2218.6C139.0 2221.1 128.2 2217.8 119.8 2214.0M163.2 2216.1C176.8 2218.7 182.7 2235.6 187.5 2245.6M153.5 2206.5C150.2 2188.6 158.5 2171.7 164.4 2158.8M161.5 2221.2C169.6 2238.6 176.7 2253.9 166.6 2271.9M169.4 2211.4C173.2 2211.6 176.9 2217.5 179.2 2219.8M151.9 2215.0C140.8 2213.2 130.6 2218.6 122.4 2220.4M148.9 2212.8C145.8 2208.8 145.8 2202.8 147.7 2197.6M150.0 2227.6C137.8 2240.3 116.7 2239.6 101.5 2237.5M166.2 2212.2C176.3 2211.3 185.5 2213.5 192.7 2219.4M151.9 2217.7C145.6 2216.6 140.3 2216.9 136.9 2209.4M159.5 2207.8C165.2 2190.8 162.3 2173.6 164.2 2160.5M169.0 2221.5C179.9 2234.2 187.8 2246.6 182.1 2265.3M161.2 2212.5C170.0 2208.4 178.2 2205.4 186.4 2207.0M149.1 2214.7C142.9 2211.3 137.9 2207.1 136.1 2200.3M157.3 2203.9C159.5 2193.6 166.6 2185.7 171.9 2179.5M161.5 2215.1C171.4 2212.3 178.6 2205.3 184.4 2200.3M149.6 2223.1C148.5 2228.4 144.2 2230.5 147.1 2236.5M157.7 2211.0C159.7 2202.0 167.4 2196.1 170.6 2190.1M149.0 2220.2C139.6 2227.7 131.5 2234.8 128.0 2244.2M148.5 2213.8C143.1 2210.8 141.6 2203.1 140.1 2198.2M160.8 2229.8C162.4 2237.7 147.9 2244.4 146.0 2250.0M152.0 2213.0C148.6 2208.0 144.5 2204.6 146.0 2198.0M163.3 2224.8C167.2 2236.2 167.6 2247.5 161.6 2257.8M163.9 2217.7C175.7 2223.0 186.3 2227.5 192.2 2236.9M151.0 2220.1C140.5 2229.4 131.3 2238.0 126.0 2247.5M149.2 2215.2C136.3 2213.6 130.1 2198.0 121.8 2193.2M156.9 2223.2C152.8 2240.1 149.2 2255.1 133.9 2263.2M155.3 2220.3C149.5 2233.8 137.8 2242.4 128.2 2248.7M160.2 2230.5C157.7 2241.2 149.0 2249.6 137.8 2253.6M144.7 2211.9C131.4 2205.0 125.3 2189.9 120.1 2179.3M156.2 2226.5C154.5 2238.8 143.6 2247.5 138.0 2255.0M157.3 2206.3C157.6 2198.8 154.7 2192.1 153.7 2186.6M158.8 2221.2C160.9 2233.3 152.7 2244.4 144.4 2251.6M161.3 2229.1C162.5 2241.6 161.0 2253.1 155.2 2262.4M144.0 2218.8C138.1 2218.7 132.9 2215.1 128.9 2212.4M147.8 2214.7C140.7 2209.6 135.8 2203.0 136.5 2192.9M155.0 2203.8C150.7 2197.6 148.5 2191.7 140.3 2189.9M158.8 2220.5C161.9 2231.2 164.3 2240.9 161.3 2249.9M158.9 2204.6C158.2 2201.1 154.4 2198.3 152.0 2196.3M157.4 2225.2C155.4 2230.4 156.5 2235.1 151.4 2238.3M169.5 2216.0C181.1 2218.2 186.3 2234.4 191.4 2242.1M149.1 2215.3C140.5 2212.6 134.2 2206.4 130.2 2199.9M165.1 2208.8C177.5 2204.2 191.1 2207.5 201.7 2215.4M167.7 2222.5C180.4 2233.6 190.2 2245.2 194.0 2258.8M148.3 2220.2C136.9 2221.5 128.7 2228.0 118.4 2221.1M155.6 2209.9C149.6 2194.6 152.6 2179.1 141.1 2169.3M152.9 2213.0C146.4 2203.5 145.2 2192.3 149.6 2182.1M162.2 2220.5C171.4 2235.8 174.7 2252.1 164.9 2268.7M147.1 2205.2C141.8 2190.5 144.8 2174.6 154.5 2161.9M158.1 2220.7C162.8 2231.4 171.9 2238.1 179.3 2243.3M151.6 2215.5C145.5 2214.8 140.8 2221.4 136.4 2222.4M159.8 2204.9C166.0 2194.5 176.0 2188.1 186.2 2185.2M152.3 2210.6C145.7 2191.3 141.7 2173.6 155.6 2156.3M152.7 2207.5C148.6 2192.4 160.4 2177.3 167.0 2166.7M150.6 2213.8C146.2 2209.3 141.9 2206.2 142.7 2198.8M163.4 2206.0C172.1 2201.9 180.9 2200.3 190.8 2206.4M144.4 2208.1C139.9 2202.7 141.7 2193.0 142.0 2187.1M163.0 2206.4C164.7 2199.3 167.8 2193.9 164.9 2187.4M152.2 2220.2C143.5 2225.0 136.5 2230.2 127.4 2228.7M148.6 2206.0C148.7 2199.9 145.1 2196.6 150.3 2190.5M151.1 2219.0C137.3 2230.9 123.5 2239.4 120.2 2255.8M143.8 2213.1C128.6 2209.0 121.7 2191.0 112.3 2184.1M160.7 2218.1C168.0 2219.4 174.5 2220.8 180.5 2216.7M145.0 2216.6C136.9 2215.0 131.4 2206.6 127.3 2201.3M142.8 2216.6C140.1 2213.4 138.5 2209.6 139.0 2204.1M147.7 2213.7C138.6 2210.5 132.3 2203.1 126.9 2198.2M152.5 2217.6C141.8 2217.5 132.4 2215.6 126.8 2204.4M162.5 2213.1C169.6 2209.8 177.9 2215.6 183.7 2215.3M145.7 2207.4C141.7 2196.4 134.8 2189.6 142.0 2176.4M149.1 2215.5C131.5 2210.5 115.2 2209.4 104.9 2196.5M171.4 2213.7C176.6 2210.3 181.6 2208.5 183.9 2202.6M161.0 2220.6C165.0 2224.6 163.6 2231.6 166.3 2235.0M165.5 2218.0C173.8 2221.8 176.6 2233.1 179.2 2240.0M160.2 2217.9C175.0 2227.0 171.3 2250.0 174.8 2262.4M159.7 2220.0C162.1 2228.2 163.3 2235.7 157.3 2243.0M149.4 2214.8C144.5 2213.0 140.3 2210.7 137.4 2207.6M150.8 2216.6C136.0 2215.4 122.8 2217.2 112.4 2209.4M161.4 2206.3C165.9 2203.6 168.5 2200.3 174.7 2201.5M151.7 2215.4C139.6 2217.2 128.9 2214.0 120.7 2223.4M163.2 2213.8C174.2 2212.1 183.2 2224.4 189.6 2230.3M159.9 2221.1C168.8 2232.1 181.2 2237.7 191.5 2241.4M160.3 2229.7C165.5 2237.6 165.8 2246.2 174.1 2250.1M169.1 2215.7C178.6 2219.2 187.5 2217.0 193.3 2226.0M163.5 2212.8C179.7 2210.3 194.5 2210.2 206.6 2220.7M149.5 2223.6C142.5 2228.5 135.9 2232.3 128.9 2233.1M155.5 2221.3C153.0 2227.8 149.0 2232.9 144.3 2236.1M149.1 2217.2C138.6 2219.6 130.0 2224.5 122.9 2228.3M153.4 2208.7C152.8 2201.2 150.1 2195.1 154.4 2188.9M148.1 2213.2C140.4 2210.3 132.1 2214.6 126.1 2212.9M146.2 2215.3C139.9 2214.9 135.6 2208.1 131.0 2207.0M150.4 2222.9C146.8 2230.5 142.6 2236.4 144.2 2244.1M158.6 2222.7C157.8 2232.0 153.8 2240.0 145.0 2244.6M168.8 2208.8C177.0 2209.4 184.3 2212.7 189.4 2221.4M148.4 2210.5C139.9 2202.4 138.9 2189.3 137.4 2180.2M155.1 2211.7C152.3 2205.3 148.3 2200.3 144.7 2196.5M151.0 2212.7C145.1 2209.7 138.6 2209.6 133.8 2208.6M145.8 2206.1C145.2 2200.9 142.0 2198.6 145.4 2192.7M157.8 2220.6C158.7 2240.8 159.8 2258.9 147.0 2273.1M144.6 2212.9C137.1 2207.8 129.3 2206.3 126.2 2197.8" stroke="#36a34c" stroke-width="0.7" fill="none" opacity="0.6"/>
<path d="M146.6 2211.1C140.1 2207.2 141.4 2195.7 138.4 2191.0M156.6 2220.2C155.1 2232.9 140.4 2239.3 132.6 2245.2M168.0 2212.2C179.5 2208.0 186.5 2197.4 194.0 2192.3M148.1 2228.2C139.0 2234.9 127.4 2236.4 117.1 2234.5M152.9 2212.7C137.9 2200.0 136.1 2179.2 125.9 2168.4M170.8 2215.2C174.0 2216.9 175.1 2224.5 176.0 2227.7M148.0 2221.1C144.7 2224.9 140.6 2226.6 139.7 2231.3M149.5 2210.9C142.8 2207.6 134.7 2209.9 129.0 2210.4M159.0 2229.1C167.8 2243.8 169.6 2258.9 187.1 2264.1M153.6 2218.9C148.3 2221.9 143.1 2223.8 137.7 2222.7M153.0 2204.8C154.7 2187.0 151.0 2171.9 168.3 2160.0M170.4 2220.2C177.9 2225.4 178.3 2238.4 179.0 2246.3M147.4 2219.2C138.0 2222.3 128.1 2217.5 120.8 2218.4M142.1 2214.9C131.3 2212.2 122.7 2205.3 116.2 2199.3M148.8 2213.1C137.6 2212.1 128.9 2206.1 119.3 2210.9M156.3 2210.5C154.4 2195.7 145.6 2184.2 139.7 2174.7M152.6 2226.0C146.5 2236.4 128.9 2234.7 120.0 2237.2M152.6 2212.4C144.1 2200.6 136.4 2190.2 137.2 2177.1M160.4 2226.9C159.2 2230.7 152.7 2233.5 148.6 2234.8M162.7 2225.5C167.2 2234.8 155.1 2246.9 153.3 2254.4M151.0 2220.7C146.2 2226.7 141.7 2232.0 140.7 2238.4M150.7 2212.5C146.2 2208.0 147.2 2199.8 148.0 2194.3M143.5 2218.1C133.1 2214.3 124.2 2210.5 120.6 2197.6M147.1 2213.7C139.3 2210.7 137.8 2198.7 134.2 2193.6M143.9 2214.1C137.1 2207.0 130.9 2202.2 133.5 2189.0M149.5 2228.5C142.9 2233.4 136.2 2236.8 127.8 2235.6M151.7 2217.7C134.3 2220.7 118.2 2212.6 106.4 2204.5M154.0 2224.1C149.2 2229.7 148.6 2236.4 140.9 2238.1M163.2 2216.0C171.6 2213.8 178.9 2211.0 183.5 2204.7M166.2 2220.8C170.1 2221.1 173.6 2221.1 176.8 2219.2M158.5 2211.5C165.4 2196.1 184.5 2191.9 193.5 2183.3M150.7 2217.8C142.2 2220.7 137.0 2228.4 131.6 2232.3M143.8 2214.1C141.0 2210.2 138.6 2207.5 139.4 2201.3M150.6 2214.0C143.6 2211.8 142.1 2201.9 137.5 2198.9M158.2 2207.4C161.2 2197.7 168.5 2190.8 173.6 2185.0M148.2 2223.2C140.9 2223.6 134.7 2223.4 128.8 2215.6M148.4 2205.0C142.7 2193.5 145.9 2179.7 147.7 2169.7M159.4 2204.1C163.1 2198.1 171.9 2196.0 178.1 2194.8M162.5 2211.7C168.0 2210.0 174.4 2213.2 178.7 2216.4M143.2 2219.9C136.7 2220.3 130.5 2215.9 126.0 2213.4M168.3 2221.0C172.5 2226.8 177.6 2229.6 176.5 2238.2M159.1 2205.6C158.0 2194.1 163.0 2184.7 155.4 2175.8M152.7 2226.3C145.3 2234.4 144.4 2244.5 132.7 2246.5M157.2 2204.6C154.0 2189.9 151.7 2176.8 140.3 2168.3M145.6 2206.2C142.9 2203.5 135.6 2209.5 133.3 2207.5M156.6 2203.9C160.5 2197.8 163.6 2192.6 172.3 2191.4M157.1 2220.0C159.1 2230.4 165.4 2238.4 169.9 2245.0M165.0 2210.9C169.0 2210.0 173.9 2214.7 176.9 2216.5M151.4 2219.5C142.0 2224.4 131.2 2222.7 123.1 2222.0M160.4 2212.9C169.8 2209.2 178.7 2207.4 187.4 2212.4M162.3 2223.5C169.5 2232.7 179.2 2238.1 185.4 2244.1M154.6 2219.8C144.3 2231.7 139.7 2245.5 124.6 2248.3M157.6 2211.8C161.6 2200.3 172.8 2193.8 180.7 2188.6M159.1 2202.3C163.8 2185.7 180.1 2175.8 188.8 2166.3M147.5 2212.5C139.2 2205.5 133.1 2197.7 132.6 2187.1M148.6 2203.9C143.3 2194.7 130.7 2193.1 126.2 2186.4M166.0 2227.6C173.5 2237.0 190.0 2233.6 197.0 2239.3M148.7 2218.5C129.2 2219.6 111.8 2214.4 99.5 2201.0M153.9 2209.6C148.9 2197.7 159.7 2184.7 159.1 2175.1M160.1 2212.6C165.5 2207.9 173.3 2208.1 178.4 2206.6M145.8 2214.3C137.7 2211.7 131.7 2205.6 127.0 2201.0M153.6 2211.6C146.8 2204.3 137.8 2200.7 129.9 2199.2M161.9 2220.7C173.3 2227.3 179.8 2237.8 191.5 2238.4M158.6 2210.8C162.6 2202.3 173.6 2200.1 179.3 2196.2M161.1 2216.1C182.0 2217.2 196.5 2235.1 210.1 2242.3M150.8 2215.4C137.2 2210.9 129.3 2197.8 125.2 2186.2M152.0 2218.5C143.4 2221.5 135.5 2223.7 128.2 2222.6M147.0 2213.2C130.4 2213.4 116.8 2206.7 103.8 2217.4M171.1 2216.9C175.3 2216.5 178.9 2214.3 181.9 2213.2M164.8 2210.1C174.1 2206.2 185.0 2210.8 192.7 2214.0M147.8 2218.3C142.7 2222.2 136.4 2220.6 134.0 2227.1M157.5 2221.9C156.2 2230.1 150.5 2236.6 143.1 2239.9" stroke="#17662b" stroke-width="0.8" fill="none" opacity="0.6"/>
<path d="M160.9 2211.4C165.5 2206.1 167.5 2199.8 170.2 2195.4M152.6 2215.0C141.5 2209.8 137.7 2196.3 136.2 2186.0M154.0 2221.8C151.3 2229.9 155.3 2238.4 156.6 2244.7M165.9 2222.1C179.3 2234.0 186.1 2250.0 189.7 2263.8M154.4 2222.3C150.1 2227.6 145.3 2231.6 138.3 2231.9M147.1 2208.6C133.1 2204.2 124.4 2194.0 109.7 2200.3M153.9 2209.0C150.7 2195.9 159.7 2183.1 164.6 2173.8M161.6 2222.5C166.7 2231.1 166.8 2241.1 167.0 2248.8M165.5 2204.4C173.8 2195.6 168.7 2180.5 175.2 2173.5M156.0 2209.8C155.3 2200.5 150.0 2193.1 149.1 2186.3M145.8 2224.3C140.0 2225.0 134.9 2225.2 129.7 2221.5M145.7 2216.6C141.7 2216.8 139.6 2223.4 136.7 2224.0M163.0 2228.6C162.6 2232.8 159.6 2237.0 156.3 2240.0" stroke="#a9bcae" stroke-width="0.55" fill="none" opacity="0.42"/>
<circle cx="156.6" cy="2216.0" r="15.0" fill="url(#gc)"/>
<circle cx="156.6" cy="2216.0" r="4.1" fill="#2fae54" stroke="#eefaf0" stroke-width="2.0"/>
</g>
<clipPath id="cp3"><rect x="243.7" y="2138.0" width="149.7" height="150.1"/></clipPath>
<rect x="243.7" y="2138.0" width="149.7" height="150.1" fill="#040604"/>
<g clip-path="url(#cp3)">
<circle cx="318.4" cy="2213.0" r="18.0" fill="url(#gl)" opacity="0.22"/>
<path d="M323.4 2213.0L346.5 2219.0M313.5 2211.8L288.2 2198.7M323.1 2211.2L345.7 2208.2M318.4 2208.0L323.2 2188.3M313.5 2212.2L287.2 2201.2M318.7 2208.0L323.6 2193.3M322.8 2210.6L333.3 2208.3M320.7 2208.6L338.8 2187.8M317.7 2218.0L312.7 2229.5M316.9 2217.8L307.1 2233.9M316.4 2217.6L311.3 2223.1M320.4 2217.6L325.0 2245.3M313.5 2212.0L306.0 2207.6M322.3 2216.2L329.9 2227.0M323.2 2211.6L354.1 2210.2M323.4 2213.0L340.8 2217.6M319.2 2208.1L323.1 2200.7M314.0 2210.6L308.0 2204.3M314.9 2209.4L304.0 2191.1M318.0 2208.0L321.1 2191.5M314.6 2216.3L295.7 2225.9M317.3 2217.9L308.5 2235.4M315.9 2208.7L312.5 2195.6M318.3 2208.0L324.4 2179.9M316.9 2217.8L308.0 2232.0M315.0 2209.3L310.7 2200.4" stroke="#17662b" stroke-width="0.6" fill="none" opacity="0.4"/>
<rect x="314.2" y="2208.4" width="8.6" height="9" rx="2.8" fill="#6fd6b0" stroke="#3fb868" stroke-width="1.5"/>
</g>
<clipPath id="cp4"><rect x="81.9" y="2342.2" width="151.0" height="151.0"/></clipPath>
<rect x="81.9" y="2342.2" width="151.0" height="151.0" fill="#040604"/>
<g clip-path="url(#cp4)">
<circle cx="171.1" cy="2417.1" r="0.7" fill="#4fae68" opacity="0.7"/>
<circle cx="169.9" cy="2432.0" r="0.7" fill="#4fae68" opacity="0.7"/>
<circle cx="163.8" cy="2405.7" r="0.7" fill="#4fae68" opacity="0.7"/>
<circle cx="170.9" cy="2410.9" r="0.7" fill="#4fae68" opacity="0.7"/>
<circle cx="174.3" cy="2421.1" r="0.7" fill="#4fae68" opacity="0.7"/>
<circle cx="147.1" cy="2409.2" r="0.7" fill="#4fae68" opacity="0.7"/>
<circle cx="160.1" cy="2435.5" r="0.7" fill="#4fae68" opacity="0.7"/>
<circle cx="157.9" cy="2408.2" r="0.7" fill="#4fae68" opacity="0.7"/>
<circle cx="151.8" cy="2416.3" r="0.7" fill="#4fae68" opacity="0.7"/>
<circle cx="154.8" cy="2432.6" r="0.7" fill="#4fae68" opacity="0.7"/>
<circle cx="154.8" cy="2428.5" r="0.7" fill="#4fae68" opacity="0.7"/>
<circle cx="174.6" cy="2412.3" r="0.7" fill="#4fae68" opacity="0.7"/>
<circle cx="154.6" cy="2407.9" r="0.7" fill="#4fae68" opacity="0.7"/>
<circle cx="166.8" cy="2403.9" r="0.7" fill="#4fae68" opacity="0.7"/>
<ellipse cx="159.7" cy="2418.7" rx="5.6" ry="7.4" fill="#5cc784" stroke="#e6f8ea" stroke-width="2.2"/>
</g>
<clipPath id="cp5"><rect x="242.2" y="2342.2" width="151.2" height="150.2"/></clipPath>
<rect x="242.2" y="2342.2" width="151.2" height="150.2" fill="#040604"/>
<g clip-path="url(#cp5)">
<circle cx="321.2" cy="2418.7" r="49.9" fill="url(#gl)" opacity="0.81"/>
<path d="M326.3 2419.2C351.7 2426.1 373.7 2435.0 387.4 2452.6M307.0 2420.1C300.6 2415.1 294.9 2413.7 294.2 2402.2M316.2 2421.1C304.1 2430.0 293.2 2437.9 289.5 2450.7M320.0 2425.4C310.6 2449.8 284.3 2460.9 263.0 2466.4M307.2 2429.7C299.9 2435.6 287.9 2431.4 281.9 2435.1M328.6 2431.3C339.1 2451.8 362.6 2459.8 371.2 2475.0M321.3 2400.0C317.9 2393.1 316.1 2386.8 309.0 2383.1M334.7 2420.6C347.6 2422.9 356.4 2434.2 365.3 2438.0M324.2 2434.8C326.8 2447.6 339.4 2455.6 343.2 2464.4M312.9 2421.5C299.7 2419.3 288.3 2418.7 282.2 2402.4M330.8 2414.2C346.6 2411.9 360.9 2412.0 372.9 2421.6M321.7 2403.7C327.0 2391.7 330.7 2381.0 343.7 2376.0M322.7 2411.4C326.0 2403.9 335.4 2400.9 341.6 2398.5M315.9 2427.9C312.1 2440.8 305.7 2451.0 309.3 2462.6M321.4 2425.6C321.4 2434.1 311.8 2439.7 309.6 2445.6M316.2 2409.4C309.4 2393.5 324.7 2375.5 327.8 2363.0M334.3 2406.1C342.5 2401.7 353.2 2403.7 361.0 2405.0M326.6 2433.5C328.2 2456.8 325.5 2477.9 310.3 2494.3M314.3 2424.8C300.6 2430.9 292.2 2441.8 277.2 2437.6M337.2 2412.1C347.2 2414.7 355.5 2415.8 361.2 2427.9M327.9 2405.3C344.7 2391.5 362.8 2383.3 386.0 2392.1M310.8 2406.7C293.8 2391.4 269.3 2390.5 252.0 2387.8M335.9 2425.2C350.7 2433.7 347.6 2459.2 352.5 2470.9M325.0 2409.2C326.4 2394.7 331.3 2382.6 323.6 2370.6M327.3 2424.9C338.9 2438.6 326.3 2461.0 326.4 2474.2M316.8 2410.8C312.1 2400.4 315.4 2388.6 315.5 2380.1M307.6 2424.0C301.1 2426.5 293.5 2416.2 288.3 2416.7M329.5 2422.1C343.6 2428.3 359.3 2415.4 370.8 2417.0M325.8 2418.8C335.9 2420.0 339.5 2434.0 344.2 2439.9M329.0 2423.5C338.3 2434.1 344.1 2445.6 342.2 2459.1M315.6 2428.7C301.8 2439.5 291.6 2450.9 272.1 2446.3M318.5 2414.7C308.8 2397.7 324.6 2377.0 328.4 2362.9M337.2 2428.8C345.5 2440.6 354.2 2449.3 352.1 2464.4M332.6 2416.0C338.3 2418.8 342.7 2423.0 343.9 2431.1M324.2 2421.8C332.7 2429.3 345.2 2428.1 353.4 2430.1M331.9 2415.6C345.7 2416.6 357.8 2416.1 367.0 2427.6M306.3 2417.3C298.4 2418.8 291.5 2420.9 286.4 2425.8M326.5 2435.5C325.7 2453.8 319.6 2469.9 305.0 2480.9M327.6 2415.9C335.6 2412.9 338.7 2403.5 344.7 2400.9M307.9 2417.1C293.7 2413.5 282.4 2405.5 273.7 2398.1M330.4 2424.8C345.0 2443.1 348.7 2466.0 339.4 2488.0M311.4 2435.1C306.1 2448.0 306.7 2461.7 307.2 2472.6M322.6 2422.6C324.6 2435.8 319.2 2448.0 311.9 2456.7M308.7 2431.6C304.3 2432.9 298.4 2430.5 294.3 2428.5M330.3 2404.6C341.0 2393.7 359.8 2394.9 372.1 2394.3M313.0 2410.1C309.6 2402.2 310.6 2393.4 314.1 2386.0M303.1 2413.9C293.5 2407.2 292.6 2390.6 292.3 2379.9M328.7 2422.2C340.5 2432.0 350.8 2440.8 352.7 2455.1M308.2 2419.8C300.1 2419.0 293.3 2414.1 288.0 2410.5M319.5 2410.4C317.9 2402.1 326.4 2394.8 326.8 2388.5M335.8 2427.4C353.2 2435.2 373.6 2427.2 388.0 2425.6M313.0 2416.1C289.4 2410.3 266.5 2417.0 248.6 2419.7M304.2 2421.2C300.3 2420.9 299.0 2428.8 295.7 2428.1M334.7 2431.8C341.3 2442.0 335.3 2457.7 333.8 2467.4M326.5 2416.8C341.2 2411.9 356.2 2421.2 367.6 2421.1M314.6 2401.9C306.1 2392.5 306.5 2380.3 294.0 2376.6M328.8 2418.6C354.5 2414.3 376.7 2406.1 392.2 2391.4M316.0 2400.5C320.7 2387.5 326.1 2376.7 343.8 2372.6M304.9 2419.8C297.1 2418.6 293.7 2404.2 289.8 2399.5M310.6 2410.9C298.4 2394.8 296.6 2374.2 302.6 2355.9M305.3 2414.8C297.9 2411.1 302.0 2393.4 300.1 2387.5M310.0 2430.5C302.7 2435.0 291.3 2430.4 284.5 2429.2M314.7 2416.5C302.1 2411.9 294.4 2400.8 286.2 2395.3M320.4 2399.7C318.7 2387.9 314.6 2377.8 310.9 2369.6M317.4 2432.8C311.2 2440.5 304.6 2446.6 294.5 2447.6M317.0 2422.6C302.5 2433.3 283.9 2432.7 269.8 2432.2M338.8 2414.1C347.1 2408.0 354.4 2402.7 357.0 2392.9M318.7 2429.3C313.6 2449.0 331.0 2467.1 330.5 2482.4M327.1 2421.3C333.8 2426.2 339.7 2430.8 342.0 2437.5M336.8 2426.7C346.9 2428.0 356.6 2425.4 364.4 2420.2M328.5 2430.2C329.8 2439.7 336.4 2445.5 331.3 2454.8M327.4 2402.9C325.3 2396.0 329.7 2391.5 322.5 2385.7M309.0 2413.7C287.9 2412.3 270.4 2405.3 253.4 2419.3M321.7 2407.0C322.1 2398.5 317.3 2391.2 316.8 2385.0M328.6 2426.2C333.4 2433.6 331.9 2443.6 331.1 2450.7M316.9 2423.7C305.5 2431.3 293.4 2435.1 280.7 2431.1M318.3 2423.4C310.3 2446.0 293.4 2461.0 298.2 2482.9M325.7 2413.1C337.7 2406.3 348.8 2401.1 362.6 2408.4M320.9 2414.1C318.3 2403.0 314.3 2393.6 307.1 2387.4M313.9 2426.4C303.2 2439.0 302.9 2456.4 298.7 2467.8M311.5 2412.1C302.7 2405.1 305.7 2389.6 302.4 2382.0M309.4 2419.4C301.4 2418.0 296.1 2408.6 292.0 2403.5M319.6 2414.6C319.5 2405.7 320.3 2397.8 328.3 2392.2M315.4 2421.6C300.1 2424.9 287.8 2431.6 274.3 2424.5M315.9 2416.1C309.9 2410.0 302.7 2407.1 302.1 2398.2M315.3 2410.5C306.6 2404.6 302.1 2396.3 291.0 2397.4M325.0 2417.0C338.3 2406.6 351.4 2399.4 353.5 2383.0M328.3 2403.1C336.6 2391.0 354.6 2388.9 365.4 2385.2M302.8 2416.7C297.3 2420.0 292.4 2420.3 289.5 2427.4M324.9 2411.5C332.9 2400.4 343.9 2393.4 354.0 2389.3M325.9 2404.3C332.0 2391.0 356.8 2395.0 366.5 2390.3M308.2 2420.0C289.9 2416.5 275.9 2403.7 268.3 2387.9M321.1 2412.6C320.2 2404.5 315.2 2398.1 311.8 2392.9M309.4 2415.8C302.6 2412.7 305.2 2398.1 303.2 2392.7M325.6 2413.7C338.4 2403.5 357.8 2410.0 370.5 2413.5M328.7 2413.0C340.1 2407.9 354.0 2417.1 363.0 2422.2M330.8 2420.9C353.1 2427.2 374.7 2414.0 391.9 2418.0M310.2 2429.4C290.8 2437.7 277.1 2450.2 255.6 2441.2M320.7 2414.4C313.2 2387.9 315.0 2362.7 297.7 2345.8M327.1 2419.4C335.5 2418.6 342.9 2419.5 348.8 2414.8M316.3 2430.3C310.0 2435.3 309.8 2442.8 300.3 2443.1M312.7 2429.4C304.9 2446.1 295.2 2459.3 297.9 2475.8M326.4 2423.1C333.9 2430.3 344.9 2430.3 350.6 2435.8M305.4 2410.6C296.9 2411.6 292.3 2404.7 284.2 2411.7M326.4 2419.1C338.5 2422.5 349.3 2425.1 356.1 2433.4M327.6 2432.4C326.0 2440.2 326.0 2446.4 317.5 2451.7M318.1 2435.0C314.8 2447.2 322.8 2459.2 320.0 2468.6M329.7 2422.8C337.7 2428.0 337.0 2441.1 339.5 2447.8M338.4 2415.6C351.3 2418.8 362.5 2416.4 370.9 2428.3M328.9 2409.6C334.3 2405.9 341.6 2405.9 347.1 2406.1M324.8 2416.2C338.8 2410.7 351.1 2405.4 364.3 2410.9M318.4 2409.7C318.4 2400.1 316.8 2391.9 322.4 2384.6M318.9 2422.3C308.7 2436.0 288.0 2434.2 275.8 2438.0M313.5 2432.2C303.8 2442.5 294.3 2450.8 282.4 2453.6M314.8 2428.1C303.7 2440.9 282.5 2438.2 270.0 2440.7M316.0 2429.6C306.3 2446.2 279.4 2443.2 266.4 2448.9M320.0 2430.9C321.8 2438.0 326.1 2443.8 331.7 2447.6M322.1 2403.8C326.2 2395.6 327.3 2387.8 335.8 2383.7M323.7 2412.4C335.8 2394.3 352.8 2382.9 372.0 2380.3M333.3 2404.9C348.5 2398.2 366.4 2401.8 380.7 2412.3M319.8 2413.4C317.3 2396.3 328.5 2381.3 335.3 2369.9M324.9 2425.3C330.6 2435.0 324.9 2447.3 327.8 2455.3M328.3 2410.0C335.5 2394.3 342.1 2380.5 338.0 2365.2M316.3 2401.8C318.2 2397.6 326.9 2394.8 331.7 2393.5M332.0 2413.2C339.6 2412.6 347.0 2415.8 352.5 2421.1M322.0 2425.0C324.3 2437.9 313.8 2448.9 314.7 2458.9M338.4 2418.5C352.3 2423.5 363.5 2431.6 369.0 2445.2M316.2 2419.3C298.2 2421.8 287.2 2438.7 275.4 2445.1M315.6 2428.8C306.4 2435.7 301.3 2444.1 288.2 2442.1M327.0 2419.3C335.4 2421.9 342.4 2426.0 346.9 2431.9M308.0 2430.0C291.9 2437.0 274.4 2436.5 259.5 2430.1M321.7 2402.5C322.3 2393.5 331.9 2387.1 333.9 2380.7M329.4 2402.9C337.6 2399.9 343.8 2397.0 354.0 2402.7M325.9 2417.7C343.3 2413.5 359.7 2423.0 373.0 2421.6M330.4 2403.3C342.1 2394.4 348.5 2383.3 364.0 2384.0M316.4 2419.4C292.1 2425.2 273.2 2439.2 259.5 2452.9M322.8 2437.4C318.6 2444.6 310.2 2449.3 300.5 2450.5M322.3 2408.0C325.0 2392.9 334.3 2381.1 340.2 2371.2M332.0 2405.8C338.8 2402.3 350.4 2410.3 356.5 2413.4M322.2 2430.3C329.9 2445.5 331.2 2460.6 349.5 2466.2M326.3 2409.6C330.2 2395.1 331.0 2381.4 324.6 2369.3M319.2 2434.9C309.4 2454.8 294.7 2469.6 272.4 2473.5" stroke="#36a34c" stroke-width="0.7" fill="none" opacity="0.6"/>
<path d="M325.3 2423.2C332.0 2438.2 336.2 2452.3 327.0 2467.1M327.0 2416.5C350.0 2409.5 372.7 2423.9 390.0 2428.3M306.4 2429.1C298.7 2427.9 294.2 2431.4 287.2 2423.5M333.2 2416.1C349.1 2415.3 360.5 2434.4 369.4 2443.0M315.0 2419.2C290.9 2425.2 271.8 2438.2 259.8 2455.0M314.0 2401.7C313.8 2389.2 308.0 2379.8 315.6 2369.1M319.6 2428.6C312.2 2442.2 305.1 2454.0 289.0 2456.9M327.4 2416.7C343.3 2411.9 359.3 2419.2 371.5 2419.7M303.5 2418.0C296.3 2415.6 294.2 2402.2 291.2 2396.9M318.4 2431.0C314.8 2441.4 297.7 2442.6 291.2 2447.5M321.6 2424.0C323.3 2447.2 310.1 2466.9 307.4 2483.9M333.0 2421.4C342.1 2425.2 340.6 2442.4 343.3 2449.3M306.6 2412.8C292.3 2403.2 289.8 2382.2 287.4 2368.2M324.5 2423.3C337.2 2440.5 357.9 2446.5 369.9 2456.5M313.8 2412.3C306.5 2400.7 304.6 2387.5 308.9 2375.1M323.6 2414.2C328.2 2404.5 340.6 2402.3 345.3 2395.7M314.4 2428.4C299.2 2445.6 274.8 2448.6 257.9 2453.0M337.0 2419.4C343.5 2420.4 345.9 2432.5 349.9 2435.1M314.7 2417.9C290.5 2419.6 269.2 2412.7 251.4 2425.2M313.3 2429.9C306.8 2433.1 298.2 2431.6 291.3 2428.1M307.6 2418.4C292.1 2418.5 281.3 2402.6 269.8 2400.8M329.5 2431.6C336.2 2437.0 341.7 2442.0 349.8 2442.5M316.3 2422.7C309.7 2427.8 310.8 2438.3 306.5 2443.0M314.6 2425.4C308.0 2427.5 303.2 2430.6 296.2 2426.9M315.6 2421.9C309.8 2426.9 303.4 2429.5 300.9 2435.6M317.9 2412.1C317.4 2403.3 314.9 2396.1 322.0 2389.1M323.8 2423.2C328.8 2435.9 322.8 2449.6 318.1 2459.5M326.1 2417.6C349.8 2416.3 370.7 2425.5 385.5 2438.9M305.7 2418.7C298.7 2419.4 294.6 2429.8 290.1 2432.4M306.7 2415.3C298.2 2409.6 292.8 2401.1 291.1 2391.4M315.2 2404.6C311.1 2400.9 305.6 2399.1 300.2 2398.9M323.3 2411.7C329.0 2395.1 352.0 2392.2 361.8 2383.7M307.1 2414.3C299.4 2409.7 295.1 2400.9 292.0 2394.1M331.7 2409.7C344.0 2403.9 354.6 2398.3 366.8 2400.9M320.0 2412.6C316.7 2387.3 327.1 2364.5 333.5 2346.4M329.0 2421.0C334.9 2425.4 341.6 2425.6 344.1 2432.7M308.4 2420.6C296.0 2418.3 285.3 2422.6 276.3 2413.4M337.7 2410.7C357.5 2400.5 364.9 2377.0 376.7 2365.7M329.6 2425.8C336.9 2430.3 344.3 2433.2 351.1 2434.1M312.2 2423.4C301.3 2425.3 293.0 2430.6 283.3 2425.9M313.3 2418.5C302.6 2416.1 297.4 2402.9 293.4 2394.9M312.3 2415.5C307.4 2411.2 307.9 2402.1 308.7 2396.2M330.9 2425.3C345.4 2444.4 363.8 2455.6 360.4 2481.0M322.6 2429.2C322.8 2440.8 306.8 2447.8 301.4 2454.6M314.1 2411.8C302.0 2391.4 303.9 2367.1 313.7 2347.4M318.3 2434.2C314.7 2444.9 300.4 2449.4 293.7 2454.8M325.1 2413.6C339.0 2393.5 338.9 2369.0 342.2 2351.0M320.8 2407.0C323.7 2388.1 346.5 2378.3 360.1 2370.9M318.7 2414.9C313.9 2408.0 316.6 2398.8 314.2 2393.0M317.5 2416.9C306.2 2410.1 297.3 2402.0 291.5 2393.7M316.6 2413.8C311.1 2405.9 312.4 2395.4 312.7 2387.9M326.4 2434.5C332.9 2441.5 333.6 2450.0 343.9 2452.0M325.6 2410.6C334.1 2404.1 339.2 2396.4 351.3 2398.5M316.2 2408.7C311.6 2401.9 305.7 2397.0 300.7 2393.3M335.1 2406.8C344.7 2401.6 358.3 2408.3 366.8 2409.8M311.4 2410.1C299.8 2404.0 288.5 2400.2 277.1 2402.2M309.5 2408.9C304.2 2402.1 302.2 2393.8 301.2 2387.0M318.4 2429.4C311.4 2438.7 306.2 2447.2 293.5 2448.2M309.4 2407.7C304.4 2394.0 300.8 2381.8 309.7 2367.8M335.2 2425.8C341.4 2427.4 347.5 2427.0 352.6 2425.9M311.5 2411.1C299.6 2399.8 298.5 2381.9 294.6 2370.2M334.6 2419.4C350.4 2423.7 363.8 2430.4 372.4 2441.7M314.3 2428.2C303.1 2437.4 291.7 2443.9 278.7 2443.6M321.2 2414.5C321.5 2402.9 312.9 2393.9 311.3 2385.5M303.8 2414.2C296.0 2410.2 300.8 2391.1 298.6 2384.8M307.3 2430.4C288.4 2434.8 273.1 2440.7 255.2 2425.8M317.5 2403.9C312.2 2398.6 311.4 2392.4 302.8 2391.3M330.0 2435.0C333.4 2437.0 335.8 2439.0 339.9 2439.0M335.0 2421.3C344.3 2422.7 352.7 2413.5 359.5 2412.4M312.0 2415.8C298.5 2406.5 290.7 2392.5 290.9 2376.3M304.7 2425.0C300.3 2429.6 297.3 2434.8 296.6 2441.0M332.5 2413.9C349.9 2413.9 364.1 2407.7 377.8 2422.6M321.1 2413.1C320.5 2398.6 313.1 2386.7 310.5 2376.3M337.1 2427.0C343.8 2437.5 346.7 2448.9 341.0 2462.4M333.6 2420.9C344.2 2422.7 350.1 2434.7 357.7 2437.5M319.7 2409.7C317.6 2397.5 329.2 2387.2 330.0 2378.0M321.4 2404.1C320.5 2381.6 301.5 2364.9 294.3 2349.8M315.9 2412.6C311.1 2405.6 317.7 2394.9 318.0 2388.6M321.8 2414.6C325.6 2397.6 336.7 2385.1 345.7 2375.3" stroke="#17662b" stroke-width="0.8" fill="none" opacity="0.6"/>
<path d="M307.9 2422.1C296.5 2421.2 287.0 2424.8 278.3 2417.4M333.2 2430.1C343.8 2439.7 337.4 2459.3 343.5 2468.3M316.4 2410.0C310.8 2389.2 301.4 2372.4 309.6 2353.7M322.1 2407.8C326.5 2397.0 340.5 2392.6 350.9 2390.6M323.4 2414.2C333.3 2397.9 345.9 2385.9 357.6 2377.4M305.6 2410.3C297.0 2399.7 285.4 2396.0 285.0 2381.4M306.9 2406.5C300.9 2398.9 307.0 2384.6 306.8 2377.1M311.7 2412.6C302.3 2402.0 292.4 2394.5 291.5 2381.1M324.8 2425.6C328.2 2440.9 329.3 2454.9 320.9 2467.2M331.5 2430.5C335.0 2437.4 330.0 2447.5 328.7 2453.7M320.8 2426.1C323.0 2435.3 323.2 2443.6 330.2 2449.3M313.7 2415.1C302.0 2409.0 288.0 2416.4 278.5 2413.5M328.6 2424.6C341.4 2438.0 341.9 2458.0 343.1 2472.4M324.4 2413.8C332.2 2402.2 348.3 2400.9 356.6 2394.8M332.4 2419.1C341.9 2423.4 349.4 2429.6 352.1 2440.3M323.7 2437.1C326.3 2440.2 327.6 2443.0 331.6 2444.4M310.9 2429.1C299.3 2439.3 303.4 2458.9 295.1 2467.5M310.3 2431.9C304.1 2438.9 291.7 2437.4 285.9 2441.2M317.7 2412.6C312.8 2391.1 311.4 2371.3 327.3 2354.5M334.3 2426.2C342.1 2431.3 343.4 2442.6 347.6 2448.0M316.9 2409.1C316.1 2391.9 318.4 2376.4 334.1 2365.5M320.0 2425.2C311.8 2447.9 287.5 2458.7 268.9 2465.3M319.8 2401.6C324.3 2387.8 334.6 2377.3 348.9 2372.6M331.7 2415.3C337.3 2414.4 342.9 2416.5 347.2 2417.6M312.4 2407.7C309.6 2391.4 306.0 2377.9 321.3 2363.6M334.3 2424.6C343.2 2429.4 339.5 2446.8 343.4 2453.2M327.3 2427.7C334.4 2439.6 331.8 2454.2 333.5 2464.3M313.0 2419.2C303.5 2420.8 297.1 2429.3 291.4 2433.8M328.9 2404.2C339.4 2395.9 354.9 2396.3 367.8 2401.2" stroke="#a9bcae" stroke-width="0.55" fill="none" opacity="0.42"/>
<circle cx="321.2" cy="2418.7" r="19.2" fill="url(#gc)"/>
<circle cx="321.2" cy="2418.7" r="4.1" fill="#2fae54" stroke="#eefaf0" stroke-width="2.0"/>
</g>
<clipPath id="cp6"><rect x="81.9" y="2542.4" width="151.0" height="150.2"/></clipPath>
<rect x="81.9" y="2542.4" width="151.0" height="150.2" fill="#040604"/>
<g clip-path="url(#cp6)">
<circle cx="161.8" cy="2617.9" r="54.6" fill="url(#gl)" opacity="0.85"/>
<path d="M176.0 2613.2C201.9 2615.9 224.5 2614.2 239.4 2642.3M169.1 2615.3C190.7 2611.1 208.9 2632.4 222.0 2643.3M148.6 2613.4C143.2 2605.2 138.7 2598.4 143.7 2586.2M151.4 2599.6C151.5 2592.8 163.8 2585.3 169.1 2581.4M158.0 2616.4C133.4 2607.9 108.5 2614.8 89.3 2615.4M160.6 2625.4C160.4 2639.4 166.3 2651.5 172.2 2660.8M154.0 2619.4C143.0 2618.7 133.5 2614.2 127.1 2606.3M149.1 2615.2C128.5 2604.0 109.3 2596.1 102.7 2573.5M144.9 2621.6C140.2 2622.9 138.2 2629.9 134.9 2631.5M164.5 2610.8C171.0 2602.8 178.0 2596.5 188.4 2596.2M160.5 2628.1C151.2 2643.8 141.6 2656.8 120.1 2656.5M157.3 2616.0C144.1 2612.1 131.0 2614.9 120.7 2618.1M165.7 2599.7C172.2 2595.2 179.7 2592.9 189.5 2595.8M156.0 2618.0C140.5 2613.7 129.3 2602.5 125.6 2587.0M155.9 2620.5C144.9 2629.5 134.7 2636.8 133.3 2650.7M159.7 2601.2C162.4 2577.5 184.6 2560.7 202.5 2550.2M169.6 2604.9C180.0 2594.7 200.5 2600.8 212.4 2602.8M170.1 2601.9C174.9 2600.3 175.1 2596.3 181.5 2597.6M159.7 2623.0C153.8 2631.1 148.5 2638.1 139.7 2640.3M157.7 2608.0C156.7 2593.9 161.2 2581.0 171.9 2571.9M167.5 2615.0C189.0 2606.8 210.8 2608.4 228.4 2611.9M169.0 2606.0C176.6 2600.9 187.3 2601.4 196.0 2604.5M155.9 2627.9C146.1 2644.0 154.2 2664.7 149.9 2678.1M159.4 2632.1C152.8 2646.9 138.7 2656.2 125.5 2661.2M153.1 2614.8C144.4 2613.6 136.2 2616.6 129.8 2620.0M166.4 2621.1C177.6 2632.4 187.9 2642.0 190.3 2655.4M180.8 2618.9C186.2 2617.9 189.8 2609.7 193.1 2607.1M148.9 2617.7C135.9 2615.6 125.7 2606.6 117.7 2600.2M158.4 2632.9C153.3 2647.3 132.7 2651.1 123.5 2657.8M159.2 2610.0C160.9 2586.3 162.5 2565.4 188.2 2553.3M164.5 2621.4C171.5 2637.0 181.0 2649.1 175.9 2665.0M148.1 2607.1C144.0 2596.5 135.7 2591.4 140.5 2578.4M167.7 2625.9C171.3 2632.7 171.0 2640.6 171.0 2646.6M152.1 2633.0C139.8 2641.0 123.6 2640.5 109.6 2634.0M159.1 2635.2C160.5 2644.2 165.6 2651.9 171.7 2657.4M169.0 2629.7C174.3 2644.6 161.2 2661.3 155.0 2672.4M150.6 2606.7C143.9 2592.3 143.5 2576.8 150.6 2562.7M165.7 2621.1C185.9 2636.5 189.1 2663.6 203.2 2676.8M155.1 2621.2C137.3 2629.8 126.0 2645.0 113.4 2652.6M163.0 2622.1C163.3 2640.1 157.2 2655.9 143.3 2665.9M150.0 2617.0C128.9 2612.4 122.0 2583.7 113.9 2569.2M162.6 2624.0C161.1 2642.3 145.5 2655.2 131.9 2662.9M157.1 2615.2C146.9 2603.6 139.7 2591.7 145.2 2575.5M151.9 2622.1C134.8 2629.8 115.7 2621.3 102.1 2624.8M180.2 2611.6C186.7 2603.0 195.1 2600.7 194.0 2587.3M150.8 2633.6C140.7 2637.8 128.0 2635.1 117.7 2627.9M143.9 2608.1C136.0 2593.0 127.7 2581.7 137.5 2561.8M157.8 2616.7C143.3 2614.5 130.0 2615.6 119.3 2621.1M167.0 2608.8C175.5 2603.8 182.4 2599.2 193.5 2604.1M158.4 2637.0C151.8 2646.9 138.2 2651.2 126.4 2652.0M159.1 2604.6C157.7 2591.0 140.8 2584.6 139.4 2573.8M156.4 2612.4C142.0 2597.4 143.2 2574.5 136.4 2560.7M157.8 2613.7C141.2 2597.3 119.5 2591.2 104.4 2582.9M160.1 2635.4C154.9 2646.1 152.2 2656.0 141.4 2661.1M159.2 2606.0C159.0 2591.7 161.0 2578.9 167.4 2568.8M163.3 2604.4C160.6 2588.9 160.2 2575.1 148.9 2565.3M158.5 2615.5C150.1 2606.4 144.4 2596.7 143.8 2586.1M156.9 2636.5C145.3 2646.9 140.4 2658.6 120.2 2656.0M161.9 2613.1C159.4 2601.3 156.2 2590.9 147.4 2584.5M158.7 2602.1C155.3 2592.5 147.1 2585.7 141.4 2580.2M179.1 2607.5C190.9 2594.4 200.6 2582.0 201.3 2565.5M159.9 2610.3C156.4 2591.8 175.3 2576.5 180.8 2563.7M169.8 2610.5C185.6 2604.8 200.6 2602.8 215.3 2614.7M167.2 2623.4C177.1 2641.2 190.0 2654.1 185.0 2674.1M175.6 2615.9C187.7 2617.1 196.7 2629.0 202.9 2637.2M160.4 2611.9C155.8 2598.7 147.6 2588.5 139.7 2581.0M174.0 2611.5C182.6 2608.7 192.6 2617.5 199.1 2619.6M177.2 2619.5C189.6 2618.1 199.8 2609.8 207.3 2602.6M167.9 2626.3C173.4 2642.8 174.2 2658.8 164.0 2673.1M149.2 2614.0C141.2 2605.2 135.7 2596.0 139.8 2581.8M165.2 2612.0C175.0 2597.6 196.5 2598.4 208.5 2593.7M172.7 2614.1C194.7 2611.6 214.9 2617.3 230.0 2630.1M168.5 2611.4C179.2 2595.4 187.4 2580.1 185.8 2563.2M144.2 2616.5C121.3 2617.0 101.9 2628.5 86.3 2636.0M151.8 2601.7C147.7 2591.3 167.1 2578.2 170.3 2570.5M146.0 2621.7C139.4 2619.0 134.5 2611.3 132.5 2603.4M161.5 2623.0C160.2 2643.7 141.5 2657.5 135.2 2671.6M155.7 2631.5C145.2 2645.7 132.9 2656.2 118.5 2660.6M157.7 2616.6C148.7 2613.2 144.2 2603.9 139.3 2598.7M172.1 2605.3C176.3 2602.0 186.0 2608.1 189.9 2607.8M154.1 2619.3C138.7 2621.1 124.9 2614.2 113.8 2611.0M166.1 2607.6C174.2 2592.1 197.3 2591.4 209.0 2585.7M150.3 2626.6C134.2 2632.4 119.6 2636.6 104.6 2629.7M143.3 2607.9C139.8 2605.3 132.8 2614.3 130.0 2611.9M148.9 2605.7C146.0 2591.3 142.4 2579.8 155.9 2565.7M148.7 2630.4C138.3 2638.2 139.6 2654.3 131.0 2660.0M146.5 2619.2C139.5 2614.6 134.3 2609.1 133.7 2598.5M154.0 2631.0C144.0 2635.2 138.8 2642.1 125.6 2636.2M171.9 2602.9C180.3 2598.1 185.4 2591.8 195.7 2593.4M169.8 2610.1C180.8 2596.2 182.5 2578.4 184.1 2564.7M170.3 2615.1C183.4 2612.7 195.8 2618.5 205.3 2622.5M151.2 2627.1C137.2 2643.0 135.5 2665.1 133.4 2681.4M157.1 2608.0C151.1 2602.5 146.5 2597.2 138.0 2597.4M177.7 2607.8C187.5 2610.6 194.6 2610.4 200.7 2623.9M155.3 2603.8C153.0 2592.0 151.5 2581.4 155.1 2571.7M161.0 2624.4C161.5 2643.9 163.9 2661.3 173.2 2674.5M152.0 2611.3C145.3 2607.0 135.5 2612.9 129.9 2611.2M167.5 2603.7C179.3 2593.4 186.3 2582.0 205.0 2585.0M155.1 2615.1C140.4 2606.5 129.1 2595.8 122.6 2583.8M173.4 2603.4C179.8 2604.3 183.2 2602.8 189.7 2609.6M170.7 2623.2C176.2 2630.8 182.7 2635.7 181.1 2646.0M156.0 2622.8C142.8 2636.3 138.2 2654.2 133.8 2667.9M177.6 2608.4C186.0 2604.8 196.0 2608.1 202.8 2608.1M145.4 2616.0C130.2 2608.3 114.9 2608.6 107.4 2592.5M163.9 2612.7C169.2 2604.8 178.0 2600.9 186.0 2599.4M155.7 2600.1C157.9 2593.9 158.8 2588.7 165.9 2584.7M151.8 2628.1C135.5 2637.8 115.2 2635.3 99.3 2629.2M158.0 2621.3C135.7 2636.9 107.9 2635.3 86.5 2632.3M153.3 2614.0C147.6 2609.2 143.1 2604.1 141.7 2597.7M165.2 2625.4C166.8 2654.3 166.6 2680.0 137.0 2697.4M149.3 2623.7C133.3 2633.5 127.5 2653.1 121.0 2665.8M179.2 2619.0C198.3 2624.1 211.5 2640.5 220.8 2653.8M154.0 2613.6C145.3 2603.3 141.8 2590.8 146.4 2577.4M177.4 2619.9C189.8 2626.1 195.5 2641.6 197.5 2654.5M161.9 2613.3C162.1 2599.5 172.8 2589.2 174.8 2579.2M161.6 2634.6C157.6 2641.0 147.9 2644.0 139.9 2644.7M166.1 2606.1C170.8 2597.7 188.3 2602.4 195.3 2600.5M173.9 2618.6C185.6 2624.4 193.6 2634.6 195.1 2648.3M172.7 2623.5C178.5 2627.0 176.8 2638.0 179.8 2641.9M154.2 2605.0C148.1 2601.0 142.5 2598.0 134.9 2599.3M172.5 2610.7C183.9 2606.5 197.3 2616.3 206.0 2621.5M161.4 2611.5C162.4 2598.9 170.9 2589.0 177.4 2581.5M154.0 2619.2C135.3 2616.8 118.7 2618.2 107.2 2602.3M163.0 2613.4C168.3 2603.0 177.4 2596.3 187.6 2593.9M162.3 2628.5C155.6 2645.2 151.8 2660.2 130.7 2664.8M165.9 2617.9C186.2 2614.6 204.2 2610.0 216.0 2596.6M167.9 2615.8C193.0 2615.0 215.2 2622.3 228.5 2644.8M158.2 2628.1C150.8 2651.9 125.7 2663.2 117.9 2680.2M169.6 2613.5C186.4 2603.4 207.1 2609.6 220.6 2603.5M152.7 2625.1C138.5 2627.8 127.3 2632.7 114.2 2620.3M171.2 2618.2C182.4 2615.6 191.9 2611.7 198.1 2603.3M151.6 2623.7C138.7 2625.7 126.3 2621.2 117.3 2611.3M151.2 2616.4C131.0 2611.8 127.4 2581.7 118.5 2569.3M160.8 2632.5C160.3 2640.6 146.3 2643.7 144.4 2649.5M171.1 2607.5C180.3 2592.4 192.8 2582.3 194.6 2567.5M149.2 2630.3C141.3 2631.1 138.2 2636.9 129.4 2631.6M157.2 2615.8C141.2 2606.2 135.7 2587.2 130.6 2573.8M169.3 2629.0C171.6 2635.2 165.1 2643.3 163.4 2648.2M160.6 2635.5C155.2 2649.5 155.5 2662.9 143.6 2671.2M161.5 2604.0C159.2 2591.9 154.2 2581.7 148.3 2573.9M156.9 2625.3C145.9 2638.1 132.5 2646.2 120.0 2650.6" stroke="#36a34c" stroke-width="0.7" fill="none" opacity="0.6"/>
<path d="M149.5 2629.1C140.8 2638.4 123.5 2631.7 116.2 2638.6M176.5 2629.2C184.5 2638.5 174.3 2657.4 173.4 2666.9M151.5 2609.8C130.0 2594.4 107.3 2586.0 89.3 2578.2M158.4 2621.3C143.7 2629.1 127.7 2629.4 113.7 2619.6M145.4 2610.1C140.3 2605.9 131.7 2614.0 127.8 2609.4M146.6 2607.4C135.8 2596.7 135.7 2578.9 133.7 2567.2M171.3 2608.9C188.3 2600.4 199.0 2587.0 217.5 2590.4M160.1 2623.0C148.8 2644.1 136.1 2661.5 117.5 2669.8M149.1 2611.7C127.4 2596.7 113.4 2576.2 105.5 2556.6M166.0 2617.3C193.0 2612.8 215.3 2600.8 233.9 2593.0M154.8 2624.6C130.3 2638.6 109.0 2651.8 82.8 2644.6M167.9 2620.7C181.6 2632.1 190.5 2645.9 189.6 2663.1M164.8 2599.6C167.6 2595.2 175.1 2593.4 179.4 2591.8M170.6 2632.2C171.7 2644.9 172.0 2656.0 162.0 2666.1M167.9 2616.2C178.6 2614.4 184.6 2603.6 193.2 2602.6M163.1 2607.2C163.2 2580.9 149.9 2558.5 139.3 2541.2M176.6 2619.2C189.9 2625.7 198.4 2638.5 200.8 2653.2M151.2 2614.5C141.7 2609.2 133.4 2604.4 128.8 2596.5M165.5 2624.1C175.1 2641.2 165.3 2662.2 167.0 2676.6M162.7 2611.3C169.7 2591.8 177.6 2574.9 194.0 2566.0M168.2 2623.2C185.9 2635.9 204.7 2643.0 220.5 2647.5M162.7 2605.3C162.1 2588.7 152.5 2574.8 146.3 2563.8M168.5 2614.9C182.8 2610.6 197.4 2616.6 208.4 2620.4M158.1 2622.7C150.7 2637.8 146.8 2652.5 150.7 2666.7M158.6 2613.2C143.6 2591.6 119.3 2582.3 104.4 2569.8M156.3 2637.6C149.2 2655.3 125.7 2661.4 114.5 2670.2M148.4 2608.7C144.9 2604.3 145.1 2597.3 144.6 2592.7M155.6 2600.7C155.2 2592.1 154.5 2584.6 158.3 2577.8M166.7 2630.9C172.3 2649.3 161.2 2668.2 159.0 2682.3M153.3 2619.9C143.0 2619.5 135.2 2609.2 130.3 2601.6M146.2 2624.7C139.5 2624.7 133.1 2621.5 128.2 2617.5M172.9 2627.5C182.1 2633.2 192.6 2634.6 201.1 2635.3M166.2 2614.2C180.8 2606.4 198.1 2611.2 210.9 2617.7M176.9 2620.1C188.1 2622.7 196.1 2631.4 203.4 2635.9M158.8 2629.5C154.6 2640.5 162.7 2652.0 158.5 2660.5M145.7 2604.6C135.5 2586.3 139.7 2563.0 150.3 2544.7M161.7 2623.8C164.3 2639.9 168.7 2653.8 178.9 2663.3M167.4 2619.6C193.2 2624.2 216.8 2624.2 236.4 2617.8M155.5 2617.3C146.5 2612.9 137.4 2613.0 133.6 2602.5M169.0 2625.3C177.9 2633.9 193.4 2629.9 201.8 2633.4M154.4 2604.7C149.2 2583.9 145.2 2565.2 154.4 2547.4M164.2 2625.4C173.2 2638.6 174.5 2653.4 190.0 2658.4M180.2 2617.2C187.6 2612.7 194.3 2610.1 197.1 2601.0M166.7 2620.1C183.6 2628.5 185.3 2651.8 192.9 2663.6M156.5 2621.0C143.8 2624.8 132.4 2627.7 121.4 2622.2M165.1 2613.9C176.4 2600.3 196.6 2601.3 207.9 2594.6M173.4 2634.9C172.0 2640.0 165.7 2645.4 160.0 2648.5M172.0 2611.5C178.2 2607.9 187.4 2616.2 192.7 2615.5M164.4 2605.0C167.4 2594.8 159.5 2584.7 162.0 2576.8M147.7 2614.9C125.5 2607.9 103.6 2622.5 86.3 2616.4M177.2 2613.2C198.0 2611.5 216.7 2611.2 232.3 2620.1M158.5 2625.0C151.3 2653.0 138.8 2675.9 146.5 2700.1M175.6 2610.0C184.6 2602.0 189.0 2590.8 191.5 2581.2M155.5 2621.4C142.6 2627.6 128.6 2626.3 118.1 2627.3M160.7 2613.0C158.4 2594.3 161.4 2577.2 165.8 2563.5M162.7 2625.6C161.1 2641.1 152.6 2653.7 141.4 2661.8M143.2 2611.9C139.3 2614.0 137.2 2610.1 133.7 2614.7M174.3 2616.4C182.5 2615.0 189.4 2623.7 195.7 2623.1M158.1 2631.3C149.2 2639.9 142.3 2647.8 127.1 2645.2M163.0 2597.8C171.9 2585.9 173.6 2574.0 192.6 2572.0M158.7 2622.5C144.3 2647.9 136.3 2673.2 133.8 2695.4M176.3 2626.7C187.0 2634.4 185.8 2652.2 190.4 2660.8M149.4 2628.6C141.7 2630.8 135.5 2633.5 127.9 2630.3M168.4 2618.0C185.5 2623.3 201.6 2623.2 210.7 2638.9M151.2 2615.4C134.7 2612.1 120.1 2627.2 108.0 2629.7M149.2 2614.9C134.1 2607.5 120.3 2601.5 112.9 2588.8M156.8 2624.4C146.9 2637.5 129.0 2639.5 119.7 2647.4M158.8 2613.5C151.7 2596.4 150.1 2579.3 156.5 2564.3M166.2 2630.5C167.1 2638.7 164.2 2646.6 161.1 2652.8M174.1 2621.2C186.6 2630.0 200.3 2632.0 204.4 2647.7M146.2 2613.5C129.4 2600.8 121.2 2581.0 124.2 2559.0M153.3 2613.8C137.4 2604.1 133.4 2583.3 127.8 2570.3M168.0 2618.6C176.2 2621.2 182.7 2626.3 186.8 2632.2M146.5 2631.0C142.0 2633.2 133.3 2625.4 129.5 2625.3M152.8 2619.2C139.0 2616.2 126.8 2613.7 120.1 2600.0M164.7 2623.4C171.8 2642.6 164.6 2662.8 158.3 2677.8M169.1 2604.9C174.0 2599.4 180.8 2596.3 186.4 2594.3M152.3 2602.5C149.5 2593.0 147.8 2584.4 150.0 2576.1M165.2 2627.0C168.0 2651.3 177.0 2671.4 164.4 2691.4M165.6 2615.5C174.7 2612.6 184.1 2616.5 190.8 2622.5M153.4 2614.6C144.0 2607.0 141.1 2594.2 142.6 2582.7M163.5 2613.4C172.2 2599.8 177.7 2586.5 191.4 2581.3M152.2 2621.1C142.2 2622.9 132.7 2620.5 125.2 2618.2M171.5 2636.4C171.0 2641.0 170.7 2644.9 167.6 2648.7M165.8 2619.9C183.0 2627.5 200.9 2626.6 214.7 2628.3M163.6 2611.4C167.9 2598.5 183.8 2593.8 190.8 2586.7M170.3 2635.1C172.8 2644.7 164.6 2655.5 162.0 2662.9M165.9 2620.6C172.4 2630.1 176.7 2639.3 170.7 2651.1M146.4 2608.7C140.8 2596.8 133.1 2589.6 139.9 2574.1M174.4 2631.0C178.2 2642.6 188.9 2647.2 185.0 2660.3" stroke="#17662b" stroke-width="0.8" fill="none" opacity="0.6"/>
<path d="M149.5 2629.4C134.9 2633.3 125.9 2642.9 109.9 2633.6M166.0 2620.2C189.0 2634.6 199.8 2659.3 210.6 2676.4M168.0 2612.5C176.2 2606.1 176.8 2594.4 182.5 2589.1M160.0 2623.2C153.2 2631.7 148.2 2639.7 136.5 2639.9M151.6 2609.4C141.4 2606.3 135.9 2598.2 125.0 2602.1M152.9 2610.9C142.6 2601.8 150.5 2582.2 147.9 2572.4M167.8 2615.3C185.5 2605.3 196.4 2589.3 204.4 2575.9M147.4 2623.1C137.2 2621.1 128.4 2618.7 122.7 2607.6M171.2 2607.9C177.6 2602.0 173.6 2590.1 178.2 2585.2M154.2 2615.1C138.2 2604.9 123.6 2596.4 118.4 2579.9M176.1 2630.2C182.0 2637.7 170.6 2653.6 170.3 2660.8M163.8 2627.3C169.8 2643.0 180.5 2654.8 191.7 2662.5M172.6 2601.3C170.3 2596.2 172.5 2593.7 166.1 2589.2M159.5 2635.1C160.8 2657.3 161.8 2677.1 172.5 2692.6M165.7 2616.1C172.8 2609.3 180.8 2605.6 181.0 2595.2M168.1 2621.2C183.4 2627.3 197.0 2633.2 209.9 2633.1M145.9 2628.6C130.9 2634.5 113.4 2626.9 101.0 2622.5M167.3 2616.1C185.6 2611.1 203.5 2619.2 217.4 2621.8M151.4 2610.7C142.7 2596.2 133.2 2585.0 140.5 2566.6M165.8 2618.2C186.9 2618.9 205.6 2613.3 220.7 2608.6M168.1 2626.5C172.3 2640.5 176.8 2652.3 168.9 2665.4M168.9 2627.8C169.8 2635.5 173.4 2641.0 168.2 2648.3M166.0 2620.4C175.5 2631.2 179.8 2644.2 174.2 2658.3M155.3 2611.7C140.5 2602.0 127.4 2593.2 112.4 2593.1M165.5 2621.3C189.5 2637.2 206.1 2657.5 230.5 2660.0M151.3 2632.4C142.2 2638.6 134.9 2644.9 124.4 2644.6M163.8 2613.8C171.9 2592.7 178.1 2573.5 178.6 2556.2M171.5 2635.4C167.6 2641.7 168.2 2645.8 157.7 2649.6M180.5 2624.0C192.3 2623.7 202.7 2623.2 211.3 2616.0" stroke="#a9bcae" stroke-width="0.55" fill="none" opacity="0.42"/>
<circle cx="161.8" cy="2617.9" r="21.0" fill="url(#gc)"/>
<circle cx="161.8" cy="2617.9" r="4.1" fill="#2fae54" stroke="#eefaf0" stroke-width="2.0"/>
</g>
<clipPath id="cp7"><rect x="242.2" y="2542.4" width="151.2" height="150.2"/></clipPath>
<rect x="242.2" y="2542.4" width="151.2" height="150.2" fill="#040604"/>
<g clip-path="url(#cp7)">
<circle cx="322.0" cy="2618.9" r="53.0" fill="url(#gl)" opacity="0.81"/>
<path d="M330.1 2613.0C339.6 2607.2 353.0 2618.1 361.1 2618.3M336.7 2605.1C346.4 2600.3 359.3 2604.2 368.2 2606.6M338.0 2614.5C351.0 2616.9 362.0 2623.3 368.2 2636.5M331.7 2603.1C338.2 2593.6 356.2 2597.5 363.2 2592.7M325.3 2632.2C322.2 2640.7 324.8 2647.8 314.5 2653.0M320.4 2605.7C316.7 2580.4 292.3 2564.7 283.3 2548.1M321.9 2625.5C318.1 2641.3 306.2 2652.6 293.3 2658.7M312.3 2620.6C297.9 2620.1 288.6 2603.1 282.0 2593.3M333.2 2613.9C355.9 2605.3 379.6 2610.5 397.6 2610.7M326.0 2627.7C331.6 2654.1 319.3 2679.4 302.6 2696.9M310.1 2619.4C303.8 2621.8 298.7 2625.7 295.6 2631.1M302.2 2618.2C286.8 2617.6 277.1 2599.3 266.1 2596.3M321.7 2627.1C317.2 2641.6 306.3 2652.0 292.7 2656.6M340.5 2617.8C344.6 2615.5 348.2 2613.0 350.3 2608.9M315.7 2627.3C301.5 2637.2 288.2 2645.0 271.2 2640.5M311.3 2611.2C302.8 2603.4 300.2 2591.8 296.9 2583.8M322.8 2607.7C327.7 2597.8 338.9 2592.4 350.2 2591.5M335.6 2626.5C340.2 2632.5 338.0 2643.1 336.3 2650.0M319.6 2622.4C315.9 2633.5 308.5 2641.4 313.3 2652.6M319.1 2600.6C324.3 2591.8 327.5 2584.3 340.9 2582.0M309.6 2622.4C298.4 2622.9 290.2 2607.6 284.2 2600.7M335.7 2611.1C344.5 2605.5 346.0 2592.7 350.9 2586.8M336.2 2627.2C345.3 2635.9 339.3 2654.9 338.8 2665.0M328.3 2624.4C345.2 2632.9 359.8 2641.0 376.9 2636.3M332.6 2616.1C350.8 2609.2 365.5 2599.5 376.3 2589.1M314.0 2621.2C307.6 2626.0 300.5 2627.0 298.3 2635.1M330.0 2607.2C336.8 2601.9 346.9 2602.1 354.4 2602.9M319.4 2611.9C314.0 2598.0 301.8 2589.4 296.2 2579.9M330.3 2616.5C352.8 2609.0 375.6 2622.4 393.2 2618.7M332.3 2618.4C348.4 2620.7 358.7 2637.0 366.0 2648.2M321.8 2606.2C320.9 2591.2 338.7 2581.2 340.2 2569.9M326.0 2604.2C327.9 2598.8 318.4 2593.0 319.6 2588.6M337.4 2614.5C348.8 2611.4 349.7 2592.2 357.2 2587.6M326.8 2611.5C338.1 2595.1 358.2 2589.8 369.4 2580.4M305.6 2627.3C300.6 2629.4 303.0 2640.4 299.2 2642.3M312.7 2608.1C304.6 2600.8 295.0 2596.9 287.1 2594.1M320.1 2600.5C324.0 2596.0 322.3 2591.9 329.9 2589.6M321.7 2611.9C325.9 2596.9 332.3 2584.3 347.6 2579.0M311.1 2619.0C302.2 2620.1 294.9 2624.8 289.0 2628.3M334.1 2603.4C340.6 2604.8 343.5 2603.1 350.2 2610.5M320.7 2622.9C308.8 2645.0 285.2 2655.2 264.4 2658.9M335.9 2609.0C351.0 2599.7 369.7 2602.0 382.4 2599.0M324.4 2614.5C330.7 2607.6 335.5 2600.8 343.9 2599.2M331.1 2627.9C342.1 2639.6 358.9 2641.5 367.7 2649.6M311.7 2629.9C299.0 2634.9 289.5 2641.4 275.5 2634.7M319.1 2628.2C310.7 2638.0 302.7 2646.1 288.2 2644.6M330.7 2617.2C349.3 2613.2 361.2 2597.2 373.6 2590.5M324.4 2604.8C329.5 2591.1 348.2 2586.5 358.5 2581.4M327.5 2608.2C335.3 2592.9 326.4 2574.5 329.3 2562.1M311.1 2611.3C298.2 2603.0 282.1 2604.4 271.4 2600.9M328.4 2623.3C346.9 2635.0 349.9 2659.4 362.6 2670.0M340.3 2627.7C359.3 2639.1 362.5 2666.2 371.0 2680.3M312.3 2615.8C300.1 2606.3 286.1 2604.2 283.2 2587.7M327.8 2619.3C342.5 2622.7 353.9 2631.4 361.7 2640.8M323.7 2615.0C335.0 2599.5 349.8 2589.6 367.3 2588.6M320.0 2638.8C325.0 2650.3 325.6 2660.6 339.1 2666.2M321.6 2602.5C317.8 2598.6 316.4 2595.0 309.4 2594.2M308.8 2613.2C290.7 2605.4 282.4 2585.5 270.4 2577.3M318.5 2612.3C313.8 2592.6 312.5 2574.4 323.7 2558.6M318.6 2625.9C310.1 2635.1 304.5 2644.7 292.0 2645.8M332.5 2606.9C335.9 2598.5 338.5 2590.9 336.5 2582.8M318.2 2623.4C305.0 2632.4 293.7 2640.9 278.1 2637.0M313.4 2607.7C305.5 2593.3 304.5 2577.2 304.9 2564.2M323.2 2607.2C323.1 2593.2 314.3 2581.4 309.6 2571.9M324.3 2614.2C328.7 2599.9 326.7 2585.8 322.5 2574.5M310.5 2617.8C290.1 2616.6 277.8 2595.1 262.9 2591.2M325.1 2615.8C340.6 2601.9 358.2 2594.1 372.7 2588.4M333.3 2606.6C339.8 2605.8 341.1 2599.9 348.8 2603.5M315.9 2624.4C307.5 2629.2 295.9 2623.1 288.5 2620.5M325.3 2613.0C331.5 2599.5 335.7 2586.8 337.2 2575.6M319.6 2604.1C321.7 2580.7 327.1 2560.1 343.0 2545.7M325.6 2611.6C331.6 2604.7 334.3 2596.8 342.7 2594.5M326.1 2616.6C348.8 2607.8 371.4 2607.5 390.4 2613.6M318.7 2603.1C321.9 2592.4 328.2 2583.6 339.9 2579.3M313.0 2622.3C300.4 2627.3 293.6 2639.8 285.2 2645.2M338.6 2617.5C357.7 2621.3 371.8 2637.0 379.9 2652.6M322.0 2605.6C327.3 2596.1 334.6 2588.9 347.6 2588.1M325.9 2606.4C330.6 2583.9 318.5 2562.3 313.0 2545.8M317.9 2611.5C314.2 2594.0 307.0 2579.8 316.3 2564.4M328.0 2615.8C339.1 2611.1 351.5 2622.2 360.3 2624.0M338.6 2629.2C348.3 2641.4 348.2 2659.2 344.7 2673.6M325.0 2623.4C329.4 2633.6 323.9 2645.3 320.1 2653.5M314.4 2622.3C302.9 2624.7 291.7 2620.6 283.3 2615.3M336.2 2616.7C351.6 2620.0 365.1 2615.3 375.7 2628.4M332.8 2613.1C345.7 2605.8 350.9 2590.7 359.0 2583.3M306.2 2626.9C293.3 2627.8 280.9 2617.2 273.2 2607.1M313.0 2628.2C299.6 2640.0 301.9 2661.0 291.4 2670.3M324.3 2624.4C325.9 2638.8 327.2 2651.6 317.2 2662.3M328.5 2606.3C335.8 2600.3 343.5 2596.2 353.1 2597.3M312.8 2610.8C302.7 2601.5 286.3 2605.0 277.6 2599.6M324.2 2615.3C332.6 2605.1 344.5 2600.5 354.9 2598.5M326.5 2601.9C334.5 2590.0 354.6 2589.5 367.7 2589.8M303.4 2624.8C292.5 2631.4 282.4 2636.3 276.9 2645.8M322.5 2611.1C331.0 2593.4 341.6 2579.3 364.1 2578.6M318.0 2619.2C297.0 2619.3 284.2 2596.9 272.4 2586.6M333.9 2625.1C338.0 2630.2 337.9 2638.4 336.9 2644.6M311.4 2622.2C293.2 2622.4 277.0 2618.5 265.4 2605.3M320.5 2630.9C311.9 2647.0 309.3 2662.9 289.9 2668.4M315.5 2626.7C308.3 2635.8 310.0 2648.7 306.8 2656.6M338.1 2621.2C346.6 2629.5 354.8 2634.0 353.1 2649.6M338.4 2620.3C345.2 2625.0 351.6 2627.2 353.9 2636.2M305.1 2624.8C293.6 2626.1 283.0 2625.2 274.1 2621.2M326.5 2627.9C330.3 2643.9 336.5 2657.0 331.2 2670.8M330.4 2614.4C336.8 2610.4 338.8 2602.0 342.1 2597.6M318.6 2615.9C308.5 2602.5 308.3 2585.4 312.5 2571.4M323.2 2625.0C324.8 2649.5 313.0 2670.8 301.3 2686.6M330.7 2624.8C344.1 2640.0 360.9 2647.9 362.9 2667.1M305.4 2625.7C296.3 2623.9 289.5 2627.2 282.4 2618.3M333.0 2629.6C341.1 2636.9 353.9 2635.6 361.1 2639.2M329.5 2619.4C337.7 2621.5 345.0 2623.8 350.0 2628.8M326.2 2608.8C328.7 2601.9 339.0 2600.8 341.5 2595.9M330.2 2629.5C333.4 2636.0 332.6 2643.8 332.1 2649.6M338.5 2622.7C345.7 2624.4 347.4 2636.5 352.3 2639.0M317.6 2616.3C296.8 2609.3 283.0 2593.5 263.1 2597.6M324.4 2609.7C327.9 2600.7 337.3 2595.9 342.8 2591.1M322.5 2600.5C328.8 2597.0 329.9 2593.0 340.7 2594.8M327.1 2599.8C335.2 2590.3 343.7 2582.9 356.9 2582.1M331.7 2610.0C343.2 2605.3 352.1 2599.5 364.0 2603.6M310.8 2609.4C300.2 2599.6 303.5 2581.1 299.1 2571.4M324.8 2624.7C326.2 2642.5 328.0 2658.2 311.1 2670.5M336.0 2607.1C343.4 2597.5 351.5 2590.5 353.6 2580.5M328.2 2632.3C333.4 2651.3 328.4 2670.4 322.7 2685.2M323.6 2612.4C324.8 2592.5 333.7 2576.1 327.0 2560.1M308.7 2620.3C297.3 2618.1 290.5 2603.8 286.2 2594.6M323.2 2635.4C326.7 2639.4 324.6 2643.8 330.7 2645.8M335.1 2627.3C344.3 2630.6 353.2 2631.5 361.2 2629.9M334.0 2627.2C338.0 2635.0 337.5 2644.6 333.2 2653.1M337.3 2622.3C345.9 2627.3 346.4 2642.6 347.6 2651.1M313.3 2635.6C309.0 2636.7 305.9 2637.9 300.6 2635.9M311.9 2617.2C298.7 2612.9 292.0 2598.1 286.0 2589.1M307.2 2609.1C300.5 2595.5 295.4 2583.4 304.3 2567.1M306.2 2612.5C289.0 2599.5 271.6 2591.6 265.9 2572.2M329.8 2618.3C338.7 2620.5 344.3 2629.9 347.0 2638.0M304.0 2614.7C284.8 2601.0 269.4 2586.8 269.1 2561.0M315.5 2619.8C296.5 2622.5 281.8 2603.8 268.0 2600.4M319.8 2626.5C313.1 2634.3 305.9 2640.1 294.4 2638.5M331.2 2617.4C348.0 2615.6 359.9 2635.3 371.0 2640.9M322.8 2609.3C324.6 2589.8 305.6 2575.2 302.5 2561.0M305.0 2625.0C289.4 2625.2 275.4 2620.9 264.9 2610.3M319.3 2609.9C315.9 2601.9 310.9 2595.6 306.5 2590.7M333.0 2621.8C354.3 2622.8 373.1 2625.4 389.1 2615.1M317.6 2608.5C315.4 2599.6 317.6 2590.7 319.5 2583.8M308.1 2627.4C292.2 2640.5 283.8 2658.6 278.2 2673.8M335.3 2623.8C347.2 2630.9 347.6 2650.0 350.7 2660.4M333.7 2615.5C351.2 2613.5 366.8 2626.0 378.3 2633.9M309.1 2630.2C300.3 2643.1 286.9 2649.1 285.4 2663.4M305.7 2610.9C290.6 2606.6 276.9 2603.4 264.2 2606.0M325.2 2631.5C323.8 2641.2 319.7 2649.5 311.5 2655.0M331.9 2609.4C353.6 2598.9 366.6 2581.0 391.1 2587.6M319.4 2614.0C316.8 2600.3 312.7 2588.7 321.4 2577.2M310.5 2612.9C299.9 2606.1 298.6 2590.4 293.9 2582.3M327.2 2610.7C333.2 2592.8 348.4 2582.2 344.7 2564.5M337.7 2623.7C346.1 2625.9 354.7 2621.3 361.1 2621.8M311.9 2604.2C306.0 2592.5 287.8 2593.7 283.6 2583.8M307.1 2621.4C300.0 2621.8 295.4 2608.4 290.6 2606.3M324.1 2622.8C328.9 2634.4 326.6 2646.8 325.7 2656.2" stroke="#36a34c" stroke-width="0.7" fill="none" opacity="0.6"/>
<path d="M322.7 2606.5C325.8 2590.3 334.5 2577.2 342.6 2567.2M325.2 2609.4C338.6 2592.9 353.6 2580.8 376.6 2583.9M324.7 2611.6C327.6 2603.8 337.4 2601.1 341.1 2596.1M338.4 2621.9C346.0 2621.0 352.7 2618.4 357.8 2614.1M337.4 2616.6C342.1 2612.0 347.9 2613.9 349.6 2605.8M317.1 2631.7C314.4 2652.9 304.1 2669.5 312.3 2687.5M310.2 2625.5C300.7 2625.4 293.7 2629.1 285.5 2620.7M314.3 2602.6C305.0 2590.3 301.2 2576.7 289.4 2570.6M311.7 2610.7C304.5 2602.5 306.2 2589.2 305.7 2580.6M320.5 2613.1C319.3 2596.7 318.2 2582.0 325.1 2569.8M328.9 2602.6C332.6 2593.1 349.5 2594.1 353.7 2587.7M313.6 2608.1C309.8 2596.1 316.3 2582.6 324.3 2573.3M329.4 2603.6C334.8 2595.5 325.2 2583.7 329.8 2577.1M327.8 2624.2C337.0 2633.3 339.9 2645.9 344.7 2654.2M303.3 2616.4C292.5 2610.6 284.7 2601.5 281.2 2590.3M310.6 2633.1C297.4 2644.6 274.6 2638.0 261.0 2637.7M325.9 2607.0C329.0 2600.5 343.3 2603.9 348.0 2601.5M320.6 2610.6C323.3 2585.0 322.7 2562.1 343.6 2546.4M327.9 2608.4C339.9 2591.4 358.8 2582.9 372.9 2575.7M318.7 2622.3C307.7 2627.3 298.3 2632.4 286.4 2624.8M309.4 2614.7C304.9 2608.3 301.8 2602.3 304.9 2592.9M315.3 2614.5C301.6 2609.0 290.4 2602.3 277.8 2604.7M334.5 2630.2C339.7 2640.8 340.0 2652.7 335.7 2663.5M327.2 2614.1C335.4 2608.0 348.3 2616.3 355.9 2616.8M319.3 2614.2C312.3 2604.5 300.4 2601.1 291.8 2597.9M327.5 2601.7C337.0 2591.4 337.6 2578.6 353.3 2576.1M315.9 2635.4C308.9 2643.2 307.2 2652.4 296.9 2655.0M328.6 2626.7C336.1 2641.3 330.8 2658.9 325.2 2671.7M328.5 2634.0C329.5 2641.0 315.9 2647.8 312.7 2652.2M319.7 2606.4C323.7 2586.8 324.9 2569.5 345.0 2559.4M317.7 2620.9C307.5 2622.6 298.2 2622.2 290.6 2615.4M325.4 2609.6C331.6 2593.9 323.8 2577.1 326.4 2564.8M319.5 2626.6C312.2 2635.3 308.0 2644.2 295.2 2644.4M331.8 2631.1C340.5 2637.1 346.5 2644.1 356.1 2644.6M334.5 2609.6C340.9 2608.4 346.2 2606.7 352.3 2609.7M305.7 2624.6C295.3 2632.7 285.5 2638.8 282.6 2651.3M310.0 2613.6C297.6 2602.8 293.5 2585.8 295.0 2570.4M323.6 2633.2C322.8 2640.1 314.1 2645.1 310.5 2649.3M331.7 2633.5C332.5 2647.1 334.8 2658.3 322.6 2669.6M317.4 2618.8C303.1 2615.2 293.4 2603.7 288.8 2591.3M309.9 2612.3C300.1 2601.5 292.3 2591.3 293.0 2576.9M324.8 2612.9C332.2 2607.3 338.2 2602.1 349.0 2606.3M305.5 2619.2C291.6 2621.4 281.4 2633.2 272.9 2640.1M322.0 2613.8C320.8 2586.4 340.2 2564.9 342.0 2544.4M310.8 2634.6C300.0 2640.1 285.4 2636.4 274.4 2629.7M312.3 2625.3C295.4 2631.1 280.2 2635.6 264.9 2629.1M328.1 2629.7C337.7 2637.8 339.8 2649.6 353.1 2650.7M306.9 2609.1C295.1 2595.4 286.4 2581.7 286.4 2565.0M335.0 2612.0C352.2 2611.4 367.7 2615.8 378.2 2633.0M331.6 2626.6C338.5 2629.3 342.8 2634.4 349.7 2633.3M333.9 2616.3C343.9 2617.4 352.7 2618.1 359.4 2625.0M329.3 2619.4C336.7 2623.4 343.8 2624.8 346.2 2634.0M331.9 2619.2C350.2 2624.4 366.6 2628.2 376.2 2643.3M331.0 2617.2C345.7 2619.6 358.3 2623.6 365.4 2637.8M316.8 2620.3C305.1 2620.1 295.0 2614.9 288.7 2605.8M328.9 2614.6C335.7 2607.8 339.9 2599.7 340.6 2591.3M320.1 2628.3C313.9 2646.1 293.7 2654.2 281.1 2661.5M317.3 2622.1C308.4 2624.2 300.0 2623.8 293.0 2617.1M319.1 2614.1C315.1 2603.6 317.8 2592.5 321.9 2584.0M302.7 2617.0C282.6 2603.8 263.3 2597.5 261.8 2567.4M331.2 2619.4C347.8 2623.9 358.8 2638.4 365.4 2651.5M326.6 2620.2C344.4 2625.5 361.9 2615.7 375.7 2616.2M327.5 2631.0C330.2 2643.9 322.4 2656.9 316.6 2666.3M319.1 2615.2C315.7 2605.4 312.7 2596.8 319.3 2587.5M327.0 2607.2C329.6 2594.7 328.6 2582.9 324.8 2573.0M322.8 2611.1C321.0 2602.7 325.6 2595.5 319.8 2589.1M307.8 2620.5C287.6 2619.0 275.6 2594.7 266.3 2581.5M335.2 2629.3C338.9 2643.2 343.7 2653.9 330.4 2668.9M315.3 2627.0C306.0 2634.5 290.1 2627.0 280.8 2624.7M320.2 2614.7C317.6 2605.9 322.3 2597.0 324.6 2590.4M329.0 2629.5C336.2 2635.9 343.5 2640.7 352.1 2641.4M320.2 2623.7C315.6 2632.6 308.8 2639.0 302.4 2643.5M329.9 2616.7C338.9 2618.7 346.6 2620.8 350.4 2631.5M316.5 2611.4C313.2 2601.6 314.5 2591.5 319.7 2583.2M328.6 2633.8C330.5 2641.0 316.7 2648.8 314.8 2653.9M320.4 2623.7C314.5 2642.5 322.5 2661.3 322.1 2675.9M306.9 2625.0C290.3 2625.0 277.8 2633.5 263.8 2622.0M310.8 2629.1C289.3 2641.6 266.7 2646.7 245.5 2642.5M333.3 2618.7C345.9 2620.7 356.7 2625.9 364.5 2632.7" stroke="#17662b" stroke-width="0.8" fill="none" opacity="0.6"/>
<path d="M316.7 2604.5C316.8 2582.2 315.3 2562.8 333.6 2547.4M329.6 2619.7C339.5 2619.4 347.6 2613.1 353.8 2608.5M313.4 2636.1C303.1 2653.2 282.1 2659.6 270.0 2668.2M337.4 2608.0C341.5 2607.0 346.8 2610.0 350.2 2611.1M322.4 2611.1C323.7 2585.3 300.6 2566.3 296.0 2547.7M327.5 2620.5C344.2 2630.6 353.4 2647.5 352.6 2666.7M328.5 2604.3C332.8 2595.3 345.4 2593.1 350.3 2587.6M316.9 2626.8C309.5 2634.4 296.7 2633.8 288.0 2633.6M312.7 2628.9C302.8 2634.3 292.5 2636.5 282.2 2633.5M324.8 2624.3C328.0 2633.4 323.1 2643.2 320.7 2650.3M321.7 2608.9C323.0 2582.3 353.0 2567.0 366.2 2552.1M315.8 2613.8C298.4 2600.8 276.6 2600.0 261.2 2595.4M318.1 2622.6C305.5 2633.0 288.3 2632.1 276.3 2634.3M328.4 2608.4C341.7 2597.3 352.3 2586.6 369.9 2588.5M315.0 2612.5C298.3 2602.8 286.3 2590.3 268.8 2591.6M322.5 2624.0C322.7 2636.3 307.6 2643.4 301.6 2650.3M322.9 2609.3C326.8 2601.1 335.0 2596.0 343.7 2594.3M314.4 2618.8C297.1 2615.0 286.6 2598.4 280.7 2584.3M322.2 2630.5C316.4 2643.5 307.0 2653.1 291.0 2654.6M308.6 2624.2C285.2 2630.1 262.1 2616.2 245.0 2608.9M334.4 2628.5C342.3 2643.5 355.3 2651.4 350.0 2670.3M327.1 2614.7C336.8 2609.1 349.4 2614.5 357.9 2617.4M318.6 2601.3C316.6 2589.2 304.7 2581.6 302.3 2572.8M323.5 2603.5C326.6 2598.5 330.7 2594.5 336.4 2592.6M330.3 2606.0C334.4 2602.2 344.1 2605.9 348.5 2605.5" stroke="#a9bcae" stroke-width="0.55" fill="none" opacity="0.42"/>
<circle cx="322.0" cy="2618.9" r="20.4" fill="url(#gc)"/>
<circle cx="322.0" cy="2618.9" r="4.1" fill="#2fae54" stroke="#eefaf0" stroke-width="2.0"/>
</g>
<rect x="198.9" y="2074.6" width="28.8" height="8.0" fill="#fff"/>
<rect x="361.2" y="2076.7" width="28.8" height="8.0" fill="#fff"/>
<rect x="200.9" y="2276.0" width="28.8" height="8.0" fill="#fff"/>
<rect x="361.2" y="2273.2" width="28.8" height="8.0" fill="#fff"/>
<rect x="198.9" y="2481.1" width="28.8" height="8.0" fill="#fff"/>
<rect x="359.9" y="2480.0" width="28.8" height="8.0" fill="#fff"/>
<rect x="199.9" y="2679.7" width="28.8" height="8.0" fill="#fff"/>
<rect x="359.9" y="2679.7" width="28.8" height="8.0" fill="#fff"/>
<text transform="translate(157.4 1930.6) scale(0.964 1)" font-size="23" text-anchor="middle">DMSO</text>
<text transform="translate(317.9 1931.6) scale(0.964 1)" font-size="23" text-anchor="middle">DMSO</text>
<text transform="translate(154.6 2130.0) scale(1.046 1)" font-size="23" text-anchor="middle">Paclitaxel</text>
<text transform="translate(318.4 2129.0) scale(1.055 1)" font-size="23" text-anchor="middle">Vincristine</text>
<text transform="translate(157.4 2331.1) scale(1.035 1)" font-size="23" text-anchor="middle">Ispinesib</text>
<text transform="translate(317.6 2331.9) scale(1.013 1)" font-size="23" text-anchor="middle">GSK9233295</text>
<text transform="translate(157.4 2532.1) scale(0.975 1)" font-size="23" text-anchor="middle">AM-1882</text>
<text transform="translate(317.6 2533.4) scale(1.050 1)" font-size="23" text-anchor="middle">AM-5308</text>
<text transform="translate(90.2 2165.3) scale(1.039 1)" font-size="22.5" style="fill:#ffffff">0.01 μM</text>
<text transform="translate(251.7 2164.3) scale(1.061 1)" font-size="22.5" style="fill:#ffffff">0.001 μM</text>
<text transform="translate(90.2 2367.2) scale(1.008 1)" font-size="22.5" style="fill:#ffffff">10 μM</text>
<text transform="translate(249.4 2368.0) scale(1.008 1)" font-size="22.5" style="fill:#ffffff">10 μM</text>
<text transform="translate(90.2 2568.2) scale(1.008 1)" font-size="22.5" style="fill:#ffffff">10 μM</text>
<text transform="translate(249.4 2568.2) scale(1.008 1)" font-size="22.5" style="fill:#ffffff">10 μM</text>
<text transform="translate(437.6 1841.5) scale(1.130 1)" font-size="36" font-weight="bold" stroke="#231f20" stroke-width="1.8">e</text>
<text transform="translate(1367.5 1864.3) scale(1.062 1)" font-size="28.5" text-anchor="middle">hiPSC-derived sensory neurospheres</text>
<text transform="translate(1367.4 1898.7) scale(1.090 1)" font-size="28.5" text-anchor="middle">Neurite outgrowth analysis</text>
<rect x="622.9" y="2058.9" width="34.8" height="160.1" fill="#83aada"/>
<rect x="682.0" y="2207.8" width="34.8" height="11.2" fill="#b0b2b4"/>
<rect x="741.2" y="2206.4" width="34.8" height="12.6" fill="#b0b2b4"/>
<rect x="800.3" y="2205.7" width="34.8" height="13.3" fill="#b0b2b4"/>
<rect x="859.5" y="2209.2" width="34.8" height="9.8" fill="#b0b2b4"/>
<rect x="918.6" y="2210.7" width="34.8" height="8.4" fill="#b0b2b4"/>
<line x1="600.9" y1="1952.2" x2="600.9" y2="2218.7" stroke="#3a3637" stroke-width="1.2"/>
<line x1="592.8" y1="2218.7" x2="976.1" y2="2218.7" stroke="#3a3637" stroke-width="1.2"/>
<line x1="592.8" y1="2130.1" x2="600.9" y2="2130.1" stroke="#3a3637" stroke-width="1.2"/>
<line x1="592.8" y1="2041.4" x2="600.9" y2="2041.4" stroke="#3a3637" stroke-width="1.2"/>
<line x1="592.8" y1="1952.8" x2="600.9" y2="1952.8" stroke="#3a3637" stroke-width="1.2"/>
<text transform="translate(578.1 2223.3) scale(1.088 1)" font-size="19" text-anchor="end">0</text>
<text transform="translate(578.1 2137.2) scale(0.923 1)" font-size="19" text-anchor="end">5 × 10<tspan dy="-7" font-size="66%">5</tspan><tspan dy="7"></tspan></text>
<text transform="translate(578.1 2048.4) scale(0.891 1)" font-size="19" text-anchor="end">1 × 10<tspan dy="-7" font-size="66%">6</tspan><tspan dy="7"></tspan></text>
<text transform="translate(578.1 1959.8) scale(0.940 1)" font-size="19" text-anchor="end">1.5 × 10<tspan dy="-7" font-size="66%">6</tspan><tspan dy="7"></tspan></text>
<line x1="640.3" y1="2218.7" x2="640.3" y2="2226.9" stroke="#3a3637" stroke-width="1.2"/>
<text transform="translate(640.3 2262.6) scale(0.937 1)" font-size="19" text-anchor="middle">DMSO</text>
<line x1="699.4" y1="2218.7" x2="699.4" y2="2226.9" stroke="#3a3637" stroke-width="1.2"/>
<text transform="translate(699.4 2262.6) scale(1.041 1)" font-size="19" text-anchor="middle">0.001</text>
<line x1="758.6" y1="2218.7" x2="758.6" y2="2226.9" stroke="#3a3637" stroke-width="1.2"/>
<text transform="translate(758.6 2262.6) scale(1.014 1)" font-size="19" text-anchor="middle">0.01</text>
<line x1="817.7" y1="2218.7" x2="817.7" y2="2226.9" stroke="#3a3637" stroke-width="1.2"/>
<text transform="translate(817.7 2262.6) scale(0.946 1)" font-size="19" text-anchor="middle">0.1</text>
<line x1="876.9" y1="2218.7" x2="876.9" y2="2226.9" stroke="#3a3637" stroke-width="1.2"/>
<text transform="translate(876.9 2262.6) scale(0.946 1)" font-size="19" text-anchor="middle">1.0</text>
<line x1="936.0" y1="2218.7" x2="936.0" y2="2226.9" stroke="#3a3637" stroke-width="1.2"/>
<text transform="translate(936.0 2262.6) scale(1.014 1)" font-size="19" text-anchor="middle">10.0</text>
<circle cx="640.3" cy="2036.8" r="5.1" fill="#231f20"/>
<circle cx="640.3" cy="2076.5" r="5.1" fill="#231f20"/>
<circle cx="690.8" cy="2207.5" r="5.1" fill="#231f20"/>
<circle cx="708.1" cy="2204.7" r="5.1" fill="#231f20"/>
<circle cx="750.2" cy="2206.1" r="5.1" fill="#231f20"/>
<circle cx="767.4" cy="2202.6" r="5.1" fill="#231f20"/>
<circle cx="809.2" cy="2204.0" r="5.1" fill="#231f20"/>
<circle cx="826.4" cy="2203.3" r="5.1" fill="#231f20"/>
<circle cx="868.6" cy="2208.2" r="5.1" fill="#231f20"/>
<circle cx="885.8" cy="2206.1" r="5.1" fill="#231f20"/>
<circle cx="927.6" cy="2209.9" r="5.1" fill="#231f20"/>
<circle cx="944.8" cy="2207.1" r="5.1" fill="#231f20"/>
<text transform="translate(788.1 1943.3) scale(1.128 1)" font-size="26" text-anchor="middle">Vincristine, tubulin</text>
<text transform="translate(788.8 2301.6) scale(1.036 1)" font-size="23" text-anchor="middle">Vincristine (μM)</text>
<text transform="translate(456.2 2085.2) rotate(-90) scale(1.054 1)" font-size="23" text-anchor="middle">Total neurite area</text>
<text transform="translate(485.7 2085.2) rotate(-90) scale(1.031 1)" font-size="23" text-anchor="middle">per neurosphere (μm<tspan dy="-8" font-size="62%">2</tspan><tspan dy="8">)</tspan></text>
<rect x="1201.8" y="2076.8" width="34.8" height="141.2" fill="#83aada"/>
<rect x="1261.0" y="2080.7" width="34.8" height="137.3" fill="#b0b2b4"/>
<rect x="1320.1" y="2087.0" width="34.8" height="131.0" fill="#b0b2b4"/>
<rect x="1379.3" y="2058.5" width="34.8" height="159.4" fill="#b0b2b4"/>
<rect x="1438.4" y="2059.2" width="34.8" height="158.7" fill="#b0b2b4"/>
<rect x="1497.6" y="2135.8" width="34.8" height="82.1" fill="#b0b2b4"/>
<line x1="1180.2" y1="1950.8" x2="1180.2" y2="2217.7" stroke="#3a3637" stroke-width="1.2"/>
<line x1="1171.8" y1="2217.7" x2="1555.4" y2="2217.7" stroke="#3a3637" stroke-width="1.2"/>
<line x1="1171.8" y1="2128.9" x2="1180.2" y2="2128.9" stroke="#3a3637" stroke-width="1.2"/>
<line x1="1171.8" y1="2040.1" x2="1180.2" y2="2040.1" stroke="#3a3637" stroke-width="1.2"/>
<line x1="1171.8" y1="1951.4" x2="1180.2" y2="1951.4" stroke="#3a3637" stroke-width="1.2"/>
<text transform="translate(1157.0 2222.6) scale(1.088 1)" font-size="19" text-anchor="end">0</text>
<text transform="translate(1157.0 2136.2) scale(0.923 1)" font-size="19" text-anchor="end">5 × 10<tspan dy="-7" font-size="66%">5</tspan><tspan dy="7"></tspan></text>
<text transform="translate(1157.0 2047.6) scale(0.891 1)" font-size="19" text-anchor="end">1 × 10<tspan dy="-7" font-size="66%">6</tspan><tspan dy="7"></tspan></text>
<text transform="translate(1157.0 1959.5) scale(0.940 1)" font-size="19" text-anchor="end">1.5 × 10<tspan dy="-7" font-size="66%">6</tspan><tspan dy="7"></tspan></text>
<line x1="1219.2" y1="2217.7" x2="1219.2" y2="2225.9" stroke="#3a3637" stroke-width="1.2"/>
<text transform="translate(1219.2 2261.9) scale(0.937 1)" font-size="19" text-anchor="middle">DMSO</text>
<line x1="1278.4" y1="2217.7" x2="1278.4" y2="2225.9" stroke="#3a3637" stroke-width="1.2"/>
<text transform="translate(1278.4 2261.9) scale(1.041 1)" font-size="19" text-anchor="middle">0.001</text>
<line x1="1337.5" y1="2217.7" x2="1337.5" y2="2225.9" stroke="#3a3637" stroke-width="1.2"/>
<text transform="translate(1337.5 2261.9) scale(1.014 1)" font-size="19" text-anchor="middle">0.01</text>
<line x1="1396.7" y1="2217.7" x2="1396.7" y2="2225.9" stroke="#3a3637" stroke-width="1.2"/>
<text transform="translate(1396.7 2261.9) scale(0.946 1)" font-size="19" text-anchor="middle">0.1</text>
<line x1="1455.8" y1="2217.7" x2="1455.8" y2="2225.9" stroke="#3a3637" stroke-width="1.2"/>
<text transform="translate(1455.8 2261.9) scale(0.946 1)" font-size="19" text-anchor="middle">1.0</text>
<line x1="1515.0" y1="2217.7" x2="1515.0" y2="2225.9" stroke="#3a3637" stroke-width="1.2"/>
<text transform="translate(1515.0 2261.9) scale(1.014 1)" font-size="19" text-anchor="middle">10.0</text>
<circle cx="1219.2" cy="2055.0" r="5.1" fill="#231f20"/>
<circle cx="1219.2" cy="2094.7" r="5.1" fill="#231f20"/>
<circle cx="1278.6" cy="2070.5" r="5.1" fill="#231f20"/>
<circle cx="1278.6" cy="2086.3" r="5.1" fill="#231f20"/>
<circle cx="1337.6" cy="2061.0" r="5.1" fill="#231f20"/>
<circle cx="1337.6" cy="2108.8" r="5.1" fill="#231f20"/>
<circle cx="1388.2" cy="2058.9" r="5.1" fill="#231f20"/>
<circle cx="1405.4" cy="2052.9" r="5.1" fill="#231f20"/>
<circle cx="1456.0" cy="2045.2" r="5.1" fill="#231f20"/>
<circle cx="1456.0" cy="2068.4" r="5.1" fill="#231f20"/>
<circle cx="1515.0" cy="2126.0" r="5.1" fill="#231f20"/>
<circle cx="1515.0" cy="2140.7" r="5.1" fill="#231f20"/>
<text transform="translate(1367.4 1944.0) scale(1.018 1)" font-size="26" text-anchor="middle">GSK923295, CENP-E</text>
<text transform="translate(1367.4 2300.2) scale(1.008 1)" font-size="23" text-anchor="middle">GSK923295 (μM)</text>
<text transform="translate(1036.2 2085.9) rotate(-90) scale(1.054 1)" font-size="23" text-anchor="middle">Total neurite area</text>
<text transform="translate(1065.7 2085.9) rotate(-90) scale(1.031 1)" font-size="23" text-anchor="middle">per neurosphere (μm<tspan dy="-8" font-size="62%">2</tspan><tspan dy="8">)</tspan></text>
<rect x="1782.4" y="2088.7" width="34.8" height="129.2" fill="#83aada"/>
<rect x="1841.6" y="2069.1" width="34.8" height="148.9" fill="#b0b2b4"/>
<rect x="1900.7" y="2062.0" width="34.8" height="155.9" fill="#b0b2b4"/>
<rect x="1959.9" y="2063.8" width="34.8" height="154.2" fill="#b0b2b4"/>
<rect x="2019.0" y="2071.9" width="34.8" height="146.1" fill="#b0b2b4"/>
<rect x="2078.2" y="2115.4" width="34.8" height="102.5" fill="#b0b2b4"/>
<line x1="1760.8" y1="1950.8" x2="1760.8" y2="2217.7" stroke="#3a3637" stroke-width="1.2"/>
<line x1="1752.0" y1="2217.7" x2="2136.0" y2="2217.7" stroke="#3a3637" stroke-width="1.2"/>
<line x1="1752.0" y1="2128.9" x2="1760.8" y2="2128.9" stroke="#3a3637" stroke-width="1.2"/>
<line x1="1752.0" y1="2040.1" x2="1760.8" y2="2040.1" stroke="#3a3637" stroke-width="1.2"/>
<line x1="1752.0" y1="1951.4" x2="1760.8" y2="1951.4" stroke="#3a3637" stroke-width="1.2"/>
<text transform="translate(1738.7 2222.6) scale(1.088 1)" font-size="19" text-anchor="end">0</text>
<text transform="translate(1738.7 2136.2) scale(0.923 1)" font-size="19" text-anchor="end">5 × 10<tspan dy="-7" font-size="66%">5</tspan><tspan dy="7"></tspan></text>
<text transform="translate(1738.7 2047.6) scale(0.891 1)" font-size="19" text-anchor="end">1 × 10<tspan dy="-7" font-size="66%">6</tspan><tspan dy="7"></tspan></text>
<text transform="translate(1738.7 1959.5) scale(0.940 1)" font-size="19" text-anchor="end">1.5 × 10<tspan dy="-7" font-size="66%">6</tspan><tspan dy="7"></tspan></text>
<line x1="1799.8" y1="2217.7" x2="1799.8" y2="2225.9" stroke="#3a3637" stroke-width="1.2"/>
<text transform="translate(1799.8 2261.9) scale(0.937 1)" font-size="19" text-anchor="middle">DMSO</text>
<line x1="1859.0" y1="2217.7" x2="1859.0" y2="2225.9" stroke="#3a3637" stroke-width="1.2"/>
<text transform="translate(1859.0 2261.9) scale(1.041 1)" font-size="19" text-anchor="middle">0.001</text>
<line x1="1918.1" y1="2217.7" x2="1918.1" y2="2225.9" stroke="#3a3637" stroke-width="1.2"/>
<text transform="translate(1918.1 2261.9) scale(1.014 1)" font-size="19" text-anchor="middle">0.01</text>
<line x1="1977.3" y1="2217.7" x2="1977.3" y2="2225.9" stroke="#3a3637" stroke-width="1.2"/>
<text transform="translate(1977.3 2261.9) scale(0.946 1)" font-size="19" text-anchor="middle">0.1</text>
<line x1="2036.4" y1="2217.7" x2="2036.4" y2="2225.9" stroke="#3a3637" stroke-width="1.2"/>
<text transform="translate(2036.4 2261.9) scale(0.946 1)" font-size="19" text-anchor="middle">1.0</text>
<line x1="2095.6" y1="2217.7" x2="2095.6" y2="2225.9" stroke="#3a3637" stroke-width="1.2"/>
<text transform="translate(2095.6 2261.9) scale(1.014 1)" font-size="19" text-anchor="middle">10.0</text>
<circle cx="1799.8" cy="2059.9" r="5.1" fill="#231f20"/>
<circle cx="1799.8" cy="2113.0" r="5.1" fill="#231f20"/>
<circle cx="1859.2" cy="2052.2" r="5.1" fill="#231f20"/>
<circle cx="1859.2" cy="2081.0" r="5.1" fill="#231f20"/>
<circle cx="1918.2" cy="2051.1" r="5.1" fill="#231f20"/>
<circle cx="1918.2" cy="2068.7" r="5.1" fill="#231f20"/>
<circle cx="1977.6" cy="2052.2" r="5.1" fill="#231f20"/>
<circle cx="1977.6" cy="2071.5" r="5.1" fill="#231f20"/>
<circle cx="2028.1" cy="2072.9" r="5.1" fill="#231f20"/>
<circle cx="2045.4" cy="2066.6" r="5.1" fill="#231f20"/>
<circle cx="2087.2" cy="2115.4" r="5.1" fill="#231f20"/>
<circle cx="2104.4" cy="2110.5" r="5.1" fill="#231f20"/>
<text transform="translate(1947.7 1944.0)" font-size="26" text-anchor="middle">AM-1882, KIF18A</text>
<text transform="translate(1947.7 2300.2) scale(0.990 1)" font-size="23" text-anchor="middle">AM-1882 (μM)</text>
<text transform="translate(1616.8 2085.9) rotate(-90) scale(1.054 1)" font-size="23" text-anchor="middle">Total neurite area</text>
<text transform="translate(1646.3 2085.9) rotate(-90) scale(1.031 1)" font-size="23" text-anchor="middle">per neurosphere (μm<tspan dy="-8" font-size="62%">2</tspan><tspan dy="8">)</tspan></text>
<rect x="622.9" y="2480.6" width="34.8" height="147.1" fill="#83aada"/>
<rect x="682.0" y="2477.0" width="34.8" height="150.6" fill="#b0b2b4"/>
<rect x="741.2" y="2563.8" width="34.8" height="63.9" fill="#b0b2b4"/>
<rect x="800.3" y="2583.8" width="34.8" height="43.9" fill="#b0b2b4"/>
<rect x="859.5" y="2586.6" width="34.8" height="41.0" fill="#b0b2b4"/>
<rect x="918.6" y="2577.2" width="34.8" height="50.5" fill="#b0b2b4"/>
<line x1="600.9" y1="2360.9" x2="600.9" y2="2627.4" stroke="#3a3637" stroke-width="1.2"/>
<line x1="592.8" y1="2627.4" x2="976.1" y2="2627.4" stroke="#3a3637" stroke-width="1.2"/>
<line x1="592.8" y1="2538.8" x2="600.9" y2="2538.8" stroke="#3a3637" stroke-width="1.2"/>
<line x1="592.8" y1="2450.1" x2="600.9" y2="2450.1" stroke="#3a3637" stroke-width="1.2"/>
<line x1="592.8" y1="2361.5" x2="600.9" y2="2361.5" stroke="#3a3637" stroke-width="1.2"/>
<text transform="translate(578.1 2629.5) scale(1.088 1)" font-size="19" text-anchor="end">0</text>
<text transform="translate(578.1 2545.5) scale(0.923 1)" font-size="19" text-anchor="end">5 × 10<tspan dy="-7" font-size="66%">5</tspan><tspan dy="7"></tspan></text>
<text transform="translate(578.1 2457.0) scale(0.891 1)" font-size="19" text-anchor="end">1 × 10<tspan dy="-7" font-size="66%">6</tspan><tspan dy="7"></tspan></text>
<text transform="translate(578.1 2369.2) scale(0.940 1)" font-size="19" text-anchor="end">1.5 × 10<tspan dy="-7" font-size="66%">6</tspan><tspan dy="7"></tspan></text>
<line x1="640.3" y1="2627.4" x2="640.3" y2="2635.6" stroke="#3a3637" stroke-width="1.2"/>
<text transform="translate(640.3 2670.6) scale(0.937 1)" font-size="19" text-anchor="middle">DMSO</text>
<line x1="699.4" y1="2627.4" x2="699.4" y2="2635.6" stroke="#3a3637" stroke-width="1.2"/>
<text transform="translate(699.4 2670.6) scale(1.041 1)" font-size="19" text-anchor="middle">0.001</text>
<line x1="758.6" y1="2627.4" x2="758.6" y2="2635.6" stroke="#3a3637" stroke-width="1.2"/>
<text transform="translate(758.6 2670.6) scale(1.014 1)" font-size="19" text-anchor="middle">0.01</text>
<line x1="817.7" y1="2627.4" x2="817.7" y2="2635.6" stroke="#3a3637" stroke-width="1.2"/>
<text transform="translate(817.7 2670.6) scale(0.946 1)" font-size="19" text-anchor="middle">0.1</text>
<line x1="876.9" y1="2627.4" x2="876.9" y2="2635.6" stroke="#3a3637" stroke-width="1.2"/>
<text transform="translate(876.9 2670.6) scale(0.946 1)" font-size="19" text-anchor="middle">1.0</text>
<line x1="936.0" y1="2627.4" x2="936.0" y2="2635.6" stroke="#3a3637" stroke-width="1.2"/>
<text transform="translate(936.0 2670.6) scale(1.014 1)" font-size="19" text-anchor="middle">10.0</text>
<circle cx="640.3" cy="2462.6" r="5.1" fill="#231f20"/>
<circle cx="640.3" cy="2493.9" r="5.1" fill="#231f20"/>
<circle cx="690.8" cy="2474.9" r="5.1" fill="#231f20"/>
<circle cx="708.1" cy="2474.6" r="5.1" fill="#231f20"/>
<circle cx="758.6" cy="2556.1" r="5.1" fill="#231f20"/>
<circle cx="758.6" cy="2567.7" r="5.1" fill="#231f20"/>
<circle cx="809.2" cy="2584.5" r="5.1" fill="#231f20"/>
<circle cx="826.4" cy="2578.6" r="5.1" fill="#231f20"/>
<circle cx="868.6" cy="2586.3" r="5.1" fill="#231f20"/>
<circle cx="885.8" cy="2582.1" r="5.1" fill="#231f20"/>
<circle cx="927.6" cy="2576.8" r="5.1" fill="#231f20"/>
<circle cx="944.8" cy="2572.9" r="5.1" fill="#231f20"/>
<text transform="translate(790.3 2353.4) scale(1.117 1)" font-size="26" text-anchor="middle">Paclitaxel, tubulin</text>
<text transform="translate(793.4 2708.5) scale(1.029 1)" font-size="23" text-anchor="middle">Paclitaxel (μM)</text>
<text transform="translate(456.2 2495.0) rotate(-90) scale(1.054 1)" font-size="23" text-anchor="middle">Total neurite area</text>
<text transform="translate(485.7 2495.0) rotate(-90) scale(1.031 1)" font-size="23" text-anchor="middle">per neurosphere (μm<tspan dy="-8" font-size="62%">2</tspan><tspan dy="8">)</tspan></text>
<rect x="1201.8" y="2485.5" width="34.8" height="142.2" fill="#83aada"/>
<rect x="1261.0" y="2467.9" width="34.8" height="159.8" fill="#b0b2b4"/>
<rect x="1320.1" y="2477.4" width="34.8" height="150.3" fill="#b0b2b4"/>
<rect x="1379.3" y="2459.1" width="34.8" height="168.6" fill="#b0b2b4"/>
<rect x="1438.4" y="2535.4" width="34.8" height="92.3" fill="#b0b2b4"/>
<rect x="1497.6" y="2622.1" width="34.8" height="5.6" fill="#b0b2b4"/>
<line x1="1180.2" y1="2360.9" x2="1180.2" y2="2627.4" stroke="#3a3637" stroke-width="1.2"/>
<line x1="1171.8" y1="2627.4" x2="1555.4" y2="2627.4" stroke="#3a3637" stroke-width="1.2"/>
<line x1="1171.8" y1="2538.8" x2="1180.2" y2="2538.8" stroke="#3a3637" stroke-width="1.2"/>
<line x1="1171.8" y1="2450.1" x2="1180.2" y2="2450.1" stroke="#3a3637" stroke-width="1.2"/>
<line x1="1171.8" y1="2361.5" x2="1180.2" y2="2361.5" stroke="#3a3637" stroke-width="1.2"/>
<text transform="translate(1157.0 2629.5) scale(1.088 1)" font-size="19" text-anchor="end">0</text>
<text transform="translate(1157.0 2545.5) scale(0.923 1)" font-size="19" text-anchor="end">5 × 10<tspan dy="-7" font-size="66%">5</tspan><tspan dy="7"></tspan></text>
<text transform="translate(1157.0 2457.0) scale(0.891 1)" font-size="19" text-anchor="end">1 × 10<tspan dy="-7" font-size="66%">6</tspan><tspan dy="7"></tspan></text>
<text transform="translate(1157.0 2369.2) scale(0.940 1)" font-size="19" text-anchor="end">1.5 × 10<tspan dy="-7" font-size="66%">6</tspan><tspan dy="7"></tspan></text>
<line x1="1219.2" y1="2627.4" x2="1219.2" y2="2635.6" stroke="#3a3637" stroke-width="1.2"/>
<text transform="translate(1219.2 2670.6) scale(0.937 1)" font-size="19" text-anchor="middle">DMSO</text>
<line x1="1278.4" y1="2627.4" x2="1278.4" y2="2635.6" stroke="#3a3637" stroke-width="1.2"/>
<text transform="translate(1278.4 2670.6) scale(1.041 1)" font-size="19" text-anchor="middle">0.001</text>
<line x1="1337.5" y1="2627.4" x2="1337.5" y2="2635.6" stroke="#3a3637" stroke-width="1.2"/>
<text transform="translate(1337.5 2670.6) scale(1.014 1)" font-size="19" text-anchor="middle">0.01</text>
<line x1="1396.7" y1="2627.4" x2="1396.7" y2="2635.6" stroke="#3a3637" stroke-width="1.2"/>
<text transform="translate(1396.7 2670.6) scale(0.946 1)" font-size="19" text-anchor="middle">0.1</text>
<line x1="1455.8" y1="2627.4" x2="1455.8" y2="2635.6" stroke="#3a3637" stroke-width="1.2"/>
<text transform="translate(1455.8 2670.6) scale(0.946 1)" font-size="19" text-anchor="middle">1.0</text>
<line x1="1515.0" y1="2627.4" x2="1515.0" y2="2635.6" stroke="#3a3637" stroke-width="1.2"/>
<text transform="translate(1515.0 2670.6) scale(1.014 1)" font-size="19" text-anchor="middle">10.0</text>
<circle cx="1219.2" cy="2464.4" r="5.1" fill="#231f20"/>
<circle cx="1219.2" cy="2502.0" r="5.1" fill="#231f20"/>
<circle cx="1269.8" cy="2466.5" r="5.1" fill="#231f20"/>
<circle cx="1287.0" cy="2465.1" r="5.1" fill="#231f20"/>
<circle cx="1328.8" cy="2477.4" r="5.1" fill="#231f20"/>
<circle cx="1346.0" cy="2472.8" r="5.1" fill="#231f20"/>
<circle cx="1396.6" cy="2441.9" r="5.1" fill="#231f20"/>
<circle cx="1396.6" cy="2471.4" r="5.1" fill="#231f20"/>
<circle cx="1447.2" cy="2536.8" r="5.1" fill="#231f20"/>
<circle cx="1464.4" cy="2529.7" r="5.1" fill="#231f20"/>
<circle cx="1506.2" cy="2620.7" r="5.1" fill="#231f20"/>
<circle cx="1523.4" cy="2618.6" r="5.1" fill="#231f20"/>
<text transform="translate(1366.0 2353.4) scale(1.052 1)" font-size="26" text-anchor="middle">Ispinesib, EG5</text>
<text transform="translate(1372.4 2708.5) scale(1.028 1)" font-size="23" text-anchor="middle">Ispinesib (μM)</text>
<text transform="translate(1036.2 2495.0) rotate(-90) scale(1.054 1)" font-size="23" text-anchor="middle">Total neurite area</text>
<text transform="translate(1065.7 2495.0) rotate(-90) scale(1.031 1)" font-size="23" text-anchor="middle">per neurosphere (μm<tspan dy="-8" font-size="62%">2</tspan><tspan dy="8">)</tspan></text>
<rect x="1781.7" y="2490.0" width="34.8" height="134.5" fill="#83aada"/>
<rect x="1840.9" y="2485.1" width="34.8" height="139.4" fill="#b0b2b4"/>
<rect x="1900.0" y="2503.0" width="34.8" height="121.5" fill="#b0b2b4"/>
<rect x="1959.2" y="2492.2" width="34.8" height="132.4" fill="#b0b2b4"/>
<rect x="2018.3" y="2474.9" width="34.8" height="149.6" fill="#b0b2b4"/>
<rect x="2077.5" y="2534.0" width="34.8" height="90.6" fill="#b0b2b4"/>
<line x1="1760.1" y1="2357.4" x2="1760.1" y2="2624.2" stroke="#3a3637" stroke-width="1.2"/>
<line x1="1752.0" y1="2624.2" x2="2136.0" y2="2624.2" stroke="#3a3637" stroke-width="1.2"/>
<line x1="1752.0" y1="2535.5" x2="1760.1" y2="2535.5" stroke="#3a3637" stroke-width="1.2"/>
<line x1="1752.0" y1="2446.7" x2="1760.1" y2="2446.7" stroke="#3a3637" stroke-width="1.2"/>
<line x1="1752.0" y1="2358.0" x2="1760.1" y2="2358.0" stroke="#3a3637" stroke-width="1.2"/>
<text transform="translate(1738.7 2629.2) scale(1.088 1)" font-size="19" text-anchor="end">0</text>
<text transform="translate(1738.7 2545.5) scale(0.923 1)" font-size="19" text-anchor="end">5 × 10<tspan dy="-7" font-size="66%">5</tspan><tspan dy="7"></tspan></text>
<text transform="translate(1738.7 2457.0) scale(0.891 1)" font-size="19" text-anchor="end">1 × 10<tspan dy="-7" font-size="66%">6</tspan><tspan dy="7"></tspan></text>
<text transform="translate(1738.7 2369.2) scale(0.940 1)" font-size="19" text-anchor="end">1.5 × 10<tspan dy="-7" font-size="66%">6</tspan><tspan dy="7"></tspan></text>
<line x1="1799.1" y1="2624.2" x2="1799.1" y2="2632.4" stroke="#3a3637" stroke-width="1.2"/>
<text transform="translate(1799.1 2670.6) scale(0.937 1)" font-size="19" text-anchor="middle">DMSO</text>
<line x1="1858.3" y1="2624.2" x2="1858.3" y2="2632.4" stroke="#3a3637" stroke-width="1.2"/>
<text transform="translate(1858.3 2670.6) scale(1.041 1)" font-size="19" text-anchor="middle">0.001</text>
<line x1="1917.4" y1="2624.2" x2="1917.4" y2="2632.4" stroke="#3a3637" stroke-width="1.2"/>
<text transform="translate(1917.4 2670.6) scale(1.014 1)" font-size="19" text-anchor="middle">0.01</text>
<line x1="1976.6" y1="2624.2" x2="1976.6" y2="2632.4" stroke="#3a3637" stroke-width="1.2"/>
<text transform="translate(1976.6 2670.6) scale(0.946 1)" font-size="19" text-anchor="middle">0.1</text>
<line x1="2035.7" y1="2624.2" x2="2035.7" y2="2632.4" stroke="#3a3637" stroke-width="1.2"/>
<text transform="translate(2035.7 2670.6) scale(0.946 1)" font-size="19" text-anchor="middle">1.0</text>
<line x1="2094.9" y1="2624.2" x2="2094.9" y2="2632.4" stroke="#3a3637" stroke-width="1.2"/>
<text transform="translate(2094.9 2670.6) scale(1.014 1)" font-size="19" text-anchor="middle">10.0</text>
<circle cx="1799.1" cy="2482.3" r="5.1" fill="#231f20"/>
<circle cx="1799.1" cy="2492.9" r="5.1" fill="#231f20"/>
<circle cx="1858.5" cy="2472.8" r="5.1" fill="#231f20"/>
<circle cx="1858.5" cy="2492.9" r="5.1" fill="#231f20"/>
<circle cx="1917.5" cy="2495.3" r="5.1" fill="#231f20"/>
<circle cx="1917.5" cy="2506.6" r="5.1" fill="#231f20"/>
<circle cx="1976.9" cy="2471.8" r="5.1" fill="#231f20"/>
<circle cx="1976.9" cy="2508.3" r="5.1" fill="#231f20"/>
<circle cx="2035.9" cy="2462.6" r="5.1" fill="#231f20"/>
<circle cx="2035.9" cy="2483.4" r="5.1" fill="#231f20"/>
<circle cx="2086.5" cy="2535.0" r="5.1" fill="#231f20"/>
<circle cx="2103.7" cy="2527.6" r="5.1" fill="#231f20"/>
<text transform="translate(1944.2 2353.4) scale(1.045 1)" font-size="26" text-anchor="middle">AM-5308, KIF18A</text>
<text transform="translate(1951.6 2706.1) scale(1.037 1)" font-size="23" text-anchor="middle">AM-5308 (μM)</text>
<text transform="translate(1616.8 2495.0) rotate(-90) scale(1.054 1)" font-size="23" text-anchor="middle">Total neurite area</text>
<text transform="translate(1646.3 2495.0) rotate(-90) scale(1.031 1)" font-size="23" text-anchor="middle">per neurosphere (μm<tspan dy="-8" font-size="62%">2</tspan><tspan dy="8">)</tspan></text>
</svg>
</body></html>
